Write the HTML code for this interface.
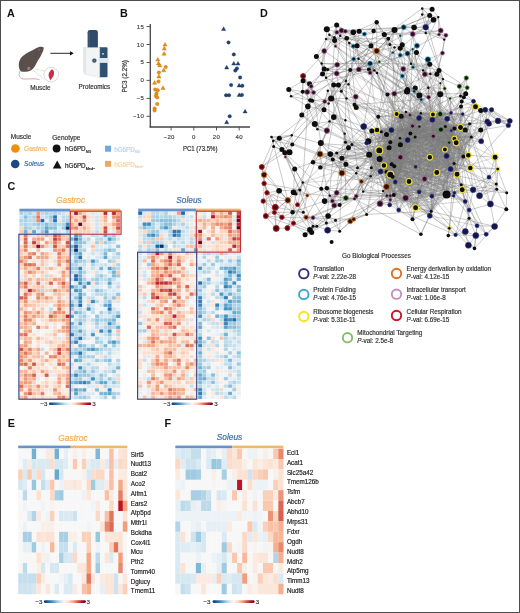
<!DOCTYPE html><html><head><meta charset="utf-8"><style>html,body{margin:0;padding:0;background:#fff;}svg{display:block;filter:blur(0.3px);}</style></head><body>
<svg width="520" height="613" viewBox="0 0 520 613" font-family='"Liberation Sans", sans-serif'>
<defs>
<linearGradient id="cb" x1="0" x2="1" y1="0" y2="0">
<stop offset="0.00" stop-color="#053061"/>
<stop offset="0.10" stop-color="#2166ac"/>
<stop offset="0.20" stop-color="#4393c3"/>
<stop offset="0.30" stop-color="#92c5de"/>
<stop offset="0.40" stop-color="#d1e5f0"/>
<stop offset="0.50" stop-color="#f7f7f7"/>
<stop offset="0.60" stop-color="#fddbc7"/>
<stop offset="0.70" stop-color="#f4a582"/>
<stop offset="0.80" stop-color="#d6604d"/>
<stop offset="0.90" stop-color="#b2182b"/>
<stop offset="1.00" stop-color="#67001f"/>
</linearGradient>
</defs>
<rect x="0" y="0" width="520" height="613" fill="#fff"/>
<text x="7" y="17" font-size="10.8" fill="#111" font-weight="bold" font-style="normal" text-anchor="start" >A</text>
<text x="120" y="17" font-size="10.8" fill="#111" font-weight="bold" font-style="normal" text-anchor="start" >B</text>
<text x="7.4" y="189.5" font-size="10.8" fill="#111" font-weight="bold" font-style="normal" text-anchor="start" >C</text>
<text x="260" y="17" font-size="10.8" fill="#111" font-weight="bold" font-style="normal" text-anchor="start" >D</text>
<text x="7.7" y="426.6" font-size="10.8" fill="#111" font-weight="bold" font-style="normal" text-anchor="start" >E</text>
<text x="164.6" y="426.6" font-size="10.8" fill="#111" font-weight="bold" font-style="normal" text-anchor="start" >F</text>
<path d="M20,71 C18.6,74 19,77 21.7,78.7 C25,79.5 29,78.8 31.8,78.8 C35,78.8 37.5,79 39.5,79.6" fill="none" stroke="#c99098" stroke-width="0.8"/>
<path d="M33.2,70.3 L44.5,79.5 M34.5,69 L45,71" stroke="#c8c8c8" stroke-width="0.5" fill="none"/>
<path d="M43.8,47.6 C42.5,46.2 39.5,46.3 36.5,48 C32,50.5 26.5,53 22.8,56 C19.8,58.5 18.6,62 18.8,65.5 C19,68.5 19.6,70.6 21.2,71.4 C24,72.2 28.5,71.6 31.2,70.2 C33.4,69 34.8,66.8 36.3,63.6 C37.8,60.6 39.6,58.2 41,55.6 C42.4,53 43.5,50.6 43.8,47.6 Z" fill="#5b4f4b"/>
<path d="M39.2,48.2 C38.2,49.2 38,50.6 38.8,51.4 C39.8,51 40.4,49.8 39.2,48.2 Z" fill="#7a6a66"/>
<circle cx="28.8" cy="68.4" r="1.7" fill="#9a7d82"/>
<circle cx="41" cy="53.8" r="0.7" fill="#8a7a78"/>
<circle cx="51.2" cy="74.6" r="7.3" fill="#fff" stroke="#cfc8c8" stroke-width="0.7"/>
<path d="M52,69.2 C54,70 54.6,73 53.6,75.6 C52.6,77.8 51.2,79 50.3,80.6 C49.8,78.2 48.2,76.6 48.6,74.2 C49,72 50.4,70.4 52,69.2 Z" fill="#cc2a46"/>
<text x="30.2" y="90" font-size="6.4" fill="#333" stroke="#333" stroke-width="0.18" font-weight="normal" font-style="normal" text-anchor="start" >Muscle</text>
<line x1="50.4" y1="53.3" x2="71" y2="53.3" stroke="#111" stroke-width="0.9"/>
<path d="M70,51.2 L73.8,53.3 L70,55.4 Z" fill="#111"/>
<path d="M87.6,32.2 Q87.6,30.1 90,30.1 L95.6,30.1 Q97.9,30.1 97.9,32.2 L97.9,48.2 L87.6,48.2 Z" fill="#2f4b6b"/>
<rect x="88.6" y="31.5" width="1.2" height="16" fill="#4a6686" opacity="0.6"/>
<path d="M99.2,47.2 L106.5,47.2 Q107.5,47.2 107.5,48.2 L107.5,76.2 Q107.5,77.2 106.5,77.2 L99.2,77.2 Z" fill="#2f5272"/>
<path d="M83.6,47.6 L99.7,47.6 L99.7,77.2 L86,74.4 Q83.6,73.8 83.6,71.6 Z" fill="#f3f4f6" stroke="#cfd3d8" stroke-width="0.4"/>
<path d="M83.6,47.6 L86,47.6 L86,74.4 Q83.6,73.8 83.6,71.6 Z" fill="#e2e5e9"/>
<rect x="99.3" y="58" width="9.4" height="4.9" fill="#e4e7ec"/>
<rect x="102" y="53.2" width="2" height="1.3" fill="#d8dde3"/>
<circle cx="94.3" cy="60.6" r="2.2" fill="#3c4c5e" stroke="#9fb0c0" stroke-width="0.5"/>
<circle cx="94.3" cy="60.6" r="0.8" fill="#6f8196"/>
<text x="78.6" y="89.3" font-size="6.3" fill="#333" stroke="#333" stroke-width="0.18" font-weight="normal" font-style="normal" text-anchor="start" >Proteomics</text>
<line x1="150.3" y1="24" x2="150.3" y2="127.6" stroke="#444" stroke-width="1.3"/>
<line x1="149.7" y1="127" x2="250" y2="127" stroke="#444" stroke-width="1.3"/>
<line x1="146.5" y1="26.6" x2="150" y2="26.6" stroke="#444" stroke-width="0.9"/>
<text x="144" y="28.55000000000001" font-size="6.0" fill="#444" stroke="#444" stroke-width="0.18" font-weight="normal" font-style="normal" text-anchor="end" letter-spacing="0.25">15</text>
<line x1="146.5" y1="44.5" x2="150" y2="44.5" stroke="#444" stroke-width="0.9"/>
<text x="144" y="46.50000000000001" font-size="6.0" fill="#444" stroke="#444" stroke-width="0.18" font-weight="normal" font-style="normal" text-anchor="end" letter-spacing="0.25">10</text>
<line x1="146.5" y1="62.5" x2="150" y2="62.5" stroke="#444" stroke-width="0.9"/>
<text x="144" y="64.45" font-size="6.0" fill="#444" stroke="#444" stroke-width="0.18" font-weight="normal" font-style="normal" text-anchor="end" letter-spacing="0.25">5</text>
<line x1="146.5" y1="80.4" x2="150" y2="80.4" stroke="#444" stroke-width="0.9"/>
<text x="144" y="82.4" font-size="6.0" fill="#444" stroke="#444" stroke-width="0.18" font-weight="normal" font-style="normal" text-anchor="end" letter-spacing="0.25">0</text>
<line x1="146.5" y1="98.4" x2="150" y2="98.4" stroke="#444" stroke-width="0.9"/>
<text x="144" y="100.35000000000001" font-size="6.0" fill="#444" stroke="#444" stroke-width="0.18" font-weight="normal" font-style="normal" text-anchor="end" letter-spacing="0.25">&#8722;5</text>
<line x1="146.5" y1="116.3" x2="150" y2="116.3" stroke="#444" stroke-width="0.9"/>
<text x="144" y="118.30000000000001" font-size="6.0" fill="#444" stroke="#444" stroke-width="0.18" font-weight="normal" font-style="normal" text-anchor="end" letter-spacing="0.25">&#8722;10</text>
<line x1="171.1" y1="127" x2="171.1" y2="130.4" stroke="#444" stroke-width="0.9"/>
<text x="174.65000000000003" y="139.3" font-size="6.0" fill="#444" stroke="#444" stroke-width="0.18" font-weight="normal" font-style="normal" text-anchor="end" letter-spacing="0.25">&#8722;20</text>
<line x1="193.8" y1="127" x2="193.8" y2="130.4" stroke="#444" stroke-width="0.9"/>
<text x="195.57500000000002" y="139.3" font-size="6.0" fill="#444" stroke="#444" stroke-width="0.18" font-weight="normal" font-style="normal" text-anchor="end" letter-spacing="0.25">0</text>
<line x1="216.5" y1="127" x2="216.5" y2="130.4" stroke="#444" stroke-width="0.9"/>
<text x="220.05" y="139.3" font-size="6.0" fill="#444" stroke="#444" stroke-width="0.18" font-weight="normal" font-style="normal" text-anchor="end" letter-spacing="0.25">20</text>
<line x1="239.2" y1="127" x2="239.2" y2="130.4" stroke="#444" stroke-width="0.9"/>
<text x="242.75000000000003" y="139.3" font-size="6.0" fill="#444" stroke="#444" stroke-width="0.18" font-weight="normal" font-style="normal" text-anchor="end" letter-spacing="0.25">40</text>
<text x="0" y="0" font-size="7.3" fill="#333" stroke="#333" stroke-width="0.2" transform="translate(182.9,151.1) scale(0.83,1)">PC1 (73.5%)</text>
<text x="0" y="0" font-size="7.3" fill="#333" stroke="#333" stroke-width="0.2" text-anchor="middle" transform="translate(126.9,76.4) rotate(-90) scale(0.86,1)">PC3 (2.2%)</text>
<path d="M162.90,46.10 L167.10,46.10 L165.00,42.40 Z" fill="#ec8f0e" stroke="#b86a10" stroke-width="0.35"/>
<path d="M162.20,50.00 L166.40,50.00 L164.30,46.30 Z" fill="#ec8f0e" stroke="#b86a10" stroke-width="0.35"/>
<path d="M162.00,55.20 L166.20,55.20 L164.10,51.50 Z" fill="#ec8f0e" stroke="#b86a10" stroke-width="0.35"/>
<path d="M155.70,61.10 L159.90,61.10 L157.80,57.40 Z" fill="#ec8f0e" stroke="#b86a10" stroke-width="0.35"/>
<path d="M156.40,65.00 L160.60,65.00 L158.50,61.30 Z" fill="#ec8f0e" stroke="#b86a10" stroke-width="0.35"/>
<path d="M157.70,66.90 L161.90,66.90 L159.80,63.20 Z" fill="#ec8f0e" stroke="#b86a10" stroke-width="0.35"/>
<circle cx="165.7" cy="67.1" r="1.75" fill="#ec8f0e" stroke="#b86a10" stroke-width="0.35"/>
<path d="M161.60,71.80 L165.80,71.80 L163.70,68.10 Z" fill="#ec8f0e" stroke="#b86a10" stroke-width="0.35"/>
<circle cx="158.9" cy="72.6" r="1.75" fill="#ec8f0e" stroke="#b86a10" stroke-width="0.35"/>
<path d="M156.80,78.00 L161.00,78.00 L158.90,74.30 Z" fill="#ec8f0e" stroke="#b86a10" stroke-width="0.35"/>
<circle cx="158.5" cy="81.5" r="1.75" fill="#ec8f0e" stroke="#b86a10" stroke-width="0.35"/>
<path d="M152.50,84.30 L156.70,84.30 L154.60,80.60 Z" fill="#ec8f0e" stroke="#b86a10" stroke-width="0.35"/>
<path d="M160.90,89.50 L165.10,89.50 L163.00,85.80 Z" fill="#ec8f0e" stroke="#b86a10" stroke-width="0.35"/>
<circle cx="155.2" cy="89.6" r="1.75" fill="#ec8f0e" stroke="#b86a10" stroke-width="0.35"/>
<circle cx="157.8" cy="90.2" r="1.75" fill="#ec8f0e" stroke="#b86a10" stroke-width="0.35"/>
<circle cx="156.5" cy="93.5" r="1.75" fill="#ec8f0e" stroke="#b86a10" stroke-width="0.35"/>
<circle cx="155.9" cy="96.0" r="1.75" fill="#ec8f0e" stroke="#b86a10" stroke-width="0.35"/>
<circle cx="157.2" cy="97.4" r="1.75" fill="#ec8f0e" stroke="#b86a10" stroke-width="0.35"/>
<circle cx="157.2" cy="104.0" r="1.75" fill="#ec8f0e" stroke="#b86a10" stroke-width="0.35"/>
<circle cx="154.6" cy="108.5" r="1.75" fill="#ec8f0e" stroke="#b86a10" stroke-width="0.35"/>
<circle cx="154.6" cy="110.4" r="1.75" fill="#ec8f0e" stroke="#b86a10" stroke-width="0.35"/>
<path d="M221.50,30.50 L225.70,30.50 L223.60,26.80 Z" fill="#1d4577" stroke="#10284a" stroke-width="0.35"/>
<circle cx="228.5" cy="42.4" r="1.75" fill="#1d4577" stroke="#10284a" stroke-width="0.35"/>
<circle cx="233.8" cy="54.4" r="1.75" fill="#1d4577" stroke="#10284a" stroke-width="0.35"/>
<path d="M231.70,65.10 L235.90,65.10 L233.80,61.40 Z" fill="#1d4577" stroke="#10284a" stroke-width="0.35"/>
<path d="M235.90,65.10 L240.10,65.10 L238.00,61.40 Z" fill="#1d4577" stroke="#10284a" stroke-width="0.35"/>
<path d="M224.60,69.00 L228.80,69.00 L226.70,65.30 Z" fill="#1d4577" stroke="#10284a" stroke-width="0.35"/>
<circle cx="236.9" cy="68.4" r="1.75" fill="#1d4577" stroke="#10284a" stroke-width="0.35"/>
<circle cx="235.3" cy="70.6" r="1.75" fill="#1d4577" stroke="#10284a" stroke-width="0.35"/>
<circle cx="240.1" cy="77.4" r="1.75" fill="#1d4577" stroke="#10284a" stroke-width="0.35"/>
<circle cx="231.1" cy="85.1" r="1.75" fill="#1d4577" stroke="#10284a" stroke-width="0.35"/>
<path d="M237.10,87.00 L241.30,87.00 L239.20,83.30 Z" fill="#1d4577" stroke="#10284a" stroke-width="0.35"/>
<circle cx="242.3" cy="85.8" r="1.75" fill="#1d4577" stroke="#10284a" stroke-width="0.35"/>
<circle cx="226.1" cy="95.3" r="1.75" fill="#1d4577" stroke="#10284a" stroke-width="0.35"/>
<circle cx="229.0" cy="95.3" r="1.75" fill="#1d4577" stroke="#10284a" stroke-width="0.35"/>
<path d="M237.10,96.50 L241.30,96.50 L239.20,92.80 Z" fill="#1d4577" stroke="#10284a" stroke-width="0.35"/>
<circle cx="241.9" cy="95.0" r="1.75" fill="#1d4577" stroke="#10284a" stroke-width="0.35"/>
<path d="M243.00,113.00 L247.20,113.00 L245.10,109.30 Z" fill="#1d4577" stroke="#10284a" stroke-width="0.35"/>
<circle cx="229.7" cy="116.3" r="1.75" fill="#1d4577" stroke="#10284a" stroke-width="0.35"/>
<path d="M224.60,123.70 L228.80,123.70 L226.70,120.00 Z" fill="#1d4577" stroke="#10284a" stroke-width="0.35"/>
<text x="10.8" y="139.2" font-size="6.5" fill="#333" stroke="#333" stroke-width="0.18" font-weight="normal" font-style="normal" text-anchor="start" >Muscle</text>
<text x="52.3" y="139.5" font-size="6.5" fill="#333" stroke="#333" stroke-width="0.18" font-weight="normal" font-style="normal" text-anchor="start" >Genotype</text>
<circle cx="15.4" cy="148.5" r="4.3" fill="#f0900a"/>
<text x="24" y="150.8" font-size="6.6" fill="#f3b462" stroke="#f3b462" stroke-width="0.18" font-weight="normal" font-style="italic" text-anchor="start" >Gastroc</text>
<circle cx="15.2" cy="164" r="4.3" fill="#1b4a84"/>
<text x="24" y="165.9" font-size="6.6" fill="#3b6aa3" stroke="#3b6aa3" stroke-width="0.18" font-weight="normal" font-style="italic" text-anchor="start" >Soleus</text>
<circle cx="56.6" cy="148.5" r="3.9" fill="#111"/>
<path d="M52.8,168.5 L61.6,168.5 L57.2,160.6 Z" fill="#111"/>
<text x="65" y="150.8" font-size="6.3" fill="#222" stroke="#222" stroke-width="0.18">hG6PD<tspan font-size="3.8" dy="1.8">ND</tspan></text>
<text x="65" y="167.7" font-size="6.3" fill="#222" stroke="#222" stroke-width="0.18">hG6PD<tspan font-size="3.8" dy="1.8">Med&#8722;</tspan></text>
<rect x="105" y="145.7" width="6.1" height="6" fill="#6fa8dc"/>
<text x="114.2" y="151.5" font-size="6.3" fill="#b9d1ea" stroke="#b9d1ea" stroke-width="0.18">hG6PD<tspan font-size="3.8" dy="1.8">ND</tspan></text>
<rect x="105" y="160.9" width="6.1" height="5.9" fill="#efa862"/>
<text x="114.2" y="166.6" font-size="6.3" fill="#f6d29c" stroke="#f6d29c" stroke-width="0.18">hG6PD<tspan font-size="3.8" dy="1.8">Med&#8722;</tspan></text>
<style>.h1{width:4.26px;height:3.74px}</style>
<rect class="h1" x="19.4" y="211.5" fill="#abd2e5"/>
<rect class="h1" x="23.6" y="211.5" fill="#bcdaea"/>
<rect class="h1" x="27.8" y="211.5" fill="#abd2e5"/>
<rect class="h1" x="32.0" y="211.5" fill="#cde3ef"/>
<rect class="h1" x="36.2" y="211.5" fill="#f09c7b"/>
<rect class="h1" x="40.4" y="211.5" fill="#bcdaea"/>
<rect class="h1" x="44.6" y="211.5" fill="#abd2e5"/>
<rect class="h1" x="48.8" y="211.5" fill="#bcdaea"/>
<rect class="h1" x="53.0" y="211.5" fill="#abd2e5"/>
<rect class="h1" x="57.2" y="211.5" fill="#bcdaea"/>
<rect class="h1" x="61.4" y="211.5" fill="#cde3ef"/>
<rect class="h1" x="65.6" y="211.5" fill="#fce1d1"/>
<rect class="h1" x="69.8" y="211.5" fill="#fddbc7"/>
<rect class="h1" x="74.0" y="211.5" fill="#b2182b"/>
<rect class="h1" x="78.2" y="211.5" fill="#f4a582"/>
<rect class="h1" x="82.4" y="211.5" fill="#fbceb6"/>
<rect class="h1" x="86.6" y="211.5" fill="#fae9df"/>
<rect class="h1" x="90.8" y="211.5" fill="#daeaf2"/>
<rect class="h1" x="95.0" y="211.5" fill="#e4eef4"/>
<rect class="h1" x="99.2" y="211.5" fill="#fce2d3"/>
<rect class="h1" x="103.4" y="211.5" fill="#bb2a34"/>
<rect class="h1" x="107.6" y="211.5" fill="#f7f7f7"/>
<rect class="h1" x="111.8" y="211.5" fill="#bb2a34"/>
<rect class="h1" x="116.0" y="211.5" fill="#f4a582"/>
<rect class="h1" x="19.4" y="215.2" fill="#cde3ef"/>
<rect class="h1" x="23.6" y="215.2" fill="#87beda"/>
<rect class="h1" x="27.8" y="215.2" fill="#bcdaea"/>
<rect class="h1" x="32.0" y="215.2" fill="#abd2e5"/>
<rect class="h1" x="36.2" y="215.2" fill="#e0775f"/>
<rect class="h1" x="40.4" y="215.2" fill="#cde3ef"/>
<rect class="h1" x="44.6" y="215.2" fill="#bcdaea"/>
<rect class="h1" x="48.8" y="215.2" fill="#9ac9e0"/>
<rect class="h1" x="53.0" y="215.2" fill="#2a72b2"/>
<rect class="h1" x="57.2" y="215.2" fill="#e3edf3"/>
<rect class="h1" x="61.4" y="215.2" fill="#bcdaea"/>
<rect class="h1" x="65.6" y="215.2" fill="#bcdaea"/>
<rect class="h1" x="69.8" y="215.2" fill="#f6b393"/>
<rect class="h1" x="74.0" y="215.2" fill="#fbceb6"/>
<rect class="h1" x="78.2" y="215.2" fill="#fbceb6"/>
<rect class="h1" x="82.4" y="215.2" fill="#cd4e44"/>
<rect class="h1" x="86.6" y="215.2" fill="#fddbc7"/>
<rect class="h1" x="90.8" y="215.2" fill="#fce2d3"/>
<rect class="h1" x="95.0" y="215.2" fill="#d1e5f0"/>
<rect class="h1" x="99.2" y="215.2" fill="#fddbc7"/>
<rect class="h1" x="103.4" y="215.2" fill="#f4a582"/>
<rect class="h1" x="107.6" y="215.2" fill="#f7f7f7"/>
<rect class="h1" x="111.8" y="215.2" fill="#ec9475"/>
<rect class="h1" x="116.0" y="215.2" fill="#e58268"/>
<rect class="h1" x="19.4" y="218.9" fill="#abd2e5"/>
<rect class="h1" x="23.6" y="218.9" fill="#abd2e5"/>
<rect class="h1" x="27.8" y="218.9" fill="#bcdaea"/>
<rect class="h1" x="32.0" y="218.9" fill="#bcdaea"/>
<rect class="h1" x="36.2" y="218.9" fill="#e8896d"/>
<rect class="h1" x="40.4" y="218.9" fill="#2166ac"/>
<rect class="h1" x="44.6" y="218.9" fill="#e3edf3"/>
<rect class="h1" x="48.8" y="218.9" fill="#abd2e5"/>
<rect class="h1" x="53.0" y="218.9" fill="#2a72b2"/>
<rect class="h1" x="57.2" y="218.9" fill="#fce1d1"/>
<rect class="h1" x="61.4" y="218.9" fill="#bcdaea"/>
<rect class="h1" x="65.6" y="218.9" fill="#abd2e5"/>
<rect class="h1" x="69.8" y="218.9" fill="#fddbc7"/>
<rect class="h1" x="74.0" y="218.9" fill="#f4a582"/>
<rect class="h1" x="78.2" y="218.9" fill="#fbceb6"/>
<rect class="h1" x="82.4" y="218.9" fill="#ec9475"/>
<rect class="h1" x="86.6" y="218.9" fill="#fce2d3"/>
<rect class="h1" x="90.8" y="218.9" fill="#e4eef4"/>
<rect class="h1" x="95.0" y="218.9" fill="#d1e5f0"/>
<rect class="h1" x="99.2" y="218.9" fill="#fddbc7"/>
<rect class="h1" x="103.4" y="218.9" fill="#f6b393"/>
<rect class="h1" x="107.6" y="218.9" fill="#f7f7f7"/>
<rect class="h1" x="111.8" y="218.9" fill="#fbceb6"/>
<rect class="h1" x="116.0" y="218.9" fill="#de715a"/>
<rect class="h1" x="19.4" y="222.5" fill="#bcdaea"/>
<rect class="h1" x="23.6" y="222.5" fill="#abd2e5"/>
<rect class="h1" x="27.8" y="222.5" fill="#bcdaea"/>
<rect class="h1" x="32.0" y="222.5" fill="#abd2e5"/>
<rect class="h1" x="36.2" y="222.5" fill="#9ac9e0"/>
<rect class="h1" x="40.4" y="222.5" fill="#abd2e5"/>
<rect class="h1" x="44.6" y="222.5" fill="#87beda"/>
<rect class="h1" x="48.8" y="222.5" fill="#abd2e5"/>
<rect class="h1" x="53.0" y="222.5" fill="#9ac9e0"/>
<rect class="h1" x="57.2" y="222.5" fill="#bcdaea"/>
<rect class="h1" x="61.4" y="222.5" fill="#abd2e5"/>
<rect class="h1" x="65.6" y="222.5" fill="#3c8abe"/>
<rect class="h1" x="69.8" y="222.5" fill="#f4a582"/>
<rect class="h1" x="74.0" y="222.5" fill="#fbceb6"/>
<rect class="h1" x="78.2" y="222.5" fill="#67001f"/>
<rect class="h1" x="82.4" y="222.5" fill="#fbceb6"/>
<rect class="h1" x="86.6" y="222.5" fill="#fddbc7"/>
<rect class="h1" x="90.8" y="222.5" fill="#fae9df"/>
<rect class="h1" x="95.0" y="222.5" fill="#d1e5f0"/>
<rect class="h1" x="99.2" y="222.5" fill="#fce2d3"/>
<rect class="h1" x="103.4" y="222.5" fill="#fbceb6"/>
<rect class="h1" x="107.6" y="222.5" fill="#fddbc7"/>
<rect class="h1" x="111.8" y="222.5" fill="#f4a582"/>
<rect class="h1" x="116.0" y="222.5" fill="#e58268"/>
<rect class="h1" x="19.4" y="226.2" fill="#fcd7c2"/>
<rect class="h1" x="23.6" y="226.2" fill="#9ac9e0"/>
<rect class="h1" x="27.8" y="226.2" fill="#abd2e5"/>
<rect class="h1" x="32.0" y="226.2" fill="#cde3ef"/>
<rect class="h1" x="36.2" y="226.2" fill="#abd2e5"/>
<rect class="h1" x="40.4" y="226.2" fill="#abd2e5"/>
<rect class="h1" x="44.6" y="226.2" fill="#5da4cc"/>
<rect class="h1" x="48.8" y="226.2" fill="#87beda"/>
<rect class="h1" x="53.0" y="226.2" fill="#87beda"/>
<rect class="h1" x="57.2" y="226.2" fill="#d9e9f1"/>
<rect class="h1" x="61.4" y="226.2" fill="#9ac9e0"/>
<rect class="h1" x="65.6" y="226.2" fill="#053061"/>
<rect class="h1" x="69.8" y="226.2" fill="#ec9475"/>
<rect class="h1" x="74.0" y="226.2" fill="#e58268"/>
<rect class="h1" x="78.2" y="226.2" fill="#fbceb6"/>
<rect class="h1" x="82.4" y="226.2" fill="#f4a582"/>
<rect class="h1" x="86.6" y="226.2" fill="#fbceb6"/>
<rect class="h1" x="90.8" y="226.2" fill="#fae9df"/>
<rect class="h1" x="95.0" y="226.2" fill="#d1e5f0"/>
<rect class="h1" x="99.2" y="226.2" fill="#fddbc7"/>
<rect class="h1" x="103.4" y="226.2" fill="#cd4e44"/>
<rect class="h1" x="107.6" y="226.2" fill="#fae9df"/>
<rect class="h1" x="111.8" y="226.2" fill="#fbceb6"/>
<rect class="h1" x="116.0" y="226.2" fill="#cd4e44"/>
<rect class="h1" x="19.4" y="229.9" fill="#fac9b0"/>
<rect class="h1" x="23.6" y="229.9" fill="#72b1d3"/>
<rect class="h1" x="27.8" y="229.9" fill="#fcd7c2"/>
<rect class="h1" x="32.0" y="229.9" fill="#5da4cc"/>
<rect class="h1" x="36.2" y="229.9" fill="#d9e9f1"/>
<rect class="h1" x="40.4" y="229.9" fill="#9ac9e0"/>
<rect class="h1" x="44.6" y="229.9" fill="#4896c5"/>
<rect class="h1" x="48.8" y="229.9" fill="#e3edf3"/>
<rect class="h1" x="53.0" y="229.9" fill="#bcdaea"/>
<rect class="h1" x="57.2" y="229.9" fill="#cde3ef"/>
<rect class="h1" x="61.4" y="229.9" fill="#e3edf3"/>
<rect class="h1" x="65.6" y="229.9" fill="#abd2e5"/>
<rect class="h1" x="69.8" y="229.9" fill="#fae9df"/>
<rect class="h1" x="74.0" y="229.9" fill="#fbceb6"/>
<rect class="h1" x="78.2" y="229.9" fill="#fbceb6"/>
<rect class="h1" x="82.4" y="229.9" fill="#fbceb6"/>
<rect class="h1" x="86.6" y="229.9" fill="#fbceb6"/>
<rect class="h1" x="90.8" y="229.9" fill="#daeaf2"/>
<rect class="h1" x="95.0" y="229.9" fill="#c1ddec"/>
<rect class="h1" x="99.2" y="229.9" fill="#fce2d3"/>
<rect class="h1" x="103.4" y="229.9" fill="#cd4e44"/>
<rect class="h1" x="107.6" y="229.9" fill="#f8f0eb"/>
<rect class="h1" x="111.8" y="229.9" fill="#daeaf2"/>
<rect class="h1" x="116.0" y="229.9" fill="#f4a582"/>
<rect class="h1" x="19.4" y="233.6" fill="#fce1d1"/>
<rect class="h1" x="23.6" y="233.6" fill="#e0775f"/>
<rect class="h1" x="27.8" y="233.6" fill="#fcd7c2"/>
<rect class="h1" x="32.0" y="233.6" fill="#d9e9f1"/>
<rect class="h1" x="36.2" y="233.6" fill="#fac9b0"/>
<rect class="h1" x="40.4" y="233.6" fill="#fac9b0"/>
<rect class="h1" x="44.6" y="233.6" fill="#f5ac8b"/>
<rect class="h1" x="48.8" y="233.6" fill="#fac9b0"/>
<rect class="h1" x="53.0" y="233.6" fill="#cf5246"/>
<rect class="h1" x="57.2" y="233.6" fill="#e0775f"/>
<rect class="h1" x="61.4" y="233.6" fill="#f8bb9e"/>
<rect class="h1" x="65.6" y="233.6" fill="#fac9b0"/>
<rect class="h1" x="69.8" y="233.6" fill="#e5eef4"/>
<rect class="h1" x="74.0" y="233.6" fill="#4796c4"/>
<rect class="h1" x="78.2" y="233.6" fill="#76b3d5"/>
<rect class="h1" x="82.4" y="233.6" fill="#e2edf3"/>
<rect class="h1" x="86.6" y="233.6" fill="#faeae0"/>
<rect class="h1" x="90.8" y="233.6" fill="#c0dceb"/>
<rect class="h1" x="95.0" y="233.6" fill="#c7e0ed"/>
<rect class="h1" x="99.2" y="233.6" fill="#dbeaf2"/>
<rect class="h1" x="103.4" y="233.6" fill="#61a6cd"/>
<rect class="h1" x="107.6" y="233.6" fill="#b8d8e9"/>
<rect class="h1" x="111.8" y="233.6" fill="#9ac9e0"/>
<rect class="h1" x="116.0" y="233.6" fill="#e1edf3"/>
<rect class="h1" x="19.4" y="237.3" fill="#fce1d1"/>
<rect class="h1" x="23.6" y="237.3" fill="#d86551"/>
<rect class="h1" x="27.8" y="237.3" fill="#f7f7f7"/>
<rect class="h1" x="32.0" y="237.3" fill="#f5ac8b"/>
<rect class="h1" x="36.2" y="237.3" fill="#f09c7b"/>
<rect class="h1" x="40.4" y="237.3" fill="#f09c7b"/>
<rect class="h1" x="44.6" y="237.3" fill="#f7f7f7"/>
<rect class="h1" x="48.8" y="237.3" fill="#fcd7c2"/>
<rect class="h1" x="53.0" y="237.3" fill="#c53e3d"/>
<rect class="h1" x="57.2" y="237.3" fill="#e0775f"/>
<rect class="h1" x="61.4" y="237.3" fill="#fac9b0"/>
<rect class="h1" x="65.6" y="237.3" fill="#f8bb9e"/>
<rect class="h1" x="69.8" y="237.3" fill="#7bb7d6"/>
<rect class="h1" x="74.0" y="237.3" fill="#1f63a7"/>
<rect class="h1" x="78.2" y="237.3" fill="#74b2d4"/>
<rect class="h1" x="82.4" y="237.3" fill="#d0e5f0"/>
<rect class="h1" x="86.6" y="237.3" fill="#b7d8e8"/>
<rect class="h1" x="90.8" y="237.3" fill="#f3f5f6"/>
<rect class="h1" x="95.0" y="237.3" fill="#bcdaea"/>
<rect class="h1" x="99.2" y="237.3" fill="#b3d6e8"/>
<rect class="h1" x="103.4" y="237.3" fill="#d8e8f1"/>
<rect class="h1" x="107.6" y="237.3" fill="#4f9ac7"/>
<rect class="h1" x="111.8" y="237.3" fill="#9ac9e0"/>
<rect class="h1" x="116.0" y="237.3" fill="#d3e6f0"/>
<rect class="h1" x="19.4" y="240.9" fill="#f7f7f7"/>
<rect class="h1" x="23.6" y="240.9" fill="#d86551"/>
<rect class="h1" x="27.8" y="240.9" fill="#d9e9f1"/>
<rect class="h1" x="32.0" y="240.9" fill="#c53e3d"/>
<rect class="h1" x="36.2" y="240.9" fill="#f8bb9e"/>
<rect class="h1" x="40.4" y="240.9" fill="#f7f7f7"/>
<rect class="h1" x="44.6" y="240.9" fill="#f09c7b"/>
<rect class="h1" x="48.8" y="240.9" fill="#fac9b0"/>
<rect class="h1" x="53.0" y="240.9" fill="#e0775f"/>
<rect class="h1" x="57.2" y="240.9" fill="#f8bb9e"/>
<rect class="h1" x="61.4" y="240.9" fill="#f7f7f7"/>
<rect class="h1" x="65.6" y="240.9" fill="#cf5246"/>
<rect class="h1" x="69.8" y="240.9" fill="#e5eff4"/>
<rect class="h1" x="74.0" y="240.9" fill="#72b1d3"/>
<rect class="h1" x="78.2" y="240.9" fill="#87beda"/>
<rect class="h1" x="82.4" y="240.9" fill="#9bcae1"/>
<rect class="h1" x="86.6" y="240.9" fill="#dfebf3"/>
<rect class="h1" x="90.8" y="240.9" fill="#fbe6da"/>
<rect class="h1" x="95.0" y="240.9" fill="#a4cee3"/>
<rect class="h1" x="99.2" y="240.9" fill="#fbcdb6"/>
<rect class="h1" x="103.4" y="240.9" fill="#9ccae1"/>
<rect class="h1" x="107.6" y="240.9" fill="#b8d8e9"/>
<rect class="h1" x="111.8" y="240.9" fill="#cbe2ee"/>
<rect class="h1" x="116.0" y="240.9" fill="#f7f6f6"/>
<rect class="h1" x="19.4" y="244.6" fill="#fcd7c2"/>
<rect class="h1" x="23.6" y="244.6" fill="#e0775f"/>
<rect class="h1" x="27.8" y="244.6" fill="#fcd7c2"/>
<rect class="h1" x="32.0" y="244.6" fill="#f8bb9e"/>
<rect class="h1" x="36.2" y="244.6" fill="#8a0b25"/>
<rect class="h1" x="40.4" y="244.6" fill="#e8896d"/>
<rect class="h1" x="44.6" y="244.6" fill="#fac9b0"/>
<rect class="h1" x="48.8" y="244.6" fill="#d9e9f1"/>
<rect class="h1" x="53.0" y="244.6" fill="#cf5246"/>
<rect class="h1" x="57.2" y="244.6" fill="#fac9b0"/>
<rect class="h1" x="61.4" y="244.6" fill="#fac9b0"/>
<rect class="h1" x="65.6" y="244.6" fill="#e0775f"/>
<rect class="h1" x="69.8" y="244.6" fill="#74b2d4"/>
<rect class="h1" x="74.0" y="244.6" fill="#1c5d9f"/>
<rect class="h1" x="78.2" y="244.6" fill="#9bc9e0"/>
<rect class="h1" x="82.4" y="244.6" fill="#e3eef3"/>
<rect class="h1" x="86.6" y="244.6" fill="#eaf1f5"/>
<rect class="h1" x="90.8" y="244.6" fill="#f9c0a5"/>
<rect class="h1" x="95.0" y="244.6" fill="#d5e7f1"/>
<rect class="h1" x="99.2" y="244.6" fill="#ddebf2"/>
<rect class="h1" x="103.4" y="244.6" fill="#e8f0f4"/>
<rect class="h1" x="107.6" y="244.6" fill="#cce2ef"/>
<rect class="h1" x="111.8" y="244.6" fill="#f9efea"/>
<rect class="h1" x="116.0" y="244.6" fill="#8ec2dd"/>
<rect class="h1" x="19.4" y="248.3" fill="#f9c4a9"/>
<rect class="h1" x="23.6" y="248.3" fill="#e7866a"/>
<rect class="h1" x="27.8" y="248.3" fill="#f9eee8"/>
<rect class="h1" x="32.0" y="248.3" fill="#f7f7f7"/>
<rect class="h1" x="36.2" y="248.3" fill="#f8bb9e"/>
<rect class="h1" x="40.4" y="248.3" fill="#f5f6f7"/>
<rect class="h1" x="44.6" y="248.3" fill="#f3f5f6"/>
<rect class="h1" x="48.8" y="248.3" fill="#ebf1f5"/>
<rect class="h1" x="53.0" y="248.3" fill="#f09b7b"/>
<rect class="h1" x="57.2" y="248.3" fill="#f3a280"/>
<rect class="h1" x="61.4" y="248.3" fill="#e17960"/>
<rect class="h1" x="65.6" y="248.3" fill="#fce1d1"/>
<rect class="h1" x="69.8" y="248.3" fill="#acd2e5"/>
<rect class="h1" x="74.0" y="248.3" fill="#053061"/>
<rect class="h1" x="78.2" y="248.3" fill="#a7cfe4"/>
<rect class="h1" x="82.4" y="248.3" fill="#acd2e5"/>
<rect class="h1" x="86.6" y="248.3" fill="#f4f6f7"/>
<rect class="h1" x="90.8" y="248.3" fill="#fcd8c3"/>
<rect class="h1" x="95.0" y="248.3" fill="#cbe2ee"/>
<rect class="h1" x="99.2" y="248.3" fill="#c8e0ed"/>
<rect class="h1" x="103.4" y="248.3" fill="#a4cee3"/>
<rect class="h1" x="107.6" y="248.3" fill="#83bcd9"/>
<rect class="h1" x="111.8" y="248.3" fill="#9dcbe1"/>
<rect class="h1" x="116.0" y="248.3" fill="#eaf1f5"/>
<rect class="h1" x="19.4" y="252.0" fill="#fbcdb6"/>
<rect class="h1" x="23.6" y="252.0" fill="#fddcc9"/>
<rect class="h1" x="27.8" y="252.0" fill="#ed9676"/>
<rect class="h1" x="32.0" y="252.0" fill="#e37d64"/>
<rect class="h1" x="36.2" y="252.0" fill="#f9ede7"/>
<rect class="h1" x="40.4" y="252.0" fill="#f2a27f"/>
<rect class="h1" x="44.6" y="252.0" fill="#f8bc9f"/>
<rect class="h1" x="48.8" y="252.0" fill="#fce1d2"/>
<rect class="h1" x="53.0" y="252.0" fill="#e2edf3"/>
<rect class="h1" x="57.2" y="252.0" fill="#e27c63"/>
<rect class="h1" x="61.4" y="252.0" fill="#fac9b0"/>
<rect class="h1" x="65.6" y="252.0" fill="#fcd7c1"/>
<rect class="h1" x="69.8" y="252.0" fill="#c3deec"/>
<rect class="h1" x="74.0" y="252.0" fill="#83bcd9"/>
<rect class="h1" x="78.2" y="252.0" fill="#65a8ce"/>
<rect class="h1" x="82.4" y="252.0" fill="#e7f0f4"/>
<rect class="h1" x="86.6" y="252.0" fill="#e5eff4"/>
<rect class="h1" x="90.8" y="252.0" fill="#cee4ef"/>
<rect class="h1" x="95.0" y="252.0" fill="#e5eef4"/>
<rect class="h1" x="99.2" y="252.0" fill="#cde3ef"/>
<rect class="h1" x="103.4" y="252.0" fill="#7ab6d6"/>
<rect class="h1" x="107.6" y="252.0" fill="#f4f6f6"/>
<rect class="h1" x="111.8" y="252.0" fill="#d8e8f1"/>
<rect class="h1" x="116.0" y="252.0" fill="#9fcce2"/>
<rect class="h1" x="19.4" y="255.7" fill="#f8bc9f"/>
<rect class="h1" x="23.6" y="255.7" fill="#ec9374"/>
<rect class="h1" x="27.8" y="255.7" fill="#db6c56"/>
<rect class="h1" x="32.0" y="255.7" fill="#f9ece4"/>
<rect class="h1" x="36.2" y="255.7" fill="#f3a380"/>
<rect class="h1" x="40.4" y="255.7" fill="#f4a683"/>
<rect class="h1" x="44.6" y="255.7" fill="#f4a785"/>
<rect class="h1" x="48.8" y="255.7" fill="#fce2d2"/>
<rect class="h1" x="53.0" y="255.7" fill="#faeae1"/>
<rect class="h1" x="57.2" y="255.7" fill="#ec9374"/>
<rect class="h1" x="61.4" y="255.7" fill="#f8bfa4"/>
<rect class="h1" x="65.6" y="255.7" fill="#f7b698"/>
<rect class="h1" x="69.8" y="255.7" fill="#edf2f5"/>
<rect class="h1" x="74.0" y="255.7" fill="#96c7df"/>
<rect class="h1" x="78.2" y="255.7" fill="#266daf"/>
<rect class="h1" x="82.4" y="255.7" fill="#f8f1ec"/>
<rect class="h1" x="86.6" y="255.7" fill="#e0ecf3"/>
<rect class="h1" x="90.8" y="255.7" fill="#f3f5f6"/>
<rect class="h1" x="95.0" y="255.7" fill="#d5e7f1"/>
<rect class="h1" x="99.2" y="255.7" fill="#cee3ef"/>
<rect class="h1" x="103.4" y="255.7" fill="#5da4cc"/>
<rect class="h1" x="107.6" y="255.7" fill="#e3eef3"/>
<rect class="h1" x="111.8" y="255.7" fill="#c3deec"/>
<rect class="h1" x="116.0" y="255.7" fill="#c6dfed"/>
<rect class="h1" x="19.4" y="259.3" fill="#e7876b"/>
<rect class="h1" x="23.6" y="259.3" fill="#f7b597"/>
<rect class="h1" x="27.8" y="259.3" fill="#eaf1f5"/>
<rect class="h1" x="32.0" y="259.3" fill="#fdddca"/>
<rect class="h1" x="36.2" y="259.3" fill="#e5eff4"/>
<rect class="h1" x="40.4" y="259.3" fill="#f9c4a9"/>
<rect class="h1" x="44.6" y="259.3" fill="#fddac6"/>
<rect class="h1" x="48.8" y="259.3" fill="#f9ece3"/>
<rect class="h1" x="53.0" y="259.3" fill="#fcd7c2"/>
<rect class="h1" x="57.2" y="259.3" fill="#f19d7c"/>
<rect class="h1" x="61.4" y="259.3" fill="#f9c1a6"/>
<rect class="h1" x="65.6" y="259.3" fill="#df755d"/>
<rect class="h1" x="69.8" y="259.3" fill="#d4e6f1"/>
<rect class="h1" x="74.0" y="259.3" fill="#84bcd9"/>
<rect class="h1" x="78.2" y="259.3" fill="#9fcbe2"/>
<rect class="h1" x="82.4" y="259.3" fill="#acd2e5"/>
<rect class="h1" x="86.6" y="259.3" fill="#d3e6f0"/>
<rect class="h1" x="90.8" y="259.3" fill="#4d99c6"/>
<rect class="h1" x="95.0" y="259.3" fill="#b3d6e8"/>
<rect class="h1" x="99.2" y="259.3" fill="#ecf2f5"/>
<rect class="h1" x="103.4" y="259.3" fill="#f6f7f7"/>
<rect class="h1" x="107.6" y="259.3" fill="#a2cde2"/>
<rect class="h1" x="111.8" y="259.3" fill="#bad9e9"/>
<rect class="h1" x="116.0" y="259.3" fill="#fae8dd"/>
<rect class="h1" x="19.4" y="263.0" fill="#fbd0b9"/>
<rect class="h1" x="23.6" y="263.0" fill="#dc6f58"/>
<rect class="h1" x="27.8" y="263.0" fill="#db6c56"/>
<rect class="h1" x="32.0" y="263.0" fill="#e27c63"/>
<rect class="h1" x="36.2" y="263.0" fill="#fae8de"/>
<rect class="h1" x="40.4" y="263.0" fill="#f9c1a6"/>
<rect class="h1" x="44.6" y="263.0" fill="#d8e8f1"/>
<rect class="h1" x="48.8" y="263.0" fill="#f7f7f6"/>
<rect class="h1" x="53.0" y="263.0" fill="#e2edf3"/>
<rect class="h1" x="57.2" y="263.0" fill="#eb9072"/>
<rect class="h1" x="61.4" y="263.0" fill="#f9ece4"/>
<rect class="h1" x="65.6" y="263.0" fill="#f8bc9f"/>
<rect class="h1" x="69.8" y="263.0" fill="#aed3e6"/>
<rect class="h1" x="74.0" y="263.0" fill="#add3e6"/>
<rect class="h1" x="78.2" y="263.0" fill="#d6e7f1"/>
<rect class="h1" x="82.4" y="263.0" fill="#c4deec"/>
<rect class="h1" x="86.6" y="263.0" fill="#f8f1ed"/>
<rect class="h1" x="90.8" y="263.0" fill="#add3e6"/>
<rect class="h1" x="95.0" y="263.0" fill="#d5e7f1"/>
<rect class="h1" x="99.2" y="263.0" fill="#d1e5f0"/>
<rect class="h1" x="103.4" y="263.0" fill="#c8e0ed"/>
<rect class="h1" x="107.6" y="263.0" fill="#e9f0f4"/>
<rect class="h1" x="111.8" y="263.0" fill="#fdddca"/>
<rect class="h1" x="116.0" y="263.0" fill="#b0d4e7"/>
<rect class="h1" x="19.4" y="266.7" fill="#fcd6c1"/>
<rect class="h1" x="23.6" y="266.7" fill="#f5ab89"/>
<rect class="h1" x="27.8" y="266.7" fill="#fcd6c1"/>
<rect class="h1" x="32.0" y="266.7" fill="#f9c3a8"/>
<rect class="h1" x="36.2" y="266.7" fill="#e37d63"/>
<rect class="h1" x="40.4" y="266.7" fill="#fce1d1"/>
<rect class="h1" x="44.6" y="266.7" fill="#fbd1ba"/>
<rect class="h1" x="48.8" y="266.7" fill="#f6b293"/>
<rect class="h1" x="53.0" y="266.7" fill="#fdddcb"/>
<rect class="h1" x="57.2" y="266.7" fill="#f9ede5"/>
<rect class="h1" x="61.4" y="266.7" fill="#fddcc9"/>
<rect class="h1" x="65.6" y="266.7" fill="#e68469"/>
<rect class="h1" x="69.8" y="266.7" fill="#a0cce2"/>
<rect class="h1" x="74.0" y="266.7" fill="#9fcce2"/>
<rect class="h1" x="78.2" y="266.7" fill="#3682ba"/>
<rect class="h1" x="82.4" y="266.7" fill="#d9e9f1"/>
<rect class="h1" x="86.6" y="266.7" fill="#e8f0f4"/>
<rect class="h1" x="90.8" y="266.7" fill="#c6e0ed"/>
<rect class="h1" x="95.0" y="266.7" fill="#e0ecf3"/>
<rect class="h1" x="99.2" y="266.7" fill="#77b4d5"/>
<rect class="h1" x="103.4" y="266.7" fill="#e2edf3"/>
<rect class="h1" x="107.6" y="266.7" fill="#509bc8"/>
<rect class="h1" x="111.8" y="266.7" fill="#99c9e0"/>
<rect class="h1" x="116.0" y="266.7" fill="#b6d7e8"/>
<rect class="h1" x="19.4" y="270.4" fill="#f2f5f6"/>
<rect class="h1" x="23.6" y="270.4" fill="#f9c4aa"/>
<rect class="h1" x="27.8" y="270.4" fill="#e7886c"/>
<rect class="h1" x="32.0" y="270.4" fill="#f5aa88"/>
<rect class="h1" x="36.2" y="270.4" fill="#fcd6c1"/>
<rect class="h1" x="40.4" y="270.4" fill="#f9c4aa"/>
<rect class="h1" x="44.6" y="270.4" fill="#fcdecc"/>
<rect class="h1" x="48.8" y="270.4" fill="#f5f6f7"/>
<rect class="h1" x="53.0" y="270.4" fill="#eff3f5"/>
<rect class="h1" x="57.2" y="270.4" fill="#fcdecd"/>
<rect class="h1" x="61.4" y="270.4" fill="#ee9878"/>
<rect class="h1" x="65.6" y="270.4" fill="#fcd5bf"/>
<rect class="h1" x="69.8" y="270.4" fill="#aad1e5"/>
<rect class="h1" x="74.0" y="270.4" fill="#b4d6e8"/>
<rect class="h1" x="78.2" y="270.4" fill="#77b4d5"/>
<rect class="h1" x="82.4" y="270.4" fill="#aad1e5"/>
<rect class="h1" x="86.6" y="270.4" fill="#e7eff4"/>
<rect class="h1" x="90.8" y="270.4" fill="#fae8dd"/>
<rect class="h1" x="95.0" y="270.4" fill="#cce3ef"/>
<rect class="h1" x="99.2" y="270.4" fill="#e1edf3"/>
<rect class="h1" x="103.4" y="270.4" fill="#f3f5f6"/>
<rect class="h1" x="107.6" y="270.4" fill="#c6e0ed"/>
<rect class="h1" x="111.8" y="270.4" fill="#70b0d2"/>
<rect class="h1" x="116.0" y="270.4" fill="#fac7ae"/>
<rect class="h1" x="19.4" y="274.1" fill="#fae9df"/>
<rect class="h1" x="23.6" y="274.1" fill="#fbccb4"/>
<rect class="h1" x="27.8" y="274.1" fill="#f9eee8"/>
<rect class="h1" x="32.0" y="274.1" fill="#fcd3bc"/>
<rect class="h1" x="36.2" y="274.1" fill="#f8f4f2"/>
<rect class="h1" x="40.4" y="274.1" fill="#fdd8c3"/>
<rect class="h1" x="44.6" y="274.1" fill="#c3deec"/>
<rect class="h1" x="48.8" y="274.1" fill="#fbd1ba"/>
<rect class="h1" x="53.0" y="274.1" fill="#fae8dd"/>
<rect class="h1" x="57.2" y="274.1" fill="#eff3f6"/>
<rect class="h1" x="61.4" y="274.1" fill="#f3a481"/>
<rect class="h1" x="65.6" y="274.1" fill="#fac8af"/>
<rect class="h1" x="69.8" y="274.1" fill="#fce1d2"/>
<rect class="h1" x="74.0" y="274.1" fill="#1f62a7"/>
<rect class="h1" x="78.2" y="274.1" fill="#6eaed2"/>
<rect class="h1" x="82.4" y="274.1" fill="#d6e7f1"/>
<rect class="h1" x="86.6" y="274.1" fill="#f6f6f7"/>
<rect class="h1" x="90.8" y="274.1" fill="#ebf2f5"/>
<rect class="h1" x="95.0" y="274.1" fill="#bcdaea"/>
<rect class="h1" x="99.2" y="274.1" fill="#99c9e0"/>
<rect class="h1" x="103.4" y="274.1" fill="#c7e0ed"/>
<rect class="h1" x="107.6" y="274.1" fill="#e5eff4"/>
<rect class="h1" x="111.8" y="274.1" fill="#7eb9d7"/>
<rect class="h1" x="116.0" y="274.1" fill="#9bcae1"/>
<rect class="h1" x="19.4" y="277.7" fill="#e0ecf3"/>
<rect class="h1" x="23.6" y="277.7" fill="#fbd1ba"/>
<rect class="h1" x="27.8" y="277.7" fill="#f6ae8e"/>
<rect class="h1" x="32.0" y="277.7" fill="#fcdfcd"/>
<rect class="h1" x="36.2" y="277.7" fill="#f6b394"/>
<rect class="h1" x="40.4" y="277.7" fill="#fac7ad"/>
<rect class="h1" x="44.6" y="277.7" fill="#facbb2"/>
<rect class="h1" x="48.8" y="277.7" fill="#fbd1ba"/>
<rect class="h1" x="53.0" y="277.7" fill="#ee9878"/>
<rect class="h1" x="57.2" y="277.7" fill="#f4a784"/>
<rect class="h1" x="61.4" y="277.7" fill="#f6b090"/>
<rect class="h1" x="65.6" y="277.7" fill="#f1f4f6"/>
<rect class="h1" x="69.8" y="277.7" fill="#c0dceb"/>
<rect class="h1" x="74.0" y="277.7" fill="#2065aa"/>
<rect class="h1" x="78.2" y="277.7" fill="#5ea4cc"/>
<rect class="h1" x="82.4" y="277.7" fill="#a8d0e4"/>
<rect class="h1" x="86.6" y="277.7" fill="#e4eef3"/>
<rect class="h1" x="90.8" y="277.7" fill="#aed3e6"/>
<rect class="h1" x="95.0" y="277.7" fill="#99c8e0"/>
<rect class="h1" x="99.2" y="277.7" fill="#bfdceb"/>
<rect class="h1" x="103.4" y="277.7" fill="#bedceb"/>
<rect class="h1" x="107.6" y="277.7" fill="#90c4dd"/>
<rect class="h1" x="111.8" y="277.7" fill="#c2ddec"/>
<rect class="h1" x="116.0" y="277.7" fill="#eef3f5"/>
<rect class="h1" x="19.4" y="281.4" fill="#f4a582"/>
<rect class="h1" x="23.6" y="281.4" fill="#d65f4d"/>
<rect class="h1" x="27.8" y="281.4" fill="#fac9b0"/>
<rect class="h1" x="32.0" y="281.4" fill="#fcdfce"/>
<rect class="h1" x="36.2" y="281.4" fill="#df755d"/>
<rect class="h1" x="40.4" y="281.4" fill="#dceaf2"/>
<rect class="h1" x="44.6" y="281.4" fill="#fcd3bd"/>
<rect class="h1" x="48.8" y="281.4" fill="#d86450"/>
<rect class="h1" x="53.0" y="281.4" fill="#f9eee8"/>
<rect class="h1" x="57.2" y="281.4" fill="#f4a583"/>
<rect class="h1" x="61.4" y="281.4" fill="#d6614e"/>
<rect class="h1" x="65.6" y="281.4" fill="#f9c1a6"/>
<rect class="h1" x="69.8" y="281.4" fill="#f1f4f6"/>
<rect class="h1" x="74.0" y="281.4" fill="#ddebf2"/>
<rect class="h1" x="78.2" y="281.4" fill="#3e8dc0"/>
<rect class="h1" x="82.4" y="281.4" fill="#a9d1e5"/>
<rect class="h1" x="86.6" y="281.4" fill="#3c8abf"/>
<rect class="h1" x="90.8" y="281.4" fill="#fce0cf"/>
<rect class="h1" x="95.0" y="281.4" fill="#a2cde3"/>
<rect class="h1" x="99.2" y="281.4" fill="#d3e6f0"/>
<rect class="h1" x="103.4" y="281.4" fill="#dae9f2"/>
<rect class="h1" x="107.6" y="281.4" fill="#5ea4cc"/>
<rect class="h1" x="111.8" y="281.4" fill="#d8e8f1"/>
<rect class="h1" x="116.0" y="281.4" fill="#d3e6f0"/>
<rect class="h1" x="19.4" y="285.1" fill="#f7b495"/>
<rect class="h1" x="23.6" y="285.1" fill="#e0775f"/>
<rect class="h1" x="27.8" y="285.1" fill="#fce0cf"/>
<rect class="h1" x="32.0" y="285.1" fill="#fbd2bb"/>
<rect class="h1" x="36.2" y="285.1" fill="#fac9b0"/>
<rect class="h1" x="40.4" y="285.1" fill="#f9c3a9"/>
<rect class="h1" x="44.6" y="285.1" fill="#fbe3d4"/>
<rect class="h1" x="48.8" y="285.1" fill="#fce2d3"/>
<rect class="h1" x="53.0" y="285.1" fill="#f8f0ec"/>
<rect class="h1" x="57.2" y="285.1" fill="#fcd5bf"/>
<rect class="h1" x="61.4" y="285.1" fill="#ef9a7a"/>
<rect class="h1" x="65.6" y="285.1" fill="#f7b799"/>
<rect class="h1" x="69.8" y="285.1" fill="#4997c5"/>
<rect class="h1" x="74.0" y="285.1" fill="#93c6de"/>
<rect class="h1" x="78.2" y="285.1" fill="#bddbea"/>
<rect class="h1" x="82.4" y="285.1" fill="#4695c4"/>
<rect class="h1" x="86.6" y="285.1" fill="#f0f4f6"/>
<rect class="h1" x="90.8" y="285.1" fill="#dbeaf2"/>
<rect class="h1" x="95.0" y="285.1" fill="#deebf2"/>
<rect class="h1" x="99.2" y="285.1" fill="#e4eef3"/>
<rect class="h1" x="103.4" y="285.1" fill="#f5f6f7"/>
<rect class="h1" x="107.6" y="285.1" fill="#aad1e5"/>
<rect class="h1" x="111.8" y="285.1" fill="#e6eff4"/>
<rect class="h1" x="116.0" y="285.1" fill="#bfdceb"/>
<rect class="h1" x="19.4" y="288.8" fill="#fae8dd"/>
<rect class="h1" x="23.6" y="288.8" fill="#fbcfb8"/>
<rect class="h1" x="27.8" y="288.8" fill="#b92632"/>
<rect class="h1" x="32.0" y="288.8" fill="#ee9777"/>
<rect class="h1" x="36.2" y="288.8" fill="#f7ba9d"/>
<rect class="h1" x="40.4" y="288.8" fill="#b7d8e9"/>
<rect class="h1" x="44.6" y="288.8" fill="#fbcdb5"/>
<rect class="h1" x="48.8" y="288.8" fill="#facab1"/>
<rect class="h1" x="53.0" y="288.8" fill="#e58368"/>
<rect class="h1" x="57.2" y="288.8" fill="#f6b192"/>
<rect class="h1" x="61.4" y="288.8" fill="#fac8ae"/>
<rect class="h1" x="65.6" y="288.8" fill="#f3a481"/>
<rect class="h1" x="69.8" y="288.8" fill="#e1edf3"/>
<rect class="h1" x="74.0" y="288.8" fill="#4393c3"/>
<rect class="h1" x="78.2" y="288.8" fill="#69abd0"/>
<rect class="h1" x="82.4" y="288.8" fill="#f9eee7"/>
<rect class="h1" x="86.6" y="288.8" fill="#e4eef3"/>
<rect class="h1" x="90.8" y="288.8" fill="#cde3ef"/>
<rect class="h1" x="95.0" y="288.8" fill="#88beda"/>
<rect class="h1" x="99.2" y="288.8" fill="#a9d0e4"/>
<rect class="h1" x="103.4" y="288.8" fill="#cce3ef"/>
<rect class="h1" x="107.6" y="288.8" fill="#e2edf3"/>
<rect class="h1" x="111.8" y="288.8" fill="#d6e8f1"/>
<rect class="h1" x="116.0" y="288.8" fill="#e6eff4"/>
<rect class="h1" x="19.4" y="292.5" fill="#e9f0f4"/>
<rect class="h1" x="23.6" y="292.5" fill="#dd6f59"/>
<rect class="h1" x="27.8" y="292.5" fill="#f5ad8c"/>
<rect class="h1" x="32.0" y="292.5" fill="#fbe4d7"/>
<rect class="h1" x="36.2" y="292.5" fill="#ee9878"/>
<rect class="h1" x="40.4" y="292.5" fill="#ec9374"/>
<rect class="h1" x="44.6" y="292.5" fill="#e7eff4"/>
<rect class="h1" x="48.8" y="292.5" fill="#f9ede6"/>
<rect class="h1" x="53.0" y="292.5" fill="#fac9b1"/>
<rect class="h1" x="57.2" y="292.5" fill="#f8bca0"/>
<rect class="h1" x="61.4" y="292.5" fill="#fcd6c1"/>
<rect class="h1" x="65.6" y="292.5" fill="#fce1d2"/>
<rect class="h1" x="69.8" y="292.5" fill="#bfdceb"/>
<rect class="h1" x="74.0" y="292.5" fill="#d0e5f0"/>
<rect class="h1" x="78.2" y="292.5" fill="#559ec9"/>
<rect class="h1" x="82.4" y="292.5" fill="#a2cde2"/>
<rect class="h1" x="86.6" y="292.5" fill="#f3f5f6"/>
<rect class="h1" x="90.8" y="292.5" fill="#d6e8f1"/>
<rect class="h1" x="95.0" y="292.5" fill="#bcdaea"/>
<rect class="h1" x="99.2" y="292.5" fill="#b5d7e8"/>
<rect class="h1" x="103.4" y="292.5" fill="#b2d5e7"/>
<rect class="h1" x="107.6" y="292.5" fill="#d7e8f1"/>
<rect class="h1" x="111.8" y="292.5" fill="#d4e6f1"/>
<rect class="h1" x="116.0" y="292.5" fill="#90c4dd"/>
<rect class="h1" x="19.4" y="296.1" fill="#d55f4c"/>
<rect class="h1" x="23.6" y="296.1" fill="#dd6f59"/>
<rect class="h1" x="27.8" y="296.1" fill="#fbe7db"/>
<rect class="h1" x="32.0" y="296.1" fill="#f8f3f1"/>
<rect class="h1" x="36.2" y="296.1" fill="#e58267"/>
<rect class="h1" x="40.4" y="296.1" fill="#f8bc9f"/>
<rect class="h1" x="44.6" y="296.1" fill="#ec9374"/>
<rect class="h1" x="48.8" y="296.1" fill="#f8bb9e"/>
<rect class="h1" x="53.0" y="296.1" fill="#f9ede6"/>
<rect class="h1" x="57.2" y="296.1" fill="#f7b99b"/>
<rect class="h1" x="61.4" y="296.1" fill="#e8f0f4"/>
<rect class="h1" x="65.6" y="296.1" fill="#fddcc9"/>
<rect class="h1" x="69.8" y="296.1" fill="#d6e8f1"/>
<rect class="h1" x="74.0" y="296.1" fill="#8bc1dc"/>
<rect class="h1" x="78.2" y="296.1" fill="#3884bb"/>
<rect class="h1" x="82.4" y="296.1" fill="#e2edf3"/>
<rect class="h1" x="86.6" y="296.1" fill="#c6dfed"/>
<rect class="h1" x="90.8" y="296.1" fill="#c3deec"/>
<rect class="h1" x="95.0" y="296.1" fill="#eaf1f5"/>
<rect class="h1" x="99.2" y="296.1" fill="#f9efe9"/>
<rect class="h1" x="103.4" y="296.1" fill="#99c9e0"/>
<rect class="h1" x="107.6" y="296.1" fill="#d0e5f0"/>
<rect class="h1" x="111.8" y="296.1" fill="#8ec2dd"/>
<rect class="h1" x="116.0" y="296.1" fill="#fbd0b9"/>
<rect class="h1" x="19.4" y="299.8" fill="#fbd0b9"/>
<rect class="h1" x="23.6" y="299.8" fill="#e98d6f"/>
<rect class="h1" x="27.8" y="299.8" fill="#fddcc8"/>
<rect class="h1" x="32.0" y="299.8" fill="#fcd3bd"/>
<rect class="h1" x="36.2" y="299.8" fill="#f9c2a7"/>
<rect class="h1" x="40.4" y="299.8" fill="#fcd8c3"/>
<rect class="h1" x="44.6" y="299.8" fill="#faccb4"/>
<rect class="h1" x="48.8" y="299.8" fill="#fcd6c1"/>
<rect class="h1" x="53.0" y="299.8" fill="#fce0d0"/>
<rect class="h1" x="57.2" y="299.8" fill="#f2a07e"/>
<rect class="h1" x="61.4" y="299.8" fill="#f9c2a7"/>
<rect class="h1" x="65.6" y="299.8" fill="#fcdecc"/>
<rect class="h1" x="69.8" y="299.8" fill="#a5cfe3"/>
<rect class="h1" x="74.0" y="299.8" fill="#c7e0ed"/>
<rect class="h1" x="78.2" y="299.8" fill="#4393c3"/>
<rect class="h1" x="82.4" y="299.8" fill="#e4eef3"/>
<rect class="h1" x="86.6" y="299.8" fill="#fcd5bf"/>
<rect class="h1" x="90.8" y="299.8" fill="#3b88bd"/>
<rect class="h1" x="95.0" y="299.8" fill="#b3d6e7"/>
<rect class="h1" x="99.2" y="299.8" fill="#e6eff4"/>
<rect class="h1" x="103.4" y="299.8" fill="#bcdaea"/>
<rect class="h1" x="107.6" y="299.8" fill="#90c4dd"/>
<rect class="h1" x="111.8" y="299.8" fill="#fbe3d4"/>
<rect class="h1" x="116.0" y="299.8" fill="#d7e8f1"/>
<rect class="h1" x="19.4" y="303.5" fill="#fbe3d4"/>
<rect class="h1" x="23.6" y="303.5" fill="#f5aa88"/>
<rect class="h1" x="27.8" y="303.5" fill="#f9c0a5"/>
<rect class="h1" x="32.0" y="303.5" fill="#fac6ad"/>
<rect class="h1" x="36.2" y="303.5" fill="#fcd7c1"/>
<rect class="h1" x="40.4" y="303.5" fill="#fcdecc"/>
<rect class="h1" x="44.6" y="303.5" fill="#fbe5d8"/>
<rect class="h1" x="48.8" y="303.5" fill="#f2f5f6"/>
<rect class="h1" x="53.0" y="303.5" fill="#f9c4a9"/>
<rect class="h1" x="57.2" y="303.5" fill="#eb9172"/>
<rect class="h1" x="61.4" y="303.5" fill="#f6b191"/>
<rect class="h1" x="65.6" y="303.5" fill="#f9c4aa"/>
<rect class="h1" x="69.8" y="303.5" fill="#569fca"/>
<rect class="h1" x="74.0" y="303.5" fill="#b4d6e8"/>
<rect class="h1" x="78.2" y="303.5" fill="#2166ac"/>
<rect class="h1" x="82.4" y="303.5" fill="#f0f3f6"/>
<rect class="h1" x="86.6" y="303.5" fill="#b5d7e8"/>
<rect class="h1" x="90.8" y="303.5" fill="#d9e9f2"/>
<rect class="h1" x="95.0" y="303.5" fill="#f7f5f4"/>
<rect class="h1" x="99.2" y="303.5" fill="#d8e8f1"/>
<rect class="h1" x="103.4" y="303.5" fill="#69abd0"/>
<rect class="h1" x="107.6" y="303.5" fill="#4594c4"/>
<rect class="h1" x="111.8" y="303.5" fill="#f1f4f6"/>
<rect class="h1" x="116.0" y="303.5" fill="#eef3f5"/>
<rect class="h1" x="19.4" y="307.2" fill="#f7b99c"/>
<rect class="h1" x="23.6" y="307.2" fill="#fcd5bf"/>
<rect class="h1" x="27.8" y="307.2" fill="#f7f7f7"/>
<rect class="h1" x="32.0" y="307.2" fill="#facbb2"/>
<rect class="h1" x="36.2" y="307.2" fill="#f9eee8"/>
<rect class="h1" x="40.4" y="307.2" fill="#fac7ae"/>
<rect class="h1" x="44.6" y="307.2" fill="#f1f4f6"/>
<rect class="h1" x="48.8" y="307.2" fill="#c0dceb"/>
<rect class="h1" x="53.0" y="307.2" fill="#f8f1ed"/>
<rect class="h1" x="57.2" y="307.2" fill="#de735b"/>
<rect class="h1" x="61.4" y="307.2" fill="#fcd6c0"/>
<rect class="h1" x="65.6" y="307.2" fill="#faebe2"/>
<rect class="h1" x="69.8" y="307.2" fill="#92c5de"/>
<rect class="h1" x="74.0" y="307.2" fill="#d9e9f1"/>
<rect class="h1" x="78.2" y="307.2" fill="#bedceb"/>
<rect class="h1" x="82.4" y="307.2" fill="#deebf2"/>
<rect class="h1" x="86.6" y="307.2" fill="#4494c3"/>
<rect class="h1" x="90.8" y="307.2" fill="#c5dfed"/>
<rect class="h1" x="95.0" y="307.2" fill="#edf2f5"/>
<rect class="h1" x="99.2" y="307.2" fill="#eef3f5"/>
<rect class="h1" x="103.4" y="307.2" fill="#e6eff4"/>
<rect class="h1" x="107.6" y="307.2" fill="#2c75b4"/>
<rect class="h1" x="111.8" y="307.2" fill="#cbe2ee"/>
<rect class="h1" x="116.0" y="307.2" fill="#e5eff4"/>
<rect class="h1" x="19.4" y="310.9" fill="#fbe6da"/>
<rect class="h1" x="23.6" y="310.9" fill="#e98d6f"/>
<rect class="h1" x="27.8" y="310.9" fill="#f4a582"/>
<rect class="h1" x="32.0" y="310.9" fill="#f9c6ac"/>
<rect class="h1" x="36.2" y="310.9" fill="#ea8f71"/>
<rect class="h1" x="40.4" y="310.9" fill="#fac9b0"/>
<rect class="h1" x="44.6" y="310.9" fill="#fbe2d4"/>
<rect class="h1" x="48.8" y="310.9" fill="#f9c5aa"/>
<rect class="h1" x="53.0" y="310.9" fill="#e6856a"/>
<rect class="h1" x="57.2" y="310.9" fill="#ed9576"/>
<rect class="h1" x="61.4" y="310.9" fill="#ec9274"/>
<rect class="h1" x="65.6" y="310.9" fill="#fbe4d6"/>
<rect class="h1" x="69.8" y="310.9" fill="#fcd6c1"/>
<rect class="h1" x="74.0" y="310.9" fill="#6eaed2"/>
<rect class="h1" x="78.2" y="310.9" fill="#8ec2dd"/>
<rect class="h1" x="82.4" y="310.9" fill="#c3deec"/>
<rect class="h1" x="86.6" y="310.9" fill="#f3f5f6"/>
<rect class="h1" x="90.8" y="310.9" fill="#bddbea"/>
<rect class="h1" x="95.0" y="310.9" fill="#f6f6f7"/>
<rect class="h1" x="99.2" y="310.9" fill="#a9d1e4"/>
<rect class="h1" x="103.4" y="310.9" fill="#d1e5f0"/>
<rect class="h1" x="107.6" y="310.9" fill="#98c8e0"/>
<rect class="h1" x="111.8" y="310.9" fill="#cae2ee"/>
<rect class="h1" x="116.0" y="310.9" fill="#aed3e6"/>
<rect class="h1" x="19.4" y="314.5" fill="#fcd4be"/>
<rect class="h1" x="23.6" y="314.5" fill="#e48166"/>
<rect class="h1" x="27.8" y="314.5" fill="#fac9b0"/>
<rect class="h1" x="32.0" y="314.5" fill="#f09b7b"/>
<rect class="h1" x="36.2" y="314.5" fill="#f8bc9f"/>
<rect class="h1" x="40.4" y="314.5" fill="#f8c0a4"/>
<rect class="h1" x="44.6" y="314.5" fill="#fae7db"/>
<rect class="h1" x="48.8" y="314.5" fill="#d55d4c"/>
<rect class="h1" x="53.0" y="314.5" fill="#f09d7c"/>
<rect class="h1" x="57.2" y="314.5" fill="#fbceb7"/>
<rect class="h1" x="61.4" y="314.5" fill="#f9c0a5"/>
<rect class="h1" x="65.6" y="314.5" fill="#bb2a34"/>
<rect class="h1" x="69.8" y="314.5" fill="#5aa1cb"/>
<rect class="h1" x="74.0" y="314.5" fill="#e1edf3"/>
<rect class="h1" x="78.2" y="314.5" fill="#b3d6e8"/>
<rect class="h1" x="82.4" y="314.5" fill="#a1cde2"/>
<rect class="h1" x="86.6" y="314.5" fill="#dbeaf2"/>
<rect class="h1" x="90.8" y="314.5" fill="#f7f7f7"/>
<rect class="h1" x="95.0" y="314.5" fill="#93c6de"/>
<rect class="h1" x="99.2" y="314.5" fill="#d0e4f0"/>
<rect class="h1" x="103.4" y="314.5" fill="#dae9f2"/>
<rect class="h1" x="107.6" y="314.5" fill="#d3e6f0"/>
<rect class="h1" x="111.8" y="314.5" fill="#aed3e6"/>
<rect class="h1" x="116.0" y="314.5" fill="#4f9bc7"/>
<rect class="h1" x="19.4" y="318.2" fill="#fddcc9"/>
<rect class="h1" x="23.6" y="318.2" fill="#e17860"/>
<rect class="h1" x="27.8" y="318.2" fill="#e8896d"/>
<rect class="h1" x="32.0" y="318.2" fill="#fbcdb5"/>
<rect class="h1" x="36.2" y="318.2" fill="#f8f4f2"/>
<rect class="h1" x="40.4" y="318.2" fill="#fcdecb"/>
<rect class="h1" x="44.6" y="318.2" fill="#fdd8c4"/>
<rect class="h1" x="48.8" y="318.2" fill="#f5ad8c"/>
<rect class="h1" x="53.0" y="318.2" fill="#f6b394"/>
<rect class="h1" x="57.2" y="318.2" fill="#f9c3a9"/>
<rect class="h1" x="61.4" y="318.2" fill="#f09c7b"/>
<rect class="h1" x="65.6" y="318.2" fill="#f3a380"/>
<rect class="h1" x="69.8" y="318.2" fill="#f3f5f6"/>
<rect class="h1" x="74.0" y="318.2" fill="#bfdceb"/>
<rect class="h1" x="78.2" y="318.2" fill="#a3cde3"/>
<rect class="h1" x="82.4" y="318.2" fill="#b1d5e7"/>
<rect class="h1" x="86.6" y="318.2" fill="#ddebf2"/>
<rect class="h1" x="90.8" y="318.2" fill="#bedbea"/>
<rect class="h1" x="95.0" y="318.2" fill="#90c4dd"/>
<rect class="h1" x="99.2" y="318.2" fill="#acd2e5"/>
<rect class="h1" x="103.4" y="318.2" fill="#9fcbe2"/>
<rect class="h1" x="107.6" y="318.2" fill="#93c6de"/>
<rect class="h1" x="111.8" y="318.2" fill="#79b5d6"/>
<rect class="h1" x="116.0" y="318.2" fill="#eaf1f5"/>
<rect class="h1" x="19.4" y="321.9" fill="#f9c4aa"/>
<rect class="h1" x="23.6" y="321.9" fill="#f4a785"/>
<rect class="h1" x="27.8" y="321.9" fill="#fac6ad"/>
<rect class="h1" x="32.0" y="321.9" fill="#f6af8e"/>
<rect class="h1" x="36.2" y="321.9" fill="#f8f1ed"/>
<rect class="h1" x="40.4" y="321.9" fill="#f8f1ec"/>
<rect class="h1" x="44.6" y="321.9" fill="#fce2d3"/>
<rect class="h1" x="48.8" y="321.9" fill="#ebf2f5"/>
<rect class="h1" x="53.0" y="321.9" fill="#fbe3d4"/>
<rect class="h1" x="57.2" y="321.9" fill="#edf2f5"/>
<rect class="h1" x="61.4" y="321.9" fill="#fcdfce"/>
<rect class="h1" x="65.6" y="321.9" fill="#f2a17f"/>
<rect class="h1" x="69.8" y="321.9" fill="#6eaed2"/>
<rect class="h1" x="74.0" y="321.9" fill="#d2e5f0"/>
<rect class="h1" x="78.2" y="321.9" fill="#5ca3cc"/>
<rect class="h1" x="82.4" y="321.9" fill="#d4e6f1"/>
<rect class="h1" x="86.6" y="321.9" fill="#f9ede7"/>
<rect class="h1" x="90.8" y="321.9" fill="#dbeaf2"/>
<rect class="h1" x="95.0" y="321.9" fill="#a2cde2"/>
<rect class="h1" x="99.2" y="321.9" fill="#d6e7f1"/>
<rect class="h1" x="103.4" y="321.9" fill="#cae1ee"/>
<rect class="h1" x="107.6" y="321.9" fill="#4393c3"/>
<rect class="h1" x="111.8" y="321.9" fill="#9ecbe1"/>
<rect class="h1" x="116.0" y="321.9" fill="#dae9f2"/>
<rect class="h1" x="19.4" y="325.6" fill="#f7b495"/>
<rect class="h1" x="23.6" y="325.6" fill="#f5ac8b"/>
<rect class="h1" x="27.8" y="325.6" fill="#f9c6ac"/>
<rect class="h1" x="32.0" y="325.6" fill="#f7f5f4"/>
<rect class="h1" x="36.2" y="325.6" fill="#e27b62"/>
<rect class="h1" x="40.4" y="325.6" fill="#fbd1bb"/>
<rect class="h1" x="44.6" y="325.6" fill="#f7b799"/>
<rect class="h1" x="48.8" y="325.6" fill="#f8f2ee"/>
<rect class="h1" x="53.0" y="325.6" fill="#fdddca"/>
<rect class="h1" x="57.2" y="325.6" fill="#f3f5f6"/>
<rect class="h1" x="61.4" y="325.6" fill="#f2a07e"/>
<rect class="h1" x="65.6" y="325.6" fill="#e98c6f"/>
<rect class="h1" x="69.8" y="325.6" fill="#a6cfe4"/>
<rect class="h1" x="74.0" y="325.6" fill="#b1d5e7"/>
<rect class="h1" x="78.2" y="325.6" fill="#cce3ef"/>
<rect class="h1" x="82.4" y="325.6" fill="#e2edf3"/>
<rect class="h1" x="86.6" y="325.6" fill="#f4f5f6"/>
<rect class="h1" x="90.8" y="325.6" fill="#e9f0f4"/>
<rect class="h1" x="95.0" y="325.6" fill="#bbdaea"/>
<rect class="h1" x="99.2" y="325.6" fill="#d4e6f0"/>
<rect class="h1" x="103.4" y="325.6" fill="#b2d5e7"/>
<rect class="h1" x="107.6" y="325.6" fill="#a5cee3"/>
<rect class="h1" x="111.8" y="325.6" fill="#b7d8e9"/>
<rect class="h1" x="116.0" y="325.6" fill="#6bacd1"/>
<rect class="h1" x="19.4" y="329.3" fill="#eaf1f5"/>
<rect class="h1" x="23.6" y="329.3" fill="#f5ac8b"/>
<rect class="h1" x="27.8" y="329.3" fill="#f19e7c"/>
<rect class="h1" x="32.0" y="329.3" fill="#eff3f5"/>
<rect class="h1" x="36.2" y="329.3" fill="#e6eff4"/>
<rect class="h1" x="40.4" y="329.3" fill="#f2f5f6"/>
<rect class="h1" x="44.6" y="329.3" fill="#f8f1ec"/>
<rect class="h1" x="48.8" y="329.3" fill="#edf2f5"/>
<rect class="h1" x="53.0" y="329.3" fill="#fcd5bf"/>
<rect class="h1" x="57.2" y="329.3" fill="#f7b99c"/>
<rect class="h1" x="61.4" y="329.3" fill="#f4a886"/>
<rect class="h1" x="65.6" y="329.3" fill="#ef9979"/>
<rect class="h1" x="69.8" y="329.3" fill="#aed3e6"/>
<rect class="h1" x="74.0" y="329.3" fill="#abd2e5"/>
<rect class="h1" x="78.2" y="329.3" fill="#5fa5cd"/>
<rect class="h1" x="82.4" y="329.3" fill="#c0dceb"/>
<rect class="h1" x="86.6" y="329.3" fill="#e6eff4"/>
<rect class="h1" x="90.8" y="329.3" fill="#cde3ef"/>
<rect class="h1" x="95.0" y="329.3" fill="#fce0d0"/>
<rect class="h1" x="99.2" y="329.3" fill="#3985bc"/>
<rect class="h1" x="103.4" y="329.3" fill="#b5d7e8"/>
<rect class="h1" x="107.6" y="329.3" fill="#408fc1"/>
<rect class="h1" x="111.8" y="329.3" fill="#eaf1f5"/>
<rect class="h1" x="116.0" y="329.3" fill="#f8bfa3"/>
<rect class="h1" x="19.4" y="332.9" fill="#e58267"/>
<rect class="h1" x="23.6" y="332.9" fill="#d96853"/>
<rect class="h1" x="27.8" y="332.9" fill="#fae9df"/>
<rect class="h1" x="32.0" y="332.9" fill="#fce0cf"/>
<rect class="h1" x="36.2" y="332.9" fill="#f8f1ed"/>
<rect class="h1" x="40.4" y="332.9" fill="#f1f4f6"/>
<rect class="h1" x="44.6" y="332.9" fill="#fbe4d6"/>
<rect class="h1" x="48.8" y="332.9" fill="#fdddcb"/>
<rect class="h1" x="53.0" y="332.9" fill="#f9c0a5"/>
<rect class="h1" x="57.2" y="332.9" fill="#f8f4f2"/>
<rect class="h1" x="61.4" y="332.9" fill="#f9ece5"/>
<rect class="h1" x="65.6" y="332.9" fill="#f8bda0"/>
<rect class="h1" x="69.8" y="332.9" fill="#317bb6"/>
<rect class="h1" x="74.0" y="332.9" fill="#b4d6e8"/>
<rect class="h1" x="78.2" y="332.9" fill="#c0dceb"/>
<rect class="h1" x="82.4" y="332.9" fill="#b0d4e7"/>
<rect class="h1" x="86.6" y="332.9" fill="#e7f0f4"/>
<rect class="h1" x="90.8" y="332.9" fill="#4594c4"/>
<rect class="h1" x="95.0" y="332.9" fill="#ecf2f5"/>
<rect class="h1" x="99.2" y="332.9" fill="#e1edf3"/>
<rect class="h1" x="103.4" y="332.9" fill="#c3deec"/>
<rect class="h1" x="107.6" y="332.9" fill="#95c6df"/>
<rect class="h1" x="111.8" y="332.9" fill="#deebf2"/>
<rect class="h1" x="116.0" y="332.9" fill="#bad9e9"/>
<rect class="h1" x="19.4" y="336.6" fill="#fcd6c1"/>
<rect class="h1" x="23.6" y="336.6" fill="#f7b89a"/>
<rect class="h1" x="27.8" y="336.6" fill="#f8bea2"/>
<rect class="h1" x="32.0" y="336.6" fill="#fbe6d9"/>
<rect class="h1" x="36.2" y="336.6" fill="#f7b799"/>
<rect class="h1" x="40.4" y="336.6" fill="#fdd9c4"/>
<rect class="h1" x="44.6" y="336.6" fill="#fbe4d7"/>
<rect class="h1" x="48.8" y="336.6" fill="#f9ede6"/>
<rect class="h1" x="53.0" y="336.6" fill="#fdddca"/>
<rect class="h1" x="57.2" y="336.6" fill="#d7e8f1"/>
<rect class="h1" x="61.4" y="336.6" fill="#fbe6da"/>
<rect class="h1" x="65.6" y="336.6" fill="#f7ba9d"/>
<rect class="h1" x="69.8" y="336.6" fill="#cee4ef"/>
<rect class="h1" x="74.0" y="336.6" fill="#8ec2dd"/>
<rect class="h1" x="78.2" y="336.6" fill="#276fb0"/>
<rect class="h1" x="82.4" y="336.6" fill="#bfdceb"/>
<rect class="h1" x="86.6" y="336.6" fill="#dbeaf2"/>
<rect class="h1" x="90.8" y="336.6" fill="#eef3f5"/>
<rect class="h1" x="95.0" y="336.6" fill="#99c9e0"/>
<rect class="h1" x="99.2" y="336.6" fill="#d3e6f0"/>
<rect class="h1" x="103.4" y="336.6" fill="#ddebf2"/>
<rect class="h1" x="107.6" y="336.6" fill="#bfdceb"/>
<rect class="h1" x="111.8" y="336.6" fill="#f3f5f6"/>
<rect class="h1" x="116.0" y="336.6" fill="#fcdecb"/>
<rect class="h1" x="19.4" y="340.3" fill="#f7f7f7"/>
<rect class="h1" x="23.6" y="340.3" fill="#f29f7e"/>
<rect class="h1" x="27.8" y="340.3" fill="#f7b596"/>
<rect class="h1" x="32.0" y="340.3" fill="#f8f4f2"/>
<rect class="h1" x="36.2" y="340.3" fill="#fcdfcd"/>
<rect class="h1" x="40.4" y="340.3" fill="#fae9e0"/>
<rect class="h1" x="44.6" y="340.3" fill="#fcd4be"/>
<rect class="h1" x="48.8" y="340.3" fill="#f9c4aa"/>
<rect class="h1" x="53.0" y="340.3" fill="#fdd8c3"/>
<rect class="h1" x="57.2" y="340.3" fill="#fbe3d5"/>
<rect class="h1" x="61.4" y="340.3" fill="#facbb3"/>
<rect class="h1" x="65.6" y="340.3" fill="#f8bea3"/>
<rect class="h1" x="69.8" y="340.3" fill="#8bc1dc"/>
<rect class="h1" x="74.0" y="340.3" fill="#3784bb"/>
<rect class="h1" x="78.2" y="340.3" fill="#d2e6f0"/>
<rect class="h1" x="82.4" y="340.3" fill="#f8f3f0"/>
<rect class="h1" x="86.6" y="340.3" fill="#f4f6f7"/>
<rect class="h1" x="90.8" y="340.3" fill="#f1f4f6"/>
<rect class="h1" x="95.0" y="340.3" fill="#a8d0e4"/>
<rect class="h1" x="99.2" y="340.3" fill="#add3e6"/>
<rect class="h1" x="103.4" y="340.3" fill="#e6eff4"/>
<rect class="h1" x="107.6" y="340.3" fill="#7eb8d7"/>
<rect class="h1" x="111.8" y="340.3" fill="#4a97c5"/>
<rect class="h1" x="116.0" y="340.3" fill="#9dcae1"/>
<rect class="h1" x="19.4" y="344.0" fill="#f5ac8c"/>
<rect class="h1" x="23.6" y="344.0" fill="#ef9a79"/>
<rect class="h1" x="27.8" y="344.0" fill="#fddcc8"/>
<rect class="h1" x="32.0" y="344.0" fill="#f8f4f1"/>
<rect class="h1" x="36.2" y="344.0" fill="#fce1d2"/>
<rect class="h1" x="40.4" y="344.0" fill="#f8f3f1"/>
<rect class="h1" x="44.6" y="344.0" fill="#f0f4f6"/>
<rect class="h1" x="48.8" y="344.0" fill="#fce0d0"/>
<rect class="h1" x="53.0" y="344.0" fill="#fbe4d7"/>
<rect class="h1" x="57.2" y="344.0" fill="#f8c0a4"/>
<rect class="h1" x="61.4" y="344.0" fill="#f5ad8c"/>
<rect class="h1" x="65.6" y="344.0" fill="#fbceb6"/>
<rect class="h1" x="69.8" y="344.0" fill="#fdd9c5"/>
<rect class="h1" x="74.0" y="344.0" fill="#f8f2ee"/>
<rect class="h1" x="78.2" y="344.0" fill="#74b2d4"/>
<rect class="h1" x="82.4" y="344.0" fill="#97c8df"/>
<rect class="h1" x="86.6" y="344.0" fill="#dceaf2"/>
<rect class="h1" x="90.8" y="344.0" fill="#abd2e5"/>
<rect class="h1" x="95.0" y="344.0" fill="#f8f4f1"/>
<rect class="h1" x="99.2" y="344.0" fill="#d1e5f0"/>
<rect class="h1" x="103.4" y="344.0" fill="#7fb9d7"/>
<rect class="h1" x="107.6" y="344.0" fill="#eff3f5"/>
<rect class="h1" x="111.8" y="344.0" fill="#a0cce2"/>
<rect class="h1" x="116.0" y="344.0" fill="#dceaf2"/>
<rect class="h1" x="19.4" y="347.7" fill="#cf5347"/>
<rect class="h1" x="23.6" y="347.7" fill="#f7b89a"/>
<rect class="h1" x="27.8" y="347.7" fill="#e58267"/>
<rect class="h1" x="32.0" y="347.7" fill="#fac8af"/>
<rect class="h1" x="36.2" y="347.7" fill="#f4a481"/>
<rect class="h1" x="40.4" y="347.7" fill="#c3deec"/>
<rect class="h1" x="44.6" y="347.7" fill="#f8f4f1"/>
<rect class="h1" x="48.8" y="347.7" fill="#fcd4bf"/>
<rect class="h1" x="53.0" y="347.7" fill="#f8bb9f"/>
<rect class="h1" x="57.2" y="347.7" fill="#c94641"/>
<rect class="h1" x="61.4" y="347.7" fill="#f7b698"/>
<rect class="h1" x="65.6" y="347.7" fill="#e17860"/>
<rect class="h1" x="69.8" y="347.7" fill="#c1ddeb"/>
<rect class="h1" x="74.0" y="347.7" fill="#9ac9e0"/>
<rect class="h1" x="78.2" y="347.7" fill="#b5d7e8"/>
<rect class="h1" x="82.4" y="347.7" fill="#99c9e0"/>
<rect class="h1" x="86.6" y="347.7" fill="#62a7ce"/>
<rect class="h1" x="90.8" y="347.7" fill="#4896c5"/>
<rect class="h1" x="95.0" y="347.7" fill="#7fb9d7"/>
<rect class="h1" x="99.2" y="347.7" fill="#aad1e5"/>
<rect class="h1" x="103.4" y="347.7" fill="#c0dceb"/>
<rect class="h1" x="107.6" y="347.7" fill="#bad9e9"/>
<rect class="h1" x="111.8" y="347.7" fill="#dbeaf2"/>
<rect class="h1" x="116.0" y="347.7" fill="#d8e8f1"/>
<rect class="h1" x="19.4" y="351.3" fill="#f5ab8a"/>
<rect class="h1" x="23.6" y="351.3" fill="#df745d"/>
<rect class="h1" x="27.8" y="351.3" fill="#f4a482"/>
<rect class="h1" x="32.0" y="351.3" fill="#fcd5bf"/>
<rect class="h1" x="36.2" y="351.3" fill="#f8c0a4"/>
<rect class="h1" x="40.4" y="351.3" fill="#f1f4f6"/>
<rect class="h1" x="44.6" y="351.3" fill="#f6b394"/>
<rect class="h1" x="48.8" y="351.3" fill="#f7f5f4"/>
<rect class="h1" x="53.0" y="351.3" fill="#facbb3"/>
<rect class="h1" x="57.2" y="351.3" fill="#cf5347"/>
<rect class="h1" x="61.4" y="351.3" fill="#fbcfb7"/>
<rect class="h1" x="65.6" y="351.3" fill="#f8bb9e"/>
<rect class="h1" x="69.8" y="351.3" fill="#93c6de"/>
<rect class="h1" x="74.0" y="351.3" fill="#80b9d8"/>
<rect class="h1" x="78.2" y="351.3" fill="#2b74b3"/>
<rect class="h1" x="82.4" y="351.3" fill="#b7d8e9"/>
<rect class="h1" x="86.6" y="351.3" fill="#e5eff4"/>
<rect class="h1" x="90.8" y="351.3" fill="#e7eff4"/>
<rect class="h1" x="95.0" y="351.3" fill="#c5dfec"/>
<rect class="h1" x="99.2" y="351.3" fill="#cce3ef"/>
<rect class="h1" x="103.4" y="351.3" fill="#e8f0f4"/>
<rect class="h1" x="107.6" y="351.3" fill="#b8d8e9"/>
<rect class="h1" x="111.8" y="351.3" fill="#e1edf3"/>
<rect class="h1" x="116.0" y="351.3" fill="#e8f0f4"/>
<rect class="h1" x="19.4" y="355.0" fill="#ed9676"/>
<rect class="h1" x="23.6" y="355.0" fill="#f5a886"/>
<rect class="h1" x="27.8" y="355.0" fill="#fcdecb"/>
<rect class="h1" x="32.0" y="355.0" fill="#f9c2a7"/>
<rect class="h1" x="36.2" y="355.0" fill="#f8bca0"/>
<rect class="h1" x="40.4" y="355.0" fill="#fac9af"/>
<rect class="h1" x="44.6" y="355.0" fill="#f8f4f2"/>
<rect class="h1" x="48.8" y="355.0" fill="#e98b6e"/>
<rect class="h1" x="53.0" y="355.0" fill="#e68469"/>
<rect class="h1" x="57.2" y="355.0" fill="#f9c4a9"/>
<rect class="h1" x="61.4" y="355.0" fill="#f7b89b"/>
<rect class="h1" x="65.6" y="355.0" fill="#fbcfb7"/>
<rect class="h1" x="69.8" y="355.0" fill="#cee3ef"/>
<rect class="h1" x="74.0" y="355.0" fill="#e8f0f4"/>
<rect class="h1" x="78.2" y="355.0" fill="#7cb7d7"/>
<rect class="h1" x="82.4" y="355.0" fill="#add2e6"/>
<rect class="h1" x="86.6" y="355.0" fill="#a8d0e4"/>
<rect class="h1" x="90.8" y="355.0" fill="#a8d0e4"/>
<rect class="h1" x="95.0" y="355.0" fill="#f9ede7"/>
<rect class="h1" x="99.2" y="355.0" fill="#fbe4d6"/>
<rect class="h1" x="103.4" y="355.0" fill="#c3deec"/>
<rect class="h1" x="107.6" y="355.0" fill="#d5e7f1"/>
<rect class="h1" x="111.8" y="355.0" fill="#f0f4f6"/>
<rect class="h1" x="116.0" y="355.0" fill="#f0f4f6"/>
<rect class="h1" x="19.4" y="358.7" fill="#e7876b"/>
<rect class="h1" x="23.6" y="358.7" fill="#fac9b0"/>
<rect class="h1" x="27.8" y="358.7" fill="#f09b7a"/>
<rect class="h1" x="32.0" y="358.7" fill="#fcdfce"/>
<rect class="h1" x="36.2" y="358.7" fill="#fae9df"/>
<rect class="h1" x="40.4" y="358.7" fill="#fac8af"/>
<rect class="h1" x="44.6" y="358.7" fill="#f5ac8c"/>
<rect class="h1" x="48.8" y="358.7" fill="#fcdecb"/>
<rect class="h1" x="53.0" y="358.7" fill="#fae8de"/>
<rect class="h1" x="57.2" y="358.7" fill="#f19f7d"/>
<rect class="h1" x="61.4" y="358.7" fill="#fac7ad"/>
<rect class="h1" x="65.6" y="358.7" fill="#f5ae8d"/>
<rect class="h1" x="69.8" y="358.7" fill="#f1f4f6"/>
<rect class="h1" x="74.0" y="358.7" fill="#57a0ca"/>
<rect class="h1" x="78.2" y="358.7" fill="#77b4d5"/>
<rect class="h1" x="82.4" y="358.7" fill="#d7e8f1"/>
<rect class="h1" x="86.6" y="358.7" fill="#f9ece4"/>
<rect class="h1" x="90.8" y="358.7" fill="#d8e8f1"/>
<rect class="h1" x="95.0" y="358.7" fill="#9ac9e0"/>
<rect class="h1" x="99.2" y="358.7" fill="#c2ddec"/>
<rect class="h1" x="103.4" y="358.7" fill="#9bcae1"/>
<rect class="h1" x="107.6" y="358.7" fill="#82bbd9"/>
<rect class="h1" x="111.8" y="358.7" fill="#f8f3f1"/>
<rect class="h1" x="116.0" y="358.7" fill="#b2d5e7"/>
<rect class="h1" x="19.4" y="362.4" fill="#e48166"/>
<rect class="h1" x="23.6" y="362.4" fill="#da6a54"/>
<rect class="h1" x="27.8" y="362.4" fill="#fcd3bd"/>
<rect class="h1" x="32.0" y="362.4" fill="#d05548"/>
<rect class="h1" x="36.2" y="362.4" fill="#fcd6c1"/>
<rect class="h1" x="40.4" y="362.4" fill="#f9c5ab"/>
<rect class="h1" x="44.6" y="362.4" fill="#f8f1ed"/>
<rect class="h1" x="48.8" y="362.4" fill="#fcdecd"/>
<rect class="h1" x="53.0" y="362.4" fill="#e9f0f4"/>
<rect class="h1" x="57.2" y="362.4" fill="#d96752"/>
<rect class="h1" x="61.4" y="362.4" fill="#e37f65"/>
<rect class="h1" x="65.6" y="362.4" fill="#fae7dc"/>
<rect class="h1" x="69.8" y="362.4" fill="#c2deec"/>
<rect class="h1" x="74.0" y="362.4" fill="#f9ece4"/>
<rect class="h1" x="78.2" y="362.4" fill="#deebf2"/>
<rect class="h1" x="82.4" y="362.4" fill="#d3e6f0"/>
<rect class="h1" x="86.6" y="362.4" fill="#b3d6e7"/>
<rect class="h1" x="90.8" y="362.4" fill="#e2edf3"/>
<rect class="h1" x="95.0" y="362.4" fill="#f9ece4"/>
<rect class="h1" x="99.2" y="362.4" fill="#eaf1f5"/>
<rect class="h1" x="103.4" y="362.4" fill="#f3f5f6"/>
<rect class="h1" x="107.6" y="362.4" fill="#bcdbea"/>
<rect class="h1" x="111.8" y="362.4" fill="#d9e9f2"/>
<rect class="h1" x="116.0" y="362.4" fill="#cbe2ee"/>
<rect class="h1" x="19.4" y="366.1" fill="#f7f7f7"/>
<rect class="h1" x="23.6" y="366.1" fill="#fae7dc"/>
<rect class="h1" x="27.8" y="366.1" fill="#e37e64"/>
<rect class="h1" x="32.0" y="366.1" fill="#fcdfcd"/>
<rect class="h1" x="36.2" y="366.1" fill="#fdd9c5"/>
<rect class="h1" x="40.4" y="366.1" fill="#fae9e0"/>
<rect class="h1" x="44.6" y="366.1" fill="#fbe5d8"/>
<rect class="h1" x="48.8" y="366.1" fill="#f7f7f7"/>
<rect class="h1" x="53.0" y="366.1" fill="#fcd5c0"/>
<rect class="h1" x="57.2" y="366.1" fill="#f8f1ed"/>
<rect class="h1" x="61.4" y="366.1" fill="#fac8ae"/>
<rect class="h1" x="65.6" y="366.1" fill="#f5ae8d"/>
<rect class="h1" x="69.8" y="366.1" fill="#d6e8f1"/>
<rect class="h1" x="74.0" y="366.1" fill="#e8f0f4"/>
<rect class="h1" x="78.2" y="366.1" fill="#4190c2"/>
<rect class="h1" x="82.4" y="366.1" fill="#bedbea"/>
<rect class="h1" x="86.6" y="366.1" fill="#ddeaf2"/>
<rect class="h1" x="90.8" y="366.1" fill="#b5d7e8"/>
<rect class="h1" x="95.0" y="366.1" fill="#bad9e9"/>
<rect class="h1" x="99.2" y="366.1" fill="#f0f3f6"/>
<rect class="h1" x="103.4" y="366.1" fill="#fbe7db"/>
<rect class="h1" x="107.6" y="366.1" fill="#d7e8f1"/>
<rect class="h1" x="111.8" y="366.1" fill="#d3e6f0"/>
<rect class="h1" x="116.0" y="366.1" fill="#77b4d5"/>
<rect class="h1" x="19.4" y="369.7" fill="#f7b89b"/>
<rect class="h1" x="23.6" y="369.7" fill="#f6b495"/>
<rect class="h1" x="27.8" y="369.7" fill="#fce0cf"/>
<rect class="h1" x="32.0" y="369.7" fill="#fac6ad"/>
<rect class="h1" x="36.2" y="369.7" fill="#fbe4d6"/>
<rect class="h1" x="40.4" y="369.7" fill="#f2a17f"/>
<rect class="h1" x="44.6" y="369.7" fill="#f9c6ac"/>
<rect class="h1" x="48.8" y="369.7" fill="#fce0d0"/>
<rect class="h1" x="53.0" y="369.7" fill="#fbe4d6"/>
<rect class="h1" x="57.2" y="369.7" fill="#fce0cf"/>
<rect class="h1" x="61.4" y="369.7" fill="#fbe5d8"/>
<rect class="h1" x="65.6" y="369.7" fill="#facbb3"/>
<rect class="h1" x="69.8" y="369.7" fill="#fae9de"/>
<rect class="h1" x="74.0" y="369.7" fill="#b1d5e7"/>
<rect class="h1" x="78.2" y="369.7" fill="#a0cce2"/>
<rect class="h1" x="82.4" y="369.7" fill="#7cb7d7"/>
<rect class="h1" x="86.6" y="369.7" fill="#d2e6f0"/>
<rect class="h1" x="90.8" y="369.7" fill="#97c8df"/>
<rect class="h1" x="95.0" y="369.7" fill="#d0e4f0"/>
<rect class="h1" x="99.2" y="369.7" fill="#e4eef4"/>
<rect class="h1" x="103.4" y="369.7" fill="#c3deec"/>
<rect class="h1" x="107.6" y="369.7" fill="#c7e0ed"/>
<rect class="h1" x="111.8" y="369.7" fill="#90c3dd"/>
<rect class="h1" x="116.0" y="369.7" fill="#f9ece4"/>
<rect class="h1" x="19.4" y="373.4" fill="#f9c0a5"/>
<rect class="h1" x="23.6" y="373.4" fill="#ea8d70"/>
<rect class="h1" x="27.8" y="373.4" fill="#f2a17f"/>
<rect class="h1" x="32.0" y="373.4" fill="#d6604d"/>
<rect class="h1" x="36.2" y="373.4" fill="#fae9df"/>
<rect class="h1" x="40.4" y="373.4" fill="#fce2d2"/>
<rect class="h1" x="44.6" y="373.4" fill="#d35a4a"/>
<rect class="h1" x="48.8" y="373.4" fill="#dfebf3"/>
<rect class="h1" x="53.0" y="373.4" fill="#fbe5d8"/>
<rect class="h1" x="57.2" y="373.4" fill="#f8bda0"/>
<rect class="h1" x="61.4" y="373.4" fill="#f8bea1"/>
<rect class="h1" x="65.6" y="373.4" fill="#f5a987"/>
<rect class="h1" x="69.8" y="373.4" fill="#9ccae1"/>
<rect class="h1" x="74.0" y="373.4" fill="#3a88bd"/>
<rect class="h1" x="78.2" y="373.4" fill="#97c7df"/>
<rect class="h1" x="82.4" y="373.4" fill="#95c7df"/>
<rect class="h1" x="86.6" y="373.4" fill="#9ccae1"/>
<rect class="h1" x="90.8" y="373.4" fill="#c2ddec"/>
<rect class="h1" x="95.0" y="373.4" fill="#d8e8f1"/>
<rect class="h1" x="99.2" y="373.4" fill="#92c5de"/>
<rect class="h1" x="103.4" y="373.4" fill="#b9d9e9"/>
<rect class="h1" x="107.6" y="373.4" fill="#f3f5f6"/>
<rect class="h1" x="111.8" y="373.4" fill="#dfecf3"/>
<rect class="h1" x="116.0" y="373.4" fill="#cde3ef"/>
<rect class="h1" x="19.4" y="377.1" fill="#fdd8c3"/>
<rect class="h1" x="23.6" y="377.1" fill="#ed9676"/>
<rect class="h1" x="27.8" y="377.1" fill="#f7b99c"/>
<rect class="h1" x="32.0" y="377.1" fill="#f5ab89"/>
<rect class="h1" x="36.2" y="377.1" fill="#e4eef4"/>
<rect class="h1" x="40.4" y="377.1" fill="#f7f7f6"/>
<rect class="h1" x="44.6" y="377.1" fill="#fbe2d3"/>
<rect class="h1" x="48.8" y="377.1" fill="#f7f5f4"/>
<rect class="h1" x="53.0" y="377.1" fill="#f8f1ed"/>
<rect class="h1" x="57.2" y="377.1" fill="#f5a886"/>
<rect class="h1" x="61.4" y="377.1" fill="#fcdecd"/>
<rect class="h1" x="65.6" y="377.1" fill="#f19d7c"/>
<rect class="h1" x="69.8" y="377.1" fill="#c9e1ee"/>
<rect class="h1" x="74.0" y="377.1" fill="#a5cfe4"/>
<rect class="h1" x="78.2" y="377.1" fill="#9fcce2"/>
<rect class="h1" x="82.4" y="377.1" fill="#e1edf3"/>
<rect class="h1" x="86.6" y="377.1" fill="#d1e5f0"/>
<rect class="h1" x="90.8" y="377.1" fill="#3f8ec0"/>
<rect class="h1" x="95.0" y="377.1" fill="#cbe2ee"/>
<rect class="h1" x="99.2" y="377.1" fill="#a3cee3"/>
<rect class="h1" x="103.4" y="377.1" fill="#deebf2"/>
<rect class="h1" x="107.6" y="377.1" fill="#94c6de"/>
<rect class="h1" x="111.8" y="377.1" fill="#cae1ee"/>
<rect class="h1" x="116.0" y="377.1" fill="#fcd7c2"/>
<rect class="h1" x="19.4" y="380.8" fill="#f5ac8b"/>
<rect class="h1" x="23.6" y="380.8" fill="#ef9979"/>
<rect class="h1" x="27.8" y="380.8" fill="#f4a582"/>
<rect class="h1" x="32.0" y="380.8" fill="#fcd2bc"/>
<rect class="h1" x="36.2" y="380.8" fill="#f4f5f6"/>
<rect class="h1" x="40.4" y="380.8" fill="#fbe3d4"/>
<rect class="h1" x="44.6" y="380.8" fill="#fcd4be"/>
<rect class="h1" x="48.8" y="380.8" fill="#faeae0"/>
<rect class="h1" x="53.0" y="380.8" fill="#fddbc7"/>
<rect class="h1" x="57.2" y="380.8" fill="#f3a280"/>
<rect class="h1" x="61.4" y="380.8" fill="#fbe4d6"/>
<rect class="h1" x="65.6" y="380.8" fill="#f09d7c"/>
<rect class="h1" x="69.8" y="380.8" fill="#81bbd8"/>
<rect class="h1" x="74.0" y="380.8" fill="#61a6cd"/>
<rect class="h1" x="78.2" y="380.8" fill="#4291c2"/>
<rect class="h1" x="82.4" y="380.8" fill="#347fb9"/>
<rect class="h1" x="86.6" y="380.8" fill="#60a5cd"/>
<rect class="h1" x="90.8" y="380.8" fill="#e1edf3"/>
<rect class="h1" x="95.0" y="380.8" fill="#a7d0e4"/>
<rect class="h1" x="99.2" y="380.8" fill="#60a6cd"/>
<rect class="h1" x="103.4" y="380.8" fill="#62a7ce"/>
<rect class="h1" x="107.6" y="380.8" fill="#d7e8f1"/>
<rect class="h1" x="111.8" y="380.8" fill="#94c6df"/>
<rect class="h1" x="116.0" y="380.8" fill="#c1ddeb"/>
<rect class="h1" x="19.4" y="384.5" fill="#dc6e57"/>
<rect class="h1" x="23.6" y="384.5" fill="#f9c2a8"/>
<rect class="h1" x="27.8" y="384.5" fill="#f7b596"/>
<rect class="h1" x="32.0" y="384.5" fill="#fcd4be"/>
<rect class="h1" x="36.2" y="384.5" fill="#e98c6f"/>
<rect class="h1" x="40.4" y="384.5" fill="#fddac6"/>
<rect class="h1" x="44.6" y="384.5" fill="#f9c0a5"/>
<rect class="h1" x="48.8" y="384.5" fill="#f9ede7"/>
<rect class="h1" x="53.0" y="384.5" fill="#fcd7c2"/>
<rect class="h1" x="57.2" y="384.5" fill="#f9c5ab"/>
<rect class="h1" x="61.4" y="384.5" fill="#f5f6f7"/>
<rect class="h1" x="65.6" y="384.5" fill="#dc6f58"/>
<rect class="h1" x="69.8" y="384.5" fill="#d3e6f0"/>
<rect class="h1" x="74.0" y="384.5" fill="#eaf1f5"/>
<rect class="h1" x="78.2" y="384.5" fill="#f7f6f6"/>
<rect class="h1" x="82.4" y="384.5" fill="#ebf2f5"/>
<rect class="h1" x="86.6" y="384.5" fill="#d9e9f2"/>
<rect class="h1" x="90.8" y="384.5" fill="#dbeaf2"/>
<rect class="h1" x="95.0" y="384.5" fill="#fae7dc"/>
<rect class="h1" x="99.2" y="384.5" fill="#f9ece4"/>
<rect class="h1" x="103.4" y="384.5" fill="#afd4e6"/>
<rect class="h1" x="107.6" y="384.5" fill="#d1e5f0"/>
<rect class="h1" x="111.8" y="384.5" fill="#d1e5f0"/>
<rect class="h1" x="116.0" y="384.5" fill="#d6e7f1"/>
<rect class="h1" x="19.4" y="388.1" fill="#f4a582"/>
<rect class="h1" x="23.6" y="388.1" fill="#faeae1"/>
<rect class="h1" x="27.8" y="388.1" fill="#ee9777"/>
<rect class="h1" x="32.0" y="388.1" fill="#fcd3bd"/>
<rect class="h1" x="36.2" y="388.1" fill="#f9c2a7"/>
<rect class="h1" x="40.4" y="388.1" fill="#fdd8c3"/>
<rect class="h1" x="44.6" y="388.1" fill="#e4eef4"/>
<rect class="h1" x="48.8" y="388.1" fill="#fbe2d3"/>
<rect class="h1" x="53.0" y="388.1" fill="#ea8e71"/>
<rect class="h1" x="57.2" y="388.1" fill="#fdddca"/>
<rect class="h1" x="61.4" y="388.1" fill="#fae7dc"/>
<rect class="h1" x="65.6" y="388.1" fill="#faeae1"/>
<rect class="h1" x="69.8" y="388.1" fill="#a4cee3"/>
<rect class="h1" x="74.0" y="388.1" fill="#539dc8"/>
<rect class="h1" x="78.2" y="388.1" fill="#7fb9d8"/>
<rect class="h1" x="82.4" y="388.1" fill="#5da4cc"/>
<rect class="h1" x="86.6" y="388.1" fill="#f8f1ed"/>
<rect class="h1" x="90.8" y="388.1" fill="#e7eff4"/>
<rect class="h1" x="95.0" y="388.1" fill="#83bcd9"/>
<rect class="h1" x="99.2" y="388.1" fill="#f9ede6"/>
<rect class="h1" x="103.4" y="388.1" fill="#e7eff4"/>
<rect class="h1" x="107.6" y="388.1" fill="#3d8cbf"/>
<rect class="h1" x="111.8" y="388.1" fill="#faebe2"/>
<rect class="h1" x="116.0" y="388.1" fill="#f0f4f6"/>
<rect class="h1" x="19.4" y="391.8" fill="#f8f0ec"/>
<rect class="h1" x="23.6" y="391.8" fill="#ee9778"/>
<rect class="h1" x="27.8" y="391.8" fill="#d6604d"/>
<rect class="h1" x="32.0" y="391.8" fill="#f8ba9d"/>
<rect class="h1" x="36.2" y="391.8" fill="#facbb3"/>
<rect class="h1" x="40.4" y="391.8" fill="#e27b62"/>
<rect class="h1" x="44.6" y="391.8" fill="#f9eee8"/>
<rect class="h1" x="48.8" y="391.8" fill="#f9ede6"/>
<rect class="h1" x="53.0" y="391.8" fill="#f8bfa3"/>
<rect class="h1" x="57.2" y="391.8" fill="#f5ac8b"/>
<rect class="h1" x="61.4" y="391.8" fill="#fae7dc"/>
<rect class="h1" x="65.6" y="391.8" fill="#fbe6da"/>
<rect class="h1" x="69.8" y="391.8" fill="#fbe5d8"/>
<rect class="h1" x="74.0" y="391.8" fill="#5aa1cb"/>
<rect class="h1" x="78.2" y="391.8" fill="#c0ddeb"/>
<rect class="h1" x="82.4" y="391.8" fill="#d6e7f1"/>
<rect class="h1" x="86.6" y="391.8" fill="#dbeaf2"/>
<rect class="h1" x="90.8" y="391.8" fill="#dae9f2"/>
<rect class="h1" x="95.0" y="391.8" fill="#f3f5f6"/>
<rect class="h1" x="99.2" y="391.8" fill="#7bb7d6"/>
<rect class="h1" x="103.4" y="391.8" fill="#73b2d4"/>
<rect class="h1" x="107.6" y="391.8" fill="#5ba2cb"/>
<rect class="h1" x="111.8" y="391.8" fill="#a1cde2"/>
<rect class="h1" x="116.0" y="391.8" fill="#b3d6e8"/>
<rect class="h1" x="19.4" y="395.5" fill="#f9c0a5"/>
<rect class="h1" x="23.6" y="395.5" fill="#f09d7b"/>
<rect class="h1" x="27.8" y="395.5" fill="#fae9df"/>
<rect class="h1" x="32.0" y="395.5" fill="#fcd7c1"/>
<rect class="h1" x="36.2" y="395.5" fill="#fbe5d9"/>
<rect class="h1" x="40.4" y="395.5" fill="#fcd4be"/>
<rect class="h1" x="44.6" y="395.5" fill="#fbe5d8"/>
<rect class="h1" x="48.8" y="395.5" fill="#fcdfce"/>
<rect class="h1" x="53.0" y="395.5" fill="#fce1d1"/>
<rect class="h1" x="57.2" y="395.5" fill="#eb9172"/>
<rect class="h1" x="61.4" y="395.5" fill="#e37d63"/>
<rect class="h1" x="65.6" y="395.5" fill="#fbccb4"/>
<rect class="h1" x="69.8" y="395.5" fill="#d4e7f1"/>
<rect class="h1" x="74.0" y="395.5" fill="#bcdaea"/>
<rect class="h1" x="78.2" y="395.5" fill="#a4cee3"/>
<rect class="h1" x="82.4" y="395.5" fill="#9ac9e0"/>
<rect class="h1" x="86.6" y="395.5" fill="#bddbea"/>
<rect class="h1" x="90.8" y="395.5" fill="#f5f6f7"/>
<rect class="h1" x="95.0" y="395.5" fill="#e8f0f4"/>
<rect class="h1" x="99.2" y="395.5" fill="#d8e8f1"/>
<rect class="h1" x="103.4" y="395.5" fill="#afd4e6"/>
<rect class="h1" x="107.6" y="395.5" fill="#f7f7f7"/>
<rect class="h1" x="111.8" y="395.5" fill="#9fcce2"/>
<rect class="h1" x="116.0" y="395.5" fill="#ebf1f5"/>
<path d="M23.60 211.5V399.18M27.80 211.5V399.18M32.00 211.5V399.18M36.20 211.5V399.18M40.40 211.5V399.18M44.60 211.5V399.18M48.80 211.5V399.18M53.00 211.5V399.18M57.20 211.5V399.18M61.40 211.5V399.18M65.60 211.5V399.18M69.80 211.5V399.18M74.00 211.5V399.18M78.20 211.5V399.18M82.40 211.5V399.18M86.60 211.5V399.18M90.80 211.5V399.18M95.00 211.5V399.18M99.20 211.5V399.18M103.40 211.5V399.18M107.60 211.5V399.18M111.80 211.5V399.18M116.00 211.5V399.18M19.4 215.18H120.20M19.4 218.86H120.20M19.4 222.54H120.20M19.4 226.22H120.20M19.4 229.90H120.20M19.4 233.58H120.20M19.4 237.26H120.20M19.4 240.94H120.20M19.4 244.62H120.20M19.4 248.30H120.20M19.4 251.98H120.20M19.4 255.66H120.20M19.4 259.34H120.20M19.4 263.02H120.20M19.4 266.70H120.20M19.4 270.38H120.20M19.4 274.06H120.20M19.4 277.74H120.20M19.4 281.42H120.20M19.4 285.10H120.20M19.4 288.78H120.20M19.4 292.46H120.20M19.4 296.14H120.20M19.4 299.82H120.20M19.4 303.50H120.20M19.4 307.18H120.20M19.4 310.86H120.20M19.4 314.54H120.20M19.4 318.22H120.20M19.4 321.90H120.20M19.4 325.58H120.20M19.4 329.26H120.20M19.4 332.94H120.20M19.4 336.62H120.20M19.4 340.30H120.20M19.4 343.98H120.20M19.4 347.66H120.20M19.4 351.34H120.20M19.4 355.02H120.20M19.4 358.70H120.20M19.4 362.38H120.20M19.4 366.06H120.20M19.4 369.74H120.20M19.4 373.42H120.20M19.4 377.10H120.20M19.4 380.78H120.20M19.4 384.46H120.20M19.4 388.14H120.20M19.4 391.82H120.20M19.4 395.50H120.20" stroke="rgba(255,255,255,0.55)" stroke-width="0.5" fill="none"/>
<rect x="19.4" y="208.7" width="50.8" height="2.8" fill="#6793cd"/>
<rect x="70.2" y="208.7" width="50.2" height="2.8" fill="#f2b76e"/>
<rect x="70.3" y="211.2" width="50.8" height="23" fill="none" stroke="#c0313c" stroke-width="1.1"/>
<rect x="18.9" y="234.2" width="51.3" height="165" fill="none" stroke="#2d3c80" stroke-width="1.1"/>
<text x="70.6" y="202.7" font-size="8.3" fill="#f2ac4a" stroke="#f2ac4a" stroke-width="0.18" font-weight="normal" font-style="italic" text-anchor="middle" >Gastroc</text>
<rect x="49" y="402.5" width="42.3" height="2.6" rx="1.3" fill="url(#cb)"/>
<text x="40.5" y="405.90000000000003" font-size="6.2" fill="#333" stroke="#333" stroke-width="0.18" font-weight="normal" font-style="normal" text-anchor="start" >&#8722;3</text>
<text x="92.2" y="405.90000000000003" font-size="6.2" fill="#333" stroke="#333" stroke-width="0.18" font-weight="normal" font-style="normal" text-anchor="start" >3</text>
<style>.h2{width:4.33px;height:3.74px}</style>
<rect class="h2" x="138.2" y="211.3" fill="#2166ac"/>
<rect class="h2" x="142.5" y="211.3" fill="#d9e9f1"/>
<rect class="h2" x="146.8" y="211.3" fill="#fce1d1"/>
<rect class="h2" x="151.0" y="211.3" fill="#bcdaea"/>
<rect class="h2" x="155.3" y="211.3" fill="#bcdaea"/>
<rect class="h2" x="159.6" y="211.3" fill="#cde3ef"/>
<rect class="h2" x="163.8" y="211.3" fill="#abd2e5"/>
<rect class="h2" x="168.1" y="211.3" fill="#fae8dd"/>
<rect class="h2" x="172.4" y="211.3" fill="#e3edf3"/>
<rect class="h2" x="176.7" y="211.3" fill="#f09c7b"/>
<rect class="h2" x="180.9" y="211.3" fill="#2166ac"/>
<rect class="h2" x="185.2" y="211.3" fill="#e3edf3"/>
<rect class="h2" x="189.5" y="211.3" fill="#f7f7f7"/>
<rect class="h2" x="193.8" y="211.3" fill="#e3edf3"/>
<rect class="h2" x="198.1" y="211.3" fill="#f8f0ec"/>
<rect class="h2" x="202.3" y="211.3" fill="#dceaf2"/>
<rect class="h2" x="206.6" y="211.3" fill="#f7f7f7"/>
<rect class="h2" x="210.9" y="211.3" fill="#ea8e70"/>
<rect class="h2" x="215.1" y="211.3" fill="#fdddca"/>
<rect class="h2" x="219.4" y="211.3" fill="#f5ac8b"/>
<rect class="h2" x="223.7" y="211.3" fill="#fcd2bc"/>
<rect class="h2" x="228.0" y="211.3" fill="#d55e4c"/>
<rect class="h2" x="232.2" y="211.3" fill="#f7f7f7"/>
<rect class="h2" x="236.5" y="211.3" fill="#cc4d44"/>
<rect class="h2" x="138.2" y="215.0" fill="#bcdaea"/>
<rect class="h2" x="142.5" y="215.0" fill="#fcd7c2"/>
<rect class="h2" x="146.8" y="215.0" fill="#fcd7c2"/>
<rect class="h2" x="151.0" y="215.0" fill="#abd2e5"/>
<rect class="h2" x="155.3" y="215.0" fill="#abd2e5"/>
<rect class="h2" x="159.6" y="215.0" fill="#bcdaea"/>
<rect class="h2" x="163.8" y="215.0" fill="#abd2e5"/>
<rect class="h2" x="168.1" y="215.0" fill="#abd2e5"/>
<rect class="h2" x="172.4" y="215.0" fill="#bcdaea"/>
<rect class="h2" x="176.7" y="215.0" fill="#cde3ef"/>
<rect class="h2" x="180.9" y="215.0" fill="#bcdaea"/>
<rect class="h2" x="185.2" y="215.0" fill="#d9e9f1"/>
<rect class="h2" x="189.5" y="215.0" fill="#cde3ef"/>
<rect class="h2" x="193.8" y="215.0" fill="#f7f7f7"/>
<rect class="h2" x="198.1" y="215.0" fill="#fbe3d5"/>
<rect class="h2" x="202.3" y="215.0" fill="#c6e0ed"/>
<rect class="h2" x="206.6" y="215.0" fill="#f7f7f7"/>
<rect class="h2" x="210.9" y="215.0" fill="#b31a2c"/>
<rect class="h2" x="215.1" y="215.0" fill="#f5ac8b"/>
<rect class="h2" x="219.4" y="215.0" fill="#f19e7d"/>
<rect class="h2" x="223.7" y="215.0" fill="#ea8e70"/>
<rect class="h2" x="228.0" y="215.0" fill="#f19e7d"/>
<rect class="h2" x="232.2" y="215.0" fill="#fbe3d5"/>
<rect class="h2" x="236.5" y="215.0" fill="#a31329"/>
<rect class="h2" x="138.2" y="218.7" fill="#d9e9f1"/>
<rect class="h2" x="142.5" y="218.7" fill="#fce1d1"/>
<rect class="h2" x="146.8" y="218.7" fill="#fce1d1"/>
<rect class="h2" x="151.0" y="218.7" fill="#9ac9e0"/>
<rect class="h2" x="155.3" y="218.7" fill="#9ac9e0"/>
<rect class="h2" x="159.6" y="218.7" fill="#87beda"/>
<rect class="h2" x="163.8" y="218.7" fill="#87beda"/>
<rect class="h2" x="168.1" y="218.7" fill="#87beda"/>
<rect class="h2" x="172.4" y="218.7" fill="#9ac9e0"/>
<rect class="h2" x="176.7" y="218.7" fill="#bcdaea"/>
<rect class="h2" x="180.9" y="218.7" fill="#fce1d1"/>
<rect class="h2" x="185.2" y="218.7" fill="#d9e9f1"/>
<rect class="h2" x="189.5" y="218.7" fill="#e3edf3"/>
<rect class="h2" x="193.8" y="218.7" fill="#fce1d1"/>
<rect class="h2" x="198.1" y="218.7" fill="#f5ac8b"/>
<rect class="h2" x="202.3" y="218.7" fill="#f7b99b"/>
<rect class="h2" x="206.6" y="218.7" fill="#f7b99b"/>
<rect class="h2" x="210.9" y="218.7" fill="#fcd2bc"/>
<rect class="h2" x="215.1" y="218.7" fill="#f7b99b"/>
<rect class="h2" x="219.4" y="218.7" fill="#fcd2bc"/>
<rect class="h2" x="223.7" y="218.7" fill="#fcd2bc"/>
<rect class="h2" x="228.0" y="218.7" fill="#f7b99b"/>
<rect class="h2" x="232.2" y="218.7" fill="#d4e6f0"/>
<rect class="h2" x="236.5" y="218.7" fill="#67001f"/>
<rect class="h2" x="138.2" y="222.3" fill="#d9e9f1"/>
<rect class="h2" x="142.5" y="222.3" fill="#3c8abe"/>
<rect class="h2" x="146.8" y="222.3" fill="#3c8abe"/>
<rect class="h2" x="151.0" y="222.3" fill="#abd2e5"/>
<rect class="h2" x="155.3" y="222.3" fill="#d9e9f1"/>
<rect class="h2" x="159.6" y="222.3" fill="#abd2e5"/>
<rect class="h2" x="163.8" y="222.3" fill="#87beda"/>
<rect class="h2" x="168.1" y="222.3" fill="#87beda"/>
<rect class="h2" x="172.4" y="222.3" fill="#abd2e5"/>
<rect class="h2" x="176.7" y="222.3" fill="#cde3ef"/>
<rect class="h2" x="180.9" y="222.3" fill="#abd2e5"/>
<rect class="h2" x="185.2" y="222.3" fill="#d9e9f1"/>
<rect class="h2" x="189.5" y="222.3" fill="#e3edf3"/>
<rect class="h2" x="193.8" y="222.3" fill="#f7f7f7"/>
<rect class="h2" x="198.1" y="222.3" fill="#fdddca"/>
<rect class="h2" x="202.3" y="222.3" fill="#f5ac8b"/>
<rect class="h2" x="206.6" y="222.3" fill="#fcd2bc"/>
<rect class="h2" x="210.9" y="222.3" fill="#f5ac8b"/>
<rect class="h2" x="215.1" y="222.3" fill="#ea8e70"/>
<rect class="h2" x="219.4" y="222.3" fill="#ea8e70"/>
<rect class="h2" x="223.7" y="222.3" fill="#f19e7d"/>
<rect class="h2" x="228.0" y="222.3" fill="#dc6e58"/>
<rect class="h2" x="232.2" y="222.3" fill="#fbe3d5"/>
<rect class="h2" x="236.5" y="222.3" fill="#bc2b34"/>
<rect class="h2" x="138.2" y="226.0" fill="#bcdaea"/>
<rect class="h2" x="142.5" y="226.0" fill="#87beda"/>
<rect class="h2" x="146.8" y="226.0" fill="#abd2e5"/>
<rect class="h2" x="151.0" y="226.0" fill="#abd2e5"/>
<rect class="h2" x="155.3" y="226.0" fill="#d9e9f1"/>
<rect class="h2" x="159.6" y="226.0" fill="#87beda"/>
<rect class="h2" x="163.8" y="226.0" fill="#4896c5"/>
<rect class="h2" x="168.1" y="226.0" fill="#9ac9e0"/>
<rect class="h2" x="172.4" y="226.0" fill="#fae8dd"/>
<rect class="h2" x="176.7" y="226.0" fill="#d9e9f1"/>
<rect class="h2" x="180.9" y="226.0" fill="#d9e9f1"/>
<rect class="h2" x="185.2" y="226.0" fill="#bcdaea"/>
<rect class="h2" x="189.5" y="226.0" fill="#fce1d1"/>
<rect class="h2" x="193.8" y="226.0" fill="#cde3ef"/>
<rect class="h2" x="198.1" y="226.0" fill="#fdddca"/>
<rect class="h2" x="202.3" y="226.0" fill="#f7b99b"/>
<rect class="h2" x="206.6" y="226.0" fill="#f8f0ec"/>
<rect class="h2" x="210.9" y="226.0" fill="#f5ac8b"/>
<rect class="h2" x="215.1" y="226.0" fill="#f8f0ec"/>
<rect class="h2" x="219.4" y="226.0" fill="#f5ac8b"/>
<rect class="h2" x="223.7" y="226.0" fill="#ea8e70"/>
<rect class="h2" x="228.0" y="226.0" fill="#e37e64"/>
<rect class="h2" x="232.2" y="226.0" fill="#f8f0ec"/>
<rect class="h2" x="236.5" y="226.0" fill="#67001f"/>
<rect class="h2" x="138.2" y="229.7" fill="#fce1d1"/>
<rect class="h2" x="142.5" y="229.7" fill="#fcd7c2"/>
<rect class="h2" x="146.8" y="229.7" fill="#bcdaea"/>
<rect class="h2" x="151.0" y="229.7" fill="#9ac9e0"/>
<rect class="h2" x="155.3" y="229.7" fill="#9ac9e0"/>
<rect class="h2" x="159.6" y="229.7" fill="#d9e9f1"/>
<rect class="h2" x="163.8" y="229.7" fill="#d9e9f1"/>
<rect class="h2" x="168.1" y="229.7" fill="#abd2e5"/>
<rect class="h2" x="172.4" y="229.7" fill="#2a72b2"/>
<rect class="h2" x="176.7" y="229.7" fill="#337eb8"/>
<rect class="h2" x="180.9" y="229.7" fill="#bcdaea"/>
<rect class="h2" x="185.2" y="229.7" fill="#d9e9f1"/>
<rect class="h2" x="189.5" y="229.7" fill="#d9e9f1"/>
<rect class="h2" x="193.8" y="229.7" fill="#fce1d1"/>
<rect class="h2" x="198.1" y="229.7" fill="#a31329"/>
<rect class="h2" x="202.3" y="229.7" fill="#f7f7f7"/>
<rect class="h2" x="206.6" y="229.7" fill="#fdddca"/>
<rect class="h2" x="210.9" y="229.7" fill="#f7b99b"/>
<rect class="h2" x="215.1" y="229.7" fill="#f8f0ec"/>
<rect class="h2" x="219.4" y="229.7" fill="#fcd2bc"/>
<rect class="h2" x="223.7" y="229.7" fill="#fcd2bc"/>
<rect class="h2" x="228.0" y="229.7" fill="#dc6e58"/>
<rect class="h2" x="232.2" y="229.7" fill="#f5ac8b"/>
<rect class="h2" x="236.5" y="229.7" fill="#ea8e70"/>
<rect class="h2" x="138.2" y="233.4" fill="#d9e9f1"/>
<rect class="h2" x="142.5" y="233.4" fill="#bcdaea"/>
<rect class="h2" x="146.8" y="233.4" fill="#5da4cc"/>
<rect class="h2" x="151.0" y="233.4" fill="#3c8abe"/>
<rect class="h2" x="155.3" y="233.4" fill="#87beda"/>
<rect class="h2" x="159.6" y="233.4" fill="#fcd7c2"/>
<rect class="h2" x="163.8" y="233.4" fill="#e3edf3"/>
<rect class="h2" x="168.1" y="233.4" fill="#abd2e5"/>
<rect class="h2" x="172.4" y="233.4" fill="#2a72b2"/>
<rect class="h2" x="176.7" y="233.4" fill="#4896c5"/>
<rect class="h2" x="180.9" y="233.4" fill="#cde3ef"/>
<rect class="h2" x="185.2" y="233.4" fill="#d9e9f1"/>
<rect class="h2" x="189.5" y="233.4" fill="#fcd7c2"/>
<rect class="h2" x="193.8" y="233.4" fill="#f5ac8b"/>
<rect class="h2" x="198.1" y="233.4" fill="#ea8e70"/>
<rect class="h2" x="202.3" y="233.4" fill="#fdddca"/>
<rect class="h2" x="206.6" y="233.4" fill="#faeae1"/>
<rect class="h2" x="210.9" y="233.4" fill="#f7b99b"/>
<rect class="h2" x="215.1" y="233.4" fill="#fdddca"/>
<rect class="h2" x="219.4" y="233.4" fill="#fcd2bc"/>
<rect class="h2" x="223.7" y="233.4" fill="#fdddca"/>
<rect class="h2" x="228.0" y="233.4" fill="#f19e7d"/>
<rect class="h2" x="232.2" y="233.4" fill="#f5ac8b"/>
<rect class="h2" x="236.5" y="233.4" fill="#f19e7d"/>
<rect class="h2" x="138.2" y="237.1" fill="#e3edf3"/>
<rect class="h2" x="142.5" y="237.1" fill="#bcdaea"/>
<rect class="h2" x="146.8" y="237.1" fill="#bcdaea"/>
<rect class="h2" x="151.0" y="237.1" fill="#abd2e5"/>
<rect class="h2" x="155.3" y="237.1" fill="#fac9b0"/>
<rect class="h2" x="159.6" y="237.1" fill="#fac9b0"/>
<rect class="h2" x="163.8" y="237.1" fill="#d9e9f1"/>
<rect class="h2" x="168.1" y="237.1" fill="#bcdaea"/>
<rect class="h2" x="172.4" y="237.1" fill="#d9e9f1"/>
<rect class="h2" x="176.7" y="237.1" fill="#bcdaea"/>
<rect class="h2" x="180.9" y="237.1" fill="#cde3ef"/>
<rect class="h2" x="185.2" y="237.1" fill="#e3edf3"/>
<rect class="h2" x="189.5" y="237.1" fill="#bcdaea"/>
<rect class="h2" x="193.8" y="237.1" fill="#cde3ef"/>
<rect class="h2" x="198.1" y="237.1" fill="#ea8e70"/>
<rect class="h2" x="202.3" y="237.1" fill="#dceaf2"/>
<rect class="h2" x="206.6" y="237.1" fill="#dc6e58"/>
<rect class="h2" x="210.9" y="237.1" fill="#f7f7f7"/>
<rect class="h2" x="215.1" y="237.1" fill="#f19e7d"/>
<rect class="h2" x="219.4" y="237.1" fill="#fcd2bc"/>
<rect class="h2" x="223.7" y="237.1" fill="#dceaf2"/>
<rect class="h2" x="228.0" y="237.1" fill="#f7b99b"/>
<rect class="h2" x="232.2" y="237.1" fill="#c43c3c"/>
<rect class="h2" x="236.5" y="237.1" fill="#d55e4c"/>
<rect class="h2" x="138.2" y="240.7" fill="#fce1d1"/>
<rect class="h2" x="142.5" y="240.7" fill="#bcdaea"/>
<rect class="h2" x="146.8" y="240.7" fill="#fac9b0"/>
<rect class="h2" x="151.0" y="240.7" fill="#abd2e5"/>
<rect class="h2" x="155.3" y="240.7" fill="#abd2e5"/>
<rect class="h2" x="159.6" y="240.7" fill="#bcdaea"/>
<rect class="h2" x="163.8" y="240.7" fill="#d9e9f1"/>
<rect class="h2" x="168.1" y="240.7" fill="#fce1d1"/>
<rect class="h2" x="172.4" y="240.7" fill="#abd2e5"/>
<rect class="h2" x="176.7" y="240.7" fill="#d9e9f1"/>
<rect class="h2" x="180.9" y="240.7" fill="#bcdaea"/>
<rect class="h2" x="185.2" y="240.7" fill="#e3edf3"/>
<rect class="h2" x="189.5" y="240.7" fill="#bcdaea"/>
<rect class="h2" x="193.8" y="240.7" fill="#d9e9f1"/>
<rect class="h2" x="198.1" y="240.7" fill="#67001f"/>
<rect class="h2" x="202.3" y="240.7" fill="#fbe3d5"/>
<rect class="h2" x="206.6" y="240.7" fill="#faeae1"/>
<rect class="h2" x="210.9" y="240.7" fill="#d4e6f0"/>
<rect class="h2" x="215.1" y="240.7" fill="#fdddca"/>
<rect class="h2" x="219.4" y="240.7" fill="#fcd2bc"/>
<rect class="h2" x="223.7" y="240.7" fill="#fcd2bc"/>
<rect class="h2" x="228.0" y="240.7" fill="#f5ac8b"/>
<rect class="h2" x="232.2" y="240.7" fill="#f5ac8b"/>
<rect class="h2" x="236.5" y="240.7" fill="#f5ac8b"/>
<rect class="h2" x="138.2" y="244.4" fill="#bcdaea"/>
<rect class="h2" x="142.5" y="244.4" fill="#fce1d1"/>
<rect class="h2" x="146.8" y="244.4" fill="#bcdaea"/>
<rect class="h2" x="151.0" y="244.4" fill="#cde3ef"/>
<rect class="h2" x="155.3" y="244.4" fill="#2166ac"/>
<rect class="h2" x="159.6" y="244.4" fill="#053061"/>
<rect class="h2" x="163.8" y="244.4" fill="#abd2e5"/>
<rect class="h2" x="168.1" y="244.4" fill="#f7f7f7"/>
<rect class="h2" x="172.4" y="244.4" fill="#bcdaea"/>
<rect class="h2" x="176.7" y="244.4" fill="#cde3ef"/>
<rect class="h2" x="180.9" y="244.4" fill="#d9e9f1"/>
<rect class="h2" x="185.2" y="244.4" fill="#fac9b0"/>
<rect class="h2" x="189.5" y="244.4" fill="#f8bb9e"/>
<rect class="h2" x="193.8" y="244.4" fill="#bcdaea"/>
<rect class="h2" x="198.1" y="244.4" fill="#f5ac8b"/>
<rect class="h2" x="202.3" y="244.4" fill="#dceaf2"/>
<rect class="h2" x="206.6" y="244.4" fill="#fbe3d5"/>
<rect class="h2" x="210.9" y="244.4" fill="#fbe3d5"/>
<rect class="h2" x="215.1" y="244.4" fill="#fcd2bc"/>
<rect class="h2" x="219.4" y="244.4" fill="#fdddca"/>
<rect class="h2" x="223.7" y="244.4" fill="#fbe3d5"/>
<rect class="h2" x="228.0" y="244.4" fill="#fdddca"/>
<rect class="h2" x="232.2" y="244.4" fill="#bc2b34"/>
<rect class="h2" x="236.5" y="244.4" fill="#ea8e70"/>
<rect class="h2" x="138.2" y="248.1" fill="#bcdaea"/>
<rect class="h2" x="142.5" y="248.1" fill="#d9e9f1"/>
<rect class="h2" x="146.8" y="248.1" fill="#abd2e5"/>
<rect class="h2" x="151.0" y="248.1" fill="#bcdaea"/>
<rect class="h2" x="155.3" y="248.1" fill="#87beda"/>
<rect class="h2" x="159.6" y="248.1" fill="#d9e9f1"/>
<rect class="h2" x="163.8" y="248.1" fill="#bcdaea"/>
<rect class="h2" x="168.1" y="248.1" fill="#d9e9f1"/>
<rect class="h2" x="172.4" y="248.1" fill="#fce1d1"/>
<rect class="h2" x="176.7" y="248.1" fill="#fce1d1"/>
<rect class="h2" x="180.9" y="248.1" fill="#5da4cc"/>
<rect class="h2" x="185.2" y="248.1" fill="#d9e9f1"/>
<rect class="h2" x="189.5" y="248.1" fill="#fce1d1"/>
<rect class="h2" x="193.8" y="248.1" fill="#5da4cc"/>
<rect class="h2" x="198.1" y="248.1" fill="#fdddca"/>
<rect class="h2" x="202.3" y="248.1" fill="#fdddca"/>
<rect class="h2" x="206.6" y="248.1" fill="#faeae1"/>
<rect class="h2" x="210.9" y="248.1" fill="#fdddca"/>
<rect class="h2" x="215.1" y="248.1" fill="#fcd2bc"/>
<rect class="h2" x="219.4" y="248.1" fill="#fdddca"/>
<rect class="h2" x="223.7" y="248.1" fill="#fdddca"/>
<rect class="h2" x="228.0" y="248.1" fill="#d55e4c"/>
<rect class="h2" x="232.2" y="248.1" fill="#fbe3d5"/>
<rect class="h2" x="236.5" y="248.1" fill="#f19e7d"/>
<rect class="h2" x="138.2" y="251.8" fill="#d2e5f0"/>
<rect class="h2" x="142.5" y="251.8" fill="#f8f1ec"/>
<rect class="h2" x="146.8" y="251.8" fill="#c0dceb"/>
<rect class="h2" x="151.0" y="251.8" fill="#f7b798"/>
<rect class="h2" x="155.3" y="251.8" fill="#b82330"/>
<rect class="h2" x="159.6" y="251.8" fill="#f09b7a"/>
<rect class="h2" x="163.8" y="251.8" fill="#fbd0b9"/>
<rect class="h2" x="168.1" y="251.8" fill="#e68569"/>
<rect class="h2" x="172.4" y="251.8" fill="#fbccb4"/>
<rect class="h2" x="176.7" y="251.8" fill="#fae8dd"/>
<rect class="h2" x="180.9" y="251.8" fill="#f9ece4"/>
<rect class="h2" x="185.2" y="251.8" fill="#f9c3a8"/>
<rect class="h2" x="189.5" y="251.8" fill="#fddbc8"/>
<rect class="h2" x="193.8" y="251.8" fill="#fce2d3"/>
<rect class="h2" x="198.1" y="251.8" fill="#e3eef3"/>
<rect class="h2" x="202.3" y="251.8" fill="#b9d9e9"/>
<rect class="h2" x="206.6" y="251.8" fill="#b2d5e7"/>
<rect class="h2" x="210.9" y="251.8" fill="#d4e6f1"/>
<rect class="h2" x="215.1" y="251.8" fill="#cae1ee"/>
<rect class="h2" x="219.4" y="251.8" fill="#f6ae8e"/>
<rect class="h2" x="223.7" y="251.8" fill="#bddbea"/>
<rect class="h2" x="228.0" y="251.8" fill="#faeae1"/>
<rect class="h2" x="232.2" y="251.8" fill="#dbeaf2"/>
<rect class="h2" x="236.5" y="251.8" fill="#deebf2"/>
<rect class="h2" x="138.2" y="255.5" fill="#dae9f2"/>
<rect class="h2" x="142.5" y="255.5" fill="#dbeaf2"/>
<rect class="h2" x="146.8" y="255.5" fill="#f9c2a7"/>
<rect class="h2" x="151.0" y="255.5" fill="#eb9173"/>
<rect class="h2" x="155.3" y="255.5" fill="#f9c2a7"/>
<rect class="h2" x="159.6" y="255.5" fill="#f9eee7"/>
<rect class="h2" x="163.8" y="255.5" fill="#fcd5c0"/>
<rect class="h2" x="168.1" y="255.5" fill="#9b1027"/>
<rect class="h2" x="172.4" y="255.5" fill="#fcd4be"/>
<rect class="h2" x="176.7" y="255.5" fill="#f5ad8c"/>
<rect class="h2" x="180.9" y="255.5" fill="#fbd2bb"/>
<rect class="h2" x="185.2" y="255.5" fill="#fbe3d5"/>
<rect class="h2" x="189.5" y="255.5" fill="#faebe2"/>
<rect class="h2" x="193.8" y="255.5" fill="#ebf1f5"/>
<rect class="h2" x="198.1" y="255.5" fill="#ecf2f5"/>
<rect class="h2" x="202.3" y="255.5" fill="#add3e6"/>
<rect class="h2" x="206.6" y="255.5" fill="#f8f2ee"/>
<rect class="h2" x="210.9" y="255.5" fill="#edf2f5"/>
<rect class="h2" x="215.1" y="255.5" fill="#9ccae1"/>
<rect class="h2" x="219.4" y="255.5" fill="#f4f6f6"/>
<rect class="h2" x="223.7" y="255.5" fill="#e6eff4"/>
<rect class="h2" x="228.0" y="255.5" fill="#e3edf3"/>
<rect class="h2" x="232.2" y="255.5" fill="#f9ece4"/>
<rect class="h2" x="236.5" y="255.5" fill="#c0ddeb"/>
<rect class="h2" x="138.2" y="259.1" fill="#d6e7f1"/>
<rect class="h2" x="142.5" y="259.1" fill="#f8bc9f"/>
<rect class="h2" x="146.8" y="259.1" fill="#ecf2f5"/>
<rect class="h2" x="151.0" y="259.1" fill="#dc6f58"/>
<rect class="h2" x="155.3" y="259.1" fill="#fce0cf"/>
<rect class="h2" x="159.6" y="259.1" fill="#f5ad8c"/>
<rect class="h2" x="163.8" y="259.1" fill="#e68569"/>
<rect class="h2" x="168.1" y="259.1" fill="#d25849"/>
<rect class="h2" x="172.4" y="259.1" fill="#fcd3bd"/>
<rect class="h2" x="176.7" y="259.1" fill="#e8896c"/>
<rect class="h2" x="180.9" y="259.1" fill="#facab1"/>
<rect class="h2" x="185.2" y="259.1" fill="#f8f1ed"/>
<rect class="h2" x="189.5" y="259.1" fill="#fcd8c3"/>
<rect class="h2" x="193.8" y="259.1" fill="#f8f5f3"/>
<rect class="h2" x="198.1" y="259.1" fill="#e4eef4"/>
<rect class="h2" x="202.3" y="259.1" fill="#ecf2f5"/>
<rect class="h2" x="206.6" y="259.1" fill="#bcdaea"/>
<rect class="h2" x="210.9" y="259.1" fill="#f9ebe3"/>
<rect class="h2" x="215.1" y="259.1" fill="#9fcce2"/>
<rect class="h2" x="219.4" y="259.1" fill="#a7d0e4"/>
<rect class="h2" x="223.7" y="259.1" fill="#e5eef4"/>
<rect class="h2" x="228.0" y="259.1" fill="#9dcbe1"/>
<rect class="h2" x="232.2" y="259.1" fill="#d0e5f0"/>
<rect class="h2" x="236.5" y="259.1" fill="#7bb7d6"/>
<rect class="h2" x="138.2" y="262.8" fill="#deebf2"/>
<rect class="h2" x="142.5" y="262.8" fill="#f8f3f0"/>
<rect class="h2" x="146.8" y="262.8" fill="#97c7df"/>
<rect class="h2" x="151.0" y="262.8" fill="#f4a583"/>
<rect class="h2" x="155.3" y="262.8" fill="#f9c5aa"/>
<rect class="h2" x="159.6" y="262.8" fill="#fcdfce"/>
<rect class="h2" x="163.8" y="262.8" fill="#f5ab89"/>
<rect class="h2" x="168.1" y="262.8" fill="#d96853"/>
<rect class="h2" x="172.4" y="262.8" fill="#f6b394"/>
<rect class="h2" x="176.7" y="262.8" fill="#d7624f"/>
<rect class="h2" x="180.9" y="262.8" fill="#f7f6f5"/>
<rect class="h2" x="185.2" y="262.8" fill="#edf2f5"/>
<rect class="h2" x="189.5" y="262.8" fill="#f4a785"/>
<rect class="h2" x="193.8" y="262.8" fill="#fcd2bc"/>
<rect class="h2" x="198.1" y="262.8" fill="#d6e8f1"/>
<rect class="h2" x="202.3" y="262.8" fill="#9bc9e0"/>
<rect class="h2" x="206.6" y="262.8" fill="#ecf2f5"/>
<rect class="h2" x="210.9" y="262.8" fill="#9bc9e1"/>
<rect class="h2" x="215.1" y="262.8" fill="#eff3f6"/>
<rect class="h2" x="219.4" y="262.8" fill="#d8e9f1"/>
<rect class="h2" x="223.7" y="262.8" fill="#d6e7f1"/>
<rect class="h2" x="228.0" y="262.8" fill="#d2e5f0"/>
<rect class="h2" x="232.2" y="262.8" fill="#d8e8f1"/>
<rect class="h2" x="236.5" y="262.8" fill="#91c4de"/>
<rect class="h2" x="138.2" y="266.5" fill="#fce1d1"/>
<rect class="h2" x="142.5" y="266.5" fill="#e3eef3"/>
<rect class="h2" x="146.8" y="266.5" fill="#fddbc7"/>
<rect class="h2" x="151.0" y="266.5" fill="#eb9072"/>
<rect class="h2" x="155.3" y="266.5" fill="#dc6e58"/>
<rect class="h2" x="159.6" y="266.5" fill="#f19e7c"/>
<rect class="h2" x="163.8" y="266.5" fill="#cd4e44"/>
<rect class="h2" x="168.1" y="266.5" fill="#f7b596"/>
<rect class="h2" x="172.4" y="266.5" fill="#faccb4"/>
<rect class="h2" x="176.7" y="266.5" fill="#fbe4d6"/>
<rect class="h2" x="180.9" y="266.5" fill="#f4a784"/>
<rect class="h2" x="185.2" y="266.5" fill="#f8f1ed"/>
<rect class="h2" x="189.5" y="266.5" fill="#eff3f6"/>
<rect class="h2" x="193.8" y="266.5" fill="#f7f6f5"/>
<rect class="h2" x="198.1" y="266.5" fill="#4191c2"/>
<rect class="h2" x="202.3" y="266.5" fill="#d5e7f1"/>
<rect class="h2" x="206.6" y="266.5" fill="#bad9e9"/>
<rect class="h2" x="210.9" y="266.5" fill="#d2e6f0"/>
<rect class="h2" x="215.1" y="266.5" fill="#eef3f5"/>
<rect class="h2" x="219.4" y="266.5" fill="#7fb9d8"/>
<rect class="h2" x="223.7" y="266.5" fill="#66a9cf"/>
<rect class="h2" x="228.0" y="266.5" fill="#70b0d3"/>
<rect class="h2" x="232.2" y="266.5" fill="#539dc8"/>
<rect class="h2" x="236.5" y="266.5" fill="#a8d0e4"/>
<rect class="h2" x="138.2" y="270.2" fill="#e9f0f4"/>
<rect class="h2" x="142.5" y="270.2" fill="#d5e7f1"/>
<rect class="h2" x="146.8" y="270.2" fill="#f8f4f3"/>
<rect class="h2" x="151.0" y="270.2" fill="#f8bda0"/>
<rect class="h2" x="155.3" y="270.2" fill="#f6b090"/>
<rect class="h2" x="159.6" y="270.2" fill="#faccb3"/>
<rect class="h2" x="163.8" y="270.2" fill="#ec9273"/>
<rect class="h2" x="168.1" y="270.2" fill="#f5ac8b"/>
<rect class="h2" x="172.4" y="270.2" fill="#ef9979"/>
<rect class="h2" x="176.7" y="270.2" fill="#f09c7b"/>
<rect class="h2" x="180.9" y="270.2" fill="#faccb3"/>
<rect class="h2" x="185.2" y="270.2" fill="#d1e5f0"/>
<rect class="h2" x="189.5" y="270.2" fill="#f8f1ec"/>
<rect class="h2" x="193.8" y="270.2" fill="#f8f2ef"/>
<rect class="h2" x="198.1" y="270.2" fill="#cfe4ef"/>
<rect class="h2" x="202.3" y="270.2" fill="#abd2e5"/>
<rect class="h2" x="206.6" y="270.2" fill="#b8d8e9"/>
<rect class="h2" x="210.9" y="270.2" fill="#f8f4f3"/>
<rect class="h2" x="215.1" y="270.2" fill="#c9e1ee"/>
<rect class="h2" x="219.4" y="270.2" fill="#f3f5f6"/>
<rect class="h2" x="223.7" y="270.2" fill="#afd4e6"/>
<rect class="h2" x="228.0" y="270.2" fill="#327db8"/>
<rect class="h2" x="232.2" y="270.2" fill="#519cc8"/>
<rect class="h2" x="236.5" y="270.2" fill="#97c8e0"/>
<rect class="h2" x="138.2" y="273.9" fill="#fbe5d8"/>
<rect class="h2" x="142.5" y="273.9" fill="#c8e0ed"/>
<rect class="h2" x="146.8" y="273.9" fill="#edf2f5"/>
<rect class="h2" x="151.0" y="273.9" fill="#f5ae8d"/>
<rect class="h2" x="155.3" y="273.9" fill="#f4a784"/>
<rect class="h2" x="159.6" y="273.9" fill="#d96652"/>
<rect class="h2" x="163.8" y="273.9" fill="#f5ab8a"/>
<rect class="h2" x="168.1" y="273.9" fill="#d45c4b"/>
<rect class="h2" x="172.4" y="273.9" fill="#fcdfce"/>
<rect class="h2" x="176.7" y="273.9" fill="#f9ece3"/>
<rect class="h2" x="180.9" y="273.9" fill="#f4a481"/>
<rect class="h2" x="185.2" y="273.9" fill="#fbd0b9"/>
<rect class="h2" x="189.5" y="273.9" fill="#fcd7c2"/>
<rect class="h2" x="193.8" y="273.9" fill="#fdddca"/>
<rect class="h2" x="198.1" y="273.9" fill="#dfecf3"/>
<rect class="h2" x="202.3" y="273.9" fill="#edf2f5"/>
<rect class="h2" x="206.6" y="273.9" fill="#f8f5f3"/>
<rect class="h2" x="210.9" y="273.9" fill="#f9efea"/>
<rect class="h2" x="215.1" y="273.9" fill="#d5e7f1"/>
<rect class="h2" x="219.4" y="273.9" fill="#dae9f2"/>
<rect class="h2" x="223.7" y="273.9" fill="#c0dceb"/>
<rect class="h2" x="228.0" y="273.9" fill="#7db7d7"/>
<rect class="h2" x="232.2" y="273.9" fill="#cfe4ef"/>
<rect class="h2" x="236.5" y="273.9" fill="#3b88bd"/>
<rect class="h2" x="138.2" y="277.5" fill="#f9ece4"/>
<rect class="h2" x="142.5" y="277.5" fill="#d7e8f1"/>
<rect class="h2" x="146.8" y="277.5" fill="#fcd4be"/>
<rect class="h2" x="151.0" y="277.5" fill="#f7b89b"/>
<rect class="h2" x="155.3" y="277.5" fill="#d35b4b"/>
<rect class="h2" x="159.6" y="277.5" fill="#ef9a7a"/>
<rect class="h2" x="163.8" y="277.5" fill="#fbe6da"/>
<rect class="h2" x="168.1" y="277.5" fill="#fbd1bb"/>
<rect class="h2" x="172.4" y="277.5" fill="#d55e4c"/>
<rect class="h2" x="176.7" y="277.5" fill="#f6b090"/>
<rect class="h2" x="180.9" y="277.5" fill="#fbe4d7"/>
<rect class="h2" x="185.2" y="277.5" fill="#fdd9c5"/>
<rect class="h2" x="189.5" y="277.5" fill="#f9eee8"/>
<rect class="h2" x="193.8" y="277.5" fill="#f9ece5"/>
<rect class="h2" x="198.1" y="277.5" fill="#e9f0f4"/>
<rect class="h2" x="202.3" y="277.5" fill="#cde3ef"/>
<rect class="h2" x="206.6" y="277.5" fill="#80bad8"/>
<rect class="h2" x="210.9" y="277.5" fill="#f8f0ec"/>
<rect class="h2" x="215.1" y="277.5" fill="#ebf1f5"/>
<rect class="h2" x="219.4" y="277.5" fill="#e1edf3"/>
<rect class="h2" x="223.7" y="277.5" fill="#529cc8"/>
<rect class="h2" x="228.0" y="277.5" fill="#7ab6d6"/>
<rect class="h2" x="232.2" y="277.5" fill="#deebf2"/>
<rect class="h2" x="236.5" y="277.5" fill="#62a7ce"/>
<rect class="h2" x="138.2" y="281.2" fill="#f8f5f3"/>
<rect class="h2" x="142.5" y="281.2" fill="#f9efe9"/>
<rect class="h2" x="146.8" y="281.2" fill="#f8bb9e"/>
<rect class="h2" x="151.0" y="281.2" fill="#f09d7c"/>
<rect class="h2" x="155.3" y="281.2" fill="#b92531"/>
<rect class="h2" x="159.6" y="281.2" fill="#c13639"/>
<rect class="h2" x="163.8" y="281.2" fill="#be2f36"/>
<rect class="h2" x="168.1" y="281.2" fill="#d15648"/>
<rect class="h2" x="172.4" y="281.2" fill="#ee9878"/>
<rect class="h2" x="176.7" y="281.2" fill="#f3a380"/>
<rect class="h2" x="180.9" y="281.2" fill="#fcdecd"/>
<rect class="h2" x="185.2" y="281.2" fill="#f8f1ec"/>
<rect class="h2" x="189.5" y="281.2" fill="#fbe6da"/>
<rect class="h2" x="193.8" y="281.2" fill="#f9efe9"/>
<rect class="h2" x="198.1" y="281.2" fill="#276fb0"/>
<rect class="h2" x="202.3" y="281.2" fill="#a9d1e5"/>
<rect class="h2" x="206.6" y="281.2" fill="#acd2e6"/>
<rect class="h2" x="210.9" y="281.2" fill="#ddebf2"/>
<rect class="h2" x="215.1" y="281.2" fill="#d4e7f1"/>
<rect class="h2" x="219.4" y="281.2" fill="#bbdaea"/>
<rect class="h2" x="223.7" y="281.2" fill="#61a6cd"/>
<rect class="h2" x="228.0" y="281.2" fill="#cee4ef"/>
<rect class="h2" x="232.2" y="281.2" fill="#3f8ec0"/>
<rect class="h2" x="236.5" y="281.2" fill="#ecf2f5"/>
<rect class="h2" x="138.2" y="284.9" fill="#fac7ae"/>
<rect class="h2" x="142.5" y="284.9" fill="#fbe6da"/>
<rect class="h2" x="146.8" y="284.9" fill="#f6f6f7"/>
<rect class="h2" x="151.0" y="284.9" fill="#fae9e0"/>
<rect class="h2" x="155.3" y="284.9" fill="#ee9777"/>
<rect class="h2" x="159.6" y="284.9" fill="#f6b394"/>
<rect class="h2" x="163.8" y="284.9" fill="#fac8af"/>
<rect class="h2" x="168.1" y="284.9" fill="#facbb2"/>
<rect class="h2" x="172.4" y="284.9" fill="#f8f1ed"/>
<rect class="h2" x="176.7" y="284.9" fill="#e88a6d"/>
<rect class="h2" x="180.9" y="284.9" fill="#fdddca"/>
<rect class="h2" x="185.2" y="284.9" fill="#d6614e"/>
<rect class="h2" x="189.5" y="284.9" fill="#fbe5d8"/>
<rect class="h2" x="193.8" y="284.9" fill="#fbe3d5"/>
<rect class="h2" x="198.1" y="284.9" fill="#bad9e9"/>
<rect class="h2" x="202.3" y="284.9" fill="#9dcbe1"/>
<rect class="h2" x="206.6" y="284.9" fill="#f7f5f4"/>
<rect class="h2" x="210.9" y="284.9" fill="#f3f5f6"/>
<rect class="h2" x="215.1" y="284.9" fill="#b5d7e8"/>
<rect class="h2" x="219.4" y="284.9" fill="#f7f6f5"/>
<rect class="h2" x="223.7" y="284.9" fill="#347fb9"/>
<rect class="h2" x="228.0" y="284.9" fill="#5ca3cb"/>
<rect class="h2" x="232.2" y="284.9" fill="#d2e5f0"/>
<rect class="h2" x="236.5" y="284.9" fill="#88bfda"/>
<rect class="h2" x="138.2" y="288.6" fill="#fbd0b9"/>
<rect class="h2" x="142.5" y="288.6" fill="#f9efea"/>
<rect class="h2" x="146.8" y="288.6" fill="#faeae0"/>
<rect class="h2" x="151.0" y="288.6" fill="#f6b192"/>
<rect class="h2" x="155.3" y="288.6" fill="#f6b394"/>
<rect class="h2" x="159.6" y="288.6" fill="#ca4842"/>
<rect class="h2" x="163.8" y="288.6" fill="#d35a4a"/>
<rect class="h2" x="168.1" y="288.6" fill="#be2f36"/>
<rect class="h2" x="172.4" y="288.6" fill="#f6b090"/>
<rect class="h2" x="176.7" y="288.6" fill="#f5a886"/>
<rect class="h2" x="180.9" y="288.6" fill="#f9f0ea"/>
<rect class="h2" x="185.2" y="288.6" fill="#f7b89b"/>
<rect class="h2" x="189.5" y="288.6" fill="#e4eef4"/>
<rect class="h2" x="193.8" y="288.6" fill="#facbb2"/>
<rect class="h2" x="198.1" y="288.6" fill="#92c5de"/>
<rect class="h2" x="202.3" y="288.6" fill="#e4eef4"/>
<rect class="h2" x="206.6" y="288.6" fill="#f8f2ee"/>
<rect class="h2" x="210.9" y="288.6" fill="#e0ecf3"/>
<rect class="h2" x="215.1" y="288.6" fill="#8bc1dc"/>
<rect class="h2" x="219.4" y="288.6" fill="#d6e7f1"/>
<rect class="h2" x="223.7" y="288.6" fill="#add3e6"/>
<rect class="h2" x="228.0" y="288.6" fill="#c0dceb"/>
<rect class="h2" x="232.2" y="288.6" fill="#e9f0f4"/>
<rect class="h2" x="236.5" y="288.6" fill="#88bfdb"/>
<rect class="h2" x="138.2" y="292.3" fill="#fcddcb"/>
<rect class="h2" x="142.5" y="292.3" fill="#fac8af"/>
<rect class="h2" x="146.8" y="292.3" fill="#e6eff4"/>
<rect class="h2" x="151.0" y="292.3" fill="#d6614d"/>
<rect class="h2" x="155.3" y="292.3" fill="#f7b89a"/>
<rect class="h2" x="159.6" y="292.3" fill="#f9c3a8"/>
<rect class="h2" x="163.8" y="292.3" fill="#fcd3bd"/>
<rect class="h2" x="168.1" y="292.3" fill="#ce5146"/>
<rect class="h2" x="172.4" y="292.3" fill="#c63f3d"/>
<rect class="h2" x="176.7" y="292.3" fill="#f9c4aa"/>
<rect class="h2" x="180.9" y="292.3" fill="#f9ede5"/>
<rect class="h2" x="185.2" y="292.3" fill="#fae8dd"/>
<rect class="h2" x="189.5" y="292.3" fill="#dd715a"/>
<rect class="h2" x="193.8" y="292.3" fill="#f7b799"/>
<rect class="h2" x="198.1" y="292.3" fill="#bddbea"/>
<rect class="h2" x="202.3" y="292.3" fill="#d3e6f0"/>
<rect class="h2" x="206.6" y="292.3" fill="#faebe3"/>
<rect class="h2" x="210.9" y="292.3" fill="#bad9e9"/>
<rect class="h2" x="215.1" y="292.3" fill="#fae9df"/>
<rect class="h2" x="219.4" y="292.3" fill="#4d99c6"/>
<rect class="h2" x="223.7" y="292.3" fill="#c1ddeb"/>
<rect class="h2" x="228.0" y="292.3" fill="#6cadd1"/>
<rect class="h2" x="232.2" y="292.3" fill="#afd4e6"/>
<rect class="h2" x="236.5" y="292.3" fill="#bbdaea"/>
<rect class="h2" x="138.2" y="295.9" fill="#e6eff4"/>
<rect class="h2" x="142.5" y="295.9" fill="#bcdaea"/>
<rect class="h2" x="146.8" y="295.9" fill="#eef3f5"/>
<rect class="h2" x="151.0" y="295.9" fill="#d35b4b"/>
<rect class="h2" x="155.3" y="295.9" fill="#b92632"/>
<rect class="h2" x="159.6" y="295.9" fill="#f5ac8c"/>
<rect class="h2" x="163.8" y="295.9" fill="#f7b799"/>
<rect class="h2" x="168.1" y="295.9" fill="#f6ae8e"/>
<rect class="h2" x="172.4" y="295.9" fill="#fae9de"/>
<rect class="h2" x="176.7" y="295.9" fill="#e0775e"/>
<rect class="h2" x="180.9" y="295.9" fill="#f8f4f2"/>
<rect class="h2" x="185.2" y="295.9" fill="#f7b495"/>
<rect class="h2" x="189.5" y="295.9" fill="#dae9f2"/>
<rect class="h2" x="193.8" y="295.9" fill="#eef3f5"/>
<rect class="h2" x="198.1" y="295.9" fill="#3b88be"/>
<rect class="h2" x="202.3" y="295.9" fill="#d1e5f0"/>
<rect class="h2" x="206.6" y="295.9" fill="#e8f0f4"/>
<rect class="h2" x="210.9" y="295.9" fill="#f3f5f6"/>
<rect class="h2" x="215.1" y="295.9" fill="#badaea"/>
<rect class="h2" x="219.4" y="295.9" fill="#b7d8e9"/>
<rect class="h2" x="223.7" y="295.9" fill="#317cb7"/>
<rect class="h2" x="228.0" y="295.9" fill="#f8f1ed"/>
<rect class="h2" x="232.2" y="295.9" fill="#8cc1dc"/>
<rect class="h2" x="236.5" y="295.9" fill="#8ac0db"/>
<rect class="h2" x="138.2" y="299.6" fill="#f8f0eb"/>
<rect class="h2" x="142.5" y="299.6" fill="#e5eff4"/>
<rect class="h2" x="146.8" y="299.6" fill="#fddbc8"/>
<rect class="h2" x="151.0" y="299.6" fill="#fac9b0"/>
<rect class="h2" x="155.3" y="299.6" fill="#fae8de"/>
<rect class="h2" x="159.6" y="299.6" fill="#f5ad8c"/>
<rect class="h2" x="163.8" y="299.6" fill="#ee9777"/>
<rect class="h2" x="168.1" y="299.6" fill="#f3f5f6"/>
<rect class="h2" x="172.4" y="299.6" fill="#da6a55"/>
<rect class="h2" x="176.7" y="299.6" fill="#f8bc9f"/>
<rect class="h2" x="180.9" y="299.6" fill="#f7b99b"/>
<rect class="h2" x="185.2" y="299.6" fill="#dceaf2"/>
<rect class="h2" x="189.5" y="299.6" fill="#f7f5f4"/>
<rect class="h2" x="193.8" y="299.6" fill="#fae8dd"/>
<rect class="h2" x="198.1" y="299.6" fill="#327db8"/>
<rect class="h2" x="202.3" y="299.6" fill="#f2f4f6"/>
<rect class="h2" x="206.6" y="299.6" fill="#cfe4ef"/>
<rect class="h2" x="210.9" y="299.6" fill="#fbe6da"/>
<rect class="h2" x="215.1" y="299.6" fill="#f8f3f1"/>
<rect class="h2" x="219.4" y="299.6" fill="#e1edf3"/>
<rect class="h2" x="223.7" y="299.6" fill="#bddbea"/>
<rect class="h2" x="228.0" y="299.6" fill="#4f9bc7"/>
<rect class="h2" x="232.2" y="299.6" fill="#83bcd9"/>
<rect class="h2" x="236.5" y="299.6" fill="#73b1d3"/>
<rect class="h2" x="138.2" y="303.3" fill="#fcdecc"/>
<rect class="h2" x="142.5" y="303.3" fill="#cee3ef"/>
<rect class="h2" x="146.8" y="303.3" fill="#e8f0f4"/>
<rect class="h2" x="151.0" y="303.3" fill="#e9f1f4"/>
<rect class="h2" x="155.3" y="303.3" fill="#facbb2"/>
<rect class="h2" x="159.6" y="303.3" fill="#f7b99c"/>
<rect class="h2" x="163.8" y="303.3" fill="#f8f4f2"/>
<rect class="h2" x="168.1" y="303.3" fill="#fddbc6"/>
<rect class="h2" x="172.4" y="303.3" fill="#f6b293"/>
<rect class="h2" x="176.7" y="303.3" fill="#e58368"/>
<rect class="h2" x="180.9" y="303.3" fill="#f8bda1"/>
<rect class="h2" x="185.2" y="303.3" fill="#fae7db"/>
<rect class="h2" x="189.5" y="303.3" fill="#ebf1f5"/>
<rect class="h2" x="193.8" y="303.3" fill="#f7f6f4"/>
<rect class="h2" x="198.1" y="303.3" fill="#3985bc"/>
<rect class="h2" x="202.3" y="303.3" fill="#d5e7f1"/>
<rect class="h2" x="206.6" y="303.3" fill="#dceaf2"/>
<rect class="h2" x="210.9" y="303.3" fill="#fbe6da"/>
<rect class="h2" x="215.1" y="303.3" fill="#3682ba"/>
<rect class="h2" x="219.4" y="303.3" fill="#c8e0ed"/>
<rect class="h2" x="223.7" y="303.3" fill="#5ca3cc"/>
<rect class="h2" x="228.0" y="303.3" fill="#7ab6d6"/>
<rect class="h2" x="232.2" y="303.3" fill="#add3e6"/>
<rect class="h2" x="236.5" y="303.3" fill="#acd2e6"/>
<rect class="h2" x="138.2" y="307.0" fill="#e2edf3"/>
<rect class="h2" x="142.5" y="307.0" fill="#f9efe9"/>
<rect class="h2" x="146.8" y="307.0" fill="#f9efe9"/>
<rect class="h2" x="151.0" y="307.0" fill="#de735c"/>
<rect class="h2" x="155.3" y="307.0" fill="#f6b394"/>
<rect class="h2" x="159.6" y="307.0" fill="#faebe2"/>
<rect class="h2" x="163.8" y="307.0" fill="#dc6f58"/>
<rect class="h2" x="168.1" y="307.0" fill="#eb9173"/>
<rect class="h2" x="172.4" y="307.0" fill="#f9c4aa"/>
<rect class="h2" x="176.7" y="307.0" fill="#fae7dc"/>
<rect class="h2" x="180.9" y="307.0" fill="#e2edf3"/>
<rect class="h2" x="185.2" y="307.0" fill="#f6f7f7"/>
<rect class="h2" x="189.5" y="307.0" fill="#f9c4aa"/>
<rect class="h2" x="193.8" y="307.0" fill="#f8f2ef"/>
<rect class="h2" x="198.1" y="307.0" fill="#80bad8"/>
<rect class="h2" x="202.3" y="307.0" fill="#bddbea"/>
<rect class="h2" x="206.6" y="307.0" fill="#f0f4f6"/>
<rect class="h2" x="210.9" y="307.0" fill="#ecf2f5"/>
<rect class="h2" x="215.1" y="307.0" fill="#89bfdb"/>
<rect class="h2" x="219.4" y="307.0" fill="#d9e9f1"/>
<rect class="h2" x="223.7" y="307.0" fill="#4190c2"/>
<rect class="h2" x="228.0" y="307.0" fill="#4b98c6"/>
<rect class="h2" x="232.2" y="307.0" fill="#9fcce2"/>
<rect class="h2" x="236.5" y="307.0" fill="#9ac9e0"/>
<rect class="h2" x="138.2" y="310.7" fill="#cbe2ee"/>
<rect class="h2" x="142.5" y="310.7" fill="#f9eee7"/>
<rect class="h2" x="146.8" y="310.7" fill="#fae8dd"/>
<rect class="h2" x="151.0" y="310.7" fill="#f5ae8d"/>
<rect class="h2" x="155.3" y="310.7" fill="#f3a280"/>
<rect class="h2" x="159.6" y="310.7" fill="#e58267"/>
<rect class="h2" x="163.8" y="310.7" fill="#fce1d1"/>
<rect class="h2" x="168.1" y="310.7" fill="#eb8f71"/>
<rect class="h2" x="172.4" y="310.7" fill="#fae9de"/>
<rect class="h2" x="176.7" y="310.7" fill="#f6b394"/>
<rect class="h2" x="180.9" y="310.7" fill="#fcd3bd"/>
<rect class="h2" x="185.2" y="310.7" fill="#fdd9c5"/>
<rect class="h2" x="189.5" y="310.7" fill="#f9c1a6"/>
<rect class="h2" x="193.8" y="310.7" fill="#fce0d0"/>
<rect class="h2" x="198.1" y="310.7" fill="#86bdda"/>
<rect class="h2" x="202.3" y="310.7" fill="#a8d0e4"/>
<rect class="h2" x="206.6" y="310.7" fill="#dae9f2"/>
<rect class="h2" x="210.9" y="310.7" fill="#bbdaea"/>
<rect class="h2" x="215.1" y="310.7" fill="#edf2f5"/>
<rect class="h2" x="219.4" y="310.7" fill="#f7f7f7"/>
<rect class="h2" x="223.7" y="310.7" fill="#e6eff4"/>
<rect class="h2" x="228.0" y="310.7" fill="#d6e7f1"/>
<rect class="h2" x="232.2" y="310.7" fill="#64a8ce"/>
<rect class="h2" x="236.5" y="310.7" fill="#7ab6d6"/>
<rect class="h2" x="138.2" y="314.3" fill="#fdddcb"/>
<rect class="h2" x="142.5" y="314.3" fill="#fcdecc"/>
<rect class="h2" x="146.8" y="314.3" fill="#faebe2"/>
<rect class="h2" x="151.0" y="314.3" fill="#fcdfce"/>
<rect class="h2" x="155.3" y="314.3" fill="#fcdfcd"/>
<rect class="h2" x="159.6" y="314.3" fill="#fcdecc"/>
<rect class="h2" x="163.8" y="314.3" fill="#fac9b0"/>
<rect class="h2" x="168.1" y="314.3" fill="#f9c1a6"/>
<rect class="h2" x="172.4" y="314.3" fill="#b92531"/>
<rect class="h2" x="176.7" y="314.3" fill="#f7b597"/>
<rect class="h2" x="180.9" y="314.3" fill="#f7b89b"/>
<rect class="h2" x="185.2" y="314.3" fill="#f8f4f1"/>
<rect class="h2" x="189.5" y="314.3" fill="#f7f5f3"/>
<rect class="h2" x="193.8" y="314.3" fill="#fae7dc"/>
<rect class="h2" x="198.1" y="314.3" fill="#4292c2"/>
<rect class="h2" x="202.3" y="314.3" fill="#deebf2"/>
<rect class="h2" x="206.6" y="314.3" fill="#fcd7c2"/>
<rect class="h2" x="210.9" y="314.3" fill="#f7f7f7"/>
<rect class="h2" x="215.1" y="314.3" fill="#71b0d3"/>
<rect class="h2" x="219.4" y="314.3" fill="#a9d1e5"/>
<rect class="h2" x="223.7" y="314.3" fill="#4393c3"/>
<rect class="h2" x="228.0" y="314.3" fill="#b2d5e7"/>
<rect class="h2" x="232.2" y="314.3" fill="#97c8e0"/>
<rect class="h2" x="236.5" y="314.3" fill="#a7d0e4"/>
<rect class="h2" x="138.2" y="318.0" fill="#f8f3ef"/>
<rect class="h2" x="142.5" y="318.0" fill="#ddeaf2"/>
<rect class="h2" x="146.8" y="318.0" fill="#f7b698"/>
<rect class="h2" x="151.0" y="318.0" fill="#fcdfce"/>
<rect class="h2" x="155.3" y="318.0" fill="#e8896d"/>
<rect class="h2" x="159.6" y="318.0" fill="#e0ecf3"/>
<rect class="h2" x="163.8" y="318.0" fill="#f9c0a5"/>
<rect class="h2" x="168.1" y="318.0" fill="#f6b395"/>
<rect class="h2" x="172.4" y="318.0" fill="#f9c0a5"/>
<rect class="h2" x="176.7" y="318.0" fill="#f7b799"/>
<rect class="h2" x="180.9" y="318.0" fill="#fbceb7"/>
<rect class="h2" x="185.2" y="318.0" fill="#fddcc9"/>
<rect class="h2" x="189.5" y="318.0" fill="#d4e7f1"/>
<rect class="h2" x="193.8" y="318.0" fill="#f8f0ec"/>
<rect class="h2" x="198.1" y="318.0" fill="#dae9f2"/>
<rect class="h2" x="202.3" y="318.0" fill="#abd2e5"/>
<rect class="h2" x="206.6" y="318.0" fill="#bfdceb"/>
<rect class="h2" x="210.9" y="318.0" fill="#fdd8c3"/>
<rect class="h2" x="215.1" y="318.0" fill="#ecf2f5"/>
<rect class="h2" x="219.4" y="318.0" fill="#c2deec"/>
<rect class="h2" x="223.7" y="318.0" fill="#2e78b5"/>
<rect class="h2" x="228.0" y="318.0" fill="#3d8bbf"/>
<rect class="h2" x="232.2" y="318.0" fill="#2368ad"/>
<rect class="h2" x="236.5" y="318.0" fill="#9bc9e1"/>
<rect class="h2" x="138.2" y="321.7" fill="#95c7df"/>
<rect class="h2" x="142.5" y="321.7" fill="#fbe4d6"/>
<rect class="h2" x="146.8" y="321.7" fill="#fbe6db"/>
<rect class="h2" x="151.0" y="321.7" fill="#fbd2bb"/>
<rect class="h2" x="155.3" y="321.7" fill="#fce0d0"/>
<rect class="h2" x="159.6" y="321.7" fill="#fcdfce"/>
<rect class="h2" x="163.8" y="321.7" fill="#d55d4c"/>
<rect class="h2" x="168.1" y="321.7" fill="#d86450"/>
<rect class="h2" x="172.4" y="321.7" fill="#faccb3"/>
<rect class="h2" x="176.7" y="321.7" fill="#ed9475"/>
<rect class="h2" x="180.9" y="321.7" fill="#ebf1f5"/>
<rect class="h2" x="185.2" y="321.7" fill="#d9e9f2"/>
<rect class="h2" x="189.5" y="321.7" fill="#f9f0ea"/>
<rect class="h2" x="193.8" y="321.7" fill="#f8f4f2"/>
<rect class="h2" x="198.1" y="321.7" fill="#81bad8"/>
<rect class="h2" x="202.3" y="321.7" fill="#f4f5f6"/>
<rect class="h2" x="206.6" y="321.7" fill="#dceaf2"/>
<rect class="h2" x="210.9" y="321.7" fill="#c7e0ed"/>
<rect class="h2" x="215.1" y="321.7" fill="#c4dfec"/>
<rect class="h2" x="219.4" y="321.7" fill="#fddbc7"/>
<rect class="h2" x="223.7" y="321.7" fill="#3682ba"/>
<rect class="h2" x="228.0" y="321.7" fill="#a0cce2"/>
<rect class="h2" x="232.2" y="321.7" fill="#99c8e0"/>
<rect class="h2" x="236.5" y="321.7" fill="#b8d8e9"/>
<rect class="h2" x="138.2" y="325.4" fill="#e5eff4"/>
<rect class="h2" x="142.5" y="325.4" fill="#f9eee7"/>
<rect class="h2" x="146.8" y="325.4" fill="#da6a55"/>
<rect class="h2" x="151.0" y="325.4" fill="#fce1d1"/>
<rect class="h2" x="155.3" y="325.4" fill="#f8bea2"/>
<rect class="h2" x="159.6" y="325.4" fill="#f8bda0"/>
<rect class="h2" x="163.8" y="325.4" fill="#f9c2a6"/>
<rect class="h2" x="168.1" y="325.4" fill="#ec9273"/>
<rect class="h2" x="172.4" y="325.4" fill="#dc6d57"/>
<rect class="h2" x="176.7" y="325.4" fill="#f8f3f1"/>
<rect class="h2" x="180.9" y="325.4" fill="#fcd4be"/>
<rect class="h2" x="185.2" y="325.4" fill="#fbe6da"/>
<rect class="h2" x="189.5" y="325.4" fill="#fddcc9"/>
<rect class="h2" x="193.8" y="325.4" fill="#e6eff4"/>
<rect class="h2" x="198.1" y="325.4" fill="#64a8ce"/>
<rect class="h2" x="202.3" y="325.4" fill="#e4eef3"/>
<rect class="h2" x="206.6" y="325.4" fill="#f8f4f2"/>
<rect class="h2" x="210.9" y="325.4" fill="#dceaf2"/>
<rect class="h2" x="215.1" y="325.4" fill="#d2e6f0"/>
<rect class="h2" x="219.4" y="325.4" fill="#dbeaf2"/>
<rect class="h2" x="223.7" y="325.4" fill="#59a1cb"/>
<rect class="h2" x="228.0" y="325.4" fill="#8bc1dc"/>
<rect class="h2" x="232.2" y="325.4" fill="#85bdd9"/>
<rect class="h2" x="236.5" y="325.4" fill="#a2cde3"/>
<rect class="h2" x="138.2" y="329.1" fill="#b4d6e8"/>
<rect class="h2" x="142.5" y="329.1" fill="#a1cde2"/>
<rect class="h2" x="146.8" y="329.1" fill="#fce1d2"/>
<rect class="h2" x="151.0" y="329.1" fill="#f9c0a5"/>
<rect class="h2" x="155.3" y="329.1" fill="#f8bda0"/>
<rect class="h2" x="159.6" y="329.1" fill="#dfecf3"/>
<rect class="h2" x="163.8" y="329.1" fill="#fbd1ba"/>
<rect class="h2" x="168.1" y="329.1" fill="#fcdfcd"/>
<rect class="h2" x="172.4" y="329.1" fill="#f8f3f0"/>
<rect class="h2" x="176.7" y="329.1" fill="#f9ece4"/>
<rect class="h2" x="180.9" y="329.1" fill="#f8bc9f"/>
<rect class="h2" x="185.2" y="329.1" fill="#faccb3"/>
<rect class="h2" x="189.5" y="329.1" fill="#fbe5d8"/>
<rect class="h2" x="193.8" y="329.1" fill="#fbcdb5"/>
<rect class="h2" x="198.1" y="329.1" fill="#c8e1ee"/>
<rect class="h2" x="202.3" y="329.1" fill="#f8f2ef"/>
<rect class="h2" x="206.6" y="329.1" fill="#d3e6f0"/>
<rect class="h2" x="210.9" y="329.1" fill="#f4f6f6"/>
<rect class="h2" x="215.1" y="329.1" fill="#eaf1f5"/>
<rect class="h2" x="219.4" y="329.1" fill="#f7f6f5"/>
<rect class="h2" x="223.7" y="329.1" fill="#d5e7f1"/>
<rect class="h2" x="228.0" y="329.1" fill="#ddeaf2"/>
<rect class="h2" x="232.2" y="329.1" fill="#bedbea"/>
<rect class="h2" x="236.5" y="329.1" fill="#add3e6"/>
<rect class="h2" x="138.2" y="332.7" fill="#e4eef3"/>
<rect class="h2" x="142.5" y="332.7" fill="#f8f1ec"/>
<rect class="h2" x="146.8" y="332.7" fill="#f9ede5"/>
<rect class="h2" x="151.0" y="332.7" fill="#f6b090"/>
<rect class="h2" x="155.3" y="332.7" fill="#f9c3a9"/>
<rect class="h2" x="159.6" y="332.7" fill="#fbcfb8"/>
<rect class="h2" x="163.8" y="332.7" fill="#fac6ac"/>
<rect class="h2" x="168.1" y="332.7" fill="#fddcc9"/>
<rect class="h2" x="172.4" y="332.7" fill="#cf5246"/>
<rect class="h2" x="176.7" y="332.7" fill="#f8bb9e"/>
<rect class="h2" x="180.9" y="332.7" fill="#fac8ae"/>
<rect class="h2" x="185.2" y="332.7" fill="#de725b"/>
<rect class="h2" x="189.5" y="332.7" fill="#f5ae8d"/>
<rect class="h2" x="193.8" y="332.7" fill="#e5eff4"/>
<rect class="h2" x="198.1" y="332.7" fill="#b0d4e7"/>
<rect class="h2" x="202.3" y="332.7" fill="#f8f2ef"/>
<rect class="h2" x="206.6" y="332.7" fill="#f6f6f7"/>
<rect class="h2" x="210.9" y="332.7" fill="#eff3f5"/>
<rect class="h2" x="215.1" y="332.7" fill="#e9f0f4"/>
<rect class="h2" x="219.4" y="332.7" fill="#d3e6f0"/>
<rect class="h2" x="223.7" y="332.7" fill="#72b1d3"/>
<rect class="h2" x="228.0" y="332.7" fill="#e9f0f4"/>
<rect class="h2" x="232.2" y="332.7" fill="#dae9f2"/>
<rect class="h2" x="236.5" y="332.7" fill="#b9d9e9"/>
<rect class="h2" x="138.2" y="336.4" fill="#fae7db"/>
<rect class="h2" x="142.5" y="336.4" fill="#fcdfcd"/>
<rect class="h2" x="146.8" y="336.4" fill="#f5aa89"/>
<rect class="h2" x="151.0" y="336.4" fill="#e7876b"/>
<rect class="h2" x="155.3" y="336.4" fill="#f09b7a"/>
<rect class="h2" x="159.6" y="336.4" fill="#f9ede6"/>
<rect class="h2" x="163.8" y="336.4" fill="#fce1d2"/>
<rect class="h2" x="168.1" y="336.4" fill="#f6b495"/>
<rect class="h2" x="172.4" y="336.4" fill="#f6b293"/>
<rect class="h2" x="176.7" y="336.4" fill="#f9eee8"/>
<rect class="h2" x="180.9" y="336.4" fill="#fbe4d6"/>
<rect class="h2" x="185.2" y="336.4" fill="#fae9df"/>
<rect class="h2" x="189.5" y="336.4" fill="#fbe3d5"/>
<rect class="h2" x="193.8" y="336.4" fill="#fcd5bf"/>
<rect class="h2" x="198.1" y="336.4" fill="#4191c2"/>
<rect class="h2" x="202.3" y="336.4" fill="#f8f3f0"/>
<rect class="h2" x="206.6" y="336.4" fill="#8bc1dc"/>
<rect class="h2" x="210.9" y="336.4" fill="#fcdecd"/>
<rect class="h2" x="215.1" y="336.4" fill="#f5f6f7"/>
<rect class="h2" x="219.4" y="336.4" fill="#f9c6ac"/>
<rect class="h2" x="223.7" y="336.4" fill="#b1d5e7"/>
<rect class="h2" x="228.0" y="336.4" fill="#d3e6f0"/>
<rect class="h2" x="232.2" y="336.4" fill="#bcdaea"/>
<rect class="h2" x="236.5" y="336.4" fill="#d9e9f1"/>
<rect class="h2" x="138.2" y="340.1" fill="#eef3f5"/>
<rect class="h2" x="142.5" y="340.1" fill="#d6e7f1"/>
<rect class="h2" x="146.8" y="340.1" fill="#fac7ae"/>
<rect class="h2" x="151.0" y="340.1" fill="#e0775f"/>
<rect class="h2" x="155.3" y="340.1" fill="#f9c5ab"/>
<rect class="h2" x="159.6" y="340.1" fill="#ee9878"/>
<rect class="h2" x="163.8" y="340.1" fill="#f5ac8b"/>
<rect class="h2" x="168.1" y="340.1" fill="#f3a27f"/>
<rect class="h2" x="172.4" y="340.1" fill="#f6b394"/>
<rect class="h2" x="176.7" y="340.1" fill="#fae8de"/>
<rect class="h2" x="180.9" y="340.1" fill="#f9c1a6"/>
<rect class="h2" x="185.2" y="340.1" fill="#f7b798"/>
<rect class="h2" x="189.5" y="340.1" fill="#f4f6f6"/>
<rect class="h2" x="193.8" y="340.1" fill="#e68469"/>
<rect class="h2" x="198.1" y="340.1" fill="#70b0d3"/>
<rect class="h2" x="202.3" y="340.1" fill="#afd4e6"/>
<rect class="h2" x="206.6" y="340.1" fill="#f9eee8"/>
<rect class="h2" x="210.9" y="340.1" fill="#c2ddec"/>
<rect class="h2" x="215.1" y="340.1" fill="#d1e5f0"/>
<rect class="h2" x="219.4" y="340.1" fill="#f2f5f6"/>
<rect class="h2" x="223.7" y="340.1" fill="#bad9e9"/>
<rect class="h2" x="228.0" y="340.1" fill="#bfdceb"/>
<rect class="h2" x="232.2" y="340.1" fill="#dfecf3"/>
<rect class="h2" x="236.5" y="340.1" fill="#c3deec"/>
<rect class="h2" x="138.2" y="343.8" fill="#f6b394"/>
<rect class="h2" x="142.5" y="343.8" fill="#f7b698"/>
<rect class="h2" x="146.8" y="343.8" fill="#f4a583"/>
<rect class="h2" x="151.0" y="343.8" fill="#f4a885"/>
<rect class="h2" x="155.3" y="343.8" fill="#fbcfb8"/>
<rect class="h2" x="159.6" y="343.8" fill="#fce0cf"/>
<rect class="h2" x="163.8" y="343.8" fill="#fce0d0"/>
<rect class="h2" x="168.1" y="343.8" fill="#f8bb9e"/>
<rect class="h2" x="172.4" y="343.8" fill="#facab2"/>
<rect class="h2" x="176.7" y="343.8" fill="#f6b495"/>
<rect class="h2" x="180.9" y="343.8" fill="#ddebf2"/>
<rect class="h2" x="185.2" y="343.8" fill="#dd715a"/>
<rect class="h2" x="189.5" y="343.8" fill="#e37e64"/>
<rect class="h2" x="193.8" y="343.8" fill="#fce0d0"/>
<rect class="h2" x="198.1" y="343.8" fill="#3986bc"/>
<rect class="h2" x="202.3" y="343.8" fill="#d1e5f0"/>
<rect class="h2" x="206.6" y="343.8" fill="#dae9f2"/>
<rect class="h2" x="210.9" y="343.8" fill="#fce0cf"/>
<rect class="h2" x="215.1" y="343.8" fill="#b2d5e7"/>
<rect class="h2" x="219.4" y="343.8" fill="#f8f1ec"/>
<rect class="h2" x="223.7" y="343.8" fill="#add3e6"/>
<rect class="h2" x="228.0" y="343.8" fill="#c4deec"/>
<rect class="h2" x="232.2" y="343.8" fill="#c5dfed"/>
<rect class="h2" x="236.5" y="343.8" fill="#ddebf2"/>
<rect class="h2" x="138.2" y="347.5" fill="#fae7dc"/>
<rect class="h2" x="142.5" y="347.5" fill="#fae7dc"/>
<rect class="h2" x="146.8" y="347.5" fill="#fae7dc"/>
<rect class="h2" x="151.0" y="347.5" fill="#fcd2bc"/>
<rect class="h2" x="155.3" y="347.5" fill="#f9c6ac"/>
<rect class="h2" x="159.6" y="347.5" fill="#fbe5d8"/>
<rect class="h2" x="163.8" y="347.5" fill="#f7b89a"/>
<rect class="h2" x="168.1" y="347.5" fill="#f9c1a6"/>
<rect class="h2" x="172.4" y="347.5" fill="#f8bb9e"/>
<rect class="h2" x="176.7" y="347.5" fill="#faeae1"/>
<rect class="h2" x="180.9" y="347.5" fill="#fdd9c5"/>
<rect class="h2" x="185.2" y="347.5" fill="#fcdfcd"/>
<rect class="h2" x="189.5" y="347.5" fill="#fbd2bb"/>
<rect class="h2" x="193.8" y="347.5" fill="#f5f6f7"/>
<rect class="h2" x="198.1" y="347.5" fill="#b0d4e6"/>
<rect class="h2" x="202.3" y="347.5" fill="#fae8dd"/>
<rect class="h2" x="206.6" y="347.5" fill="#cae1ee"/>
<rect class="h2" x="210.9" y="347.5" fill="#fae8de"/>
<rect class="h2" x="215.1" y="347.5" fill="#f8f0eb"/>
<rect class="h2" x="219.4" y="347.5" fill="#f8f4f2"/>
<rect class="h2" x="223.7" y="347.5" fill="#aed3e6"/>
<rect class="h2" x="228.0" y="347.5" fill="#f1f4f6"/>
<rect class="h2" x="232.2" y="347.5" fill="#d1e5f0"/>
<rect class="h2" x="236.5" y="347.5" fill="#dfecf3"/>
<rect class="h2" x="138.2" y="351.1" fill="#f9ede6"/>
<rect class="h2" x="142.5" y="351.1" fill="#fddbc8"/>
<rect class="h2" x="146.8" y="351.1" fill="#fce0cf"/>
<rect class="h2" x="151.0" y="351.1" fill="#fddac5"/>
<rect class="h2" x="155.3" y="351.1" fill="#fcd6c1"/>
<rect class="h2" x="159.6" y="351.1" fill="#fcd4be"/>
<rect class="h2" x="163.8" y="351.1" fill="#f19e7c"/>
<rect class="h2" x="168.1" y="351.1" fill="#dc6e58"/>
<rect class="h2" x="172.4" y="351.1" fill="#fbd0b9"/>
<rect class="h2" x="176.7" y="351.1" fill="#fbe5d9"/>
<rect class="h2" x="180.9" y="351.1" fill="#facab1"/>
<rect class="h2" x="185.2" y="351.1" fill="#fddbc7"/>
<rect class="h2" x="189.5" y="351.1" fill="#f4f5f6"/>
<rect class="h2" x="193.8" y="351.1" fill="#f8f1ec"/>
<rect class="h2" x="198.1" y="351.1" fill="#6dadd1"/>
<rect class="h2" x="202.3" y="351.1" fill="#e9f0f4"/>
<rect class="h2" x="206.6" y="351.1" fill="#f9ede6"/>
<rect class="h2" x="210.9" y="351.1" fill="#f9ede6"/>
<rect class="h2" x="215.1" y="351.1" fill="#dae9f2"/>
<rect class="h2" x="219.4" y="351.1" fill="#f8f0eb"/>
<rect class="h2" x="223.7" y="351.1" fill="#f9efe9"/>
<rect class="h2" x="228.0" y="351.1" fill="#a5cfe3"/>
<rect class="h2" x="232.2" y="351.1" fill="#f9eee8"/>
<rect class="h2" x="236.5" y="351.1" fill="#90c4dd"/>
<rect class="h2" x="138.2" y="354.8" fill="#f4f5f6"/>
<rect class="h2" x="142.5" y="354.8" fill="#fbe3d4"/>
<rect class="h2" x="146.8" y="354.8" fill="#deebf2"/>
<rect class="h2" x="151.0" y="354.8" fill="#fae9e0"/>
<rect class="h2" x="155.3" y="354.8" fill="#f5aa88"/>
<rect class="h2" x="159.6" y="354.8" fill="#f9eee8"/>
<rect class="h2" x="163.8" y="354.8" fill="#f8bb9e"/>
<rect class="h2" x="168.1" y="354.8" fill="#f6b090"/>
<rect class="h2" x="172.4" y="354.8" fill="#fbceb6"/>
<rect class="h2" x="176.7" y="354.8" fill="#f9eee8"/>
<rect class="h2" x="180.9" y="354.8" fill="#fddcc9"/>
<rect class="h2" x="185.2" y="354.8" fill="#fae7dc"/>
<rect class="h2" x="189.5" y="354.8" fill="#fddcca"/>
<rect class="h2" x="193.8" y="354.8" fill="#f8f3f1"/>
<rect class="h2" x="198.1" y="354.8" fill="#9fcbe2"/>
<rect class="h2" x="202.3" y="354.8" fill="#e7eff4"/>
<rect class="h2" x="206.6" y="354.8" fill="#fbe5d8"/>
<rect class="h2" x="210.9" y="354.8" fill="#eaf1f5"/>
<rect class="h2" x="215.1" y="354.8" fill="#d2e5f0"/>
<rect class="h2" x="219.4" y="354.8" fill="#c1ddec"/>
<rect class="h2" x="223.7" y="354.8" fill="#95c6df"/>
<rect class="h2" x="228.0" y="354.8" fill="#ecf2f5"/>
<rect class="h2" x="232.2" y="354.8" fill="#cae1ee"/>
<rect class="h2" x="236.5" y="354.8" fill="#b1d5e7"/>
<rect class="h2" x="138.2" y="358.5" fill="#fcdecb"/>
<rect class="h2" x="142.5" y="358.5" fill="#c3deec"/>
<rect class="h2" x="146.8" y="358.5" fill="#f8f2ee"/>
<rect class="h2" x="151.0" y="358.5" fill="#fac9b0"/>
<rect class="h2" x="155.3" y="358.5" fill="#eb9072"/>
<rect class="h2" x="159.6" y="358.5" fill="#fce0cf"/>
<rect class="h2" x="163.8" y="358.5" fill="#f4a785"/>
<rect class="h2" x="168.1" y="358.5" fill="#fddac5"/>
<rect class="h2" x="172.4" y="358.5" fill="#f4a886"/>
<rect class="h2" x="176.7" y="358.5" fill="#e27b61"/>
<rect class="h2" x="180.9" y="358.5" fill="#fbe4d7"/>
<rect class="h2" x="185.2" y="358.5" fill="#fbd0b9"/>
<rect class="h2" x="189.5" y="358.5" fill="#f3f5f6"/>
<rect class="h2" x="193.8" y="358.5" fill="#f7b89b"/>
<rect class="h2" x="198.1" y="358.5" fill="#9ecbe1"/>
<rect class="h2" x="202.3" y="358.5" fill="#aed3e6"/>
<rect class="h2" x="206.6" y="358.5" fill="#d3e6f0"/>
<rect class="h2" x="210.9" y="358.5" fill="#d2e6f0"/>
<rect class="h2" x="215.1" y="358.5" fill="#fce1d1"/>
<rect class="h2" x="219.4" y="358.5" fill="#fbe5d8"/>
<rect class="h2" x="223.7" y="358.5" fill="#cee3ef"/>
<rect class="h2" x="228.0" y="358.5" fill="#80bad8"/>
<rect class="h2" x="232.2" y="358.5" fill="#ddebf2"/>
<rect class="h2" x="236.5" y="358.5" fill="#d6e8f1"/>
<rect class="h2" x="138.2" y="362.2" fill="#fddbc6"/>
<rect class="h2" x="142.5" y="362.2" fill="#f8f2ee"/>
<rect class="h2" x="146.8" y="362.2" fill="#e0ecf3"/>
<rect class="h2" x="151.0" y="362.2" fill="#f7b799"/>
<rect class="h2" x="155.3" y="362.2" fill="#e6856a"/>
<rect class="h2" x="159.6" y="362.2" fill="#ed9475"/>
<rect class="h2" x="163.8" y="362.2" fill="#ef9979"/>
<rect class="h2" x="168.1" y="362.2" fill="#f6f7f7"/>
<rect class="h2" x="172.4" y="362.2" fill="#fce2d2"/>
<rect class="h2" x="176.7" y="362.2" fill="#e98d6f"/>
<rect class="h2" x="180.9" y="362.2" fill="#f6f7f7"/>
<rect class="h2" x="185.2" y="362.2" fill="#f6b191"/>
<rect class="h2" x="189.5" y="362.2" fill="#ed9576"/>
<rect class="h2" x="193.8" y="362.2" fill="#f9c2a7"/>
<rect class="h2" x="198.1" y="362.2" fill="#95c6df"/>
<rect class="h2" x="202.3" y="362.2" fill="#e6eff4"/>
<rect class="h2" x="206.6" y="362.2" fill="#d7e8f1"/>
<rect class="h2" x="210.9" y="362.2" fill="#f8f2ee"/>
<rect class="h2" x="215.1" y="362.2" fill="#f8f4f2"/>
<rect class="h2" x="219.4" y="362.2" fill="#e8f0f4"/>
<rect class="h2" x="223.7" y="362.2" fill="#c1ddeb"/>
<rect class="h2" x="228.0" y="362.2" fill="#bddbea"/>
<rect class="h2" x="232.2" y="362.2" fill="#eaf1f5"/>
<rect class="h2" x="236.5" y="362.2" fill="#9dcae1"/>
<rect class="h2" x="138.2" y="365.9" fill="#fdddca"/>
<rect class="h2" x="142.5" y="365.9" fill="#f3f5f6"/>
<rect class="h2" x="146.8" y="365.9" fill="#ddebf2"/>
<rect class="h2" x="151.0" y="365.9" fill="#fbceb6"/>
<rect class="h2" x="155.3" y="365.9" fill="#fac9b0"/>
<rect class="h2" x="159.6" y="365.9" fill="#facbb3"/>
<rect class="h2" x="163.8" y="365.9" fill="#f29f7e"/>
<rect class="h2" x="168.1" y="365.9" fill="#fac7ad"/>
<rect class="h2" x="172.4" y="365.9" fill="#f9c0a5"/>
<rect class="h2" x="176.7" y="365.9" fill="#f8bfa3"/>
<rect class="h2" x="180.9" y="365.9" fill="#fddbc7"/>
<rect class="h2" x="185.2" y="365.9" fill="#e98c6e"/>
<rect class="h2" x="189.5" y="365.9" fill="#fdd9c5"/>
<rect class="h2" x="193.8" y="365.9" fill="#fcdecc"/>
<rect class="h2" x="198.1" y="365.9" fill="#74b2d4"/>
<rect class="h2" x="202.3" y="365.9" fill="#afd4e6"/>
<rect class="h2" x="206.6" y="365.9" fill="#a2cde3"/>
<rect class="h2" x="210.9" y="365.9" fill="#f4f6f6"/>
<rect class="h2" x="215.1" y="365.9" fill="#e0ecf3"/>
<rect class="h2" x="219.4" y="365.9" fill="#e2edf3"/>
<rect class="h2" x="223.7" y="365.9" fill="#f0f4f6"/>
<rect class="h2" x="228.0" y="365.9" fill="#85bdda"/>
<rect class="h2" x="232.2" y="365.9" fill="#d2e5f0"/>
<rect class="h2" x="236.5" y="365.9" fill="#ddebf2"/>
<rect class="h2" x="138.2" y="369.5" fill="#f0f4f6"/>
<rect class="h2" x="142.5" y="369.5" fill="#eaf1f5"/>
<rect class="h2" x="146.8" y="369.5" fill="#f9c3a8"/>
<rect class="h2" x="151.0" y="369.5" fill="#f9c2a7"/>
<rect class="h2" x="155.3" y="369.5" fill="#fbe6da"/>
<rect class="h2" x="159.6" y="369.5" fill="#fcdfcd"/>
<rect class="h2" x="163.8" y="369.5" fill="#fac6ac"/>
<rect class="h2" x="168.1" y="369.5" fill="#fcd4be"/>
<rect class="h2" x="172.4" y="369.5" fill="#ed9575"/>
<rect class="h2" x="176.7" y="369.5" fill="#f8f1ed"/>
<rect class="h2" x="180.9" y="369.5" fill="#f9c5ab"/>
<rect class="h2" x="185.2" y="369.5" fill="#fddcc9"/>
<rect class="h2" x="189.5" y="369.5" fill="#ebf1f5"/>
<rect class="h2" x="193.8" y="369.5" fill="#fcdfcd"/>
<rect class="h2" x="198.1" y="369.5" fill="#aed3e6"/>
<rect class="h2" x="202.3" y="369.5" fill="#9dcbe1"/>
<rect class="h2" x="206.6" y="369.5" fill="#f7f7f6"/>
<rect class="h2" x="210.9" y="369.5" fill="#e8f0f4"/>
<rect class="h2" x="215.1" y="369.5" fill="#fae8dd"/>
<rect class="h2" x="219.4" y="369.5" fill="#f9ede5"/>
<rect class="h2" x="223.7" y="369.5" fill="#e6eff4"/>
<rect class="h2" x="228.0" y="369.5" fill="#fcdfcd"/>
<rect class="h2" x="232.2" y="369.5" fill="#d4e6f1"/>
<rect class="h2" x="236.5" y="369.5" fill="#c0dceb"/>
<rect class="h2" x="138.2" y="373.2" fill="#f4f6f6"/>
<rect class="h2" x="142.5" y="373.2" fill="#fbe7db"/>
<rect class="h2" x="146.8" y="373.2" fill="#f5f6f7"/>
<rect class="h2" x="151.0" y="373.2" fill="#f8bb9f"/>
<rect class="h2" x="155.3" y="373.2" fill="#f8f4f2"/>
<rect class="h2" x="159.6" y="373.2" fill="#faebe2"/>
<rect class="h2" x="163.8" y="373.2" fill="#ef9a7a"/>
<rect class="h2" x="168.1" y="373.2" fill="#e98c6e"/>
<rect class="h2" x="172.4" y="373.2" fill="#facab1"/>
<rect class="h2" x="176.7" y="373.2" fill="#fbe4d7"/>
<rect class="h2" x="180.9" y="373.2" fill="#f5aa89"/>
<rect class="h2" x="185.2" y="373.2" fill="#d4e7f1"/>
<rect class="h2" x="189.5" y="373.2" fill="#f7f7f7"/>
<rect class="h2" x="193.8" y="373.2" fill="#f9c6ac"/>
<rect class="h2" x="198.1" y="373.2" fill="#68aad0"/>
<rect class="h2" x="202.3" y="373.2" fill="#a5cfe3"/>
<rect class="h2" x="206.6" y="373.2" fill="#e0ecf3"/>
<rect class="h2" x="210.9" y="373.2" fill="#86beda"/>
<rect class="h2" x="215.1" y="373.2" fill="#deebf2"/>
<rect class="h2" x="219.4" y="373.2" fill="#eef3f5"/>
<rect class="h2" x="223.7" y="373.2" fill="#f4f5f6"/>
<rect class="h2" x="228.0" y="373.2" fill="#c4deec"/>
<rect class="h2" x="232.2" y="373.2" fill="#f8f0eb"/>
<rect class="h2" x="236.5" y="373.2" fill="#b4d6e8"/>
<rect class="h2" x="138.2" y="376.9" fill="#fae8dd"/>
<rect class="h2" x="142.5" y="376.9" fill="#ddebf2"/>
<rect class="h2" x="146.8" y="376.9" fill="#c2ddec"/>
<rect class="h2" x="151.0" y="376.9" fill="#e48065"/>
<rect class="h2" x="155.3" y="376.9" fill="#f7b99c"/>
<rect class="h2" x="159.6" y="376.9" fill="#fbe7db"/>
<rect class="h2" x="163.8" y="376.9" fill="#f8bea1"/>
<rect class="h2" x="168.1" y="376.9" fill="#ec9475"/>
<rect class="h2" x="172.4" y="376.9" fill="#d8e8f1"/>
<rect class="h2" x="176.7" y="376.9" fill="#f19f7d"/>
<rect class="h2" x="180.9" y="376.9" fill="#f7ba9c"/>
<rect class="h2" x="185.2" y="376.9" fill="#d5e7f1"/>
<rect class="h2" x="189.5" y="376.9" fill="#facab2"/>
<rect class="h2" x="193.8" y="376.9" fill="#deebf2"/>
<rect class="h2" x="198.1" y="376.9" fill="#75b3d4"/>
<rect class="h2" x="202.3" y="376.9" fill="#6cadd1"/>
<rect class="h2" x="206.6" y="376.9" fill="#c3deec"/>
<rect class="h2" x="210.9" y="376.9" fill="#c2ddec"/>
<rect class="h2" x="215.1" y="376.9" fill="#fbe5d9"/>
<rect class="h2" x="219.4" y="376.9" fill="#f1f4f6"/>
<rect class="h2" x="223.7" y="376.9" fill="#9ecbe1"/>
<rect class="h2" x="228.0" y="376.9" fill="#e5eef4"/>
<rect class="h2" x="232.2" y="376.9" fill="#e3eef3"/>
<rect class="h2" x="236.5" y="376.9" fill="#cae2ee"/>
<rect class="h2" x="138.2" y="380.6" fill="#fddcc9"/>
<rect class="h2" x="142.5" y="380.6" fill="#fae9df"/>
<rect class="h2" x="146.8" y="380.6" fill="#ee9677"/>
<rect class="h2" x="151.0" y="380.6" fill="#fce0cf"/>
<rect class="h2" x="155.3" y="380.6" fill="#f8c0a4"/>
<rect class="h2" x="159.6" y="380.6" fill="#ee9777"/>
<rect class="h2" x="163.8" y="380.6" fill="#fddcc9"/>
<rect class="h2" x="168.1" y="380.6" fill="#fcddcb"/>
<rect class="h2" x="172.4" y="380.6" fill="#fddac5"/>
<rect class="h2" x="176.7" y="380.6" fill="#fcd5c0"/>
<rect class="h2" x="180.9" y="380.6" fill="#f8f4f2"/>
<rect class="h2" x="185.2" y="380.6" fill="#fbceb7"/>
<rect class="h2" x="189.5" y="380.6" fill="#fcd5bf"/>
<rect class="h2" x="193.8" y="380.6" fill="#fcdecc"/>
<rect class="h2" x="198.1" y="380.6" fill="#80b9d8"/>
<rect class="h2" x="202.3" y="380.6" fill="#c7e0ed"/>
<rect class="h2" x="206.6" y="380.6" fill="#cfe4f0"/>
<rect class="h2" x="210.9" y="380.6" fill="#90c4dd"/>
<rect class="h2" x="215.1" y="380.6" fill="#deebf2"/>
<rect class="h2" x="219.4" y="380.6" fill="#faeae1"/>
<rect class="h2" x="223.7" y="380.6" fill="#f8f0eb"/>
<rect class="h2" x="228.0" y="380.6" fill="#c8e0ed"/>
<rect class="h2" x="232.2" y="380.6" fill="#b0d4e7"/>
<rect class="h2" x="236.5" y="380.6" fill="#cbe2ee"/>
<rect class="h2" x="138.2" y="384.3" fill="#f9c4aa"/>
<rect class="h2" x="142.5" y="384.3" fill="#f3f5f6"/>
<rect class="h2" x="146.8" y="384.3" fill="#f9c4aa"/>
<rect class="h2" x="151.0" y="384.3" fill="#fcdecd"/>
<rect class="h2" x="155.3" y="384.3" fill="#f09c7b"/>
<rect class="h2" x="159.6" y="384.3" fill="#ecf2f5"/>
<rect class="h2" x="163.8" y="384.3" fill="#f7b799"/>
<rect class="h2" x="168.1" y="384.3" fill="#fac8af"/>
<rect class="h2" x="172.4" y="384.3" fill="#fdddcb"/>
<rect class="h2" x="176.7" y="384.3" fill="#fbe5d7"/>
<rect class="h2" x="180.9" y="384.3" fill="#fbe3d5"/>
<rect class="h2" x="185.2" y="384.3" fill="#f8f0ec"/>
<rect class="h2" x="189.5" y="384.3" fill="#c7e0ed"/>
<rect class="h2" x="193.8" y="384.3" fill="#f9eee7"/>
<rect class="h2" x="198.1" y="384.3" fill="#b0d4e7"/>
<rect class="h2" x="202.3" y="384.3" fill="#dfecf3"/>
<rect class="h2" x="206.6" y="384.3" fill="#cde3ef"/>
<rect class="h2" x="210.9" y="384.3" fill="#ecf2f5"/>
<rect class="h2" x="215.1" y="384.3" fill="#dae9f2"/>
<rect class="h2" x="219.4" y="384.3" fill="#f1f4f6"/>
<rect class="h2" x="223.7" y="384.3" fill="#c1ddec"/>
<rect class="h2" x="228.0" y="384.3" fill="#89bfdb"/>
<rect class="h2" x="232.2" y="384.3" fill="#d6e7f1"/>
<rect class="h2" x="236.5" y="384.3" fill="#ecf2f5"/>
<rect class="h2" x="138.2" y="387.9" fill="#e6eff4"/>
<rect class="h2" x="142.5" y="387.9" fill="#edf2f5"/>
<rect class="h2" x="146.8" y="387.9" fill="#e2edf3"/>
<rect class="h2" x="151.0" y="387.9" fill="#fbcfb8"/>
<rect class="h2" x="155.3" y="387.9" fill="#ef9a7a"/>
<rect class="h2" x="159.6" y="387.9" fill="#fcd4be"/>
<rect class="h2" x="163.8" y="387.9" fill="#fcd6c1"/>
<rect class="h2" x="168.1" y="387.9" fill="#e17961"/>
<rect class="h2" x="172.4" y="387.9" fill="#f09b7a"/>
<rect class="h2" x="176.7" y="387.9" fill="#f5a986"/>
<rect class="h2" x="180.9" y="387.9" fill="#f4a785"/>
<rect class="h2" x="185.2" y="387.9" fill="#fae7dc"/>
<rect class="h2" x="189.5" y="387.9" fill="#fae7dc"/>
<rect class="h2" x="193.8" y="387.9" fill="#f6b292"/>
<rect class="h2" x="198.1" y="387.9" fill="#3e8cc0"/>
<rect class="h2" x="202.3" y="387.9" fill="#d1e5f0"/>
<rect class="h2" x="206.6" y="387.9" fill="#f8f3f1"/>
<rect class="h2" x="210.9" y="387.9" fill="#d5e7f1"/>
<rect class="h2" x="215.1" y="387.9" fill="#cae1ee"/>
<rect class="h2" x="219.4" y="387.9" fill="#fcd7c2"/>
<rect class="h2" x="223.7" y="387.9" fill="#eef3f5"/>
<rect class="h2" x="228.0" y="387.9" fill="#f4f6f6"/>
<rect class="h2" x="232.2" y="387.9" fill="#a6cfe4"/>
<rect class="h2" x="236.5" y="387.9" fill="#f9ece3"/>
<rect class="h2" x="138.2" y="391.6" fill="#e5eff4"/>
<rect class="h2" x="142.5" y="391.6" fill="#f7f5f4"/>
<rect class="h2" x="146.8" y="391.6" fill="#fbe5d8"/>
<rect class="h2" x="151.0" y="391.6" fill="#f7b89b"/>
<rect class="h2" x="155.3" y="391.6" fill="#fbccb4"/>
<rect class="h2" x="159.6" y="391.6" fill="#ef9a7a"/>
<rect class="h2" x="163.8" y="391.6" fill="#fac8af"/>
<rect class="h2" x="168.1" y="391.6" fill="#f19e7c"/>
<rect class="h2" x="172.4" y="391.6" fill="#ed9576"/>
<rect class="h2" x="176.7" y="391.6" fill="#f7b496"/>
<rect class="h2" x="180.9" y="391.6" fill="#f7ba9d"/>
<rect class="h2" x="185.2" y="391.6" fill="#f2f5f6"/>
<rect class="h2" x="189.5" y="391.6" fill="#e7eff4"/>
<rect class="h2" x="193.8" y="391.6" fill="#f9eee8"/>
<rect class="h2" x="198.1" y="391.6" fill="#2f78b5"/>
<rect class="h2" x="202.3" y="391.6" fill="#bcdaea"/>
<rect class="h2" x="206.6" y="391.6" fill="#f7f7f6"/>
<rect class="h2" x="210.9" y="391.6" fill="#fae9df"/>
<rect class="h2" x="215.1" y="391.6" fill="#bcdaea"/>
<rect class="h2" x="219.4" y="391.6" fill="#c9e1ee"/>
<rect class="h2" x="223.7" y="391.6" fill="#dae9f2"/>
<rect class="h2" x="228.0" y="391.6" fill="#6cadd1"/>
<rect class="h2" x="232.2" y="391.6" fill="#e8f0f4"/>
<rect class="h2" x="236.5" y="391.6" fill="#e5eff4"/>
<rect class="h2" x="138.2" y="395.3" fill="#f9ece4"/>
<rect class="h2" x="142.5" y="395.3" fill="#f9c4aa"/>
<rect class="h2" x="146.8" y="395.3" fill="#ddebf2"/>
<rect class="h2" x="151.0" y="395.3" fill="#f8bb9e"/>
<rect class="h2" x="155.3" y="395.3" fill="#fce1d1"/>
<rect class="h2" x="159.6" y="395.3" fill="#fbe3d4"/>
<rect class="h2" x="163.8" y="395.3" fill="#fbccb4"/>
<rect class="h2" x="168.1" y="395.3" fill="#f2a07e"/>
<rect class="h2" x="172.4" y="395.3" fill="#f8bfa4"/>
<rect class="h2" x="176.7" y="395.3" fill="#f09b7a"/>
<rect class="h2" x="180.9" y="395.3" fill="#f8f2ee"/>
<rect class="h2" x="185.2" y="395.3" fill="#f8bc9f"/>
<rect class="h2" x="189.5" y="395.3" fill="#f9c3a9"/>
<rect class="h2" x="193.8" y="395.3" fill="#fcdecc"/>
<rect class="h2" x="198.1" y="395.3" fill="#62a6cd"/>
<rect class="h2" x="202.3" y="395.3" fill="#e5eef4"/>
<rect class="h2" x="206.6" y="395.3" fill="#f7f6f5"/>
<rect class="h2" x="210.9" y="395.3" fill="#eaf1f5"/>
<rect class="h2" x="215.1" y="395.3" fill="#f1f4f6"/>
<rect class="h2" x="219.4" y="395.3" fill="#fbe5d8"/>
<rect class="h2" x="223.7" y="395.3" fill="#bedbeb"/>
<rect class="h2" x="228.0" y="395.3" fill="#d9e9f1"/>
<rect class="h2" x="232.2" y="395.3" fill="#bcdaea"/>
<rect class="h2" x="236.5" y="395.3" fill="#f4f6f6"/>
<path d="M142.47 211.3V398.98M146.75 211.3V398.98M151.02 211.3V398.98M155.30 211.3V398.98M159.57 211.3V398.98M163.85 211.3V398.98M168.12 211.3V398.98M172.40 211.3V398.98M176.67 211.3V398.98M180.95 211.3V398.98M185.22 211.3V398.98M189.50 211.3V398.98M193.77 211.3V398.98M198.05 211.3V398.98M202.32 211.3V398.98M206.60 211.3V398.98M210.88 211.3V398.98M215.15 211.3V398.98M219.43 211.3V398.98M223.70 211.3V398.98M227.97 211.3V398.98M232.25 211.3V398.98M236.52 211.3V398.98M138.2 214.98H240.80M138.2 218.66H240.80M138.2 222.34H240.80M138.2 226.02H240.80M138.2 229.70H240.80M138.2 233.38H240.80M138.2 237.06H240.80M138.2 240.74H240.80M138.2 244.42H240.80M138.2 248.10H240.80M138.2 251.78H240.80M138.2 255.46H240.80M138.2 259.14H240.80M138.2 262.82H240.80M138.2 266.50H240.80M138.2 270.18H240.80M138.2 273.86H240.80M138.2 277.54H240.80M138.2 281.22H240.80M138.2 284.90H240.80M138.2 288.58H240.80M138.2 292.26H240.80M138.2 295.94H240.80M138.2 299.62H240.80M138.2 303.30H240.80M138.2 306.98H240.80M138.2 310.66H240.80M138.2 314.34H240.80M138.2 318.02H240.80M138.2 321.70H240.80M138.2 325.38H240.80M138.2 329.06H240.80M138.2 332.74H240.80M138.2 336.42H240.80M138.2 340.10H240.80M138.2 343.78H240.80M138.2 347.46H240.80M138.2 351.14H240.80M138.2 354.82H240.80M138.2 358.50H240.80M138.2 362.18H240.80M138.2 365.86H240.80M138.2 369.54H240.80M138.2 373.22H240.80M138.2 376.90H240.80M138.2 380.58H240.80M138.2 384.26H240.80M138.2 387.94H240.80M138.2 391.62H240.80M138.2 395.30H240.80" stroke="rgba(255,255,255,0.55)" stroke-width="0.5" fill="none"/>
<rect x="138.2" y="208.6" width="58.3" height="2.7" fill="#6793cd"/>
<rect x="196.5" y="208.6" width="44.1" height="2.7" fill="#f2b76e"/>
<rect x="196.3" y="211.2" width="44.2" height="40.9" fill="none" stroke="#c0313c" stroke-width="1.1"/>
<rect x="137.6" y="252.2" width="59.1" height="147" fill="none" stroke="#2d3c80" stroke-width="1.1"/>
<text x="189" y="202.7" font-size="8.3" fill="#3d6ea6" stroke="#3d6ea6" stroke-width="0.18" font-weight="normal" font-style="italic" text-anchor="middle" >Soleus</text>
<rect x="171.5" y="402.5" width="41.5" height="2.6" rx="1.3" fill="url(#cb)"/>
<text x="163.5" y="405.90000000000003" font-size="6.2" fill="#333" stroke="#333" stroke-width="0.18" font-weight="normal" font-style="normal" text-anchor="start" >&#8722;3</text>
<text x="214.2" y="405.90000000000003" font-size="6.2" fill="#333" stroke="#333" stroke-width="0.18" font-weight="normal" font-style="normal" text-anchor="start" >3</text>
<style>.h3{width:4.61px;height:10.46px}</style>
<rect class="h3" x="18.2" y="448.6" fill="#f7f7f7"/>
<rect class="h3" x="22.8" y="448.6" fill="#f7f7f7"/>
<rect class="h3" x="27.3" y="448.6" fill="#f7f7f7"/>
<rect class="h3" x="31.8" y="448.6" fill="#72b1d3"/>
<rect class="h3" x="36.4" y="448.6" fill="#f7f7f7"/>
<rect class="h3" x="41.0" y="448.6" fill="#f7f7f7"/>
<rect class="h3" x="45.5" y="448.6" fill="#faeae1"/>
<rect class="h3" x="50.0" y="448.6" fill="#faeae1"/>
<rect class="h3" x="54.6" y="448.6" fill="#72b1d3"/>
<rect class="h3" x="59.1" y="448.6" fill="#f7f7f7"/>
<rect class="h3" x="63.7" y="448.6" fill="#e6eff4"/>
<rect class="h3" x="68.2" y="448.6" fill="#f7f7f7"/>
<rect class="h3" x="72.8" y="448.6" fill="#f9efe9"/>
<rect class="h3" x="77.3" y="448.6" fill="#f7f7f7"/>
<rect class="h3" x="81.9" y="448.6" fill="#f9efe9"/>
<rect class="h3" x="86.5" y="448.6" fill="#f7f7f7"/>
<rect class="h3" x="91.0" y="448.6" fill="#f7f7f7"/>
<rect class="h3" x="95.5" y="448.6" fill="#7eb8d7"/>
<rect class="h3" x="100.1" y="448.6" fill="#f7f7f7"/>
<rect class="h3" x="104.7" y="448.6" fill="#f7f7f7"/>
<rect class="h3" x="109.2" y="448.6" fill="#f8c0a4"/>
<rect class="h3" x="113.8" y="448.6" fill="#f7f7f7"/>
<rect class="h3" x="118.3" y="448.6" fill="#fbe6da"/>
<rect class="h3" x="122.8" y="448.6" fill="#fce2d3"/>
<rect class="h3" x="18.2" y="459.0" fill="#f7f7f7"/>
<rect class="h3" x="22.8" y="459.0" fill="#e0ecf3"/>
<rect class="h3" x="27.3" y="459.0" fill="#faeae1"/>
<rect class="h3" x="31.8" y="459.0" fill="#d5e7f1"/>
<rect class="h3" x="36.4" y="459.0" fill="#daeaf2"/>
<rect class="h3" x="41.0" y="459.0" fill="#daeaf2"/>
<rect class="h3" x="45.5" y="459.0" fill="#daeaf2"/>
<rect class="h3" x="50.0" y="459.0" fill="#fcdecc"/>
<rect class="h3" x="54.6" y="459.0" fill="#d5e7f1"/>
<rect class="h3" x="59.1" y="459.0" fill="#d5e7f1"/>
<rect class="h3" x="63.7" y="459.0" fill="#e0ecf3"/>
<rect class="h3" x="68.2" y="459.0" fill="#f7f7f7"/>
<rect class="h3" x="72.8" y="459.0" fill="#fac8af"/>
<rect class="h3" x="77.3" y="459.0" fill="#f7f7f7"/>
<rect class="h3" x="81.9" y="459.0" fill="#fbd0b9"/>
<rect class="h3" x="86.5" y="459.0" fill="#e6eff4"/>
<rect class="h3" x="91.0" y="459.0" fill="#daeaf2"/>
<rect class="h3" x="95.5" y="459.0" fill="#daeaf2"/>
<rect class="h3" x="100.1" y="459.0" fill="#faeae1"/>
<rect class="h3" x="104.7" y="459.0" fill="#e0ecf3"/>
<rect class="h3" x="109.2" y="459.0" fill="#f8c0a4"/>
<rect class="h3" x="113.8" y="459.0" fill="#e6eff4"/>
<rect class="h3" x="118.3" y="459.0" fill="#fdd8c4"/>
<rect class="h3" x="122.8" y="459.0" fill="#fcdecc"/>
<rect class="h3" x="18.2" y="469.4" fill="#fbd0b9"/>
<rect class="h3" x="22.8" y="469.4" fill="#daeaf2"/>
<rect class="h3" x="27.3" y="469.4" fill="#fac8af"/>
<rect class="h3" x="31.8" y="469.4" fill="#e0ecf3"/>
<rect class="h3" x="36.4" y="469.4" fill="#fdd8c4"/>
<rect class="h3" x="41.0" y="469.4" fill="#d5e7f1"/>
<rect class="h3" x="45.5" y="469.4" fill="#f7f7f7"/>
<rect class="h3" x="50.0" y="469.4" fill="#f7f7f7"/>
<rect class="h3" x="54.6" y="469.4" fill="#67aacf"/>
<rect class="h3" x="59.1" y="469.4" fill="#d5e7f1"/>
<rect class="h3" x="63.7" y="469.4" fill="#f7f7f7"/>
<rect class="h3" x="68.2" y="469.4" fill="#f7f7f7"/>
<rect class="h3" x="72.8" y="469.4" fill="#f7f7f7"/>
<rect class="h3" x="77.3" y="469.4" fill="#f7f7f7"/>
<rect class="h3" x="81.9" y="469.4" fill="#f9efe9"/>
<rect class="h3" x="86.5" y="469.4" fill="#d5e7f1"/>
<rect class="h3" x="91.0" y="469.4" fill="#fcdecc"/>
<rect class="h3" x="95.5" y="469.4" fill="#fdd8c4"/>
<rect class="h3" x="100.1" y="469.4" fill="#fdd8c4"/>
<rect class="h3" x="104.7" y="469.4" fill="#f7f7f7"/>
<rect class="h3" x="109.2" y="469.4" fill="#f8c0a4"/>
<rect class="h3" x="113.8" y="469.4" fill="#f7f7f7"/>
<rect class="h3" x="118.3" y="469.4" fill="#faeae1"/>
<rect class="h3" x="122.8" y="469.4" fill="#faeae1"/>
<rect class="h3" x="18.2" y="479.8" fill="#d5e7f1"/>
<rect class="h3" x="22.8" y="479.8" fill="#e0ecf3"/>
<rect class="h3" x="27.3" y="479.8" fill="#f7f7f7"/>
<rect class="h3" x="31.8" y="479.8" fill="#95c7df"/>
<rect class="h3" x="36.4" y="479.8" fill="#f7f7f7"/>
<rect class="h3" x="41.0" y="479.8" fill="#c4dfec"/>
<rect class="h3" x="45.5" y="479.8" fill="#e0ecf3"/>
<rect class="h3" x="50.0" y="479.8" fill="#fac8af"/>
<rect class="h3" x="54.6" y="479.8" fill="#f7f7f7"/>
<rect class="h3" x="59.1" y="479.8" fill="#ecf2f5"/>
<rect class="h3" x="63.7" y="479.8" fill="#faeae1"/>
<rect class="h3" x="68.2" y="479.8" fill="#faeae1"/>
<rect class="h3" x="72.8" y="479.8" fill="#fbe6da"/>
<rect class="h3" x="77.3" y="479.8" fill="#faeae1"/>
<rect class="h3" x="81.9" y="479.8" fill="#f7f7f7"/>
<rect class="h3" x="86.5" y="479.8" fill="#fdd8c4"/>
<rect class="h3" x="91.0" y="479.8" fill="#9fcbe2"/>
<rect class="h3" x="95.5" y="479.8" fill="#e0ecf3"/>
<rect class="h3" x="100.1" y="479.8" fill="#e0ecf3"/>
<rect class="h3" x="104.7" y="479.8" fill="#faeae1"/>
<rect class="h3" x="109.2" y="479.8" fill="#f8c0a4"/>
<rect class="h3" x="113.8" y="479.8" fill="#f7f7f7"/>
<rect class="h3" x="118.3" y="479.8" fill="#f4a885"/>
<rect class="h3" x="122.8" y="479.8" fill="#fbe6da"/>
<rect class="h3" x="18.2" y="490.2" fill="#f7f7f7"/>
<rect class="h3" x="22.8" y="490.2" fill="#bbdaea"/>
<rect class="h3" x="27.3" y="490.2" fill="#f7f7f7"/>
<rect class="h3" x="31.8" y="490.2" fill="#f7f7f7"/>
<rect class="h3" x="36.4" y="490.2" fill="#fce2d3"/>
<rect class="h3" x="41.0" y="490.2" fill="#f7f7f7"/>
<rect class="h3" x="45.5" y="490.2" fill="#f7f7f7"/>
<rect class="h3" x="50.0" y="490.2" fill="#fdd8c4"/>
<rect class="h3" x="54.6" y="490.2" fill="#a8d0e4"/>
<rect class="h3" x="59.1" y="490.2" fill="#9fcbe2"/>
<rect class="h3" x="63.7" y="490.2" fill="#f7f7f7"/>
<rect class="h3" x="68.2" y="490.2" fill="#f7f7f7"/>
<rect class="h3" x="72.8" y="490.2" fill="#f7f7f7"/>
<rect class="h3" x="77.3" y="490.2" fill="#f7f7f7"/>
<rect class="h3" x="81.9" y="490.2" fill="#ecf2f5"/>
<rect class="h3" x="86.5" y="490.2" fill="#fbe6da"/>
<rect class="h3" x="91.0" y="490.2" fill="#f7f7f7"/>
<rect class="h3" x="95.5" y="490.2" fill="#f7f7f7"/>
<rect class="h3" x="100.1" y="490.2" fill="#f7f7f7"/>
<rect class="h3" x="104.7" y="490.2" fill="#f8c0a4"/>
<rect class="h3" x="109.2" y="490.2" fill="#faeae1"/>
<rect class="h3" x="113.8" y="490.2" fill="#f7f7f7"/>
<rect class="h3" x="118.3" y="490.2" fill="#e47f65"/>
<rect class="h3" x="122.8" y="490.2" fill="#fbe6da"/>
<rect class="h3" x="18.2" y="500.6" fill="#f7f7f7"/>
<rect class="h3" x="22.8" y="500.6" fill="#f1f4f6"/>
<rect class="h3" x="27.3" y="500.6" fill="#f7f7f7"/>
<rect class="h3" x="31.8" y="500.6" fill="#f7f7f7"/>
<rect class="h3" x="36.4" y="500.6" fill="#f7f7f7"/>
<rect class="h3" x="41.0" y="500.6" fill="#f1f4f6"/>
<rect class="h3" x="45.5" y="500.6" fill="#f7f7f7"/>
<rect class="h3" x="50.0" y="500.6" fill="#f8f3f0"/>
<rect class="h3" x="54.6" y="500.6" fill="#f7f7f7"/>
<rect class="h3" x="59.1" y="500.6" fill="#f7f7f7"/>
<rect class="h3" x="63.7" y="500.6" fill="#f7f7f7"/>
<rect class="h3" x="68.2" y="500.6" fill="#f7f7f7"/>
<rect class="h3" x="72.8" y="500.6" fill="#f7f7f7"/>
<rect class="h3" x="77.3" y="500.6" fill="#f7f7f7"/>
<rect class="h3" x="81.9" y="500.6" fill="#f7f7f7"/>
<rect class="h3" x="86.5" y="500.6" fill="#f7f7f7"/>
<rect class="h3" x="91.0" y="500.6" fill="#f1f4f6"/>
<rect class="h3" x="95.5" y="500.6" fill="#faeae1"/>
<rect class="h3" x="100.1" y="500.6" fill="#f7f7f7"/>
<rect class="h3" x="104.7" y="500.6" fill="#f7f7f7"/>
<rect class="h3" x="109.2" y="500.6" fill="#fdd8c4"/>
<rect class="h3" x="113.8" y="500.6" fill="#f7f7f7"/>
<rect class="h3" x="118.3" y="500.6" fill="#c41020"/>
<rect class="h3" x="122.8" y="500.6" fill="#f4a885"/>
<rect class="h3" x="18.2" y="511.0" fill="#f7f7f7"/>
<rect class="h3" x="22.8" y="511.0" fill="#f7f7f7"/>
<rect class="h3" x="27.3" y="511.0" fill="#daeaf2"/>
<rect class="h3" x="31.8" y="511.0" fill="#b2d5e7"/>
<rect class="h3" x="36.4" y="511.0" fill="#faeae1"/>
<rect class="h3" x="41.0" y="511.0" fill="#f7f7f7"/>
<rect class="h3" x="45.5" y="511.0" fill="#ecf2f5"/>
<rect class="h3" x="50.0" y="511.0" fill="#fbd0b9"/>
<rect class="h3" x="54.6" y="511.0" fill="#f7f7f7"/>
<rect class="h3" x="59.1" y="511.0" fill="#d5e7f1"/>
<rect class="h3" x="63.7" y="511.0" fill="#daeaf2"/>
<rect class="h3" x="68.2" y="511.0" fill="#daeaf2"/>
<rect class="h3" x="72.8" y="511.0" fill="#cee3ef"/>
<rect class="h3" x="77.3" y="511.0" fill="#f7f7f7"/>
<rect class="h3" x="81.9" y="511.0" fill="#f7f7f7"/>
<rect class="h3" x="86.5" y="511.0" fill="#f7f7f7"/>
<rect class="h3" x="91.0" y="511.0" fill="#f7f7f7"/>
<rect class="h3" x="95.5" y="511.0" fill="#fdd8c4"/>
<rect class="h3" x="100.1" y="511.0" fill="#f7f7f7"/>
<rect class="h3" x="104.7" y="511.0" fill="#f8c0a4"/>
<rect class="h3" x="109.2" y="511.0" fill="#df755d"/>
<rect class="h3" x="113.8" y="511.0" fill="#f7f7f7"/>
<rect class="h3" x="118.3" y="511.0" fill="#f7f7f7"/>
<rect class="h3" x="122.8" y="511.0" fill="#fce2d3"/>
<rect class="h3" x="18.2" y="521.4" fill="#f7f7f7"/>
<rect class="h3" x="22.8" y="521.4" fill="#ecf2f5"/>
<rect class="h3" x="27.3" y="521.4" fill="#f7f7f7"/>
<rect class="h3" x="31.8" y="521.4" fill="#f7f7f7"/>
<rect class="h3" x="36.4" y="521.4" fill="#f7f7f7"/>
<rect class="h3" x="41.0" y="521.4" fill="#f9efe9"/>
<rect class="h3" x="45.5" y="521.4" fill="#f9efe9"/>
<rect class="h3" x="50.0" y="521.4" fill="#f9efe9"/>
<rect class="h3" x="54.6" y="521.4" fill="#f7f7f7"/>
<rect class="h3" x="59.1" y="521.4" fill="#f7f7f7"/>
<rect class="h3" x="63.7" y="521.4" fill="#f7f7f7"/>
<rect class="h3" x="68.2" y="521.4" fill="#f7f7f7"/>
<rect class="h3" x="72.8" y="521.4" fill="#f7f7f7"/>
<rect class="h3" x="77.3" y="521.4" fill="#f7f7f7"/>
<rect class="h3" x="81.9" y="521.4" fill="#f7f7f7"/>
<rect class="h3" x="86.5" y="521.4" fill="#f1f4f6"/>
<rect class="h3" x="91.0" y="521.4" fill="#f7f7f7"/>
<rect class="h3" x="95.5" y="521.4" fill="#f7f7f7"/>
<rect class="h3" x="100.1" y="521.4" fill="#fce2d3"/>
<rect class="h3" x="104.7" y="521.4" fill="#e8896d"/>
<rect class="h3" x="109.2" y="521.4" fill="#da6a55"/>
<rect class="h3" x="113.8" y="521.4" fill="#f7f7f7"/>
<rect class="h3" x="118.3" y="521.4" fill="#f7f7f7"/>
<rect class="h3" x="122.8" y="521.4" fill="#f19e7d"/>
<rect class="h3" x="18.2" y="531.8" fill="#f7f7f7"/>
<rect class="h3" x="22.8" y="531.8" fill="#a8d0e4"/>
<rect class="h3" x="27.3" y="531.8" fill="#a8d0e4"/>
<rect class="h3" x="31.8" y="531.8" fill="#f7f7f7"/>
<rect class="h3" x="36.4" y="531.8" fill="#fce2d3"/>
<rect class="h3" x="41.0" y="531.8" fill="#fbe6da"/>
<rect class="h3" x="45.5" y="531.8" fill="#fce2d3"/>
<rect class="h3" x="50.0" y="531.8" fill="#fce2d3"/>
<rect class="h3" x="54.6" y="531.8" fill="#f7f7f7"/>
<rect class="h3" x="59.1" y="531.8" fill="#a8d0e4"/>
<rect class="h3" x="63.7" y="531.8" fill="#a8d0e4"/>
<rect class="h3" x="68.2" y="531.8" fill="#f9efe9"/>
<rect class="h3" x="72.8" y="531.8" fill="#f9efe9"/>
<rect class="h3" x="77.3" y="531.8" fill="#f7f7f7"/>
<rect class="h3" x="81.9" y="531.8" fill="#fbd0b9"/>
<rect class="h3" x="86.5" y="531.8" fill="#fbd0b9"/>
<rect class="h3" x="91.0" y="531.8" fill="#f7f7f7"/>
<rect class="h3" x="95.5" y="531.8" fill="#95c7df"/>
<rect class="h3" x="100.1" y="531.8" fill="#f7f7f7"/>
<rect class="h3" x="104.7" y="531.8" fill="#fbe6da"/>
<rect class="h3" x="109.2" y="531.8" fill="#fbe6da"/>
<rect class="h3" x="113.8" y="531.8" fill="#fbe6da"/>
<rect class="h3" x="118.3" y="531.8" fill="#fce2d3"/>
<rect class="h3" x="122.8" y="531.8" fill="#f7f7f7"/>
<rect class="h3" x="18.2" y="542.2" fill="#f7f7f7"/>
<rect class="h3" x="22.8" y="542.2" fill="#e6eff4"/>
<rect class="h3" x="27.3" y="542.2" fill="#e6eff4"/>
<rect class="h3" x="31.8" y="542.2" fill="#9fcbe2"/>
<rect class="h3" x="36.4" y="542.2" fill="#f7f7f7"/>
<rect class="h3" x="41.0" y="542.2" fill="#ecf2f5"/>
<rect class="h3" x="45.5" y="542.2" fill="#f7f7f7"/>
<rect class="h3" x="50.0" y="542.2" fill="#f7b89a"/>
<rect class="h3" x="54.6" y="542.2" fill="#f7f7f7"/>
<rect class="h3" x="59.1" y="542.2" fill="#c4dfec"/>
<rect class="h3" x="63.7" y="542.2" fill="#c4dfec"/>
<rect class="h3" x="68.2" y="542.2" fill="#f7f7f7"/>
<rect class="h3" x="72.8" y="542.2" fill="#daeaf2"/>
<rect class="h3" x="77.3" y="542.2" fill="#f7f7f7"/>
<rect class="h3" x="81.9" y="542.2" fill="#f7f7f7"/>
<rect class="h3" x="86.5" y="542.2" fill="#fbd0b9"/>
<rect class="h3" x="91.0" y="542.2" fill="#f7f7f7"/>
<rect class="h3" x="95.5" y="542.2" fill="#ecf2f5"/>
<rect class="h3" x="100.1" y="542.2" fill="#f7f7f7"/>
<rect class="h3" x="104.7" y="542.2" fill="#f7f7f7"/>
<rect class="h3" x="109.2" y="542.2" fill="#fbd0b9"/>
<rect class="h3" x="113.8" y="542.2" fill="#df755d"/>
<rect class="h3" x="118.3" y="542.2" fill="#fce2d3"/>
<rect class="h3" x="122.8" y="542.2" fill="#f7f7f7"/>
<rect class="h3" x="18.2" y="552.6" fill="#f7f7f7"/>
<rect class="h3" x="22.8" y="552.6" fill="#f7f7f7"/>
<rect class="h3" x="27.3" y="552.6" fill="#f7f7f7"/>
<rect class="h3" x="31.8" y="552.6" fill="#f7f7f7"/>
<rect class="h3" x="36.4" y="552.6" fill="#fce2d3"/>
<rect class="h3" x="41.0" y="552.6" fill="#f9efe9"/>
<rect class="h3" x="45.5" y="552.6" fill="#ecf2f5"/>
<rect class="h3" x="50.0" y="552.6" fill="#f7f7f7"/>
<rect class="h3" x="54.6" y="552.6" fill="#f7f7f7"/>
<rect class="h3" x="59.1" y="552.6" fill="#a8d0e4"/>
<rect class="h3" x="63.7" y="552.6" fill="#d5e7f1"/>
<rect class="h3" x="68.2" y="552.6" fill="#d5e7f1"/>
<rect class="h3" x="72.8" y="552.6" fill="#fdd8c4"/>
<rect class="h3" x="77.3" y="552.6" fill="#f7f7f7"/>
<rect class="h3" x="81.9" y="552.6" fill="#f7f7f7"/>
<rect class="h3" x="86.5" y="552.6" fill="#f4a885"/>
<rect class="h3" x="91.0" y="552.6" fill="#f7f7f7"/>
<rect class="h3" x="95.5" y="552.6" fill="#bbdaea"/>
<rect class="h3" x="100.1" y="552.6" fill="#f7f7f7"/>
<rect class="h3" x="104.7" y="552.6" fill="#fbe6da"/>
<rect class="h3" x="109.2" y="552.6" fill="#daeaf2"/>
<rect class="h3" x="113.8" y="552.6" fill="#f7f7f7"/>
<rect class="h3" x="118.3" y="552.6" fill="#f19e7d"/>
<rect class="h3" x="122.8" y="552.6" fill="#f7f7f7"/>
<rect class="h3" x="18.2" y="563.0" fill="#f7f7f7"/>
<rect class="h3" x="22.8" y="563.0" fill="#bbdaea"/>
<rect class="h3" x="27.3" y="563.0" fill="#f7f7f7"/>
<rect class="h3" x="31.8" y="563.0" fill="#f7f7f7"/>
<rect class="h3" x="36.4" y="563.0" fill="#f9efe9"/>
<rect class="h3" x="41.0" y="563.0" fill="#d5e7f1"/>
<rect class="h3" x="45.5" y="563.0" fill="#f7f7f7"/>
<rect class="h3" x="50.0" y="563.0" fill="#d5e7f1"/>
<rect class="h3" x="54.6" y="563.0" fill="#d5e7f1"/>
<rect class="h3" x="59.1" y="563.0" fill="#f7f7f7"/>
<rect class="h3" x="63.7" y="563.0" fill="#f7f7f7"/>
<rect class="h3" x="68.2" y="563.0" fill="#f7f7f7"/>
<rect class="h3" x="72.8" y="563.0" fill="#f7f7f7"/>
<rect class="h3" x="77.3" y="563.0" fill="#fbe6da"/>
<rect class="h3" x="81.9" y="563.0" fill="#fbe6da"/>
<rect class="h3" x="86.5" y="563.0" fill="#f4a885"/>
<rect class="h3" x="91.0" y="563.0" fill="#f7f7f7"/>
<rect class="h3" x="95.5" y="563.0" fill="#9fcbe2"/>
<rect class="h3" x="100.1" y="563.0" fill="#f7f7f7"/>
<rect class="h3" x="104.7" y="563.0" fill="#f7f7f7"/>
<rect class="h3" x="109.2" y="563.0" fill="#f7f7f7"/>
<rect class="h3" x="113.8" y="563.0" fill="#f7f7f7"/>
<rect class="h3" x="118.3" y="563.0" fill="#e8896d"/>
<rect class="h3" x="122.8" y="563.0" fill="#f7f7f7"/>
<rect class="h3" x="18.2" y="573.4" fill="#c4dfec"/>
<rect class="h3" x="22.8" y="573.4" fill="#c4dfec"/>
<rect class="h3" x="27.3" y="573.4" fill="#c4dfec"/>
<rect class="h3" x="31.8" y="573.4" fill="#c4dfec"/>
<rect class="h3" x="36.4" y="573.4" fill="#fbd0b9"/>
<rect class="h3" x="41.0" y="573.4" fill="#faeae1"/>
<rect class="h3" x="45.5" y="573.4" fill="#f7f7f7"/>
<rect class="h3" x="50.0" y="573.4" fill="#f7f7f7"/>
<rect class="h3" x="54.6" y="573.4" fill="#f7f7f7"/>
<rect class="h3" x="59.1" y="573.4" fill="#f1f4f6"/>
<rect class="h3" x="63.7" y="573.4" fill="#e6eff4"/>
<rect class="h3" x="68.2" y="573.4" fill="#d5e7f1"/>
<rect class="h3" x="72.8" y="573.4" fill="#f7f7f7"/>
<rect class="h3" x="77.3" y="573.4" fill="#f7f7f7"/>
<rect class="h3" x="81.9" y="573.4" fill="#fbe6da"/>
<rect class="h3" x="86.5" y="573.4" fill="#df755d"/>
<rect class="h3" x="91.0" y="573.4" fill="#fbe6da"/>
<rect class="h3" x="95.5" y="573.4" fill="#f7f7f7"/>
<rect class="h3" x="100.1" y="573.4" fill="#faeae1"/>
<rect class="h3" x="104.7" y="573.4" fill="#fbe6da"/>
<rect class="h3" x="109.2" y="573.4" fill="#fbe6da"/>
<rect class="h3" x="113.8" y="573.4" fill="#cee3ef"/>
<rect class="h3" x="118.3" y="573.4" fill="#f7f7f7"/>
<rect class="h3" x="122.8" y="573.4" fill="#fbe6da"/>
<rect class="h3" x="18.2" y="583.8" fill="#cee3ef"/>
<rect class="h3" x="22.8" y="583.8" fill="#cee3ef"/>
<rect class="h3" x="27.3" y="583.8" fill="#cee3ef"/>
<rect class="h3" x="31.8" y="583.8" fill="#d5e7f1"/>
<rect class="h3" x="36.4" y="583.8" fill="#fbe6da"/>
<rect class="h3" x="41.0" y="583.8" fill="#f7f7f7"/>
<rect class="h3" x="45.5" y="583.8" fill="#fbe6da"/>
<rect class="h3" x="50.0" y="583.8" fill="#f7f7f7"/>
<rect class="h3" x="54.6" y="583.8" fill="#daeaf2"/>
<rect class="h3" x="59.1" y="583.8" fill="#f7f7f7"/>
<rect class="h3" x="63.7" y="583.8" fill="#daeaf2"/>
<rect class="h3" x="68.2" y="583.8" fill="#daeaf2"/>
<rect class="h3" x="72.8" y="583.8" fill="#faeae1"/>
<rect class="h3" x="77.3" y="583.8" fill="#f7f7f7"/>
<rect class="h3" x="81.9" y="583.8" fill="#f8c0a4"/>
<rect class="h3" x="86.5" y="583.8" fill="#f6b090"/>
<rect class="h3" x="91.0" y="583.8" fill="#f7f7f7"/>
<rect class="h3" x="95.5" y="583.8" fill="#f7f7f7"/>
<rect class="h3" x="100.1" y="583.8" fill="#e6eff4"/>
<rect class="h3" x="104.7" y="583.8" fill="#fbe6da"/>
<rect class="h3" x="109.2" y="583.8" fill="#fbe6da"/>
<rect class="h3" x="113.8" y="583.8" fill="#cee3ef"/>
<rect class="h3" x="118.3" y="583.8" fill="#fbe6da"/>
<rect class="h3" x="122.8" y="583.8" fill="#fbd0b9"/>
<rect x="18.2" y="445.6" width="52.6" height="2.6" fill="#6793cd"/>
<rect x="70.8" y="445.6" width="56.5" height="2.6" fill="#f2b76e"/>
<text x="73" y="440.9" font-size="8.4" fill="#f2ac4a" stroke="#f2ac4a" stroke-width="0.18" font-weight="normal" font-style="italic" text-anchor="middle" >Gastroc</text>
<text x="130.8" y="456.7" font-size="6.3" fill="#222" stroke="#222" stroke-width="0.18" font-weight="normal" font-style="normal" text-anchor="start" >Sirt5</text>
<text x="130.8" y="466.46" font-size="6.3" fill="#222" stroke="#222" stroke-width="0.18" font-weight="normal" font-style="normal" text-anchor="start" >Nudt13</text>
<text x="130.8" y="476.21999999999997" font-size="6.3" fill="#222" stroke="#222" stroke-width="0.18" font-weight="normal" font-style="normal" text-anchor="start" >Bcat2</text>
<text x="130.8" y="485.98" font-size="6.3" fill="#222" stroke="#222" stroke-width="0.18" font-weight="normal" font-style="normal" text-anchor="start" >Aco2</text>
<text x="130.8" y="495.74" font-size="6.3" fill="#222" stroke="#222" stroke-width="0.18" font-weight="normal" font-style="normal" text-anchor="start" >Aifm1</text>
<text x="130.8" y="505.5" font-size="6.3" fill="#222" stroke="#222" stroke-width="0.18" font-weight="normal" font-style="normal" text-anchor="start" >Ears2</text>
<text x="130.8" y="515.26" font-size="6.3" fill="#222" stroke="#222" stroke-width="0.18" font-weight="normal" font-style="normal" text-anchor="start" >Atp5pd</text>
<text x="130.8" y="525.02" font-size="6.3" fill="#222" stroke="#222" stroke-width="0.18" font-weight="normal" font-style="normal" text-anchor="start" >Mtfr1l</text>
<text x="130.8" y="534.78" font-size="6.3" fill="#222" stroke="#222" stroke-width="0.18" font-weight="normal" font-style="normal" text-anchor="start" >Bckdha</text>
<text x="130.8" y="544.54" font-size="6.3" fill="#222" stroke="#222" stroke-width="0.18" font-weight="normal" font-style="normal" text-anchor="start" >Cox4i1</text>
<text x="130.8" y="554.3" font-size="6.3" fill="#222" stroke="#222" stroke-width="0.18" font-weight="normal" font-style="normal" text-anchor="start" >Mcu</text>
<text x="130.8" y="564.06" font-size="6.3" fill="#222" stroke="#222" stroke-width="0.18" font-weight="normal" font-style="normal" text-anchor="start" >Pth2</text>
<text x="130.8" y="573.8199999999999" font-size="6.3" fill="#222" stroke="#222" stroke-width="0.18" font-weight="normal" font-style="normal" text-anchor="start" >Tomm40</text>
<text x="130.8" y="583.5799999999999" font-size="6.3" fill="#222" stroke="#222" stroke-width="0.18" font-weight="normal" font-style="normal" text-anchor="start" >Dglucy</text>
<text x="130.8" y="593.3399999999999" font-size="6.3" fill="#222" stroke="#222" stroke-width="0.18" font-weight="normal" font-style="normal" text-anchor="start" >Tmem11</text>
<rect x="43.9" y="600.3000000000001" width="42.00000000000001" height="2.6" rx="1.3" fill="url(#cb)"/>
<text x="35.4" y="603.7" font-size="6.2" fill="#333" stroke="#333" stroke-width="0.18" font-weight="normal" font-style="normal" text-anchor="start" >&#8722;3</text>
<text x="86.5" y="603.7" font-size="6.2" fill="#333" stroke="#333" stroke-width="0.18" font-weight="normal" font-style="normal" text-anchor="start" >3</text>
<style>.h4{width:5.21px;height:10.46px}</style>
<rect class="h4" x="175.3" y="448.6" fill="#e0ecf3"/>
<rect class="h4" x="180.5" y="448.6" fill="#d5e7f1"/>
<rect class="h4" x="185.6" y="448.6" fill="#daeaf2"/>
<rect class="h4" x="190.8" y="448.6" fill="#c4dfec"/>
<rect class="h4" x="195.9" y="448.6" fill="#c4dfec"/>
<rect class="h4" x="201.1" y="448.6" fill="#f7f7f7"/>
<rect class="h4" x="206.2" y="448.6" fill="#e0ecf3"/>
<rect class="h4" x="211.4" y="448.6" fill="#e6eff4"/>
<rect class="h4" x="216.5" y="448.6" fill="#f7f7f7"/>
<rect class="h4" x="221.7" y="448.6" fill="#e6eff4"/>
<rect class="h4" x="226.8" y="448.6" fill="#fdd8c4"/>
<rect class="h4" x="232.0" y="448.6" fill="#fbe6da"/>
<rect class="h4" x="237.1" y="448.6" fill="#fac8af"/>
<rect class="h4" x="242.2" y="448.6" fill="#f7f7f7"/>
<rect class="h4" x="247.4" y="448.6" fill="#ecf2f5"/>
<rect class="h4" x="252.6" y="448.6" fill="#ecf2f5"/>
<rect class="h4" x="257.7" y="448.6" fill="#f7f7f7"/>
<rect class="h4" x="262.9" y="448.6" fill="#f9efe9"/>
<rect class="h4" x="268.0" y="448.6" fill="#f7f7f7"/>
<rect class="h4" x="273.2" y="448.6" fill="#fac8af"/>
<rect class="h4" x="278.3" y="448.6" fill="#e8896d"/>
<rect class="h4" x="175.3" y="459.0" fill="#fdd8c4"/>
<rect class="h4" x="180.5" y="459.0" fill="#e0ecf3"/>
<rect class="h4" x="185.6" y="459.0" fill="#cee3ef"/>
<rect class="h4" x="190.8" y="459.0" fill="#cee3ef"/>
<rect class="h4" x="195.9" y="459.0" fill="#daeaf2"/>
<rect class="h4" x="201.1" y="459.0" fill="#f7f7f7"/>
<rect class="h4" x="206.2" y="459.0" fill="#daeaf2"/>
<rect class="h4" x="211.4" y="459.0" fill="#95c7df"/>
<rect class="h4" x="216.5" y="459.0" fill="#9fcbe2"/>
<rect class="h4" x="221.7" y="459.0" fill="#e0ecf3"/>
<rect class="h4" x="226.8" y="459.0" fill="#fcdecc"/>
<rect class="h4" x="232.0" y="459.0" fill="#fce2d3"/>
<rect class="h4" x="237.1" y="459.0" fill="#fce2d3"/>
<rect class="h4" x="242.2" y="459.0" fill="#f9efe9"/>
<rect class="h4" x="247.4" y="459.0" fill="#f7f7f7"/>
<rect class="h4" x="252.6" y="459.0" fill="#fbe6da"/>
<rect class="h4" x="257.7" y="459.0" fill="#f9efe9"/>
<rect class="h4" x="262.9" y="459.0" fill="#fbe6da"/>
<rect class="h4" x="268.0" y="459.0" fill="#fce2d3"/>
<rect class="h4" x="273.2" y="459.0" fill="#faeae1"/>
<rect class="h4" x="278.3" y="459.0" fill="#fac8af"/>
<rect class="h4" x="175.3" y="469.4" fill="#faeae1"/>
<rect class="h4" x="180.5" y="469.4" fill="#f7f7f7"/>
<rect class="h4" x="185.6" y="469.4" fill="#9fcbe2"/>
<rect class="h4" x="190.8" y="469.4" fill="#9fcbe2"/>
<rect class="h4" x="195.9" y="469.4" fill="#a8d0e4"/>
<rect class="h4" x="201.1" y="469.4" fill="#f7f7f7"/>
<rect class="h4" x="206.2" y="469.4" fill="#f7f7f7"/>
<rect class="h4" x="211.4" y="469.4" fill="#f9efe9"/>
<rect class="h4" x="216.5" y="469.4" fill="#f7f7f7"/>
<rect class="h4" x="221.7" y="469.4" fill="#a8d0e4"/>
<rect class="h4" x="226.8" y="469.4" fill="#f7f7f7"/>
<rect class="h4" x="232.0" y="469.4" fill="#f9efe9"/>
<rect class="h4" x="237.1" y="469.4" fill="#fce2d3"/>
<rect class="h4" x="242.2" y="469.4" fill="#fce2d3"/>
<rect class="h4" x="247.4" y="469.4" fill="#cee3ef"/>
<rect class="h4" x="252.6" y="469.4" fill="#fdd8c4"/>
<rect class="h4" x="257.7" y="469.4" fill="#fbd0b9"/>
<rect class="h4" x="262.9" y="469.4" fill="#fac8af"/>
<rect class="h4" x="268.0" y="469.4" fill="#f7f7f7"/>
<rect class="h4" x="273.2" y="469.4" fill="#f9efe9"/>
<rect class="h4" x="278.3" y="469.4" fill="#fce2d3"/>
<rect class="h4" x="175.3" y="479.8" fill="#f1f4f6"/>
<rect class="h4" x="180.5" y="479.8" fill="#ecf2f5"/>
<rect class="h4" x="185.6" y="479.8" fill="#f7f7f7"/>
<rect class="h4" x="190.8" y="479.8" fill="#f7f7f7"/>
<rect class="h4" x="195.9" y="479.8" fill="#f7f7f7"/>
<rect class="h4" x="201.1" y="479.8" fill="#f7f7f7"/>
<rect class="h4" x="206.2" y="479.8" fill="#f7f7f7"/>
<rect class="h4" x="211.4" y="479.8" fill="#f8f3f0"/>
<rect class="h4" x="216.5" y="479.8" fill="#f7f7f7"/>
<rect class="h4" x="221.7" y="479.8" fill="#f7f7f7"/>
<rect class="h4" x="226.8" y="479.8" fill="#ecf2f5"/>
<rect class="h4" x="232.0" y="479.8" fill="#ecf2f5"/>
<rect class="h4" x="237.1" y="479.8" fill="#c41020"/>
<rect class="h4" x="242.2" y="479.8" fill="#f7f7f7"/>
<rect class="h4" x="247.4" y="479.8" fill="#fcdecc"/>
<rect class="h4" x="252.6" y="479.8" fill="#ecf2f5"/>
<rect class="h4" x="257.7" y="479.8" fill="#ecf2f5"/>
<rect class="h4" x="262.9" y="479.8" fill="#ecf2f5"/>
<rect class="h4" x="268.0" y="479.8" fill="#f7f7f7"/>
<rect class="h4" x="273.2" y="479.8" fill="#fbd0b9"/>
<rect class="h4" x="278.3" y="479.8" fill="#fce2d3"/>
<rect class="h4" x="175.3" y="490.2" fill="#fbe6da"/>
<rect class="h4" x="180.5" y="490.2" fill="#f7f7f7"/>
<rect class="h4" x="185.6" y="490.2" fill="#f7f7f7"/>
<rect class="h4" x="190.8" y="490.2" fill="#a8d0e4"/>
<rect class="h4" x="195.9" y="490.2" fill="#a8d0e4"/>
<rect class="h4" x="201.1" y="490.2" fill="#b2d5e7"/>
<rect class="h4" x="206.2" y="490.2" fill="#cee3ef"/>
<rect class="h4" x="211.4" y="490.2" fill="#f7f7f7"/>
<rect class="h4" x="216.5" y="490.2" fill="#d5e7f1"/>
<rect class="h4" x="221.7" y="490.2" fill="#daeaf2"/>
<rect class="h4" x="226.8" y="490.2" fill="#f7f7f7"/>
<rect class="h4" x="232.0" y="490.2" fill="#fac8af"/>
<rect class="h4" x="237.1" y="490.2" fill="#f7f7f7"/>
<rect class="h4" x="242.2" y="490.2" fill="#faeae1"/>
<rect class="h4" x="247.4" y="490.2" fill="#f7f7f7"/>
<rect class="h4" x="252.6" y="490.2" fill="#f1f4f6"/>
<rect class="h4" x="257.7" y="490.2" fill="#f7f7f7"/>
<rect class="h4" x="262.9" y="490.2" fill="#fbd0b9"/>
<rect class="h4" x="268.0" y="490.2" fill="#fbd0b9"/>
<rect class="h4" x="273.2" y="490.2" fill="#faeae1"/>
<rect class="h4" x="278.3" y="490.2" fill="#ec9475"/>
<rect class="h4" x="175.3" y="500.6" fill="#e6eff4"/>
<rect class="h4" x="180.5" y="500.6" fill="#bbdaea"/>
<rect class="h4" x="185.6" y="500.6" fill="#c4dfec"/>
<rect class="h4" x="190.8" y="500.6" fill="#e6eff4"/>
<rect class="h4" x="195.9" y="500.6" fill="#ecf2f5"/>
<rect class="h4" x="201.1" y="500.6" fill="#bbdaea"/>
<rect class="h4" x="206.2" y="500.6" fill="#bbdaea"/>
<rect class="h4" x="211.4" y="500.6" fill="#f7f7f7"/>
<rect class="h4" x="216.5" y="500.6" fill="#f9efe9"/>
<rect class="h4" x="221.7" y="500.6" fill="#f8f3f0"/>
<rect class="h4" x="226.8" y="500.6" fill="#f7f7f7"/>
<rect class="h4" x="232.0" y="500.6" fill="#f7f7f7"/>
<rect class="h4" x="237.1" y="500.6" fill="#f7f7f7"/>
<rect class="h4" x="242.2" y="500.6" fill="#fce2d3"/>
<rect class="h4" x="247.4" y="500.6" fill="#f7f7f7"/>
<rect class="h4" x="252.6" y="500.6" fill="#fce2d3"/>
<rect class="h4" x="257.7" y="500.6" fill="#f7f7f7"/>
<rect class="h4" x="262.9" y="500.6" fill="#fac8af"/>
<rect class="h4" x="268.0" y="500.6" fill="#fac8af"/>
<rect class="h4" x="273.2" y="500.6" fill="#f7f7f7"/>
<rect class="h4" x="278.3" y="500.6" fill="#da6a55"/>
<rect class="h4" x="175.3" y="511.0" fill="#ecf2f5"/>
<rect class="h4" x="180.5" y="511.0" fill="#ecf2f5"/>
<rect class="h4" x="185.6" y="511.0" fill="#ecf2f5"/>
<rect class="h4" x="190.8" y="511.0" fill="#ecf2f5"/>
<rect class="h4" x="195.9" y="511.0" fill="#ecf2f5"/>
<rect class="h4" x="201.1" y="511.0" fill="#ecf2f5"/>
<rect class="h4" x="206.2" y="511.0" fill="#ecf2f5"/>
<rect class="h4" x="211.4" y="511.0" fill="#ecf2f5"/>
<rect class="h4" x="216.5" y="511.0" fill="#ecf2f5"/>
<rect class="h4" x="221.7" y="511.0" fill="#ecf2f5"/>
<rect class="h4" x="226.8" y="511.0" fill="#ecf2f5"/>
<rect class="h4" x="232.0" y="511.0" fill="#ecf2f5"/>
<rect class="h4" x="237.1" y="511.0" fill="#faeae1"/>
<rect class="h4" x="242.2" y="511.0" fill="#f1f4f6"/>
<rect class="h4" x="247.4" y="511.0" fill="#f1f4f6"/>
<rect class="h4" x="252.6" y="511.0" fill="#ecf2f5"/>
<rect class="h4" x="257.7" y="511.0" fill="#f1f4f6"/>
<rect class="h4" x="262.9" y="511.0" fill="#f7f7f7"/>
<rect class="h4" x="268.0" y="511.0" fill="#ec9475"/>
<rect class="h4" x="273.2" y="511.0" fill="#fdd8c4"/>
<rect class="h4" x="278.3" y="511.0" fill="#d6604d"/>
<rect class="h4" x="175.3" y="521.4" fill="#b2d5e7"/>
<rect class="h4" x="180.5" y="521.4" fill="#f7f7f7"/>
<rect class="h4" x="185.6" y="521.4" fill="#f7f7f7"/>
<rect class="h4" x="190.8" y="521.4" fill="#ecf2f5"/>
<rect class="h4" x="195.9" y="521.4" fill="#e6eff4"/>
<rect class="h4" x="201.1" y="521.4" fill="#f7f7f7"/>
<rect class="h4" x="206.2" y="521.4" fill="#e6eff4"/>
<rect class="h4" x="211.4" y="521.4" fill="#e6eff4"/>
<rect class="h4" x="216.5" y="521.4" fill="#e6eff4"/>
<rect class="h4" x="221.7" y="521.4" fill="#e6eff4"/>
<rect class="h4" x="226.8" y="521.4" fill="#faeae1"/>
<rect class="h4" x="232.0" y="521.4" fill="#f7f7f7"/>
<rect class="h4" x="237.1" y="521.4" fill="#f7f7f7"/>
<rect class="h4" x="242.2" y="521.4" fill="#f7f7f7"/>
<rect class="h4" x="247.4" y="521.4" fill="#fac8af"/>
<rect class="h4" x="252.6" y="521.4" fill="#daeaf2"/>
<rect class="h4" x="257.7" y="521.4" fill="#f1f4f6"/>
<rect class="h4" x="262.9" y="521.4" fill="#fbd0b9"/>
<rect class="h4" x="268.0" y="521.4" fill="#f8c0a4"/>
<rect class="h4" x="273.2" y="521.4" fill="#fac8af"/>
<rect class="h4" x="278.3" y="521.4" fill="#f6b090"/>
<rect class="h4" x="175.3" y="531.8" fill="#daeaf2"/>
<rect class="h4" x="180.5" y="531.8" fill="#fce2d3"/>
<rect class="h4" x="185.6" y="531.8" fill="#f7f7f7"/>
<rect class="h4" x="190.8" y="531.8" fill="#cee3ef"/>
<rect class="h4" x="195.9" y="531.8" fill="#9fcbe2"/>
<rect class="h4" x="201.1" y="531.8" fill="#d5e7f1"/>
<rect class="h4" x="206.2" y="531.8" fill="#f7f7f7"/>
<rect class="h4" x="211.4" y="531.8" fill="#f7f7f7"/>
<rect class="h4" x="216.5" y="531.8" fill="#f7f7f7"/>
<rect class="h4" x="221.7" y="531.8" fill="#daeaf2"/>
<rect class="h4" x="226.8" y="531.8" fill="#f7f7f7"/>
<rect class="h4" x="232.0" y="531.8" fill="#f7f7f7"/>
<rect class="h4" x="237.1" y="531.8" fill="#f7f7f7"/>
<rect class="h4" x="242.2" y="531.8" fill="#fdd8c4"/>
<rect class="h4" x="247.4" y="531.8" fill="#e0ecf3"/>
<rect class="h4" x="252.6" y="531.8" fill="#fbe6da"/>
<rect class="h4" x="257.7" y="531.8" fill="#ecf2f5"/>
<rect class="h4" x="262.9" y="531.8" fill="#e6eff4"/>
<rect class="h4" x="268.0" y="531.8" fill="#fdd8c4"/>
<rect class="h4" x="273.2" y="531.8" fill="#f7b89a"/>
<rect class="h4" x="278.3" y="531.8" fill="#f7b89a"/>
<rect class="h4" x="175.3" y="542.2" fill="#daeaf2"/>
<rect class="h4" x="180.5" y="542.2" fill="#e0ecf3"/>
<rect class="h4" x="185.6" y="542.2" fill="#e0ecf3"/>
<rect class="h4" x="190.8" y="542.2" fill="#e6eff4"/>
<rect class="h4" x="195.9" y="542.2" fill="#e0ecf3"/>
<rect class="h4" x="201.1" y="542.2" fill="#d5e7f1"/>
<rect class="h4" x="206.2" y="542.2" fill="#f7f7f7"/>
<rect class="h4" x="211.4" y="542.2" fill="#f7f7f7"/>
<rect class="h4" x="216.5" y="542.2" fill="#f7f7f7"/>
<rect class="h4" x="221.7" y="542.2" fill="#9fcbe2"/>
<rect class="h4" x="226.8" y="542.2" fill="#fdd8c4"/>
<rect class="h4" x="232.0" y="542.2" fill="#f7f7f7"/>
<rect class="h4" x="237.1" y="542.2" fill="#f1f4f6"/>
<rect class="h4" x="242.2" y="542.2" fill="#fdd8c4"/>
<rect class="h4" x="247.4" y="542.2" fill="#f7f7f7"/>
<rect class="h4" x="252.6" y="542.2" fill="#f8f3f0"/>
<rect class="h4" x="257.7" y="542.2" fill="#f7f7f7"/>
<rect class="h4" x="262.9" y="542.2" fill="#f1f4f6"/>
<rect class="h4" x="268.0" y="542.2" fill="#f8f3f0"/>
<rect class="h4" x="273.2" y="542.2" fill="#f6b090"/>
<rect class="h4" x="278.3" y="542.2" fill="#e8896d"/>
<rect class="h4" x="175.3" y="552.6" fill="#daeaf2"/>
<rect class="h4" x="180.5" y="552.6" fill="#f7f7f7"/>
<rect class="h4" x="185.6" y="552.6" fill="#f7f7f7"/>
<rect class="h4" x="190.8" y="552.6" fill="#f7f7f7"/>
<rect class="h4" x="195.9" y="552.6" fill="#ecf2f5"/>
<rect class="h4" x="201.1" y="552.6" fill="#f7f7f7"/>
<rect class="h4" x="206.2" y="552.6" fill="#f7f7f7"/>
<rect class="h4" x="211.4" y="552.6" fill="#ecf2f5"/>
<rect class="h4" x="216.5" y="552.6" fill="#e6eff4"/>
<rect class="h4" x="221.7" y="552.6" fill="#d5e7f1"/>
<rect class="h4" x="226.8" y="552.6" fill="#f1f4f6"/>
<rect class="h4" x="232.0" y="552.6" fill="#fac8af"/>
<rect class="h4" x="237.1" y="552.6" fill="#f7f7f7"/>
<rect class="h4" x="242.2" y="552.6" fill="#f7b89a"/>
<rect class="h4" x="247.4" y="552.6" fill="#f7f7f7"/>
<rect class="h4" x="252.6" y="552.6" fill="#faeae1"/>
<rect class="h4" x="257.7" y="552.6" fill="#fbe6da"/>
<rect class="h4" x="262.9" y="552.6" fill="#fbe6da"/>
<rect class="h4" x="268.0" y="552.6" fill="#f7f7f7"/>
<rect class="h4" x="273.2" y="552.6" fill="#b2d5e7"/>
<rect class="h4" x="278.3" y="552.6" fill="#f6b090"/>
<rect class="h4" x="175.3" y="563.0" fill="#daeaf2"/>
<rect class="h4" x="180.5" y="563.0" fill="#fce2d3"/>
<rect class="h4" x="185.6" y="563.0" fill="#f7f7f7"/>
<rect class="h4" x="190.8" y="563.0" fill="#f7f7f7"/>
<rect class="h4" x="195.9" y="563.0" fill="#7eb8d7"/>
<rect class="h4" x="201.1" y="563.0" fill="#e6eff4"/>
<rect class="h4" x="206.2" y="563.0" fill="#f7f7f7"/>
<rect class="h4" x="211.4" y="563.0" fill="#f7f7f7"/>
<rect class="h4" x="216.5" y="563.0" fill="#e6eff4"/>
<rect class="h4" x="221.7" y="563.0" fill="#9fcbe2"/>
<rect class="h4" x="226.8" y="563.0" fill="#f7f7f7"/>
<rect class="h4" x="232.0" y="563.0" fill="#f7f7f7"/>
<rect class="h4" x="237.1" y="563.0" fill="#fac8af"/>
<rect class="h4" x="242.2" y="563.0" fill="#f9efe9"/>
<rect class="h4" x="247.4" y="563.0" fill="#f7f7f7"/>
<rect class="h4" x="252.6" y="563.0" fill="#faeae1"/>
<rect class="h4" x="257.7" y="563.0" fill="#f7f7f7"/>
<rect class="h4" x="262.9" y="563.0" fill="#fac8af"/>
<rect class="h4" x="268.0" y="563.0" fill="#fac8af"/>
<rect class="h4" x="273.2" y="563.0" fill="#f7f7f7"/>
<rect class="h4" x="278.3" y="563.0" fill="#faeae1"/>
<rect class="h4" x="175.3" y="573.4" fill="#d5e7f1"/>
<rect class="h4" x="180.5" y="573.4" fill="#d5e7f1"/>
<rect class="h4" x="185.6" y="573.4" fill="#d5e7f1"/>
<rect class="h4" x="190.8" y="573.4" fill="#daeaf2"/>
<rect class="h4" x="195.9" y="573.4" fill="#faeae1"/>
<rect class="h4" x="201.1" y="573.4" fill="#faeae1"/>
<rect class="h4" x="206.2" y="573.4" fill="#faeae1"/>
<rect class="h4" x="211.4" y="573.4" fill="#e6eff4"/>
<rect class="h4" x="216.5" y="573.4" fill="#fbd0b9"/>
<rect class="h4" x="221.7" y="573.4" fill="#daeaf2"/>
<rect class="h4" x="226.8" y="573.4" fill="#e0ecf3"/>
<rect class="h4" x="232.0" y="573.4" fill="#d5e7f1"/>
<rect class="h4" x="237.1" y="573.4" fill="#d5e7f1"/>
<rect class="h4" x="242.2" y="573.4" fill="#f19e7d"/>
<rect class="h4" x="247.4" y="573.4" fill="#f7f7f7"/>
<rect class="h4" x="252.6" y="573.4" fill="#f8f3f0"/>
<rect class="h4" x="257.7" y="573.4" fill="#fbd0b9"/>
<rect class="h4" x="262.9" y="573.4" fill="#fbe6da"/>
<rect class="h4" x="268.0" y="573.4" fill="#faeae1"/>
<rect class="h4" x="273.2" y="573.4" fill="#fcdecc"/>
<rect class="h4" x="278.3" y="573.4" fill="#daeaf2"/>
<rect class="h4" x="175.3" y="583.8" fill="#f7f7f7"/>
<rect class="h4" x="180.5" y="583.8" fill="#c4dfec"/>
<rect class="h4" x="185.6" y="583.8" fill="#cee3ef"/>
<rect class="h4" x="190.8" y="583.8" fill="#f7f7f7"/>
<rect class="h4" x="195.9" y="583.8" fill="#f7f7f7"/>
<rect class="h4" x="201.1" y="583.8" fill="#fbe6da"/>
<rect class="h4" x="206.2" y="583.8" fill="#f7f7f7"/>
<rect class="h4" x="211.4" y="583.8" fill="#f7f7f7"/>
<rect class="h4" x="216.5" y="583.8" fill="#f7f7f7"/>
<rect class="h4" x="221.7" y="583.8" fill="#9fcbe2"/>
<rect class="h4" x="226.8" y="583.8" fill="#f7f7f7"/>
<rect class="h4" x="232.0" y="583.8" fill="#cee3ef"/>
<rect class="h4" x="237.1" y="583.8" fill="#d5e7f1"/>
<rect class="h4" x="242.2" y="583.8" fill="#f7f7f7"/>
<rect class="h4" x="247.4" y="583.8" fill="#faeae1"/>
<rect class="h4" x="252.6" y="583.8" fill="#f8f3f0"/>
<rect class="h4" x="257.7" y="583.8" fill="#fbe6da"/>
<rect class="h4" x="262.9" y="583.8" fill="#fbe6da"/>
<rect class="h4" x="268.0" y="583.8" fill="#fbe6da"/>
<rect class="h4" x="273.2" y="583.8" fill="#fbe6da"/>
<rect class="h4" x="278.3" y="583.8" fill="#f6b090"/>
<rect x="175.3" y="445.6" width="57" height="2.6" fill="#6793cd"/>
<rect x="232.3" y="445.6" width="51.1" height="2.6" fill="#f2b76e"/>
<text x="229.5" y="440.3" font-size="8.4" fill="#3d6ea6" stroke="#3d6ea6" stroke-width="0.18" font-weight="normal" font-style="italic" text-anchor="middle" >Soleus</text>
<text x="286.9" y="454.8" font-size="6.3" fill="#222" stroke="#222" stroke-width="0.18" font-weight="normal" font-style="normal" text-anchor="start" >Eci1</text>
<text x="286.9" y="464.69" font-size="6.3" fill="#222" stroke="#222" stroke-width="0.18" font-weight="normal" font-style="normal" text-anchor="start" >Acat1</text>
<text x="286.9" y="474.58000000000004" font-size="6.3" fill="#222" stroke="#222" stroke-width="0.18" font-weight="normal" font-style="normal" text-anchor="start" >Slc25a42</text>
<text x="286.9" y="484.47" font-size="6.3" fill="#222" stroke="#222" stroke-width="0.18" font-weight="normal" font-style="normal" text-anchor="start" >Tmem126b</text>
<text x="286.9" y="494.36" font-size="6.3" fill="#222" stroke="#222" stroke-width="0.18" font-weight="normal" font-style="normal" text-anchor="start" >Tsfm</text>
<text x="286.9" y="504.25" font-size="6.3" fill="#222" stroke="#222" stroke-width="0.18" font-weight="normal" font-style="normal" text-anchor="start" >Abcb7</text>
<text x="286.9" y="514.14" font-size="6.3" fill="#222" stroke="#222" stroke-width="0.18" font-weight="normal" font-style="normal" text-anchor="start" >Abhd10</text>
<text x="286.9" y="524.03" font-size="6.3" fill="#222" stroke="#222" stroke-width="0.18" font-weight="normal" font-style="normal" text-anchor="start" >Mrps31</text>
<text x="286.9" y="533.9200000000001" font-size="6.3" fill="#222" stroke="#222" stroke-width="0.18" font-weight="normal" font-style="normal" text-anchor="start" >Fdxr</text>
<text x="286.9" y="543.8100000000001" font-size="6.3" fill="#222" stroke="#222" stroke-width="0.18" font-weight="normal" font-style="normal" text-anchor="start" >Ogdh</text>
<text x="286.9" y="553.7" font-size="6.3" fill="#222" stroke="#222" stroke-width="0.18" font-weight="normal" font-style="normal" text-anchor="start" >Nudt8</text>
<text x="286.9" y="563.59" font-size="6.3" fill="#222" stroke="#222" stroke-width="0.18" font-weight="normal" font-style="normal" text-anchor="start" >Mdh2</text>
<text x="286.9" y="573.48" font-size="6.3" fill="#222" stroke="#222" stroke-width="0.18" font-weight="normal" font-style="normal" text-anchor="start" >Atp5mg</text>
<text x="286.9" y="583.37" font-size="6.3" fill="#222" stroke="#222" stroke-width="0.18" font-weight="normal" font-style="normal" text-anchor="start" >Timm13</text>
<text x="286.9" y="593.26" font-size="6.3" fill="#222" stroke="#222" stroke-width="0.18" font-weight="normal" font-style="normal" text-anchor="start" >Nudt8</text>
<rect x="212.6" y="600.3000000000001" width="42.0" height="2.6" rx="1.3" fill="url(#cb)"/>
<text x="203.5" y="603.7" font-size="6.2" fill="#333" stroke="#333" stroke-width="0.18" font-weight="normal" font-style="normal" text-anchor="start" >&#8722;3</text>
<text x="255.7" y="603.7" font-size="6.2" fill="#333" stroke="#333" stroke-width="0.18" font-weight="normal" font-style="normal" text-anchor="start" >3</text>
<path fill="none" stroke="#7a7a7a" stroke-width="0.4" d="M453.6 195.7L465.2 201.4M303.1 80.8L302.7 91.7M461.3 184.7L446.6 194.5M307.3 92.0L313.6 92.5M333.7 85.0L345.4 142.3M363.7 126.6L371.8 131.0M402.3 44.8L392.8 52.6M285.3 157.0L294.7 169.1M359.2 31.3L364.4 34.1M370.1 63.5L377.0 73.0M374.4 70.4L377.0 73.0M454.1 163.4L450.6 169.1M462.2 189.8L454.4 192.8M313.6 92.5L302.7 91.7M371.0 45.7L440.2 94.3M377.0 130.1L381.3 131.8M354.5 198.8L293.5 192.2M398.7 210.1L455.6 234.9M348.5 84.3L355.7 96.7M401.2 116.2L410.4 133.6M471.4 137.0L454.4 138.7M460.5 127.5L469.7 123.7M405.6 198.0L415.6 207.8M327.7 69.4L368.9 69.4M392.8 52.6L400.2 55.2M348.5 147.8L336.7 153.0M393.8 195.0L332.4 201.1M313.0 162.2L320.3 167.4M366.6 214.4L330.3 154.1M303.1 76.0L301.8 115.0M394.3 93.7L387.4 94.6M345.3 31.3L340.2 35.8M498.0 120.9L508.4 125.4M329.8 195.6L339.7 205.0M485.2 109.8L487.3 121.4M475.5 106.7L444.9 149.5M506.3 209.2L494.6 226.4M433.3 136.2L440.9 129.6M497.7 169.1L496.8 189.3M419.1 191.9L431.2 211.3M400.2 55.2L407.5 53.5M291.1 96.3L307.9 106.4M271.5 137.0L291.8 135.3M331.2 98.4L324.7 101.5M412.7 34.1L401.2 116.2M301.8 115.0L317.4 129.2M419.1 118.0L415.1 137.0M390.3 199.7L320.0 154.1M303.3 212.2L306.1 217.3M460.5 96.0L463.9 97.2M334.6 40.5L334.3 37.5M383.9 165.6L386.5 172.0M456.2 142.7L446.6 155.9M350.2 69.9L345.9 80.8M338.4 85.0L345.9 80.8M433.5 19.7L425.7 27.2M279.3 138.2L345.9 164.2M402.3 76.0L387.4 94.6M353.3 32.3L357.1 45.7M356.2 196.2L354.5 198.8M324.7 101.5L328.6 103.6M461.3 184.7L462.2 189.8M306.1 217.3L313.0 217.7M440.9 129.6L451.3 130.6M307.3 195.6L287.4 228.1M389.1 147.8L400.4 144.8M391.7 164.2L390.3 174.6M345.9 80.8L348.5 84.3M462.2 189.8L473.1 189.8M407.7 140.0L400.4 157.3M454.1 163.4L457.0 174.3M407.5 89.5L351.9 144.5M263.2 201.1L279.1 190.8M401.2 116.2L405.9 111.9M336.7 153.0L341.9 173.1M361.4 181.5L363.2 191.6M263.2 201.1L265.8 216.0M373.6 31.0L371.0 45.7M390.3 174.6L395.2 181.9M405.6 198.0L419.1 191.9M496.3 184.1L490.4 204.0M303.1 76.0L313.6 92.5M411.0 63.8L413.0 67.3M312.2 100.7L345.4 120.2M279.1 190.8L287.8 200.3M428.3 87.7L433.3 136.2M287.4 228.1L292.6 212.2M335.5 220.3L339.7 231.2M313.0 226.3L309.9 229.8M477.0 225.7L475.8 235.6M485.2 109.8L491.6 109.8M296.1 193.9L307.3 195.6M465.7 93.7L473.5 101.2M371.0 45.7L376.7 50.9M485.2 109.8L508.4 125.4M497.7 169.1L489.0 177.2M346.7 38.2L349.3 43.1M419.1 191.9L431.9 196.2M454.4 192.8L453.6 195.7M430.3 73.9L428.3 87.7M440.2 94.3L436.8 172.5M273.6 146.6L264.1 174.8M419.4 126.6L348.5 147.8M301.8 115.0L291.8 135.3M309.9 229.8L311.7 232.4M383.9 165.6L391.7 164.2M336.7 73.4L416.5 52.6M392.6 176.7L395.2 181.9M433.5 19.7L438.3 17.1M311.2 86.3L312.2 100.7M383.9 165.6L370.6 176.3M261.8 166.9L267.0 192.8M430.3 73.9L387.4 94.6M324.7 101.5L324.0 109.8M363.7 126.6L377.0 130.1M356.2 173.2L341.9 173.1M386.9 195.7L390.3 199.7M307.3 195.6L303.3 212.2M391.7 164.2L394.3 166.3M396.6 114.0L412.5 126.1M357.1 45.7L353.7 59.0M431.2 211.3L429.8 215.8M370.1 63.5L374.4 70.4M356.2 196.2L339.7 205.0M261.8 166.9L311.7 232.4M328.1 216.0L316.8 226.3M429.7 64.2L424.8 74.2M321.2 188.7L326.9 188.2M428.3 87.7L419.4 95.5M333.8 117.1L321.2 188.7M390.3 195.7L335.5 220.3M379.3 61.8L402.3 76.0M425.7 33.0L439.0 34.4M405.6 198.0L398.7 210.1M288.8 89.4L310.1 100.2M332.4 201.1L339.7 205.0M411.0 63.8L423.1 70.4M477.0 225.7L494.6 226.4M384.3 34.4L440.7 30.6M498.0 120.9L509.8 120.9M376.7 50.9L394.5 47.4M422.2 8.5L429.7 15.4M324.0 109.8L368.4 141.3M345.3 31.3L346.7 38.2M402.3 76.0L407.5 89.5M273.6 146.6L281.9 149.6M454.4 192.8L469.1 210.1M462.7 114.0L489.0 123.7M475.8 235.6L468.4 245.3M419.1 118.0L410.4 133.6M410.4 133.6L407.7 140.0M432.4 119.7L440.9 129.6M462.7 114.0L469.7 123.7M293.5 192.2L297.5 204.7M326.0 39.1L316.4 56.6M383.9 165.6L380.5 171.5M353.3 32.3L376.7 22.3M329.5 121.4L344.7 133.6M370.6 176.3L350.2 221.3M330.3 154.1L332.8 159.6M414.2 91.2L419.4 95.5M495.1 157.3L497.7 169.1M334.2 205.5L339.7 205.0M366.6 143.1L345.4 142.3M461.7 101.5L451.0 112.8M407.5 89.5L394.3 93.7M395.2 181.9L386.5 186.7M357.1 45.7L371.0 45.7M333.7 85.0L331.2 98.4M403.7 27.2L400.2 48.3M400.2 35.8L400.2 48.3M489.0 123.7L481.2 141.3M386.9 195.7L380.0 203.7M333.7 85.0L333.8 117.1M340.2 35.8L303.1 76.0M374.4 70.4L309.5 83.7M407.0 91.5L421.2 99.5M407.7 140.0L379.6 159.0M336.7 153.0L341.9 158.2M429.7 64.2L436.9 74.2M381.3 131.8L440.2 94.3M461.0 106.4L462.7 114.0M449.3 228.3L448.3 235.6M373.6 31.0L384.3 34.4M440.4 83.2L444.7 88.4M429.7 15.4L433.5 19.7M345.9 164.2L356.2 173.2M376.7 22.3L402.3 76.0M480.7 110.5L480.7 130.1M424.6 178.9L496.8 189.3M454.1 163.4L449.3 228.3M409.9 115.0L454.4 128.4M374.4 70.4L407.0 91.5M324.2 50.9L324.2 69.0M303.1 80.8L311.2 86.3M346.7 38.2L335.5 46.2M336.7 192.8L332.4 201.1M336.7 73.4L326.0 77.7M430.3 73.9L439.0 70.4M355.7 96.7L356.2 107.6M386.5 172.0L462.2 189.8M294.7 169.1L302.7 182.5M429.8 157.3L436.8 172.5M388.3 38.7L389.8 44.5M487.3 121.4L489.0 123.7M311.2 86.3L313.6 92.5M380.0 203.7L366.6 214.4M487.3 121.4L469.7 123.7M412.7 49.1L416.5 52.6M379.3 150.4L379.6 159.0M311.2 86.3L310.1 100.2M358.5 58.7L368.9 69.4M310.1 100.2L324.0 109.8M439.0 70.4L436.9 74.2M454.4 138.7L449.2 142.6M356.2 173.2L341.9 158.2M345.9 198.0L332.4 201.1M459.4 86.3L463.9 97.2M261.8 166.9L264.1 183.5M284.8 152.7L313.0 226.3M455.6 234.9L475.8 235.6M407.5 89.5L414.2 91.2M340.2 35.8L349.3 43.1M489.0 123.7L498.0 120.9M386.9 195.7L393.8 195.0M460.5 96.0L444.9 149.5M370.1 63.5L379.3 61.8M396.6 114.0L391.4 130.1M489.0 123.7L480.7 130.1M425.7 27.2L425.7 33.0M328.1 216.0L326.4 222.9M415.3 88.1L445.4 126.6M412.5 126.1L419.4 126.6M409.9 115.0L419.4 126.6M341.5 30.6L345.3 31.3M390.3 174.6L392.6 176.7M403.2 69.0L423.1 70.4M346.5 98.4L354.5 104.7M425.7 33.0L440.7 30.6M361.4 181.5L354.5 198.8M496.3 184.1L506.7 192.8M421.2 99.5L420.8 113.3M332.4 201.1L334.2 205.5M469.1 210.1L486.2 234.3M431.9 196.2L446.6 194.5M451.0 112.8L445.4 126.6M383.1 191.1L389.7 204.9M422.2 8.5L422.2 14.5M336.7 73.4L350.2 69.9M344.7 133.6L345.9 198.0M444.9 149.5L446.6 155.9M314.8 124.0L326.9 130.6M497.7 169.1L473.1 189.8M293.5 192.2L299.9 189.9M450.1 98.4L440.2 114.0M475.8 235.6L486.2 234.3M377.0 73.0L387.4 94.6M419.1 118.0L419.4 126.6M364.4 34.1L376.7 22.3M445.4 126.6L440.9 129.6M326.0 39.1L324.2 50.9M394.3 166.3L395.2 181.9M350.2 69.9L358.8 69.4M364.4 34.1L353.3 46.2M334.3 37.5L389.8 44.5M394.5 30.1L400.2 35.8M358.8 69.4L313.6 92.5M329.5 121.4L317.4 129.2M354.5 198.8L366.6 214.4M330.3 154.1L336.7 153.0M415.1 137.0L400.4 144.8M414.2 91.2L407.0 91.5M340.2 35.8L346.7 38.2M489.0 177.2L496.3 184.1M303.1 76.0L309.5 83.7M443.0 79.1L459.4 86.3M465.2 201.4L469.1 210.1M400.2 35.8L402.3 44.8M467.2 87.7L465.7 93.7M425.7 27.2L444.2 39.6M302.7 91.7L288.8 89.4M490.4 204.0L494.6 226.4M276.2 228.4L287.4 228.1M337.2 64.7L322.5 73.9M449.3 228.3L455.6 234.9M373.6 31.0L376.7 22.3M480.7 110.5L489.0 123.7M470.3 168.0L497.7 169.1M496.3 184.1L479.5 195.7M377.0 130.1L371.3 167.7M336.7 24.9L403.2 69.0M288.8 89.4L291.1 96.3M292.3 144.5L289.5 152.3M469.1 210.1L465.3 231.6M287.4 228.1L293.5 223.2M466.3 78.0L460.5 96.0M384.3 34.4L394.5 30.1M386.5 172.0L386.5 186.7M431.2 211.3L420.9 234.3M324.2 69.0L336.7 73.4M334.3 37.5L335.5 46.2M383.1 191.1L390.3 199.7M454.1 163.4L486.2 234.3M303.1 80.8L309.5 83.7M291.8 135.3L292.3 144.5M284.8 152.7L261.8 166.9M336.7 192.8L324.6 201.1M355.7 96.7L354.5 104.7M351.9 144.5L345.4 142.3M329.4 34.8L326.0 39.1M432.9 114.5L440.2 114.0M345.3 31.3L402.3 76.0M412.7 49.1L417.0 45.7M275.3 207.3L281.9 217.3M358.5 58.7L358.8 69.4M310.1 100.2L307.9 106.4M378.2 116.8L363.7 126.6M407.7 140.0L400.0 138.2M330.3 154.1L313.0 162.2M261.8 166.9L264.1 174.8M313.0 217.7L328.1 216.0M444.7 88.4L465.2 130.1M461.7 101.5L461.0 106.4M348.5 147.8L345.9 164.2M340.2 35.8L335.5 46.2M427.9 59.5L439.0 70.4M336.7 73.4L391.4 130.1M279.3 138.2L281.9 149.6M473.1 189.8L496.3 184.1M427.9 59.5L407.5 89.5M453.6 195.7L477.0 225.7M274.4 212.5L276.2 228.4M473.1 189.8L469.1 210.1M409.9 115.0L420.8 113.3M328.1 216.0L335.5 220.3M379.3 61.8L392.8 52.6M377.0 130.1L366.6 143.1M349.3 43.1L413.0 67.3M291.8 135.3L284.8 152.7M345.9 164.2L357.5 167.7M440.4 83.2L428.3 87.7M407.5 53.5L411.0 63.8M400.2 48.3L407.0 91.5M471.4 137.0L431.2 211.3M496.3 184.1L496.8 189.3M344.7 133.6L348.5 147.8M287.8 200.3L293.5 192.2M388.3 38.7L326.0 39.1M451.0 112.8L440.2 114.0M508.4 125.4L480.7 130.1M324.2 50.9L321.6 63.5M451.0 112.8L454.4 128.4M320.8 143.1L313.0 162.2M383.1 191.1L380.0 203.7M479.5 195.7L490.4 204.0M293.5 192.2L296.1 193.9M339.7 205.0L293.5 223.2M430.3 73.9L440.4 83.2M350.2 221.3L339.7 231.2M364.4 34.1L373.6 31.0M457.0 174.3L462.2 189.8M394.5 30.1L389.8 44.5M394.3 166.3L386.9 195.7M329.5 121.4L326.9 130.6M454.4 128.4L451.3 130.6M302.7 182.5L297.5 204.7M326.9 188.2L336.7 192.8M313.0 217.7L313.0 226.3M353.7 59.0L350.2 69.9M303.1 76.0L303.1 80.8M368.4 141.3L369.2 154.7M379.3 150.4L332.8 159.6M473.1 189.8L454.4 192.8M419.1 118.0L457.0 174.3M381.3 131.8L391.4 130.1M302.7 91.7L312.2 100.7M424.6 178.9L419.1 191.9M345.9 80.8L341.3 91.2M337.2 64.7L327.7 69.4M412.5 126.1L407.7 140.0M386.5 186.7L390.3 195.7M366.6 214.4L353.7 219.3M267.0 192.8L287.8 200.3M281.9 149.6L289.5 152.3M407.5 53.5L412.7 49.1M279.3 138.2L273.2 141.0M333.8 117.1L344.7 133.6M386.5 172.0L361.4 181.5M429.8 157.3L415.6 166.8M320.8 143.1L330.3 154.1M334.3 37.5L326.0 39.1M439.0 34.4L444.2 39.6M284.8 152.7L285.3 157.0M316.8 226.3L311.7 232.4M398.7 210.1L412.5 219.3M384.3 34.4L405.9 111.9M329.4 34.8L334.3 37.5M390.3 142.2L429.8 157.3M449.2 142.6L469.1 218.2M275.3 207.3L265.8 216.0M389.8 44.5L394.5 47.4M310.1 100.2L312.2 100.7M432.4 119.7L463.4 156.4M444.7 88.4L451.0 112.8M345.9 198.0L329.8 195.6M447.2 118.8L451.3 130.6M292.3 144.5L370.6 176.3M369.2 154.7L379.6 159.0M400.2 48.3L400.2 55.2M368.4 141.3L366.6 143.1M353.7 59.0L348.5 84.3M393.8 195.0L415.6 207.8M279.3 138.2L273.6 146.6M413.0 67.3L403.2 69.0M468.3 155.2L454.1 163.4M264.1 183.5L299.9 189.9M393.8 195.0L457.0 174.3M332.8 159.6L341.9 173.1M494.6 226.4L486.2 234.3M387.4 94.6L396.6 114.0M368.4 141.3L383.1 191.1M370.1 72.8L377.0 73.0M506.7 192.8L506.3 209.2M376.7 50.9L327.7 69.4M469.1 218.2L475.8 235.6M403.2 69.0L402.3 76.0M293.5 223.2L292.6 212.2M326.8 29.2L329.4 34.8M386.5 134.4L400.4 144.8M293.5 223.2L309.9 229.8M386.5 172.0L370.6 176.3M311.7 232.4L305.1 234.7M465.3 231.6L468.4 245.3M451.0 112.8L462.7 114.0M324.2 50.9L316.4 56.6M422.2 14.5L425.7 27.2M356.2 173.2L361.4 181.5M480.7 110.5L495.1 157.3M327.8 90.8L328.6 103.6M361.4 181.5L341.9 173.1M297.5 204.7L303.3 212.2M314.8 124.0L329.5 121.4M465.2 130.1L469.7 123.7M419.4 126.6L395.2 181.9M450.1 98.4L460.5 96.0M415.1 137.0L433.3 136.2M321.6 63.5L322.5 73.9M450.1 98.4L451.0 112.8M416.5 52.6L411.0 63.8M457.0 174.3L461.3 184.7M394.5 30.1L403.7 27.2M463.9 97.2L461.7 101.5M390.3 142.2L389.1 147.8M436.9 74.2L443.0 79.1M473.5 101.2L485.2 109.8M378.2 116.8L381.3 131.8M371.8 131.0L381.3 131.8M432.4 119.7L450.6 169.1M371.8 131.0L368.4 141.3M393.8 195.0L419.1 191.9M320.0 154.1L341.9 158.2M440.7 30.6L445.9 35.3M379.3 61.8L374.4 70.4M307.9 106.4L301.8 115.0M443.0 79.1L440.4 83.2M273.2 141.0L261.8 166.9M264.1 183.5L263.2 201.1M320.0 154.1L326.9 188.2M370.6 176.3L309.9 229.8M336.9 32.3L340.2 35.8M509.8 120.9L508.4 125.4M424.6 178.9L405.6 198.0M337.2 64.7L324.2 69.0M405.9 111.9L409.9 115.0M386.5 186.7L386.9 195.7M465.2 201.4L455.6 234.9M412.7 34.1L417.0 45.7M281.9 149.6L284.8 152.7M419.4 95.5L468.3 155.2M279.3 138.2L291.8 135.3M391.4 130.1L400.0 138.2M296.1 193.9L292.6 212.2M386.5 172.0L395.2 181.9M394.3 93.7L465.7 93.7M450.6 169.1L457.0 174.3M358.8 69.4L370.1 72.8M320.8 143.1L320.0 154.1M424.8 74.2L439.0 70.4M356.2 173.2L370.6 176.3M439.0 34.4L445.9 35.3M415.6 166.8L353.7 219.3M438.3 17.1L425.7 27.2M415.1 137.0L407.7 140.0M303.1 80.8L313.6 92.5M321.6 63.5L370.1 63.5M328.6 103.6L329.5 121.4M410.4 133.6L469.7 123.7M345.3 31.3L392.8 52.6M368.9 69.4L374.4 70.4M407.5 53.5L447.2 118.8M390.3 195.7L389.7 204.9M402.3 44.8L394.5 47.4M463.4 156.4L468.3 155.2M345.4 120.2L344.7 133.6M379.6 159.0L341.9 158.2M306.1 217.3L316.8 226.3M390.3 142.2L400.4 157.3M419.4 95.5L428.6 97.2M336.7 24.9L336.9 32.3M326.9 188.2L332.4 201.1M356.2 173.2L313.0 217.7M468.4 245.3L474.5 248.4M376.7 22.3L388.3 38.7M469.7 123.7L480.7 130.1M273.2 141.0L273.6 146.6M415.6 207.8L412.5 219.3M377.0 130.1L371.8 131.0M462.2 189.8L446.6 194.5M412.7 49.1L409.9 115.0M400.2 48.3L392.8 52.6M496.8 189.3L490.4 204.0M386.5 186.7L383.1 191.1M428.3 87.7L460.5 127.5M433.3 136.2L445.4 126.6M326.8 29.2L336.9 32.3M341.5 30.6L403.7 27.2M419.1 191.9L415.6 207.8M433.3 136.2L366.6 143.1M271.5 137.0L279.3 138.2M422.2 8.5L443.0 79.1M324.6 201.1L339.7 205.0M491.6 109.8L487.3 121.4M366.6 214.4L316.8 226.3M402.3 76.0L394.3 93.7M321.6 63.5L327.7 69.4M383.1 191.1L326.9 188.2M390.3 195.7L390.3 199.7M442.5 53.1L429.7 64.2M463.4 156.4L470.3 168.0M390.3 142.2L379.3 150.4M442.5 53.1L436.9 74.2M324.7 101.5L273.2 141.0M402.3 44.8L467.2 87.7M359.2 31.3L357.1 45.7M349.3 43.1L357.1 45.7M393.8 195.0L405.6 198.0M439.0 70.4L396.6 114.0M462.2 189.8L465.2 201.4M320.0 154.1L332.8 159.6M321.2 188.7L324.6 201.1M336.7 24.9L321.6 63.5M440.7 30.6L439.0 34.4M326.9 130.6L320.8 143.1M386.5 134.4L390.3 142.2M370.1 63.5L429.7 64.2M460.5 127.5L471.4 137.0M405.6 198.0L412.5 219.3M380.5 171.5L409.0 181.5M381.3 131.8L389.1 147.8M432.1 9.3L429.7 15.4M348.5 147.8L345.4 142.3M327.7 69.4L326.0 77.7M469.1 218.2L477.0 225.7M296.1 193.9L302.7 182.5M281.9 217.3L293.5 223.2M420.8 113.3L432.4 119.7M485.2 109.8L509.8 120.9M450.6 169.1L436.8 172.5M358.8 69.4L368.9 69.4M424.8 74.2L430.3 73.9M299.9 189.9L307.3 195.6M491.6 109.8L508.4 125.4M402.3 76.0L414.2 91.2M377.0 73.0L407.7 140.0M465.2 130.1L471.4 137.0M324.2 69.0L307.3 92.0M415.6 166.8L496.3 184.1M414.1 27.5L425.7 33.0M431.9 196.2L474.5 248.4M490.4 204.0L506.3 209.2M402.3 44.8L400.2 48.3M334.2 205.5L328.1 216.0M415.3 88.1L407.0 91.5M419.4 95.5L421.2 99.5M336.7 24.9L345.3 31.3M376.7 22.3L384.3 34.4M389.8 44.5L414.2 91.2M469.1 210.1L469.1 218.2M460.5 127.5L445.4 126.6M265.8 216.0L311.7 232.4M416.5 52.6L447.2 118.8M440.2 94.3L450.1 98.4M380.5 171.5L390.3 174.6M271.5 137.0L284.8 152.7M316.4 56.6L324.2 69.0M309.5 83.7L311.2 86.3M279.1 190.8L299.9 189.9M425.7 33.0L443.0 79.1M369.2 154.7L320.3 167.4M329.8 195.6L332.4 201.1M477.0 225.7L474.5 248.4M291.1 96.3L310.1 100.2M349.3 43.1L356.2 107.6M432.4 119.7L447.2 118.8M410.4 133.6L415.1 137.0M424.8 74.2L440.4 83.2M264.1 174.8L264.1 183.5M456.2 142.7L449.2 142.6M383.9 165.6L371.3 167.7M467.2 87.7L463.9 97.2M415.3 88.1L407.5 89.5M321.6 63.5L324.2 69.0M390.3 195.7L393.8 195.0M383.9 165.6L398.7 210.1M402.3 44.8L407.5 53.5M307.3 92.0L307.9 106.4M324.7 101.5L291.8 135.3M333.7 85.0L327.8 90.8M306.1 217.3L311.7 232.4M451.3 130.6L456.2 142.7M419.1 191.9L468.4 245.3M473.5 101.2L475.5 106.7M389.1 147.8L391.7 164.2M409.0 181.5L395.2 181.9M336.7 153.0L332.8 159.6M371.3 167.7L370.6 176.3M321.2 188.7L329.8 195.6M461.0 106.4L451.0 112.8M496.8 189.3L506.7 192.8M265.8 216.0L276.2 228.4M307.9 106.4L324.0 109.8M263.2 201.1L275.3 207.3M471.4 137.0L481.2 141.3M348.5 147.8L341.9 158.2M400.2 48.3L391.4 130.1M296.1 193.9L299.9 189.9M345.3 31.3L359.2 31.3M420.8 113.3L432.9 114.5M485.2 109.8L498.0 120.9M341.5 30.6L425.7 27.2M419.1 191.9L412.5 219.3M389.7 204.9L398.7 210.1M424.8 74.2L423.1 70.4M379.3 150.4L369.2 154.7M334.6 40.5L335.5 46.2M440.2 114.0L447.2 118.8M446.6 155.9L450.6 169.1M353.3 32.3L346.7 38.2M338.4 85.0L326.0 77.7M354.5 104.7L356.2 107.6M380.0 203.7L462.2 189.8M459.4 86.3L460.5 96.0M495.1 157.3L489.0 177.2M344.7 133.6L345.4 142.3M358.5 58.7L433.5 19.7M490.4 204.0L469.1 210.1M394.5 47.4L391.4 130.1M386.9 195.7L390.3 195.7M307.3 195.6L297.5 204.7M489.0 123.7L469.7 123.7M417.0 45.7L416.5 52.6M336.7 24.9L341.5 30.6M370.1 63.5L368.9 69.4M371.3 167.7L380.5 171.5M407.0 91.5L387.4 94.6M461.0 106.4L473.5 101.2M466.3 78.0L467.2 87.7M428.3 87.7L414.2 91.2M386.5 134.4L391.4 130.1M346.5 98.4L355.7 96.7M361.4 181.5L356.2 196.2M460.5 127.5L454.4 128.4M312.2 100.7L307.9 106.4M390.3 195.7L327.6 230.2M327.7 69.4L336.7 73.4M469.7 123.7L446.6 194.5M335.5 220.3L326.4 222.9M350.2 221.3L353.7 219.3M267.0 192.8L292.6 212.2M313.0 226.3L305.1 234.7M273.2 141.0L292.3 144.5M422.2 8.5L432.1 9.3M363.7 126.6L320.3 167.4M412.5 126.1L370.6 176.3M415.6 166.8L424.6 178.9M419.1 118.0L420.8 113.3M454.4 192.8L465.2 201.4M432.4 119.7L440.2 114.0M419.1 118.0L412.5 126.1M331.2 98.4L346.5 98.4M380.0 203.7L389.7 204.9M388.3 38.7L400.2 48.3M353.3 32.3L364.4 34.1M412.7 49.1L411.0 63.8M392.6 176.7L386.5 186.7M358.5 58.7L377.0 73.0M461.3 184.7L454.4 192.8M307.3 92.0L302.7 91.7M495.1 157.3L496.3 184.1M420.8 113.3L450.6 169.1M403.7 27.2L412.7 34.1M363.7 126.6L368.4 141.3M340.2 35.8L337.2 64.7M403.7 27.2L400.2 35.8M451.3 130.6L454.4 138.7M431.2 211.3L366.6 214.4M274.4 212.5L292.6 212.2M327.6 230.2L339.7 231.2M407.7 140.0L400.4 144.8M329.4 34.8L402.3 76.0M429.7 64.2L430.3 73.9M410.4 133.6L480.7 110.5M454.4 128.4L449.2 142.6M428.3 87.7L428.6 97.2M341.5 30.6L340.2 35.8M341.5 30.6L334.6 40.5M370.1 72.8L439.0 34.4M425.7 33.0L444.2 39.6M363.2 191.6L356.2 196.2M316.4 56.6L321.6 63.5M429.7 15.4L425.7 33.0M351.9 144.5L348.5 147.8M313.0 162.2L294.7 169.1M324.2 69.0L322.5 73.9M287.8 200.3L292.6 212.2M379.6 159.0L391.7 164.2M345.3 31.3L353.3 32.3M465.7 93.7L463.9 97.2M336.7 192.8L329.8 195.6M336.7 73.4L345.9 80.8M497.7 169.1L506.7 192.8M273.6 146.6L289.5 152.3M331.2 98.4L328.6 103.6M429.8 215.8L420.9 234.3M326.0 39.1L335.5 46.2M445.4 126.6L451.3 130.6M284.8 152.7L326.4 222.9M358.5 58.7L350.2 69.9M446.6 155.9L454.1 163.4M338.4 85.0L348.5 84.3M386.5 172.0L313.0 162.2M455.6 234.9L448.3 235.6M461.3 184.7L473.1 189.8M459.4 86.3L465.7 93.7M414.2 91.2L428.6 97.2M396.6 114.0L405.9 111.9M357.5 167.7L356.2 173.2M274.4 212.5L281.9 217.3M370.1 63.5L358.8 69.4M348.5 84.3L341.3 91.2M429.7 64.2L413.0 67.3M407.0 91.5L394.3 93.7M263.2 201.1L287.8 200.3M400.0 138.2L400.4 144.8M328.1 216.0L339.7 231.2M480.7 110.5L491.6 109.8M291.8 135.3L281.9 149.6M480.7 110.5L508.4 125.4M424.6 178.9L436.8 172.5M341.5 30.6L349.3 43.1M429.7 15.4L394.5 30.1M424.6 178.9L446.6 194.5M384.3 34.4L412.7 34.1M287.8 200.3L281.9 217.3M313.0 226.3L311.7 232.4M419.4 126.6L433.3 136.2M379.6 159.0L380.5 171.5M341.9 158.2L339.7 231.2M415.6 166.8L409.0 181.5M430.3 73.9L443.0 79.1M497.7 169.1L479.5 195.7M487.3 121.4L509.8 120.9M390.3 199.7L389.7 204.9M383.9 165.6L394.3 166.3M353.7 219.3L281.9 217.3M358.5 58.7L374.4 70.4M345.9 198.0L339.7 205.0M445.9 35.3L436.9 74.2M454.4 138.7L446.6 155.9M307.3 195.6L326.9 188.2M353.7 219.3L339.7 231.2M407.5 89.5L419.4 95.5M403.7 27.2L414.1 27.5M357.1 45.7L358.5 58.7M431.2 211.3L412.5 219.3M381.3 131.8L386.5 134.4M429.7 64.2L423.1 70.4M366.6 214.4L350.2 221.3M267.0 192.8L279.1 190.8M431.9 196.2L431.2 211.3M292.3 144.5L281.9 149.6M465.3 231.6L455.6 234.9M312.2 100.7L301.8 115.0M429.7 15.4L425.7 27.2M267.0 192.8L265.8 216.0M324.2 69.0L327.7 69.4M419.4 126.6L407.7 140.0M383.1 191.1L390.3 195.7M379.6 159.0L383.9 165.6M465.7 93.7L460.5 96.0M422.2 8.5L433.5 19.7M471.4 137.0L490.4 204.0M284.8 152.7L289.5 152.3M291.8 135.3L273.2 141.0M316.8 226.3L309.9 229.8M336.7 73.4L338.4 85.0M412.7 34.1L421.2 99.5M444.7 88.4L428.3 87.7M294.7 169.1L293.5 192.2M284.8 152.7L329.8 195.6M329.4 34.8L334.6 40.5M394.3 166.3L390.3 174.6M445.9 35.3L444.2 39.6M433.3 136.2L444.9 149.5M446.6 194.5L453.6 195.7M289.5 152.3L285.3 157.0M475.8 235.6L474.5 248.4M350.2 69.9L370.1 72.8M364.4 34.1L371.0 45.7M379.3 150.4L389.1 147.8M345.9 198.0L336.7 192.8M487.3 121.4L481.2 141.3M275.3 207.3L274.4 212.5M330.3 154.1L341.9 158.2M414.2 91.2L421.2 99.5M400.0 138.2L440.2 94.3M346.7 38.2L345.4 120.2M396.6 114.0L401.2 116.2M427.9 59.5L423.1 70.4M407.5 89.5L387.4 94.6M454.4 138.7L473.1 189.8M395.2 181.9L383.1 191.1M468.3 155.2L495.1 157.3M443.0 79.1L444.7 88.4M274.4 212.5L265.8 216.0M387.4 94.6L378.2 116.8M353.3 46.2L353.7 59.0M370.1 72.8L374.4 70.4M379.3 150.4L336.7 192.8M402.3 44.8L412.5 126.1M480.7 110.5L485.2 109.8M421.2 99.5L428.6 97.2M470.3 168.0L457.0 174.3M386.5 134.4L389.1 147.8M429.7 15.4L438.3 17.1M473.5 101.2L468.3 155.2M454.1 163.4L477.0 225.7M287.8 200.3L265.8 216.0M390.3 199.7L398.7 210.1M471.4 137.0L436.8 172.5M394.5 47.4L392.8 52.6M384.3 34.4L389.8 44.5M327.8 90.8L324.7 101.5M346.5 98.4L357.5 167.7M309.5 83.7L313.6 92.5M297.5 204.7L292.6 212.2M324.6 201.1L292.6 212.2M328.6 103.6L324.0 109.8M430.3 73.9L436.9 74.2M429.8 157.3L446.6 155.9M345.9 164.2L341.9 173.1M429.8 215.8L449.3 228.3M333.7 85.0L345.9 80.8M370.6 176.3L361.4 181.5M487.3 121.4L498.0 120.9M371.0 45.7L307.3 92.0M311.2 86.3L302.7 91.7M378.2 116.8L401.2 116.2M487.3 121.4L480.7 130.1M454.4 128.4L469.7 123.7M292.6 212.2L303.3 212.2M313.0 217.7L326.4 222.9M346.7 38.2L346.5 98.4M461.7 101.5L475.5 106.7M407.5 89.5L407.0 91.5M379.3 61.8L370.1 72.8M264.1 183.5L267.0 192.8M489.0 177.2L479.5 195.7M279.3 138.2L289.5 152.3M473.1 189.8L506.7 192.8M264.1 183.5L275.3 207.3M389.1 147.8L470.3 168.0M480.7 130.1L481.2 141.3M409.9 115.0L410.4 133.6M412.5 126.1L410.4 133.6M341.5 30.6L336.9 32.3M431.9 196.2L415.6 207.8M267.0 192.8L263.2 201.1M332.8 159.6L326.4 222.9M421.2 99.5L354.5 104.7M470.3 168.0L473.1 189.8M267.0 192.8L274.4 212.5M326.8 29.2L326.0 39.1M390.3 199.7L405.6 198.0M383.1 191.1L386.9 195.7M356.2 173.2L363.2 191.6M334.3 37.5L324.2 50.9M388.3 38.7L358.8 69.4M412.5 126.1L468.3 155.2M400.4 157.3L465.2 201.4M316.8 226.3L313.0 226.3M327.8 90.8L317.4 129.2M314.8 124.0L317.4 129.2M345.9 164.2L332.4 201.1M368.9 69.4L370.1 72.8M351.9 144.5L336.7 153.0M446.6 194.5L454.4 192.8M394.3 166.3L386.5 172.0M302.7 182.5L321.2 188.7M463.4 156.4L489.0 177.2M389.8 44.5L402.3 44.8M454.4 128.4L454.4 138.7M275.3 207.3L303.3 212.2M310.1 100.2L329.5 121.4M415.6 207.8L429.8 215.8M345.4 120.2L363.7 126.6M353.7 59.0L368.9 69.4M307.9 106.4L302.7 182.5M400.2 48.3L394.5 47.4M320.0 154.1L320.3 167.4M427.9 59.5L424.8 74.2M326.4 222.9L327.6 230.2M313.6 92.5L320.8 143.1M363.7 126.6L371.3 167.7M302.7 91.7L291.1 96.3M473.1 189.8L479.5 195.7M384.3 34.4L388.3 38.7M412.7 34.1L425.7 33.0M354.5 198.8L420.9 234.3M337.2 64.7L336.7 73.4M271.5 137.0L287.8 200.3M341.3 91.2L327.8 90.8M380.5 171.5L429.8 215.8M400.4 144.8L468.3 155.2M386.5 172.0L392.6 176.7M281.9 149.6L261.8 166.9M465.3 231.6L475.8 235.6M388.3 38.7L376.7 50.9M326.0 77.7L351.9 144.5M422.2 14.5L414.1 27.5M320.8 143.1L332.8 159.6M420.8 113.3L440.2 114.0M327.8 90.8L331.2 98.4M345.9 164.2L341.9 158.2M309.5 83.7L307.3 92.0M438.3 17.1L439.0 34.4M392.8 52.6L355.7 96.7M429.8 157.3L424.6 178.9M346.7 38.2L403.7 27.2M316.8 226.3L327.6 230.2M438.3 17.1L413.0 67.3M333.7 85.0L338.4 85.0M442.5 53.1L427.9 59.5M331.2 98.4L368.4 141.3M321.6 63.5L326.0 77.7M390.3 195.7L463.4 156.4M378.2 116.8L396.6 114.0M457.0 174.3L454.4 192.8M454.4 128.4L440.9 129.6M415.3 88.1L394.3 93.7M320.3 167.4L341.9 173.1M378.2 116.8L377.0 130.1M344.7 133.6L334.2 205.5M349.3 43.1L353.3 46.2M275.3 207.3L276.2 228.4M393.8 195.0L390.3 199.7M390.3 142.2L363.2 191.6M320.0 154.1L336.7 153.0M427.9 59.5L429.7 64.2M391.7 164.2L415.6 207.8M379.3 61.8L368.9 69.4M363.7 126.6L366.6 143.1M468.3 155.2L470.3 168.0M332.8 159.6L320.3 167.4M413.0 67.3L424.8 74.2M475.5 106.7L480.7 110.5M338.4 85.0L292.3 144.5M353.3 46.2L357.1 45.7M494.6 226.4L474.5 248.4M358.5 58.7L428.6 97.2M386.5 186.7L380.0 203.7M391.4 130.1L390.3 142.2M407.5 53.5L413.0 67.3M333.8 117.1L345.4 120.2M287.8 200.3L296.1 193.9M336.9 32.3L374.4 70.4M293.5 223.2L305.1 234.7M366.6 143.1L369.2 154.7M422.2 14.5L429.7 15.4M451.0 112.8L447.2 118.8M348.5 147.8L306.1 217.3M322.5 73.9L326.0 77.7M461.0 106.4L457.0 174.3M299.9 189.9L302.7 182.5M432.9 114.5L432.4 119.7M491.6 109.8L509.8 120.9M356.2 173.2L405.6 198.0M423.1 70.4L430.3 73.9M302.7 182.5L307.3 195.6M463.9 97.2L473.5 101.2M463.4 156.4L457.0 174.3M444.7 88.4L440.2 94.3M415.3 88.1L414.2 91.2M481.2 141.3L495.1 157.3M454.4 192.8L448.3 235.6M326.9 188.2L329.8 195.6M353.7 59.0L358.5 58.7M378.2 116.8L391.4 130.1M447.2 118.8L440.9 129.6M353.7 59.0L358.8 69.4M338.4 85.0L341.3 91.2M313.6 92.5L324.7 101.5M409.0 181.5L419.1 191.9M326.9 130.6L317.4 129.2M393.8 195.0L380.0 203.7M338.4 85.0L346.5 98.4M496.8 189.3L479.5 195.7M320.0 154.1L313.0 162.2M400.4 144.8L400.4 157.3M475.5 106.7L462.7 114.0M271.5 137.0L281.9 149.6M380.5 171.5L386.5 172.0M400.4 157.3L394.3 166.3M412.7 34.1L425.7 27.2M354.5 198.8L305.1 234.7M400.4 157.3L415.6 166.8M336.9 32.3L326.0 39.1M386.5 186.7L393.8 195.0M376.7 50.9L379.3 61.8M436.8 172.5L446.6 194.5M469.1 218.2L455.6 234.9M281.9 149.6L285.3 157.0M329.8 195.6L324.6 201.1M341.3 91.2L346.5 98.4M400.4 157.3L380.0 203.7M415.6 207.8L494.6 226.4M281.9 149.6L294.7 169.1M386.5 172.0L390.3 174.6M400.2 55.2L411.0 63.8M450.6 169.1L461.3 184.7M459.4 86.3L467.2 87.7M320.8 143.1L336.7 153.0M324.6 201.1L332.4 201.1M345.9 164.2L332.8 159.6M438.3 17.1L440.7 30.6M508.4 125.4L470.3 168.0M415.6 166.8L436.8 172.5M465.2 130.1L481.2 141.3M303.1 80.8L288.8 89.4M321.6 63.5L337.2 64.7M449.2 142.6L444.9 149.5M410.4 133.6L400.4 144.8M264.1 174.8L313.0 226.3M335.5 46.2L350.2 69.9M463.4 156.4L454.1 163.4M285.3 157.0L299.9 189.9M454.4 128.4L445.4 126.6M320.3 167.4L274.4 212.5M359.2 31.3L349.3 43.1M454.1 163.4L470.3 168.0M336.7 24.9L334.6 40.5M324.2 50.9L387.4 94.6M462.2 189.8L453.6 195.7M454.1 163.4L496.8 189.3M377.0 130.1L386.5 134.4M409.0 181.5L398.7 210.1M350.2 69.9L328.6 103.6M400.2 48.3L407.5 53.5M313.6 92.5L307.9 106.4M496.8 189.3L506.3 209.2M320.0 154.1L330.3 154.1M265.8 216.0L281.9 217.3M413.0 67.3L402.3 76.0M307.9 106.4L317.4 129.2M348.5 84.3L354.5 104.7M354.5 198.8L287.4 228.1M407.7 140.0L389.7 204.9M380.5 171.5L370.6 176.3M344.7 133.6L351.9 144.5M411.0 63.8L439.0 70.4M281.9 217.3L276.2 228.4M279.1 190.8L275.3 207.3M357.5 167.7L341.9 173.1M333.8 117.1L329.5 121.4M420.8 113.3L412.5 126.1M345.9 198.0L354.5 198.8M450.6 169.1L470.3 168.0M271.5 137.0L273.2 141.0M460.5 96.0L461.7 101.5M334.6 40.5L326.0 39.1M454.4 138.7L456.2 142.7M341.3 91.2L379.6 159.0M414.1 27.5L412.7 34.1M433.5 19.7L400.2 48.3M324.7 101.5L310.1 100.2M416.5 52.6L413.0 67.3M463.9 97.2L461.0 106.4M336.7 24.9L326.8 29.2M391.7 164.2L392.6 176.7M445.4 126.6L449.2 142.6M383.9 165.6L461.3 184.7M447.2 118.8L445.4 126.6M466.3 78.0L459.4 86.3M462.2 189.8L469.1 210.1M401.2 116.2L409.9 115.0M431.2 211.3L446.6 194.5M440.7 30.6L444.2 39.6M263.2 201.1L281.9 217.3M460.5 127.5L465.2 130.1M326.4 222.9L311.7 232.4M327.7 69.4L322.5 73.9M411.0 63.8L403.2 69.0M400.4 157.3L391.7 164.2M428.3 87.7L440.2 94.3M432.1 9.3L438.3 17.1M405.9 111.9L419.1 118.0M336.9 32.3L334.3 37.5M477.0 225.7L486.2 234.3M394.3 93.7L396.6 114.0M281.9 217.3L292.6 212.2M469.1 218.2L465.3 231.6M392.8 52.6L407.5 89.5M412.5 219.3L420.9 234.3M322.5 73.9L336.7 73.4M444.2 39.6L442.5 53.1M322.5 73.9L309.5 83.7M301.8 115.0L314.8 124.0M358.8 69.4L374.4 70.4M309.9 229.8L305.1 234.7M424.8 74.2L436.9 74.2M345.9 164.2L336.7 153.0M424.8 74.2L428.3 87.7M353.3 32.3L359.2 31.3"/>
<path fill="none" stroke="#7a7a7a" stroke-width="0.4" d="M371.0 45.7L364.4 34.1M371.0 45.7L358.8 69.4M371.0 45.7L422.2 8.5M371.0 45.7L326.0 77.7M371.0 45.7L394.5 30.1M371.0 45.7L421.2 99.5M371.0 45.7L396.6 114.0M371.0 45.7L310.1 100.2M371.0 45.7L348.5 84.3M376.7 50.9L363.7 126.6M376.7 50.9L376.7 22.3M376.7 50.9L336.9 32.3M376.7 50.9L415.3 88.1M446.6 194.5L386.9 195.7M446.6 194.5L465.2 201.4M446.6 194.5L451.3 130.6M446.6 194.5L457.0 174.3M446.6 194.5L371.3 167.7M321.7 143.7L350.2 69.9M321.7 143.7L389.1 147.8M321.7 143.7L333.8 117.1M321.7 143.7L379.6 159.0M321.7 143.7L291.8 135.3M321.7 143.7L293.5 223.2M321.7 143.7L293.5 192.2M394.5 30.1L433.5 19.7M394.5 30.1L368.9 69.4M394.5 30.1L429.7 15.4M394.5 30.1L378.2 116.8M394.5 30.1L370.1 72.8M394.5 30.1L353.3 46.2M394.5 30.1L411.0 63.8M331.2 98.4L312.2 100.7M331.2 98.4L284.8 152.7M331.2 98.4L350.2 69.9M331.2 98.4L334.6 40.5M331.2 98.4L348.5 147.8M331.2 98.4L388.3 38.7M331.2 98.4L401.2 116.2M331.2 98.4L301.8 115.0"/>
<path fill="none" stroke="#8a8a8a" stroke-width="0.35" d="M377.0 73.0L395.3 138.1M429.7 64.2L432.9 114.5M403.2 69.0L432.4 119.7M402.3 76.0L415.6 110.0M423.1 70.4L432.4 119.7M430.3 73.9L448.7 139.8M439.0 70.4L418.2 110.0M439.0 70.4L437.3 120.9M436.9 74.2L462.7 114.0M443.0 79.1L422.3 131.2M440.4 83.2L440.9 129.6M440.4 83.2L391.4 130.1M466.3 78.0L433.5 132.8M459.4 86.3L466.1 129.8M467.2 87.7L426.0 112.0M444.7 88.4L440.2 114.0M415.3 88.1L466.1 129.8M407.5 89.5L426.0 112.0M428.3 87.7L433.5 132.8M346.5 98.4L384.7 119.3M333.8 117.1L369.2 154.7M333.8 117.1L381.4 162.4M329.5 121.4L396.0 142.3M414.2 91.2L393.2 121.6M414.2 91.2L414.3 130.5M414.2 91.2L419.9 130.8M407.0 91.5L396.0 142.3M407.0 91.5L454.4 128.4M419.4 95.5L379.3 150.4M419.4 95.5L397.5 135.6M419.4 95.5L399.6 148.7M421.2 99.5L406.6 159.0M421.2 99.5L455.9 150.5M421.2 99.5L396.0 142.3M421.2 99.5L457.4 144.0M421.2 99.5L400.8 144.2M421.2 99.5L457.4 144.0M428.6 97.2L460.4 149.9M394.3 93.7L414.3 130.5M394.3 93.7L401.2 116.2M394.3 93.7L415.0 113.0M387.4 94.6L389.9 144.1M387.4 94.6L406.6 159.0M387.4 94.6L411.3 138.8M355.7 96.7L389.5 122.9M354.5 104.7L419.4 126.6M354.5 104.7L377.0 130.1M356.2 107.6L405.9 111.9M378.2 116.8L433.0 144.9M378.2 116.8L411.3 138.8M378.2 116.8L397.5 135.6M378.2 116.8L415.0 113.0M378.2 116.8L386.6 151.9M378.2 116.8L395.4 179.7M363.7 126.6L388.6 164.4M371.8 131.0L369.2 154.7M371.8 131.0L389.1 158.4M371.8 131.0L394.3 166.3M371.8 131.0L397.5 135.6M371.8 131.0L413.8 162.2M371.8 131.0L394.7 172.6M368.4 141.3L389.7 136.8M368.4 141.3L409.9 115.0M368.4 141.3L398.8 141.5M368.4 141.3L432.4 119.7M351.9 144.5L401.5 168.5M351.9 144.5L402.0 172.0M440.2 94.3L407.7 140.0M450.1 98.4L437.0 129.5M450.1 98.4L455.9 150.5M465.7 93.7L415.0 113.0M460.5 96.0L419.4 126.6M463.9 97.2L443.8 148.6M463.9 97.2L437.7 130.1M461.7 101.5L410.4 133.6M461.0 106.4L459.6 150.9M461.0 106.4L451.3 130.6M461.0 106.4L402.0 129.0M461.0 106.4L397.5 135.6M473.5 101.2L448.7 139.8M473.5 101.2L448.9 163.4M475.5 106.7L463.4 156.4M475.5 106.7L420.8 113.3M475.5 106.7L447.7 145.6M480.7 110.5L468.3 155.2M485.2 109.8L444.9 149.5M491.6 109.8L460.4 149.9M491.6 109.8L469.7 123.7M487.3 121.4L444.9 149.5M487.3 121.4L419.1 118.0M489.0 123.7L462.4 159.1M498.0 120.9L446.6 155.9M480.7 130.1L429.1 166.7M480.7 130.1L431.2 176.4M480.7 130.1L449.2 142.6M480.7 130.1L437.0 129.5M480.7 130.1L425.1 160.3M480.7 130.1L459.6 150.9M481.2 141.3L433.3 136.2M481.2 141.3L469.7 123.7M481.2 141.3L419.1 146.9M481.2 141.3L446.6 155.9M366.6 143.1L415.1 137.0M366.6 143.1L398.7 128.1M366.6 143.1L372.1 167.0M366.6 143.1L424.6 178.9M348.5 147.8L386.6 151.9M348.5 147.8L400.1 186.3M357.5 167.7L390.3 142.2M371.3 167.7L381.3 131.8M371.3 167.7L433.3 136.2M371.3 167.7L406.6 159.0M371.3 167.7L379.6 159.0M371.3 167.7L383.3 136.4M371.3 167.7L410.2 208.2M370.6 176.3L386.6 151.9M370.6 176.3L414.3 130.5M370.6 176.3L425.4 193.7M370.6 176.3L381.9 128.7M370.6 176.3L383.3 136.4M361.4 181.5L389.5 122.9M361.4 181.5L419.0 184.7M383.1 191.1L401.5 128.2M383.1 191.1L445.6 161.5M383.1 191.1L426.3 179.8M383.1 191.1L425.1 160.3M383.1 191.1L401.5 168.5M383.1 191.1L442.9 190.0M363.2 191.6L393.8 195.0M345.9 198.0L375.7 162.6M345.9 198.0L399.5 191.1M356.2 196.2L393.8 195.0M356.2 196.2L400.1 186.3M354.5 198.8L411.7 201.3M386.9 195.7L426.3 179.8M386.9 195.7L389.5 160.6M386.9 195.7L411.7 190.3M386.9 195.7L389.3 178.7M386.9 195.7L378.8 154.7M386.9 195.7L400.4 157.3M390.3 195.7L453.9 179.7M390.3 195.7L398.1 135.8M390.3 195.7L384.9 175.4M390.3 195.7L405.6 198.0M390.3 195.7L371.2 150.4M390.3 195.7L417.7 203.6M390.3 199.7L389.1 158.4M390.3 199.7L389.9 156.0M390.3 199.7L372.1 167.0M390.3 199.7L390.3 174.6M390.3 199.7L393.8 195.0M390.3 199.7L386.5 134.4M390.3 199.7L382.5 154.9M380.0 203.7L371.8 136.7M380.0 203.7L446.6 194.5M389.7 204.9L437.7 157.3M389.7 204.9L421.2 196.2M389.7 204.9L395.0 137.5M389.7 204.9L380.5 171.5M389.7 204.9L386.6 151.9M389.7 204.9L452.1 191.3M398.7 210.1L370.4 156.3M398.7 210.1L392.4 169.0M398.7 210.1L420.5 195.7M398.7 210.1L433.0 167.2M398.7 210.1L382.5 154.9M412.5 219.3L375.7 162.6M412.5 219.3L409.9 199.3M412.5 219.3L422.9 152.0M366.6 214.4L377.0 152.6M366.6 214.4L379.6 159.0M495.1 157.3L437.0 129.5M495.1 157.3L444.2 173.2M470.3 168.0L448.7 139.8M470.3 168.0L445.4 126.6M470.3 168.0L461.5 147.7M470.3 168.0L450.5 157.7M497.7 169.1L451.3 130.6M497.7 169.1L454.1 163.4M489.0 177.2L468.1 128.3M489.0 177.2L449.5 194.3M461.3 184.7L420.5 195.7M461.3 184.7L419.9 130.8M461.3 184.7L419.1 191.9M461.3 184.7L442.9 190.0M462.2 189.8L432.2 176.2M462.2 189.8L463.3 150.5M462.2 189.8L422.9 152.0M473.1 189.8L417.1 161.3M496.3 184.1L448.9 163.4M496.8 189.3L449.5 194.3M454.4 192.8L411.3 138.8M454.4 192.8L453.9 179.7M454.4 192.8L432.2 176.2M454.4 192.8L435.1 204.2M454.4 192.8L403.7 173.1M454.4 192.8L399.9 171.9M453.6 195.7L419.8 200.7M453.6 195.7L427.2 202.3M453.6 195.7L399.5 191.1M453.6 195.7L391.7 164.2M453.6 195.7L443.8 148.6M479.5 195.7L463.2 140.5M465.2 201.4L410.1 206.7M465.2 201.4L400.1 186.3M490.4 204.0L461.5 147.7M469.1 210.1L461.2 142.7M469.1 210.1L448.7 153.6M330.3 154.1L389.3 178.7M336.7 153.0L394.6 142.6M336.7 153.0L389.9 144.1M341.9 158.2L400.4 144.8M345.4 142.3L389.7 136.8M336.7 192.8L405.6 198.0M449.3 228.3L400.1 186.3M477.0 225.7L429.8 215.8M465.3 231.6L427.2 185.0M455.6 234.9L409.9 199.3"/>
<path fill="none" stroke="#7a7a7a" stroke-width="0.35" stroke-opacity="0.85" d="M440.4 83.2L432.9 114.5M370.1 63.5L469.5 145.4M353.7 59.0L396.0 142.3M331.2 98.4L381.3 131.8M334.6 40.5L386.5 134.4M338.4 85.0L460.5 127.5M353.3 46.2L419.1 146.9M348.5 84.3L457.4 144.0M394.5 47.4L437.0 129.5M427.9 59.5L412.5 126.1M421.2 99.5L410.4 133.6M349.3 43.1L460.5 127.5M440.2 94.3L439.5 123.2M440.4 83.2L437.3 120.9M377.0 73.0L390.3 142.2M439.0 70.4L426.0 112.0M377.0 73.0L398.6 114.1M370.1 63.5L377.0 130.1M368.9 69.4L401.5 128.2M337.2 64.7L432.4 119.7M335.5 46.2L460.5 127.5M334.6 40.5L451.0 112.8M370.1 72.8L403.9 124.6M402.3 44.8L469.7 123.7M338.4 85.0L398.8 141.5M331.2 98.4L422.3 131.2M346.5 98.4L398.6 114.1M353.7 59.0L433.0 144.9M374.4 70.4L447.2 118.8M335.5 46.2L437.7 130.1M402.3 44.8L461.5 147.7M414.2 91.2L397.5 135.6M389.8 44.5L402.0 129.0M412.7 49.1L443.8 148.6M357.1 45.7L463.2 140.5M402.3 44.8L447.0 136.6M429.7 64.2L381.3 131.8M355.7 96.7L399.6 148.7M358.5 58.7L456.8 124.2M331.2 98.4L399.6 148.7M439.0 70.4L461.5 147.7M353.3 46.2L444.9 149.5M335.5 46.2L439.5 123.2M428.6 97.2L393.2 121.6M333.7 85.0L460.4 149.9M363.2 191.6L388.6 153.0M341.9 158.2L412.5 126.1M356.2 173.2L398.5 108.3M356.2 196.2L371.8 136.7M354.5 198.8L389.7 136.8M341.9 173.1L379.3 150.4M356.2 196.2L380.5 171.5M368.4 141.3L386.8 177.7M336.7 153.0L371.8 136.7M332.4 201.1L386.5 134.4M361.4 181.5L401.2 116.2M320.3 167.4L388.6 164.4M363.2 191.6L401.5 168.5M330.3 154.1L370.4 156.3M341.9 158.2L378.8 154.7M334.2 205.5L383.3 136.4M341.9 158.2L396.0 142.3M366.6 214.4L400.1 183.2M357.5 167.7L415.1 137.0M336.7 153.0L391.7 164.2M326.9 188.2L388.6 164.4M313.0 162.2L386.8 177.7M368.4 141.3L388.6 153.0M345.9 164.2L369.2 154.7M344.7 133.6L409.0 188.3M336.7 153.0L416.7 174.8M314.8 124.0L389.5 160.6M363.2 191.6L417.7 203.6M302.7 182.5L370.2 160.6M351.9 144.5L419.0 184.7M345.4 142.3L419.1 191.9M354.5 198.8L379.6 159.0M361.4 181.5L400.4 144.8M329.5 121.4L410.9 146.0M334.2 205.5L399.6 148.7M363.2 191.6L393.8 195.0M363.7 126.6L383.3 136.4M357.5 167.7L399.9 199.4M330.3 154.1L399.5 169.4M326.9 130.6L394.3 166.3M354.5 198.8L390.3 142.2M368.4 141.3L398.5 108.3M324.6 201.1L384.9 175.4M317.4 129.2L389.9 156.0M336.7 153.0L386.6 151.9M302.7 182.5L386.8 177.7"/>
<path fill="none" stroke="#7a7a7a" stroke-width="0.3" stroke-opacity="0.62" d="M396.6 114.0L405.9 111.9M396.6 114.0L409.9 115.0M396.6 114.0L420.8 113.3M396.6 114.0L432.9 114.5M396.6 114.0L381.3 131.8M396.6 114.0L391.4 130.1M396.6 114.0L419.4 126.6M396.6 114.0L407.7 140.0M396.6 114.0L390.3 142.2M396.6 114.0L433.3 136.2M396.6 114.0L462.7 114.0M396.6 114.0L460.5 127.5M396.6 114.0L445.4 126.6M396.6 114.0L440.9 129.6M396.6 114.0L451.3 130.6M396.6 114.0L454.4 138.7M396.6 114.0L379.3 150.4M396.6 114.0L389.1 147.8M396.6 114.0L369.2 154.7M396.6 114.0L400.4 157.3M396.6 114.0L383.9 165.6M396.6 114.0L394.3 166.3M396.6 114.0L415.6 166.8M396.6 114.0L424.6 178.9M396.6 114.0L386.5 186.7M396.6 114.0L419.1 191.9M396.6 114.0L431.9 196.2M396.6 114.0L449.2 142.6M396.6 114.0L444.9 149.5M396.6 114.0L446.6 155.9M396.6 114.0L463.4 156.4M396.6 114.0L454.1 163.4M396.6 114.0L450.6 169.1M396.6 114.0L436.8 172.5M401.2 116.2L405.9 111.9M401.2 116.2L409.9 115.0M401.2 116.2L377.0 130.1M401.2 116.2L391.4 130.1M401.2 116.2L412.5 126.1M401.2 116.2L419.4 126.6M401.2 116.2L415.1 137.0M401.2 116.2L407.7 140.0M401.2 116.2L451.0 112.8M401.2 116.2L462.7 114.0M401.2 116.2L460.5 127.5M401.2 116.2L465.2 130.1M401.2 116.2L445.4 126.6M401.2 116.2L440.9 129.6M401.2 116.2L451.3 130.6M401.2 116.2L471.4 137.0M401.2 116.2L454.4 138.7M401.2 116.2L389.1 147.8M401.2 116.2L400.4 144.8M401.2 116.2L429.8 157.3M401.2 116.2L391.7 164.2M401.2 116.2L386.5 172.0M401.2 116.2L390.3 174.6M401.2 116.2L392.6 176.7M401.2 116.2L415.6 166.8M401.2 116.2L424.6 178.9M401.2 116.2L395.2 181.9M401.2 116.2L386.5 186.7M401.2 116.2L405.6 198.0M401.2 116.2L431.9 196.2M401.2 116.2L449.2 142.6M401.2 116.2L446.6 194.5M405.9 111.9L419.1 118.0M405.9 111.9L432.9 114.5M405.9 111.9L386.5 134.4M405.9 111.9L419.4 126.6M405.9 111.9L410.4 133.6M405.9 111.9L415.1 137.0M405.9 111.9L407.7 140.0M405.9 111.9L400.0 138.2M405.9 111.9L462.7 114.0M405.9 111.9L440.2 114.0M405.9 111.9L447.2 118.8M405.9 111.9L460.5 127.5M405.9 111.9L465.2 130.1M405.9 111.9L471.4 137.0M405.9 111.9L456.2 142.7M405.9 111.9L400.4 144.8M405.9 111.9L369.2 154.7M405.9 111.9L383.9 165.6M405.9 111.9L394.3 166.3M405.9 111.9L390.3 174.6M405.9 111.9L392.6 176.7M405.9 111.9L415.6 166.8M405.9 111.9L393.8 195.0M405.9 111.9L405.6 198.0M405.9 111.9L431.9 196.2M405.9 111.9L454.1 163.4M405.9 111.9L450.6 169.1M405.9 111.9L446.6 194.5M409.9 115.0L419.1 118.0M409.9 115.0L432.9 114.5M409.9 115.0L432.4 119.7M409.9 115.0L377.0 130.1M409.9 115.0L381.3 131.8M409.9 115.0L410.4 133.6M409.9 115.0L400.0 138.2M409.9 115.0L433.3 136.2M409.9 115.0L462.7 114.0M409.9 115.0L445.4 126.6M409.9 115.0L451.3 130.6M409.9 115.0L454.4 138.7M409.9 115.0L456.2 142.7M409.9 115.0L379.3 150.4M409.9 115.0L389.1 147.8M409.9 115.0L400.4 144.8M409.9 115.0L379.6 159.0M409.9 115.0L429.8 157.3M409.9 115.0L395.2 181.9M409.9 115.0L393.8 195.0M409.9 115.0L405.6 198.0M409.9 115.0L431.9 196.2M409.9 115.0L449.2 142.6M409.9 115.0L444.9 149.5M409.9 115.0L450.6 169.1M409.9 115.0L436.8 172.5M419.1 118.0L420.8 113.3M419.1 118.0L381.3 131.8M419.1 118.0L386.5 134.4M419.1 118.0L391.4 130.1M419.1 118.0L412.5 126.1M419.1 118.0L415.1 137.0M419.1 118.0L451.0 112.8M419.1 118.0L462.7 114.0M419.1 118.0L440.2 114.0M419.1 118.0L447.2 118.8M419.1 118.0L465.2 130.1M419.1 118.0L440.9 129.6M419.1 118.0L379.3 150.4M419.1 118.0L389.1 147.8M419.1 118.0L369.2 154.7M419.1 118.0L429.8 157.3M419.1 118.0L394.3 166.3M419.1 118.0L380.5 171.5M419.1 118.0L386.5 172.0M419.1 118.0L390.3 174.6M419.1 118.0L415.6 166.8M419.1 118.0L409.0 181.5M419.1 118.0L395.2 181.9M419.1 118.0L419.1 191.9M419.1 118.0L444.9 149.5M419.1 118.0L446.6 155.9M419.1 118.0L468.3 155.2M419.1 118.0L454.1 163.4M419.1 118.0L450.6 169.1M419.1 118.0L436.8 172.5M419.1 118.0L446.6 194.5M420.8 113.3L432.4 119.7M420.8 113.3L391.4 130.1M420.8 113.3L419.4 126.6M420.8 113.3L415.1 137.0M420.8 113.3L390.3 142.2M420.8 113.3L400.0 138.2M420.8 113.3L451.0 112.8M420.8 113.3L454.4 128.4M420.8 113.3L445.4 126.6M420.8 113.3L456.2 142.7M420.8 113.3L379.3 150.4M420.8 113.3L389.1 147.8M420.8 113.3L400.4 144.8M420.8 113.3L400.4 157.3M420.8 113.3L429.8 157.3M420.8 113.3L383.9 165.6M420.8 113.3L386.5 172.0M420.8 113.3L392.6 176.7M420.8 113.3L424.6 178.9M420.8 113.3L405.6 198.0M420.8 113.3L419.1 191.9M420.8 113.3L431.9 196.2M420.8 113.3L463.4 156.4M420.8 113.3L468.3 155.2M420.8 113.3L454.1 163.4M420.8 113.3L436.8 172.5M420.8 113.3L457.0 174.3M420.8 113.3L446.6 194.5M432.9 114.5L432.4 119.7M432.9 114.5L381.3 131.8M432.9 114.5L391.4 130.1M432.9 114.5L419.4 126.6M432.9 114.5L415.1 137.0M432.9 114.5L433.3 136.2M432.9 114.5L462.7 114.0M432.9 114.5L440.2 114.0M432.9 114.5L460.5 127.5M432.9 114.5L454.4 128.4M432.9 114.5L445.4 126.6M432.9 114.5L440.9 129.6M432.9 114.5L400.4 144.8M432.9 114.5L400.4 157.3M432.9 114.5L429.8 157.3M432.9 114.5L383.9 165.6M432.9 114.5L380.5 171.5M432.9 114.5L390.3 174.6M432.9 114.5L392.6 176.7M432.9 114.5L409.0 181.5M432.9 114.5L405.6 198.0M432.9 114.5L431.9 196.2M432.9 114.5L449.2 142.6M432.9 114.5L444.9 149.5M432.9 114.5L446.6 155.9M432.9 114.5L463.4 156.4M432.9 114.5L454.1 163.4M432.9 114.5L436.8 172.5M432.9 114.5L457.0 174.3M432.4 119.7L377.0 130.1M432.4 119.7L410.4 133.6M432.4 119.7L415.1 137.0M432.4 119.7L390.3 142.2M432.4 119.7L433.3 136.2M432.4 119.7L451.0 112.8M432.4 119.7L460.5 127.5M432.4 119.7L454.4 128.4M432.4 119.7L440.9 129.6M432.4 119.7L451.3 130.6M432.4 119.7L454.4 138.7M432.4 119.7L389.1 147.8M432.4 119.7L400.4 144.8M432.4 119.7L383.9 165.6M432.4 119.7L394.3 166.3M432.4 119.7L380.5 171.5M432.4 119.7L386.5 172.0M432.4 119.7L424.6 178.9M432.4 119.7L393.8 195.0M432.4 119.7L431.2 211.3M432.4 119.7L449.2 142.6M432.4 119.7L446.6 155.9M432.4 119.7L454.1 163.4M432.4 119.7L450.6 169.1M432.4 119.7L436.8 172.5M432.4 119.7L446.6 194.5M377.0 130.1L381.3 131.8M377.0 130.1L419.4 126.6M377.0 130.1L400.0 138.2M377.0 130.1L433.3 136.2M377.0 130.1L440.2 114.0M377.0 130.1L447.2 118.8M377.0 130.1L454.4 128.4M377.0 130.1L451.3 130.6M377.0 130.1L471.4 137.0M377.0 130.1L379.3 150.4M377.0 130.1L379.6 159.0M377.0 130.1L383.9 165.6M377.0 130.1L394.3 166.3M377.0 130.1L386.5 172.0M377.0 130.1L392.6 176.7M377.0 130.1L415.6 166.8M377.0 130.1L409.0 181.5M377.0 130.1L424.6 178.9M377.0 130.1L393.8 195.0M377.0 130.1L405.6 198.0M377.0 130.1L431.9 196.2M377.0 130.1L415.6 207.8M377.0 130.1L449.2 142.6M377.0 130.1L468.3 155.2M377.0 130.1L457.0 174.3M377.0 130.1L446.6 194.5M381.3 131.8L386.5 134.4M381.3 131.8L412.5 126.1M381.3 131.8L419.4 126.6M381.3 131.8L410.4 133.6M381.3 131.8L400.0 138.2M381.3 131.8L465.2 130.1M381.3 131.8L454.4 128.4M381.3 131.8L445.4 126.6M381.3 131.8L469.7 123.7M381.3 131.8L454.4 138.7M381.3 131.8L429.8 157.3M381.3 131.8L392.6 176.7M381.3 131.8L415.6 166.8M381.3 131.8L409.0 181.5M381.3 131.8L424.6 178.9M381.3 131.8L395.2 181.9M381.3 131.8L393.8 195.0M381.3 131.8L431.2 211.3M381.3 131.8L444.9 149.5M381.3 131.8L446.6 155.9M386.5 134.4L419.4 126.6M386.5 134.4L390.3 142.2M386.5 134.4L433.3 136.2M386.5 134.4L451.0 112.8M386.5 134.4L462.7 114.0M386.5 134.4L447.2 118.8M386.5 134.4L460.5 127.5M386.5 134.4L454.4 128.4M386.5 134.4L469.7 123.7M386.5 134.4L379.3 150.4M386.5 134.4L389.1 147.8M386.5 134.4L400.4 144.8M386.5 134.4L379.6 159.0M386.5 134.4L391.7 164.2M386.5 134.4L392.6 176.7M386.5 134.4L415.6 166.8M386.5 134.4L409.0 181.5M386.5 134.4L386.5 186.7M386.5 134.4L419.1 191.9M386.5 134.4L446.6 155.9M386.5 134.4L463.4 156.4M386.5 134.4L436.8 172.5M391.4 130.1L433.3 136.2M391.4 130.1L451.0 112.8M391.4 130.1L440.2 114.0M391.4 130.1L460.5 127.5M391.4 130.1L465.2 130.1M391.4 130.1L445.4 126.6M391.4 130.1L440.9 129.6M391.4 130.1L451.3 130.6M391.4 130.1L471.4 137.0M391.4 130.1L389.1 147.8M391.4 130.1L379.6 159.0M391.4 130.1L391.7 164.2M391.4 130.1L394.3 166.3M391.4 130.1L386.5 172.0M391.4 130.1L415.6 166.8M391.4 130.1L395.2 181.9M391.4 130.1L405.6 198.0M391.4 130.1L431.2 211.3M391.4 130.1L454.1 163.4M391.4 130.1L450.6 169.1M391.4 130.1L436.8 172.5M391.4 130.1L457.0 174.3M412.5 126.1L419.4 126.6M412.5 126.1L407.7 140.0M412.5 126.1L400.0 138.2M412.5 126.1L440.2 114.0M412.5 126.1L460.5 127.5M412.5 126.1L465.2 130.1M412.5 126.1L445.4 126.6M412.5 126.1L440.9 129.6M412.5 126.1L469.7 123.7M412.5 126.1L471.4 137.0M412.5 126.1L456.2 142.7M412.5 126.1L400.4 144.8M412.5 126.1L400.4 157.3M412.5 126.1L383.9 165.6M412.5 126.1L380.5 171.5M412.5 126.1L390.3 174.6M412.5 126.1L392.6 176.7M412.5 126.1L424.6 178.9M412.5 126.1L395.2 181.9M412.5 126.1L419.1 191.9M412.5 126.1L431.9 196.2M412.5 126.1L429.8 215.8M412.5 126.1L468.3 155.2M412.5 126.1L450.6 169.1M412.5 126.1L446.6 194.5M419.4 126.6L410.4 133.6M419.4 126.6L415.1 137.0M419.4 126.6L390.3 142.2M419.4 126.6L400.0 138.2M419.4 126.6L433.3 136.2M419.4 126.6L462.7 114.0M419.4 126.6L440.2 114.0M419.4 126.6L447.2 118.8M419.4 126.6L440.9 129.6M419.4 126.6L451.3 130.6M419.4 126.6L400.4 144.8M419.4 126.6L369.2 154.7M419.4 126.6L379.6 159.0M419.4 126.6L400.4 157.3M419.4 126.6L429.8 157.3M419.4 126.6L391.7 164.2M419.4 126.6L394.3 166.3M419.4 126.6L386.5 172.0M419.4 126.6L392.6 176.7M419.4 126.6L415.6 166.8M419.4 126.6L395.2 181.9M419.4 126.6L393.8 195.0M419.4 126.6L419.1 191.9M419.4 126.6L468.3 155.2M410.4 133.6L407.7 140.0M410.4 133.6L400.0 138.2M410.4 133.6L440.2 114.0M410.4 133.6L447.2 118.8M410.4 133.6L460.5 127.5M410.4 133.6L465.2 130.1M410.4 133.6L440.9 129.6M410.4 133.6L469.7 123.7M410.4 133.6L471.4 137.0M410.4 133.6L454.4 138.7M410.4 133.6L456.2 142.7M410.4 133.6L379.3 150.4M410.4 133.6L389.1 147.8M410.4 133.6L400.4 157.3M410.4 133.6L429.8 157.3M410.4 133.6L383.9 165.6M410.4 133.6L391.7 164.2M410.4 133.6L394.3 166.3M410.4 133.6L386.5 172.0M410.4 133.6L409.0 181.5M410.4 133.6L395.2 181.9M410.4 133.6L386.5 186.7M410.4 133.6L393.8 195.0M410.4 133.6L431.2 211.3M410.4 133.6L444.9 149.5M410.4 133.6L450.6 169.1M415.1 137.0L390.3 142.2M415.1 137.0L400.0 138.2M415.1 137.0L454.4 128.4M415.1 137.0L469.7 123.7M415.1 137.0L471.4 137.0M415.1 137.0L456.2 142.7M415.1 137.0L389.1 147.8M415.1 137.0L379.6 159.0M415.1 137.0L400.4 157.3M415.1 137.0L429.8 157.3M415.1 137.0L391.7 164.2M415.1 137.0L386.5 172.0M415.1 137.0L415.6 166.8M415.1 137.0L409.0 181.5M415.1 137.0L424.6 178.9M415.1 137.0L386.5 186.7M415.1 137.0L415.6 207.8M415.1 137.0L444.9 149.5M415.1 137.0L468.3 155.2M415.1 137.0L454.1 163.4M415.1 137.0L436.8 172.5M415.1 137.0L457.0 174.3M415.1 137.0L446.6 194.5M407.7 140.0L390.3 142.2M407.7 140.0L440.2 114.0M407.7 140.0L447.2 118.8M407.7 140.0L440.9 129.6M407.7 140.0L379.3 150.4M407.7 140.0L389.1 147.8M407.7 140.0L429.8 157.3M407.7 140.0L383.9 165.6M407.7 140.0L394.3 166.3M407.7 140.0L380.5 171.5M407.7 140.0L386.5 172.0M407.7 140.0L390.3 174.6M407.7 140.0L392.6 176.7M407.7 140.0L409.0 181.5M407.7 140.0L424.6 178.9M407.7 140.0L393.8 195.0M407.7 140.0L449.2 142.6M407.7 140.0L444.9 149.5M407.7 140.0L450.6 169.1M407.7 140.0L436.8 172.5M407.7 140.0L457.0 174.3M390.3 142.2L433.3 136.2M390.3 142.2L451.0 112.8M390.3 142.2L460.5 127.5M390.3 142.2L451.3 130.6M390.3 142.2L471.4 137.0M390.3 142.2L454.4 138.7M390.3 142.2L456.2 142.7M390.3 142.2L389.1 147.8M390.3 142.2L369.2 154.7M390.3 142.2L383.9 165.6M390.3 142.2L391.7 164.2M390.3 142.2L394.3 166.3M390.3 142.2L380.5 171.5M390.3 142.2L386.5 172.0M390.3 142.2L390.3 174.6M390.3 142.2L409.0 181.5M390.3 142.2L395.2 181.9M390.3 142.2L386.5 186.7M390.3 142.2L405.6 198.0M390.3 142.2L419.1 191.9M390.3 142.2L415.6 207.8M390.3 142.2L429.8 215.8M390.3 142.2L446.6 155.9M390.3 142.2L468.3 155.2M390.3 142.2L436.8 172.5M390.3 142.2L446.6 194.5M400.0 138.2L462.7 114.0M400.0 138.2L440.2 114.0M400.0 138.2L454.4 128.4M400.0 138.2L445.4 126.6M400.0 138.2L440.9 129.6M400.0 138.2L451.3 130.6M400.0 138.2L471.4 137.0M400.0 138.2L389.1 147.8M400.0 138.2L400.4 144.8M400.0 138.2L379.6 159.0M400.0 138.2L400.4 157.3M400.0 138.2L429.8 157.3M400.0 138.2L383.9 165.6M400.0 138.2L391.7 164.2M400.0 138.2L386.5 172.0M400.0 138.2L390.3 174.6M400.0 138.2L409.0 181.5M400.0 138.2L386.5 186.7M400.0 138.2L393.8 195.0M400.0 138.2L419.1 191.9M400.0 138.2L431.9 196.2M400.0 138.2L431.2 211.3M400.0 138.2L449.2 142.6M400.0 138.2L444.9 149.5M400.0 138.2L463.4 156.4M400.0 138.2L468.3 155.2M400.0 138.2L450.6 169.1M400.0 138.2L436.8 172.5M400.0 138.2L457.0 174.3M433.3 136.2L451.0 112.8M433.3 136.2L462.7 114.0M433.3 136.2L440.2 114.0M433.3 136.2L451.3 130.6M433.3 136.2L471.4 137.0M433.3 136.2L400.4 144.8M433.3 136.2L369.2 154.7M433.3 136.2L379.6 159.0M433.3 136.2L400.4 157.3M433.3 136.2L429.8 157.3M433.3 136.2L391.7 164.2M433.3 136.2L394.3 166.3M433.3 136.2L380.5 171.5M433.3 136.2L392.6 176.7M433.3 136.2L415.6 166.8M433.3 136.2L419.1 191.9M433.3 136.2L431.9 196.2M433.3 136.2L429.8 215.8M433.3 136.2L444.9 149.5M433.3 136.2L463.4 156.4M433.3 136.2L436.8 172.5M451.0 112.8L447.2 118.8M451.0 112.8L460.5 127.5M451.0 112.8L440.9 129.6M451.0 112.8L471.4 137.0M451.0 112.8L400.4 144.8M451.0 112.8L379.6 159.0M451.0 112.8L429.8 157.3M451.0 112.8L380.5 171.5M451.0 112.8L390.3 174.6M451.0 112.8L392.6 176.7M451.0 112.8L424.6 178.9M451.0 112.8L419.1 191.9M451.0 112.8L463.4 156.4M451.0 112.8L468.3 155.2M451.0 112.8L454.1 163.4M451.0 112.8L450.6 169.1M451.0 112.8L436.8 172.5M451.0 112.8L446.6 194.5M462.7 114.0L440.2 114.0M462.7 114.0L447.2 118.8M462.7 114.0L454.4 128.4M462.7 114.0L451.3 130.6M462.7 114.0L471.4 137.0M462.7 114.0L454.4 138.7M462.7 114.0L379.3 150.4M462.7 114.0L389.1 147.8M462.7 114.0L391.7 164.2M462.7 114.0L390.3 174.6M462.7 114.0L415.6 166.8M462.7 114.0L449.2 142.6M462.7 114.0L444.9 149.5M462.7 114.0L450.6 169.1M440.2 114.0L460.5 127.5M440.2 114.0L454.4 128.4M440.2 114.0L445.4 126.6M440.2 114.0L440.9 129.6M440.2 114.0L469.7 123.7M440.2 114.0L451.3 130.6M440.2 114.0L454.4 138.7M440.2 114.0L456.2 142.7M440.2 114.0L379.3 150.4M440.2 114.0L389.1 147.8M440.2 114.0L400.4 144.8M440.2 114.0L379.6 159.0M440.2 114.0L400.4 157.3M440.2 114.0L383.9 165.6M440.2 114.0L391.7 164.2M440.2 114.0L380.5 171.5M440.2 114.0L390.3 174.6M440.2 114.0L393.8 195.0M440.2 114.0L405.6 198.0M440.2 114.0L449.2 142.6M440.2 114.0L444.9 149.5M440.2 114.0L468.3 155.2M440.2 114.0L457.0 174.3M440.2 114.0L446.6 194.5M447.2 118.8L460.5 127.5M447.2 118.8L454.4 128.4M447.2 118.8L440.9 129.6M447.2 118.8L389.1 147.8M447.2 118.8L400.4 144.8M447.2 118.8L379.6 159.0M447.2 118.8L429.8 157.3M447.2 118.8L383.9 165.6M447.2 118.8L380.5 171.5M447.2 118.8L386.5 172.0M447.2 118.8L390.3 174.6M447.2 118.8L424.6 178.9M447.2 118.8L419.1 191.9M447.2 118.8L431.9 196.2M447.2 118.8L431.2 211.3M447.2 118.8L446.6 155.9M447.2 118.8L450.6 169.1M460.5 127.5L445.4 126.6M460.5 127.5L440.9 129.6M460.5 127.5L471.4 137.0M460.5 127.5L400.4 157.3M460.5 127.5L383.9 165.6M460.5 127.5L380.5 171.5M460.5 127.5L386.5 172.0M460.5 127.5L390.3 174.6M460.5 127.5L392.6 176.7M460.5 127.5L415.6 166.8M460.5 127.5L393.8 195.0M460.5 127.5L429.8 215.8M460.5 127.5L444.9 149.5M460.5 127.5L463.4 156.4M460.5 127.5L436.8 172.5M460.5 127.5L446.6 194.5M465.2 130.1L454.4 128.4M465.2 130.1L445.4 126.6M465.2 130.1L469.7 123.7M465.2 130.1L451.3 130.6M465.2 130.1L471.4 137.0M465.2 130.1L379.6 159.0M465.2 130.1L429.8 157.3M465.2 130.1L391.7 164.2M465.2 130.1L394.3 166.3M465.2 130.1L390.3 174.6M465.2 130.1L424.6 178.9M465.2 130.1L431.2 211.3M465.2 130.1L429.8 215.8M465.2 130.1L449.2 142.6M465.2 130.1L446.6 155.9M465.2 130.1L463.4 156.4M454.4 128.4L440.9 129.6M454.4 128.4L451.3 130.6M454.4 128.4L471.4 137.0M454.4 128.4L379.3 150.4M454.4 128.4L400.4 144.8M454.4 128.4L379.6 159.0M454.4 128.4L429.8 157.3M454.4 128.4L383.9 165.6M454.4 128.4L390.3 174.6M454.4 128.4L415.6 166.8M454.4 128.4L424.6 178.9M454.4 128.4L395.2 181.9M454.4 128.4L393.8 195.0M454.4 128.4L405.6 198.0M454.4 128.4L429.8 215.8M454.4 128.4L449.2 142.6M454.4 128.4L444.9 149.5M454.4 128.4L454.1 163.4M454.4 128.4L436.8 172.5M454.4 128.4L446.6 194.5M445.4 126.6L440.9 129.6M445.4 126.6L456.2 142.7M445.4 126.6L389.1 147.8M445.4 126.6L369.2 154.7M445.4 126.6L400.4 157.3M445.4 126.6L392.6 176.7M445.4 126.6L386.5 186.7M445.4 126.6L393.8 195.0M445.4 126.6L405.6 198.0M445.4 126.6L431.9 196.2M445.4 126.6L431.2 211.3M445.4 126.6L454.1 163.4M445.4 126.6L436.8 172.5M445.4 126.6L457.0 174.3M445.4 126.6L446.6 194.5M440.9 129.6L451.3 130.6M440.9 129.6L456.2 142.7M440.9 129.6L389.1 147.8M440.9 129.6L400.4 144.8M440.9 129.6L379.6 159.0M440.9 129.6L380.5 171.5M440.9 129.6L386.5 172.0M440.9 129.6L390.3 174.6M440.9 129.6L392.6 176.7M440.9 129.6L424.6 178.9M440.9 129.6L395.2 181.9M440.9 129.6L386.5 186.7M440.9 129.6L393.8 195.0M440.9 129.6L419.1 191.9M440.9 129.6L431.9 196.2M440.9 129.6L431.2 211.3M440.9 129.6L429.8 215.8M440.9 129.6L449.2 142.6M440.9 129.6L444.9 149.5M440.9 129.6L457.0 174.3M469.7 123.7L451.3 130.6M469.7 123.7L456.2 142.7M469.7 123.7L379.3 150.4M469.7 123.7L389.1 147.8M469.7 123.7L409.0 181.5M469.7 123.7L424.6 178.9M469.7 123.7L431.9 196.2M469.7 123.7L444.9 149.5M469.7 123.7L463.4 156.4M469.7 123.7L468.3 155.2M469.7 123.7L454.1 163.4M469.7 123.7L450.6 169.1M469.7 123.7L436.8 172.5M469.7 123.7L446.6 194.5M451.3 130.6L389.1 147.8M451.3 130.6L369.2 154.7M451.3 130.6L379.6 159.0M451.3 130.6L400.4 157.3M451.3 130.6L383.9 165.6M451.3 130.6L391.7 164.2M451.3 130.6L394.3 166.3M451.3 130.6L380.5 171.5M451.3 130.6L390.3 174.6M451.3 130.6L415.6 166.8M451.3 130.6L409.0 181.5M451.3 130.6L424.6 178.9M451.3 130.6L395.2 181.9M451.3 130.6L393.8 195.0M451.3 130.6L419.1 191.9M451.3 130.6L431.2 211.3M451.3 130.6L429.8 215.8M451.3 130.6L449.2 142.6M451.3 130.6L468.3 155.2M451.3 130.6L457.0 174.3M471.4 137.0L379.6 159.0M471.4 137.0L383.9 165.6M471.4 137.0L415.6 166.8M471.4 137.0L424.6 178.9M471.4 137.0L395.2 181.9M471.4 137.0L405.6 198.0M471.4 137.0L431.9 196.2M471.4 137.0L415.6 207.8M471.4 137.0L468.3 155.2M471.4 137.0L454.1 163.4M471.4 137.0L436.8 172.5M454.4 138.7L456.2 142.7M454.4 138.7L369.2 154.7M454.4 138.7L400.4 157.3M454.4 138.7L429.8 157.3M454.4 138.7L391.7 164.2M454.4 138.7L392.6 176.7M454.4 138.7L415.6 166.8M454.4 138.7L409.0 181.5M454.4 138.7L395.2 181.9M454.4 138.7L386.5 186.7M454.4 138.7L393.8 195.0M454.4 138.7L431.9 196.2M454.4 138.7L415.6 207.8M454.4 138.7L429.8 215.8M454.4 138.7L449.2 142.6M454.4 138.7L463.4 156.4M454.4 138.7L454.1 163.4M456.2 142.7L379.3 150.4M456.2 142.7L379.6 159.0M456.2 142.7L395.2 181.9M456.2 142.7L419.1 191.9M456.2 142.7L431.9 196.2M456.2 142.7L463.4 156.4M456.2 142.7L468.3 155.2M379.3 150.4L389.1 147.8M379.3 150.4L400.4 144.8M379.3 150.4L369.2 154.7M379.3 150.4L379.6 159.0M379.3 150.4L429.8 157.3M379.3 150.4L383.9 165.6M379.3 150.4L394.3 166.3M379.3 150.4L380.5 171.5M379.3 150.4L415.6 166.8M379.3 150.4L395.2 181.9M379.3 150.4L393.8 195.0M379.3 150.4L405.6 198.0M379.3 150.4L431.9 196.2M379.3 150.4L415.6 207.8M379.3 150.4L429.8 215.8M379.3 150.4L444.9 149.5M379.3 150.4L446.6 155.9M379.3 150.4L468.3 155.2M379.3 150.4L436.8 172.5M379.3 150.4L446.6 194.5M389.1 147.8L400.4 157.3M389.1 147.8L380.5 171.5M389.1 147.8L386.5 172.0M389.1 147.8L390.3 174.6M389.1 147.8L415.6 166.8M389.1 147.8L409.0 181.5M389.1 147.8L395.2 181.9M389.1 147.8L386.5 186.7M389.1 147.8L393.8 195.0M389.1 147.8L431.9 196.2M389.1 147.8L415.6 207.8M389.1 147.8L449.2 142.6M389.1 147.8L450.6 169.1M400.4 144.8L379.6 159.0M400.4 144.8L400.4 157.3M400.4 144.8L383.9 165.6M400.4 144.8L392.6 176.7M400.4 144.8L424.6 178.9M400.4 144.8L386.5 186.7M400.4 144.8L431.9 196.2M400.4 144.8L429.8 215.8M400.4 144.8L446.6 155.9M400.4 144.8L468.3 155.2M400.4 144.8L454.1 163.4M400.4 144.8L450.6 169.1M400.4 144.8L446.6 194.5M369.2 154.7L383.9 165.6M369.2 154.7L380.5 171.5M369.2 154.7L386.5 172.0M369.2 154.7L390.3 174.6M369.2 154.7L409.0 181.5M369.2 154.7L395.2 181.9M369.2 154.7L386.5 186.7M369.2 154.7L393.8 195.0M369.2 154.7L405.6 198.0M369.2 154.7L419.1 191.9M369.2 154.7L415.6 207.8M369.2 154.7L431.2 211.3M369.2 154.7L446.6 155.9M369.2 154.7L463.4 156.4M369.2 154.7L450.6 169.1M369.2 154.7L436.8 172.5M379.6 159.0L400.4 157.3M379.6 159.0L383.9 165.6M379.6 159.0L386.5 172.0M379.6 159.0L415.6 166.8M379.6 159.0L393.8 195.0M379.6 159.0L405.6 198.0M379.6 159.0L415.6 207.8M379.6 159.0L449.2 142.6M379.6 159.0L454.1 163.4M379.6 159.0L450.6 169.1M379.6 159.0L457.0 174.3M400.4 157.3L429.8 157.3M400.4 157.3L391.7 164.2M400.4 157.3L380.5 171.5M400.4 157.3L386.5 172.0M400.4 157.3L390.3 174.6M400.4 157.3L415.6 166.8M400.4 157.3L409.0 181.5M400.4 157.3L424.6 178.9M400.4 157.3L393.8 195.0M400.4 157.3L431.2 211.3M400.4 157.3L454.1 163.4M400.4 157.3L450.6 169.1M400.4 157.3L457.0 174.3M429.8 157.3L394.3 166.3M429.8 157.3L386.5 172.0M429.8 157.3L415.6 166.8M429.8 157.3L409.0 181.5M429.8 157.3L424.6 178.9M429.8 157.3L405.6 198.0M429.8 157.3L431.9 196.2M429.8 157.3L415.6 207.8M429.8 157.3L431.2 211.3M429.8 157.3L444.9 149.5M429.8 157.3L446.6 155.9M429.8 157.3L463.4 156.4M429.8 157.3L468.3 155.2M429.8 157.3L457.0 174.3M383.9 165.6L391.7 164.2M383.9 165.6L394.3 166.3M383.9 165.6L380.5 171.5M383.9 165.6L386.5 172.0M383.9 165.6L390.3 174.6M383.9 165.6L405.6 198.0M383.9 165.6L431.9 196.2M383.9 165.6L429.8 215.8M383.9 165.6L444.9 149.5M383.9 165.6L446.6 155.9M383.9 165.6L463.4 156.4M383.9 165.6L454.1 163.4M383.9 165.6L436.8 172.5M391.7 164.2L394.3 166.3M391.7 164.2L380.5 171.5M391.7 164.2L392.6 176.7M391.7 164.2L395.2 181.9M391.7 164.2L386.5 186.7M391.7 164.2L393.8 195.0M391.7 164.2L431.9 196.2M391.7 164.2L431.2 211.3M391.7 164.2L449.2 142.6M391.7 164.2L444.9 149.5M391.7 164.2L446.6 155.9M391.7 164.2L463.4 156.4M391.7 164.2L457.0 174.3M391.7 164.2L446.6 194.5M394.3 166.3L390.3 174.6M394.3 166.3L424.6 178.9M394.3 166.3L405.6 198.0M394.3 166.3L431.9 196.2M394.3 166.3L431.2 211.3M394.3 166.3L449.2 142.6M394.3 166.3L444.9 149.5M394.3 166.3L457.0 174.3M380.5 171.5L415.6 166.8M380.5 171.5L424.6 178.9M380.5 171.5L386.5 186.7M380.5 171.5L431.9 196.2M380.5 171.5L431.2 211.3M380.5 171.5L449.2 142.6M380.5 171.5L444.9 149.5M380.5 171.5L446.6 155.9M380.5 171.5L468.3 155.2M380.5 171.5L454.1 163.4M380.5 171.5L450.6 169.1M380.5 171.5L436.8 172.5M386.5 172.0L390.3 174.6M386.5 172.0L415.6 166.8M386.5 172.0L409.0 181.5M386.5 172.0L424.6 178.9M386.5 172.0L395.2 181.9M386.5 172.0L405.6 198.0M386.5 172.0L419.1 191.9M386.5 172.0L431.9 196.2M386.5 172.0L415.6 207.8M386.5 172.0L431.2 211.3M386.5 172.0L449.2 142.6M386.5 172.0L446.6 155.9M386.5 172.0L450.6 169.1M386.5 172.0L457.0 174.3M386.5 172.0L446.6 194.5M390.3 174.6L392.6 176.7M390.3 174.6L409.0 181.5M390.3 174.6L395.2 181.9M390.3 174.6L393.8 195.0M390.3 174.6L431.2 211.3M390.3 174.6L444.9 149.5M390.3 174.6L463.4 156.4M390.3 174.6L436.8 172.5M392.6 176.7L395.2 181.9M392.6 176.7L386.5 186.7M392.6 176.7L405.6 198.0M392.6 176.7L429.8 215.8M392.6 176.7L444.9 149.5M392.6 176.7L463.4 156.4M392.6 176.7L446.6 194.5M415.6 166.8L424.6 178.9M415.6 166.8L393.8 195.0M415.6 166.8L405.6 198.0M415.6 166.8L431.9 196.2M415.6 166.8L431.2 211.3M415.6 166.8L449.2 142.6M415.6 166.8L446.6 155.9M415.6 166.8L463.4 156.4M415.6 166.8L468.3 155.2M415.6 166.8L454.1 163.4M415.6 166.8L457.0 174.3M415.6 166.8L446.6 194.5M409.0 181.5L424.6 178.9M409.0 181.5L395.2 181.9M409.0 181.5L386.5 186.7M409.0 181.5L405.6 198.0M409.0 181.5L419.1 191.9M409.0 181.5L431.9 196.2M409.0 181.5L449.2 142.6M409.0 181.5L446.6 155.9M409.0 181.5L454.1 163.4M409.0 181.5L450.6 169.1M409.0 181.5L436.8 172.5M409.0 181.5L457.0 174.3M424.6 178.9L386.5 186.7M424.6 178.9L431.9 196.2M424.6 178.9L449.2 142.6M424.6 178.9L444.9 149.5M424.6 178.9L446.6 155.9M424.6 178.9L463.4 156.4M424.6 178.9L450.6 169.1M424.6 178.9L457.0 174.3M395.2 181.9L393.8 195.0M395.2 181.9L429.8 215.8M395.2 181.9L449.2 142.6M395.2 181.9L463.4 156.4M395.2 181.9L450.6 169.1M395.2 181.9L457.0 174.3M386.5 186.7L405.6 198.0M386.5 186.7L431.9 196.2M386.5 186.7L415.6 207.8M386.5 186.7L429.8 215.8M386.5 186.7L446.6 155.9M386.5 186.7L454.1 163.4M386.5 186.7L450.6 169.1M386.5 186.7L436.8 172.5M386.5 186.7L446.6 194.5M393.8 195.0L419.1 191.9M393.8 195.0L449.2 142.6M393.8 195.0L463.4 156.4M393.8 195.0L468.3 155.2M393.8 195.0L436.8 172.5M405.6 198.0L419.1 191.9M405.6 198.0L431.9 196.2M405.6 198.0L444.9 149.5M405.6 198.0L468.3 155.2M405.6 198.0L457.0 174.3M419.1 191.9L449.2 142.6M419.1 191.9L444.9 149.5M419.1 191.9L446.6 155.9M419.1 191.9L454.1 163.4M419.1 191.9L436.8 172.5M419.1 191.9L457.0 174.3M431.9 196.2L429.8 215.8M431.9 196.2L463.4 156.4M431.9 196.2L468.3 155.2M431.9 196.2L450.6 169.1M415.6 207.8L431.2 211.3M415.6 207.8L449.2 142.6M415.6 207.8L444.9 149.5M415.6 207.8L468.3 155.2M415.6 207.8L436.8 172.5M415.6 207.8L446.6 194.5M431.2 211.3L429.8 215.8M431.2 211.3L449.2 142.6M431.2 211.3L463.4 156.4M431.2 211.3L468.3 155.2M431.2 211.3L454.1 163.4M431.2 211.3L436.8 172.5M429.8 215.8L449.2 142.6M429.8 215.8L463.4 156.4M429.8 215.8L468.3 155.2M429.8 215.8L454.1 163.4M429.8 215.8L446.6 194.5M449.2 142.6L444.9 149.5M449.2 142.6L446.6 155.9M449.2 142.6L463.4 156.4M449.2 142.6L468.3 155.2M449.2 142.6L454.1 163.4M449.2 142.6L450.6 169.1M449.2 142.6L457.0 174.3M449.2 142.6L446.6 194.5M444.9 149.5L446.6 155.9M444.9 149.5L454.1 163.4M444.9 149.5L450.6 169.1M444.9 149.5L436.8 172.5M444.9 149.5L446.6 194.5M446.6 155.9L463.4 156.4M446.6 155.9L450.6 169.1M446.6 155.9L446.6 194.5M463.4 156.4L450.6 169.1M463.4 156.4L436.8 172.5M468.3 155.2L457.0 174.3M468.3 155.2L446.6 194.5M454.1 163.4L446.6 194.5M450.6 169.1L436.8 172.5M450.6 169.1L457.0 174.3M436.8 172.5L457.0 174.3M436.8 172.5L446.6 194.5M454.1 187.1L471.4 137.0M421.2 196.2L399.5 169.4M375.7 162.6L415.6 207.8M429.1 166.7L374.3 157.4M388.6 164.4L389.7 136.8M454.4 128.4L389.1 147.8M436.8 172.5L389.1 158.4M399.6 148.7L389.3 178.7M448.9 163.4L449.2 142.6M414.3 130.5L459.6 150.9M445.4 126.6L443.8 148.6M463.4 156.4L426.9 174.0M395.3 138.1L444.2 173.2M398.1 135.8L437.7 130.1M425.1 107.9L418.1 119.0M401.5 128.2L468.1 128.3M426.3 179.8L378.2 151.6M394.6 142.6L370.4 156.3M399.5 169.4L447.7 145.6M377.0 152.6L400.1 186.3M398.6 114.1L394.2 110.4M400.4 144.8L401.5 168.5M424.6 178.9L400.1 183.2M395.0 137.5L394.2 152.4M445.4 126.6L459.6 150.9M447.0 136.6L445.4 126.6M429.2 162.0L449.2 142.6M394.2 110.4L416.7 174.8M439.5 123.2L419.7 110.4M435.1 204.2L446.6 194.5M399.5 191.1L383.3 136.4M437.7 157.3L445.6 161.5M410.9 146.0L463.2 140.5M439.5 123.2L432.2 176.2M390.3 142.2L450.1 138.1M437.0 129.5L382.5 154.9M386.8 177.7L400.4 157.3M448.7 139.8L390.3 174.6M401.5 128.2L427.6 183.7M409.9 115.0L429.1 166.7M452.1 191.3L463.2 140.5M451.3 130.6L419.0 184.7M389.9 156.0L375.7 162.6M429.8 157.3L460.5 127.5M410.2 208.2L415.6 166.8M448.7 153.6L391.4 130.1M463.4 156.4L449.5 194.3M418.1 119.0L389.1 147.8M409.0 181.5L420.5 162.2M416.7 174.8L398.8 141.5M394.2 152.4L444.2 173.2M427.2 185.0L454.4 138.7M443.9 185.2L419.8 200.7M447.2 118.8L450.6 169.1M410.9 146.0L406.6 159.0M398.1 135.8L394.2 152.4M395.3 138.1L386.5 172.0M435.9 193.8L419.1 191.9M409.9 199.3L393.8 195.0M433.0 144.9L469.7 123.7M406.6 159.0L382.5 154.9M459.6 150.9L432.2 176.2M462.4 159.1L452.1 191.3M425.4 193.7L390.3 174.6M463.2 140.5L407.7 140.0M450.1 138.1L415.6 110.0M432.4 119.7L452.1 191.3M419.1 146.9L398.8 141.5M420.0 173.2L461.2 142.7M456.8 124.2L419.0 184.7M397.5 135.6L379.3 150.4M420.0 173.2L399.9 171.9M398.6 114.1L395.4 179.7M386.6 151.9L400.1 183.2M397.5 135.6L429.2 162.0M399.6 148.7L429.2 162.0M462.7 114.0L457.0 174.3M410.9 122.7L394.2 152.4M447.7 145.6L429.6 177.9M420.5 195.7L455.9 150.5M462.7 114.0L454.4 128.4M435.6 176.3L432.4 119.7M461.5 147.7L471.4 137.0M412.5 126.1L415.1 137.0M422.3 131.2L450.6 169.1M369.2 154.7L400.0 138.2M374.3 157.4L439.5 123.2M425.1 160.3L437.7 130.1M407.7 140.0L389.7 136.8M400.1 186.3L424.6 178.9M455.9 150.5L419.9 130.8M463.4 156.4L468.1 128.3M383.9 165.6L386.5 134.4M457.0 174.3L395.4 179.7M398.8 141.5L451.3 130.6M420.5 195.7L450.6 169.1M444.2 173.2L399.9 171.9M437.7 130.1L426.0 112.0M435.1 154.3L444.2 173.2M398.7 128.1L414.3 130.5M442.7 145.5L446.6 155.9M454.1 187.1L388.6 153.0M422.9 152.0L445.6 161.5M389.9 144.1L447.7 145.6M378.8 154.7L419.1 198.0M426.9 174.0L419.4 126.6M435.6 176.3L386.5 172.0M389.3 178.7L417.1 161.3M432.9 114.5L433.0 144.9M400.1 186.3L401.2 116.2M444.2 175.1L394.6 142.6M445.4 126.6L417.1 161.3M415.6 110.0L447.7 145.6M433.5 132.8L468.3 155.2M394.7 172.6L410.9 146.0M457.0 174.3L384.9 175.4M461.5 147.7L419.7 110.4M427.2 185.0L448.7 139.8M378.2 151.6L399.6 148.7M413.8 162.2L433.3 136.2M445.4 126.6L394.2 152.4M429.2 162.0L384.9 175.4M435.9 193.8L397.5 135.6M463.4 156.4L409.9 115.0M389.3 178.7L379.6 159.0M429.8 157.3L466.1 129.8M381.9 128.7L439.5 123.2M417.7 203.6L435.1 154.3M435.1 204.2L386.5 186.7M370.2 160.6L384.9 175.4M433.0 167.2L447.0 136.6M469.7 123.7L448.7 153.6M381.9 128.7L454.8 139.1M431.2 211.3L389.9 156.0M440.2 114.0L450.5 157.7M443.9 185.2L461.5 147.7M395.2 181.9L399.5 191.1M436.8 172.5L398.5 108.3M399.9 199.4L398.1 135.8M462.7 114.0L455.9 150.5M443.9 185.2L389.5 160.6M394.7 172.6L432.4 119.7M435.6 176.3L433.0 144.9M375.7 162.6L418.2 110.0M393.2 121.6L447.2 118.8M389.1 158.4L400.1 186.3M371.3 158.4L375.7 162.6M393.2 121.6L418.2 110.0M411.7 190.3L446.6 155.9M437.0 129.5L436.8 172.5M419.9 130.8L443.9 185.2M377.0 130.1L419.4 126.6M397.5 135.6L403.9 124.6M444.2 175.1L466.1 129.8M463.2 140.5L462.7 114.0M390.3 174.6L440.9 129.6M415.1 137.0L463.4 149.6M461.2 142.7L397.5 135.6M399.5 169.4L402.0 172.0M396.0 142.3L427.6 183.7M412.5 126.1L370.2 160.6M392.4 169.0L427.2 202.3M447.2 152.6L380.5 171.5M410.9 122.7L382.5 154.9M405.9 111.9L395.3 138.1M399.9 199.4L402.0 172.0M406.6 159.0L394.7 172.6M401.2 116.2L448.7 153.6M433.0 144.9L471.4 137.0M395.2 181.9L411.3 138.8M469.5 145.4L413.8 162.2M422.3 131.2L468.3 155.2M392.4 169.0L437.7 157.3M443.9 185.2L471.4 137.0M433.3 136.2L407.7 140.0M389.3 178.7L435.6 176.3M401.9 204.0L422.9 152.0M398.6 114.1L437.0 129.5M463.2 140.5L419.1 191.9M444.2 121.2L450.5 157.7M400.1 183.2L429.8 157.3M447.2 152.6L414.3 130.5M396.6 114.0L446.6 155.9M419.1 146.9L455.9 150.5M451.0 112.8L433.3 136.2M380.5 171.5L400.1 186.3M415.6 166.8L468.3 155.2M424.6 178.9L386.5 134.4M445.4 126.6L443.9 185.2M418.1 119.0L399.5 191.1M440.9 129.6L435.7 117.9M415.6 166.8L386.8 177.7M392.6 176.7L417.7 203.6M391.4 130.1L382.5 154.9M462.7 114.0L444.9 184.5M390.3 142.2L449.2 142.6M426.9 174.0L452.1 191.3M371.8 136.7L390.3 142.2M417.1 161.3L386.6 151.9M443.8 148.6L398.5 108.3M405.6 198.0L394.6 142.6M419.1 191.9L445.4 126.6M386.6 151.9L451.3 130.6M451.3 130.6L429.8 157.3M442.9 190.0L448.7 153.6M422.3 131.2L399.6 148.7M377.0 152.6L389.7 136.8M436.8 172.5L395.0 137.5M389.9 144.1L388.6 153.0M459.6 150.9L451.3 130.6M394.3 166.3L427.2 185.0M432.9 114.5L459.6 150.9M417.1 161.3L374.3 157.4M390.3 142.2L443.4 136.4M388.6 153.0L390.3 174.6M418.1 119.0L402.0 129.0M402.0 172.0L400.8 144.2M463.3 150.5L457.4 144.0M405.9 111.9L435.1 154.3M415.6 207.8L400.8 144.2M398.7 128.1L437.7 157.3M433.5 132.8L375.7 162.6M426.0 112.0L427.2 185.0M442.9 190.0L450.1 138.1M392.6 176.7L374.3 157.4M409.0 188.3L398.1 135.8M454.4 138.7L452.1 191.3M389.9 144.1L390.3 174.6M391.7 164.2L400.1 186.3M445.4 126.6L396.6 114.0M402.0 172.0L399.5 169.4M444.9 149.5L394.2 152.4M456.8 124.2L456.8 124.2M388.6 164.4L395.3 138.1M454.4 138.7L427.6 183.7M398.5 108.3L396.0 142.3M429.8 157.3L392.6 176.7M394.6 142.6L456.2 142.7M395.3 138.1L442.7 145.5M405.6 198.0L384.9 175.4M425.1 107.9L442.1 147.7M389.1 147.8L391.7 164.2M400.0 138.2L409.0 181.5M400.1 186.3L429.1 166.7M389.9 144.1L429.2 162.0M419.9 130.8L419.9 130.8M419.9 130.8L375.7 162.6M409.9 199.3L391.4 130.1M400.0 138.2L389.9 156.0M437.7 157.3L453.9 179.7M411.3 138.8L443.9 185.2M433.0 144.9L415.6 166.8M392.4 169.0L425.4 193.7M427.2 202.3L396.0 142.3M460.4 149.9L431.2 211.3M471.4 137.0L440.9 129.6M398.7 128.1L379.3 150.4M449.2 142.6L401.0 199.8M401.0 199.8L393.8 195.0M400.4 157.3L409.0 188.3M419.1 191.9L454.1 163.4M456.2 142.7L403.9 124.6M381.9 128.7L395.4 179.7M468.1 128.3L433.5 132.8M447.7 145.6L409.0 181.5M414.3 130.5L446.6 155.9M437.3 120.9L440.2 114.0M435.7 117.9L426.5 114.3M394.3 166.3L402.0 172.0M468.1 128.3L463.4 156.4M426.9 174.0L447.2 118.8M469.7 123.7L446.6 194.5M436.8 172.5L432.4 119.7M419.1 118.0L468.1 128.3M465.4 134.9L444.2 121.2M443.9 185.2L465.4 134.9M425.1 160.3L412.5 126.1M447.7 145.6L444.9 184.5M411.7 190.3L410.9 146.0M442.9 190.0L419.1 198.0M460.4 149.9L422.3 131.2M443.9 185.2L448.7 153.6M425.1 107.9L447.2 118.8M446.6 155.9L421.2 196.2M375.7 162.6L383.9 165.6M382.5 154.9L411.3 138.8M382.5 154.9L390.3 174.6M437.7 157.3L443.9 185.2M398.5 108.3L433.0 144.9M384.7 119.3L388.6 153.0M401.5 128.2L415.6 166.8M454.4 128.4L447.7 145.6M391.4 130.1L386.8 177.7M418.2 110.0L419.1 118.0M410.9 146.0L374.3 157.4M465.2 130.1L419.1 118.0M389.5 160.6L458.2 164.4M421.2 196.2L400.1 186.3M460.4 149.9L398.7 128.1M412.5 126.1L468.3 155.2M447.0 136.6L460.5 127.5M410.9 122.7L395.4 179.7M380.5 171.5L394.3 166.3M450.6 169.1L400.1 183.2M411.3 138.8L417.1 161.3M449.2 142.6L431.9 196.2M433.5 132.8L419.1 118.0M454.4 128.4L407.7 140.0M432.2 176.2L391.7 164.2M425.1 160.3L450.6 169.1M435.7 117.9L429.2 162.0M379.6 159.0L427.6 183.7M402.0 129.0L440.2 114.0M443.9 185.2L389.3 178.7M444.2 121.2L419.4 126.6M435.7 117.9L427.2 185.0M401.5 168.5L409.9 115.0M418.1 119.0L412.5 126.1M426.3 179.8L463.4 149.6M437.0 129.5L406.6 159.0M374.3 157.4L396.6 114.0M381.4 162.4L426.0 112.0M386.5 172.0L433.0 144.9M393.2 121.6L394.7 172.6M432.4 119.7L398.1 135.8M415.6 166.8L386.5 134.4M415.6 110.0L403.7 173.1M405.9 111.9L454.8 139.1M454.4 128.4L419.7 110.4M379.3 150.4L448.7 153.6M370.4 156.3L380.5 171.5M444.2 121.2L443.4 136.4M399.5 191.1L444.9 149.5M433.0 144.9L395.3 138.1M399.9 171.9L393.8 195.0M444.2 175.1L444.2 175.1M415.6 110.0L444.2 175.1M386.6 151.9L405.6 198.0M413.8 162.2L409.9 199.3M401.5 168.5L425.4 193.7M393.2 121.6L393.8 195.0M437.3 120.9L386.5 172.0M448.7 139.8L390.3 142.2M426.9 174.0L431.2 176.4M410.9 146.0L442.9 190.0M459.6 150.9L442.9 190.0M431.2 176.4L383.3 136.4M401.5 128.2L389.9 144.1M450.1 138.1L468.3 155.2M420.5 162.2L433.5 132.8M454.4 138.7L433.0 144.9M420.5 195.7L392.4 169.0M375.7 162.6L386.5 134.4M416.7 174.8L394.2 110.4M393.8 195.0L429.6 177.9M457.4 144.0L415.1 137.0M371.8 136.7L426.9 174.0M372.1 167.0L415.1 137.0M431.2 176.4L398.1 135.8M410.1 206.7L431.2 211.3M419.0 184.7L403.9 124.6M412.5 126.1L426.5 114.3M395.2 181.9L398.5 108.3M403.9 124.6L400.1 183.2M418.1 119.0L414.3 130.5M410.2 208.2L447.2 152.6M388.6 153.0L401.0 199.8M370.2 160.6L436.8 172.5M427.2 185.0L448.7 153.6M383.3 136.4L400.8 144.2M401.5 128.2L388.6 164.4M378.2 151.6L443.4 136.4M415.1 137.0L401.0 199.8M379.6 159.0L442.1 147.7M469.5 145.4L398.7 128.1M394.7 172.6L421.2 196.2M393.8 195.0L429.2 162.0M433.5 132.8L388.6 164.4M400.1 186.3L410.2 208.2M431.2 176.4L427.6 183.7M371.8 136.7L425.1 160.3M444.2 175.1L435.7 117.9M460.5 127.5L444.2 121.2M401.5 168.5L388.6 164.4M429.8 215.8L386.5 172.0M389.5 160.6L454.8 139.1M424.6 178.9L396.0 142.3M425.1 107.9L398.5 108.3M407.7 140.0L429.1 166.7M454.8 139.1L415.6 166.8M461.2 142.7L419.4 126.6M447.2 152.6L456.8 124.2M425.4 193.7L413.8 162.2M429.1 166.7L432.4 119.7M458.2 164.4L392.4 169.0M437.7 130.1L433.5 132.8M419.1 146.9L419.9 130.8M432.9 114.5L389.9 144.1M386.8 177.7L442.7 145.5M463.4 156.4L400.4 144.8M445.4 126.6L389.5 160.6M402.0 129.0L463.4 149.6M421.2 196.2L468.3 155.2M465.4 134.9L400.8 144.2M444.9 184.5L465.4 134.9M420.5 162.2L417.7 203.6M417.1 161.3L469.7 123.7M405.6 198.0L381.3 131.8M458.2 164.4L402.0 129.0M419.4 126.6L395.0 137.5M401.5 128.2L466.1 129.8M461.2 142.7L435.7 117.9M415.1 137.0L419.7 110.4M389.1 147.8L381.3 131.8M398.7 128.1L401.0 199.8M389.9 144.1L453.9 179.7M399.5 169.4L451.3 130.6M415.6 207.8L398.1 135.8M419.1 191.9L437.3 120.9M450.1 138.1L449.2 142.6M394.6 142.6L425.1 107.9M410.9 122.7L411.3 138.8M419.1 146.9L389.5 122.9M389.1 147.8L383.9 165.6M410.1 206.7L425.4 193.7M390.3 174.6L431.2 176.4M448.7 139.8L419.9 130.8M411.7 201.3L394.2 152.4M416.7 174.8L417.1 161.3M410.1 206.7L388.6 153.0M371.8 136.7L419.7 110.4M444.2 175.1L451.3 130.6M419.9 130.8L396.0 142.3M420.5 195.7L419.0 184.7M425.1 160.3L417.7 203.6M401.5 168.5L386.5 134.4M393.8 195.0L378.2 151.6M450.1 138.1L403.7 173.1M388.6 164.4L425.1 160.3M418.2 110.0L469.5 145.4M451.3 130.6L432.9 114.5M393.8 195.0L419.0 184.7M410.4 133.6L371.3 158.4M450.5 157.7L378.8 154.7M400.1 183.2L437.7 130.1M389.9 156.0L431.9 196.2M372.1 167.0L409.0 181.5M395.2 181.9L419.0 184.7M429.1 166.7L432.9 114.5M415.6 110.0L437.0 129.5M394.2 152.4L427.2 185.0M446.6 155.9L435.1 154.3M460.5 127.5L433.0 167.2M401.9 204.0L445.6 161.5M432.4 119.7L410.4 133.6M456.6 141.0L395.2 181.9M449.2 142.6L463.2 140.5M396.6 114.0L383.3 136.4M446.6 155.9L374.3 157.4M447.7 145.6L471.4 137.0M465.4 134.9L442.7 145.5M427.6 183.7L410.2 208.2M455.9 150.5L445.4 126.6M399.5 191.1L446.6 155.9M435.1 204.2L409.0 181.5M437.0 129.5L432.2 176.2M455.9 150.5L442.9 190.0M432.2 176.2L407.7 140.0M450.1 138.1L431.9 196.2M435.6 176.3L454.8 139.1M389.9 144.1L420.5 162.2M381.4 162.4L398.1 135.8M443.9 185.2L444.9 149.5M412.5 126.1L383.9 165.6M417.7 203.6L405.6 198.0M415.0 113.0L449.2 142.6"/>
<circle cx="336.7" cy="24.9" r="2.50" fill="#0d0d0d"/>
<circle cx="326.8" cy="29.2" r="3.00" fill="#0d0d0d"/>
<circle cx="341.5" cy="30.6" r="2.50" fill="#2a0f20" stroke="#b0709f" stroke-width="0.7"/>
<circle cx="345.3" cy="31.3" r="2.00" fill="#2a0f20" stroke="#b0709f" stroke-width="0.7"/>
<circle cx="336.9" cy="32.3" r="2.00" fill="#2a0f20" stroke="#b0709f" stroke-width="0.7"/>
<circle cx="329.4" cy="34.8" r="1.20" fill="#0d0d0d"/>
<circle cx="340.2" cy="35.8" r="1.20" fill="#0d0d0d"/>
<circle cx="353.3" cy="32.3" r="2.80" fill="#0d0d0d"/>
<circle cx="359.2" cy="31.3" r="2.50" fill="#0d0d0d"/>
<circle cx="364.4" cy="34.1" r="2.00" fill="#0f1a22" stroke="#3fb0dd" stroke-width="0.8"/>
<circle cx="373.6" cy="31.0" r="2.20" fill="#0d0d0d"/>
<circle cx="376.7" cy="22.3" r="2.20" fill="#0d0d0d"/>
<circle cx="384.3" cy="34.4" r="2.50" fill="#0d0d0d"/>
<circle cx="388.3" cy="38.7" r="2.00" fill="#0d0d0d"/>
<circle cx="346.7" cy="38.2" r="2.30" fill="#0d0d0d"/>
<circle cx="334.6" cy="40.5" r="2.50" fill="#0d0d0d"/>
<circle cx="334.3" cy="37.5" r="1.50" fill="#0d0d0d"/>
<circle cx="326.0" cy="39.1" r="1.20" fill="#0d0d0d"/>
<circle cx="335.5" cy="46.2" r="1.30" fill="#2a0f20" stroke="#b0709f" stroke-width="0.48999999999999994"/>
<circle cx="349.3" cy="43.1" r="1.30" fill="#0d0d0d"/>
<circle cx="353.3" cy="46.2" r="2.00" fill="#0f1a22" stroke="#3fb0dd" stroke-width="0.8"/>
<circle cx="357.1" cy="45.7" r="2.50" fill="#0d0d0d"/>
<circle cx="371.0" cy="45.7" r="2.50" fill="#0d0d0d"/>
<circle cx="376.7" cy="50.9" r="2.80" fill="#2a1206" stroke="#d8782a" stroke-width="0.9"/>
<circle cx="324.2" cy="50.9" r="2.50" fill="#2a0f20" stroke="#b0709f" stroke-width="0.7"/>
<circle cx="316.4" cy="56.6" r="2.50" fill="#0d0d0d"/>
<circle cx="321.6" cy="63.5" r="1.20" fill="#0d0d0d"/>
<circle cx="353.7" cy="59.0" r="2.00" fill="#0f1a22" stroke="#3fb0dd" stroke-width="0.8"/>
<circle cx="358.5" cy="58.7" r="1.20" fill="#0d0d0d"/>
<circle cx="370.1" cy="63.5" r="2.50" fill="#0f1a22" stroke="#3fb0dd" stroke-width="0.8"/>
<circle cx="379.3" cy="61.8" r="1.20" fill="#0d140d" stroke="#6aa84a" stroke-width="0.5599999999999999"/>
<circle cx="337.2" cy="64.7" r="2.50" fill="#2a0f20" stroke="#b0709f" stroke-width="0.7"/>
<circle cx="324.2" cy="69.0" r="2.50" fill="#0d0d0d"/>
<circle cx="327.7" cy="69.4" r="1.50" fill="#0d0d0d"/>
<circle cx="322.5" cy="73.9" r="2.50" fill="#0d0d0d"/>
<circle cx="336.7" cy="73.4" r="2.50" fill="#2a0f20" stroke="#b0709f" stroke-width="0.7"/>
<circle cx="350.2" cy="69.9" r="2.00" fill="#0d0d0d"/>
<circle cx="358.8" cy="69.4" r="2.50" fill="#2a0f20" stroke="#b0709f" stroke-width="0.7"/>
<circle cx="368.9" cy="69.4" r="2.00" fill="#0d0d0d"/>
<circle cx="370.1" cy="72.8" r="2.00" fill="#2a0f20" stroke="#b0709f" stroke-width="0.7"/>
<circle cx="374.4" cy="70.4" r="1.20" fill="#0d0d0d"/>
<circle cx="377.0" cy="73.0" r="1.20" fill="#0d0d0d"/>
<circle cx="303.1" cy="76.0" r="2.50" fill="#4a080c" stroke="#b8202a" stroke-width="0.9"/>
<circle cx="303.1" cy="80.8" r="2.50" fill="#0d0d0d"/>
<circle cx="309.5" cy="83.7" r="2.50" fill="#0d0d0d"/>
<circle cx="311.2" cy="86.3" r="2.00" fill="#2a0f20" stroke="#b0709f" stroke-width="0.7"/>
<circle cx="333.7" cy="85.0" r="2.50" fill="#0d0d0d"/>
<circle cx="338.4" cy="85.0" r="2.50" fill="#0d0d0d"/>
<circle cx="345.9" cy="80.8" r="1.20" fill="#0d0d0d"/>
<circle cx="348.5" cy="84.3" r="1.20" fill="#0d0d0d"/>
<circle cx="326.0" cy="77.7" r="1.20" fill="#0d0d0d"/>
<circle cx="422.2" cy="8.5" r="1.20" fill="#0d0d0d"/>
<circle cx="432.1" cy="9.3" r="2.50" fill="#0d0d0d"/>
<circle cx="422.2" cy="14.5" r="1.20" fill="#0d0d0d"/>
<circle cx="429.7" cy="15.4" r="2.50" fill="#0d0d0d"/>
<circle cx="433.5" cy="19.7" r="2.80" fill="#0d0d0d"/>
<circle cx="438.3" cy="17.1" r="1.20" fill="#0d0d0d"/>
<circle cx="394.5" cy="30.1" r="3.00" fill="#0d0d0d"/>
<circle cx="403.7" cy="27.2" r="2.50" fill="#0f1a22" stroke="#3fb0dd" stroke-width="0.8"/>
<circle cx="414.1" cy="27.5" r="2.80" fill="#0d0d0d"/>
<circle cx="412.7" cy="34.1" r="2.50" fill="#2a0f20" stroke="#b0709f" stroke-width="0.7"/>
<circle cx="425.7" cy="27.2" r="2.80" fill="#14164a" stroke="#2e3380" stroke-width="0.6"/>
<circle cx="425.7" cy="33.0" r="1.20" fill="#0d0d0d"/>
<circle cx="440.7" cy="30.6" r="2.50" fill="#2a0f20" stroke="#b0709f" stroke-width="0.7"/>
<circle cx="439.0" cy="34.4" r="1.50" fill="#2a0f20" stroke="#b0709f" stroke-width="0.48999999999999994"/>
<circle cx="445.9" cy="35.3" r="2.00" fill="#2a0f20" stroke="#b0709f" stroke-width="0.7"/>
<circle cx="444.2" cy="39.6" r="1.20" fill="#0d0d0d"/>
<circle cx="442.5" cy="53.1" r="2.00" fill="#2a0f20" stroke="#b0709f" stroke-width="0.7"/>
<circle cx="389.8" cy="44.5" r="1.50" fill="#0d0d0d"/>
<circle cx="400.2" cy="35.8" r="1.20" fill="#0f1a22" stroke="#3fb0dd" stroke-width="0.5599999999999999"/>
<circle cx="402.3" cy="44.8" r="2.50" fill="#0d0d0d"/>
<circle cx="400.2" cy="48.3" r="2.50" fill="#0d0d0d"/>
<circle cx="394.5" cy="47.4" r="1.20" fill="#0d0d0d"/>
<circle cx="392.8" cy="52.6" r="1.20" fill="#0f1a22" stroke="#3fb0dd" stroke-width="0.5599999999999999"/>
<circle cx="400.2" cy="55.2" r="2.00" fill="#0f1a22" stroke="#3fb0dd" stroke-width="0.8"/>
<circle cx="407.5" cy="53.5" r="2.50" fill="#0f1a22" stroke="#3fb0dd" stroke-width="0.8"/>
<circle cx="412.7" cy="49.1" r="1.20" fill="#0f1a22" stroke="#3fb0dd" stroke-width="0.5599999999999999"/>
<circle cx="417.0" cy="45.7" r="2.50" fill="#0f1a22" stroke="#3fb0dd" stroke-width="0.8"/>
<circle cx="416.5" cy="52.6" r="2.50" fill="#0d0d0d"/>
<circle cx="427.9" cy="59.5" r="2.80" fill="#0f1a22" stroke="#3fb0dd" stroke-width="0.8"/>
<circle cx="429.7" cy="64.2" r="2.50" fill="#0d0d0d"/>
<circle cx="411.0" cy="63.8" r="1.20" fill="#0d0d0d"/>
<circle cx="413.0" cy="67.3" r="1.50" fill="#0f1a22" stroke="#3fb0dd" stroke-width="0.5599999999999999"/>
<circle cx="403.2" cy="69.0" r="2.50" fill="#2a0f20" stroke="#b0709f" stroke-width="0.7"/>
<circle cx="402.3" cy="76.0" r="2.00" fill="#0f1a22" stroke="#3fb0dd" stroke-width="0.8"/>
<circle cx="424.8" cy="74.2" r="2.50" fill="#2a0f20" stroke="#b0709f" stroke-width="0.7"/>
<circle cx="423.1" cy="70.4" r="1.20" fill="#0d0d0d"/>
<circle cx="430.3" cy="73.9" r="1.20" fill="#0d0d0d"/>
<circle cx="439.0" cy="70.4" r="2.50" fill="#0d0d0d"/>
<circle cx="436.9" cy="74.2" r="2.50" fill="#0d0d0d"/>
<circle cx="443.0" cy="79.1" r="1.20" fill="#0d0d0d"/>
<circle cx="440.4" cy="83.2" r="1.00" fill="#0d0d0d"/>
<circle cx="466.3" cy="78.0" r="2.20" fill="#0d140d" stroke="#6aa84a" stroke-width="0.8"/>
<circle cx="459.4" cy="86.3" r="2.20" fill="#0d140d" stroke="#6aa84a" stroke-width="0.8"/>
<circle cx="467.2" cy="87.7" r="2.00" fill="#0d140d" stroke="#6aa84a" stroke-width="0.8"/>
<circle cx="444.7" cy="88.4" r="1.50" fill="#0d140d" stroke="#6aa84a" stroke-width="0.5599999999999999"/>
<circle cx="415.3" cy="88.1" r="2.50" fill="#0d0d0d"/>
<circle cx="407.5" cy="89.5" r="2.50" fill="#0d0d0d"/>
<circle cx="428.3" cy="87.7" r="1.20" fill="#0d0d0d"/>
<circle cx="307.3" cy="92.0" r="2.50" fill="#2a0f20" stroke="#b0709f" stroke-width="0.7"/>
<circle cx="313.6" cy="92.5" r="2.00" fill="#2a0f20" stroke="#b0709f" stroke-width="0.7"/>
<circle cx="302.7" cy="91.7" r="2.00" fill="#0d0d0d"/>
<circle cx="288.8" cy="89.4" r="2.50" fill="#0d0d0d"/>
<circle cx="291.1" cy="96.3" r="1.30" fill="#0d0d0d"/>
<circle cx="341.3" cy="91.2" r="1.50" fill="#0d0d0d"/>
<circle cx="327.8" cy="90.8" r="1.20" fill="#0d0d0d"/>
<circle cx="331.2" cy="98.4" r="3.00" fill="#0d0d0d"/>
<circle cx="324.7" cy="101.5" r="2.00" fill="#2a0f20" stroke="#b0709f" stroke-width="0.7"/>
<circle cx="328.6" cy="103.6" r="1.20" fill="#0d0d0d"/>
<circle cx="310.1" cy="100.2" r="2.00" fill="#0d0d0d"/>
<circle cx="312.2" cy="100.7" r="2.00" fill="#0d0d0d"/>
<circle cx="307.9" cy="106.4" r="2.80" fill="#0d0d0d"/>
<circle cx="324.0" cy="109.8" r="2.50" fill="#0d0d0d"/>
<circle cx="346.5" cy="98.4" r="1.20" fill="#0d0d0d"/>
<circle cx="301.8" cy="115.0" r="2.50" fill="#0d0d0d"/>
<circle cx="333.8" cy="117.1" r="2.80" fill="#0d0d0d"/>
<circle cx="314.8" cy="124.0" r="3.00" fill="#0d0d0d"/>
<circle cx="329.5" cy="121.4" r="1.20" fill="#0d0d0d"/>
<circle cx="345.4" cy="120.2" r="1.20" fill="#0d0d0d"/>
<circle cx="326.9" cy="130.6" r="2.80" fill="#2a0f20" stroke="#b0709f" stroke-width="0.7"/>
<circle cx="317.4" cy="129.2" r="1.20" fill="#0d0d0d"/>
<circle cx="344.7" cy="133.6" r="1.20" fill="#0d0d0d"/>
<circle cx="271.5" cy="137.0" r="1.30" fill="#0d0d0d"/>
<circle cx="279.3" cy="138.2" r="2.50" fill="#0d0d0d"/>
<circle cx="291.8" cy="135.3" r="1.20" fill="#0d0d0d"/>
<circle cx="273.2" cy="141.0" r="1.20" fill="#0d0d0d"/>
<circle cx="320.8" cy="143.1" r="3.00" fill="#0d0d0d"/>
<circle cx="292.3" cy="144.5" r="2.00" fill="#0d0d0d"/>
<circle cx="414.2" cy="91.2" r="1.50" fill="#0f1a22" stroke="#3fb0dd" stroke-width="0.5599999999999999"/>
<circle cx="407.0" cy="91.5" r="3.00" fill="#0d0d0d"/>
<circle cx="419.4" cy="95.5" r="3.00" fill="#0d0d0d"/>
<circle cx="421.2" cy="99.5" r="1.50" fill="#0f1a22" stroke="#3fb0dd" stroke-width="0.5599999999999999"/>
<circle cx="428.6" cy="97.2" r="2.00" fill="#2a0f20" stroke="#b0709f" stroke-width="0.7"/>
<circle cx="394.3" cy="93.7" r="2.50" fill="#2a0f20" stroke="#b0709f" stroke-width="0.7"/>
<circle cx="387.4" cy="94.6" r="2.00" fill="#0d0d0d"/>
<circle cx="355.7" cy="96.7" r="2.50" fill="#2a0f20" stroke="#b0709f" stroke-width="0.7"/>
<circle cx="354.5" cy="104.7" r="2.00" fill="#0d0d0d"/>
<circle cx="356.2" cy="107.6" r="2.50" fill="#0d0d0d"/>
<circle cx="378.2" cy="116.8" r="2.00" fill="#0d0d0d"/>
<circle cx="396.6" cy="114.0" r="2.50" fill="#0d0d0d" stroke="#efe02a" stroke-width="1.1"/>
<circle cx="401.2" cy="116.2" r="2.50" fill="#0d0d0d"/>
<circle cx="405.9" cy="111.9" r="1.20" fill="#0d0d0d"/>
<circle cx="409.9" cy="115.0" r="1.50" fill="#2a0f20" stroke="#b0709f" stroke-width="0.48999999999999994"/>
<circle cx="419.1" cy="118.0" r="2.50" fill="#14164a" stroke="#2e3380" stroke-width="0.6"/>
<circle cx="420.8" cy="113.3" r="1.20" fill="#0d0d0d"/>
<circle cx="432.9" cy="114.5" r="2.50" fill="#0d0d0d" stroke="#efe02a" stroke-width="1.1"/>
<circle cx="432.4" cy="119.7" r="2.50" fill="#14164a" stroke="#2e3380" stroke-width="0.6"/>
<circle cx="363.7" cy="126.6" r="3.00" fill="#14164a" stroke="#2e3380" stroke-width="0.6"/>
<circle cx="377.0" cy="130.1" r="2.80" fill="#0d0d0d" stroke="#efe02a" stroke-width="1.1"/>
<circle cx="371.8" cy="131.0" r="2.50" fill="#0d0d0d"/>
<circle cx="381.3" cy="131.8" r="1.50" fill="#0d0d0d"/>
<circle cx="386.5" cy="134.4" r="2.50" fill="#0d0d0d"/>
<circle cx="391.4" cy="130.1" r="2.50" fill="#14164a" stroke="#2e3380" stroke-width="0.6"/>
<circle cx="412.5" cy="126.1" r="2.00" fill="#2a0f20" stroke="#b0709f" stroke-width="0.7"/>
<circle cx="419.4" cy="126.6" r="1.20" fill="#0d0d0d"/>
<circle cx="410.4" cy="133.6" r="2.00" fill="#0d0d0d"/>
<circle cx="415.1" cy="137.0" r="1.50" fill="#0d0d0d"/>
<circle cx="407.7" cy="140.0" r="2.50" fill="#14164a" stroke="#2e3380" stroke-width="0.6"/>
<circle cx="390.3" cy="142.2" r="2.00" fill="#0d0d0d"/>
<circle cx="368.4" cy="141.3" r="3.00" fill="#0d0d0d"/>
<circle cx="400.0" cy="138.2" r="1.20" fill="#0d0d0d"/>
<circle cx="351.9" cy="144.5" r="1.50" fill="#0d0d0d"/>
<circle cx="433.3" cy="136.2" r="2.00" fill="#2a0f20" stroke="#b0709f" stroke-width="0.7"/>
<circle cx="440.2" cy="94.3" r="3.00" fill="#0d0d0d"/>
<circle cx="450.1" cy="98.4" r="1.20" fill="#0d140d" stroke="#6aa84a" stroke-width="0.5599999999999999"/>
<circle cx="465.7" cy="93.7" r="2.50" fill="#0d0d0d"/>
<circle cx="460.5" cy="96.0" r="1.50" fill="#0d0d0d"/>
<circle cx="463.9" cy="97.2" r="2.00" fill="#0d0d0d"/>
<circle cx="461.7" cy="101.5" r="2.00" fill="#0d0d0d"/>
<circle cx="461.0" cy="106.4" r="2.00" fill="#0d0d0d"/>
<circle cx="473.5" cy="101.2" r="2.00" fill="#14164a" stroke="#2e3380" stroke-width="0.6"/>
<circle cx="475.5" cy="106.7" r="3.00" fill="#0d0d0d" stroke="#efe02a" stroke-width="1.1"/>
<circle cx="480.7" cy="110.5" r="2.50" fill="#0d0d0d"/>
<circle cx="485.2" cy="109.8" r="2.50" fill="#14164a" stroke="#2e3380" stroke-width="0.6"/>
<circle cx="491.6" cy="109.8" r="2.20" fill="#14164a" stroke="#2e3380" stroke-width="0.6"/>
<circle cx="451.0" cy="112.8" r="1.50" fill="#14164a" stroke="#2e3380" stroke-width="0.42"/>
<circle cx="462.7" cy="114.0" r="1.50" fill="#14164a" stroke="#2e3380" stroke-width="0.42"/>
<circle cx="440.2" cy="114.0" r="2.50" fill="#0d140d" stroke="#6aa84a" stroke-width="0.8"/>
<circle cx="447.2" cy="118.8" r="2.50" fill="#14164a" stroke="#2e3380" stroke-width="0.6"/>
<circle cx="487.3" cy="121.4" r="2.50" fill="#14164a" stroke="#2e3380" stroke-width="0.6"/>
<circle cx="489.0" cy="123.7" r="2.50" fill="#14164a" stroke="#2e3380" stroke-width="0.6"/>
<circle cx="498.0" cy="120.9" r="2.80" fill="#14164a" stroke="#2e3380" stroke-width="0.6"/>
<circle cx="509.8" cy="120.9" r="2.50" fill="#14164a" stroke="#2e3380" stroke-width="0.6"/>
<circle cx="508.4" cy="125.4" r="2.20" fill="#14164a" stroke="#2e3380" stroke-width="0.6"/>
<circle cx="460.5" cy="127.5" r="3.00" fill="#0d0d0d" stroke="#efe02a" stroke-width="1.1"/>
<circle cx="465.2" cy="130.1" r="2.50" fill="#0d0d0d"/>
<circle cx="454.4" cy="128.4" r="2.00" fill="#0d0d0d"/>
<circle cx="445.4" cy="126.6" r="1.50" fill="#0d0d0d"/>
<circle cx="440.9" cy="129.6" r="2.50" fill="#0d140d" stroke="#6aa84a" stroke-width="0.8"/>
<circle cx="469.7" cy="123.7" r="1.50" fill="#0d0d0d"/>
<circle cx="480.7" cy="130.1" r="2.50" fill="#0d0d0d"/>
<circle cx="451.3" cy="130.6" r="1.20" fill="#14164a" stroke="#2e3380" stroke-width="0.42"/>
<circle cx="471.4" cy="137.0" r="1.50" fill="#0d0d0d"/>
<circle cx="454.4" cy="138.7" r="2.50" fill="#0d0d0d" stroke="#efe02a" stroke-width="1.1"/>
<circle cx="456.2" cy="142.7" r="3.00" fill="#0d0d0d" stroke="#efe02a" stroke-width="1.1"/>
<circle cx="481.2" cy="141.3" r="2.50" fill="#14164a" stroke="#2e3380" stroke-width="0.6"/>
<circle cx="366.6" cy="143.1" r="2.00" fill="#14164a" stroke="#2e3380" stroke-width="0.6"/>
<circle cx="348.5" cy="147.8" r="2.50" fill="#0d0d0d"/>
<circle cx="379.3" cy="150.4" r="3.50" fill="#0d0d0d" stroke="#efe02a" stroke-width="1.1"/>
<circle cx="389.1" cy="147.8" r="2.50" fill="#0d0d0d"/>
<circle cx="400.4" cy="144.8" r="2.50" fill="#0d0d0d"/>
<circle cx="369.2" cy="154.7" r="3.00" fill="#0d0d0d"/>
<circle cx="379.6" cy="159.0" r="3.00" fill="#0d0d0d"/>
<circle cx="400.4" cy="157.3" r="2.50" fill="#2a0f20" stroke="#b0709f" stroke-width="0.7"/>
<circle cx="429.8" cy="157.3" r="2.80" fill="#0d0d0d" stroke="#efe02a" stroke-width="1.1"/>
<circle cx="345.9" cy="164.2" r="2.50" fill="#0d0d0d"/>
<circle cx="383.9" cy="165.6" r="2.80" fill="#0d0d0d" stroke="#efe02a" stroke-width="1.1"/>
<circle cx="391.7" cy="164.2" r="2.00" fill="#0d0d0d"/>
<circle cx="394.3" cy="166.3" r="2.00" fill="#0d0d0d"/>
<circle cx="357.5" cy="167.7" r="1.50" fill="#0d0d0d"/>
<circle cx="371.3" cy="167.7" r="1.50" fill="#0d0d0d"/>
<circle cx="380.5" cy="171.5" r="2.50" fill="#14164a" stroke="#2e3380" stroke-width="0.6"/>
<circle cx="386.5" cy="172.0" r="2.00" fill="#0d0d0d"/>
<circle cx="390.3" cy="174.6" r="3.50" fill="#0d0d0d" stroke="#efe02a" stroke-width="1.1"/>
<circle cx="392.6" cy="176.7" r="2.00" fill="#0d0d0d"/>
<circle cx="356.2" cy="173.2" r="1.20" fill="#0d0d0d"/>
<circle cx="370.6" cy="176.3" r="1.20" fill="#0d0d0d"/>
<circle cx="415.6" cy="166.8" r="1.50" fill="#14164a" stroke="#2e3380" stroke-width="0.42"/>
<circle cx="409.0" cy="181.5" r="3.00" fill="#0d0d0d" stroke="#efe02a" stroke-width="1.1"/>
<circle cx="424.6" cy="178.9" r="2.50" fill="#2a0f20" stroke="#b0709f" stroke-width="0.7"/>
<circle cx="395.2" cy="181.9" r="2.00" fill="#14164a" stroke="#2e3380" stroke-width="0.6"/>
<circle cx="361.4" cy="181.5" r="2.00" fill="#2a1206" stroke="#d8782a" stroke-width="0.9"/>
<circle cx="386.5" cy="186.7" r="3.00" fill="#2a1206" stroke="#d8782a" stroke-width="0.9"/>
<circle cx="383.1" cy="191.1" r="1.20" fill="#0d0d0d"/>
<circle cx="363.2" cy="191.6" r="1.20" fill="#0d0d0d"/>
<circle cx="345.9" cy="198.0" r="2.50" fill="#0d140d" stroke="#6aa84a" stroke-width="0.8"/>
<circle cx="356.2" cy="196.2" r="2.00" fill="#2a0f20" stroke="#b0709f" stroke-width="0.7"/>
<circle cx="354.5" cy="198.8" r="1.50" fill="#2a0f20" stroke="#b0709f" stroke-width="0.48999999999999994"/>
<circle cx="386.9" cy="195.7" r="1.50" fill="#2a0f20" stroke="#b0709f" stroke-width="0.48999999999999994"/>
<circle cx="390.3" cy="195.7" r="1.50" fill="#2a0f20" stroke="#b0709f" stroke-width="0.48999999999999994"/>
<circle cx="393.8" cy="195.0" r="2.00" fill="#0d0d0d"/>
<circle cx="390.3" cy="199.7" r="1.50" fill="#2a0f20" stroke="#b0709f" stroke-width="0.48999999999999994"/>
<circle cx="405.6" cy="198.0" r="3.00" fill="#2a0f20" stroke="#b0709f" stroke-width="0.7"/>
<circle cx="419.1" cy="191.9" r="2.00" fill="#14164a" stroke="#2e3380" stroke-width="0.6"/>
<circle cx="431.9" cy="196.2" r="2.00" fill="#14164a" stroke="#2e3380" stroke-width="0.6"/>
<circle cx="380.0" cy="203.7" r="3.00" fill="#2a0f20" stroke="#b0709f" stroke-width="0.7"/>
<circle cx="389.7" cy="204.9" r="2.00" fill="#14164a" stroke="#2e3380" stroke-width="0.6"/>
<circle cx="398.7" cy="210.1" r="2.00" fill="#14164a" stroke="#2e3380" stroke-width="0.6"/>
<circle cx="415.6" cy="207.8" r="3.00" fill="#0d0d0d" stroke="#efe02a" stroke-width="1.1"/>
<circle cx="431.2" cy="211.3" r="1.50" fill="#0d0d0d"/>
<circle cx="429.8" cy="215.8" r="2.50" fill="#14164a" stroke="#2e3380" stroke-width="0.6"/>
<circle cx="412.5" cy="219.3" r="2.00" fill="#0d0d0d"/>
<circle cx="366.6" cy="214.4" r="1.50" fill="#0d0d0d"/>
<circle cx="350.2" cy="221.3" r="2.50" fill="#2a1206" stroke="#d8782a" stroke-width="0.9"/>
<circle cx="353.7" cy="219.3" r="2.00" fill="#2a1206" stroke="#d8782a" stroke-width="0.9"/>
<circle cx="449.2" cy="142.6" r="1.50" fill="#0d140d" stroke="#6aa84a" stroke-width="0.5599999999999999"/>
<circle cx="444.9" cy="149.5" r="2.50" fill="#0d0d0d" stroke="#efe02a" stroke-width="1.1"/>
<circle cx="446.6" cy="155.9" r="2.50" fill="#14164a" stroke="#2e3380" stroke-width="0.6"/>
<circle cx="463.4" cy="156.4" r="2.00" fill="#0d0d0d"/>
<circle cx="468.3" cy="155.2" r="2.80" fill="#0d0d0d" stroke="#efe02a" stroke-width="1.1"/>
<circle cx="495.1" cy="157.3" r="3.00" fill="#0d0d0d" stroke="#efe02a" stroke-width="1.1"/>
<circle cx="454.1" cy="163.4" r="1.50" fill="#0d0d0d"/>
<circle cx="450.6" cy="169.1" r="2.50" fill="#14164a" stroke="#2e3380" stroke-width="0.6"/>
<circle cx="470.3" cy="168.0" r="2.80" fill="#0d0d0d" stroke="#efe02a" stroke-width="1.1"/>
<circle cx="497.7" cy="169.1" r="2.00" fill="#0d0d0d" stroke="#efe02a" stroke-width="1.1"/>
<circle cx="436.8" cy="172.5" r="3.00" fill="#0d0d0d" stroke="#efe02a" stroke-width="1.1"/>
<circle cx="457.0" cy="174.3" r="3.00" fill="#0d0d0d" stroke="#efe02a" stroke-width="1.1"/>
<circle cx="489.0" cy="177.2" r="2.00" fill="#14164a" stroke="#2e3380" stroke-width="0.6"/>
<circle cx="461.3" cy="184.7" r="1.50" fill="#0d0d0d"/>
<circle cx="462.2" cy="189.8" r="3.00" fill="#0d0d0d" stroke="#efe02a" stroke-width="1.1"/>
<circle cx="473.1" cy="189.8" r="2.80" fill="#14164a" stroke="#2e3380" stroke-width="0.6"/>
<circle cx="496.3" cy="184.1" r="1.50" fill="#0d0d0d"/>
<circle cx="496.8" cy="189.3" r="1.50" fill="#0d0d0d"/>
<circle cx="506.7" cy="192.8" r="1.50" fill="#0d0d0d"/>
<circle cx="446.6" cy="194.5" r="4.00" fill="#0d0d0d"/>
<circle cx="454.4" cy="192.8" r="1.50" fill="#14164a" stroke="#2e3380" stroke-width="0.42"/>
<circle cx="453.6" cy="195.7" r="1.50" fill="#14164a" stroke="#2e3380" stroke-width="0.42"/>
<circle cx="479.5" cy="195.7" r="3.00" fill="#14164a" stroke="#2e3380" stroke-width="0.6"/>
<circle cx="465.2" cy="201.4" r="2.00" fill="#14164a" stroke="#2e3380" stroke-width="0.6"/>
<circle cx="490.4" cy="204.0" r="3.00" fill="#14164a" stroke="#2e3380" stroke-width="0.6"/>
<circle cx="469.1" cy="210.1" r="2.00" fill="#14164a" stroke="#2e3380" stroke-width="0.6"/>
<circle cx="506.3" cy="209.2" r="2.00" fill="#0d0d0d"/>
<circle cx="469.1" cy="218.2" r="1.50" fill="#0d0d0d"/>
<circle cx="273.6" cy="146.6" r="1.50" fill="#0d0d0d"/>
<circle cx="281.9" cy="149.6" r="2.50" fill="#0d0d0d"/>
<circle cx="284.8" cy="152.7" r="2.50" fill="#0d0d0d"/>
<circle cx="289.5" cy="152.3" r="3.00" fill="#0d0d0d"/>
<circle cx="285.3" cy="157.0" r="1.20" fill="#2a0f20" stroke="#b0709f" stroke-width="0.48999999999999994"/>
<circle cx="320.0" cy="154.1" r="3.00" fill="#2a1206" stroke="#d8782a" stroke-width="0.9"/>
<circle cx="330.3" cy="154.1" r="2.80" fill="#0d0d0d"/>
<circle cx="336.7" cy="153.0" r="1.50" fill="#0d0d0d"/>
<circle cx="332.8" cy="159.6" r="2.00" fill="#0d0d0d"/>
<circle cx="341.9" cy="158.2" r="2.50" fill="#0d0d0d"/>
<circle cx="345.4" cy="142.3" r="1.50" fill="#0d0d0d"/>
<circle cx="313.0" cy="162.2" r="2.20" fill="#0d0d0d"/>
<circle cx="320.3" cy="167.4" r="2.20" fill="#0d0d0d"/>
<circle cx="294.7" cy="169.1" r="2.50" fill="#0d0d0d"/>
<circle cx="261.8" cy="166.9" r="2.50" fill="#4a080c" stroke="#b8202a" stroke-width="0.9"/>
<circle cx="264.1" cy="174.8" r="2.80" fill="#2a1206" stroke="#d8782a" stroke-width="0.9"/>
<circle cx="264.1" cy="183.5" r="2.20" fill="#4a080c" stroke="#b8202a" stroke-width="0.9"/>
<circle cx="267.0" cy="192.8" r="2.20" fill="#4a080c" stroke="#b8202a" stroke-width="0.9"/>
<circle cx="263.2" cy="201.1" r="2.20" fill="#4a080c" stroke="#b8202a" stroke-width="0.9"/>
<circle cx="279.1" cy="190.8" r="2.80" fill="#0d0d0d"/>
<circle cx="287.8" cy="200.3" r="2.80" fill="#2a1206" stroke="#d8782a" stroke-width="0.9"/>
<circle cx="293.5" cy="192.2" r="2.80" fill="#0d0d0d"/>
<circle cx="296.1" cy="193.9" r="1.50" fill="#0d0d0d"/>
<circle cx="299.9" cy="189.9" r="1.50" fill="#0d0d0d"/>
<circle cx="302.7" cy="182.5" r="1.20" fill="#0d0d0d"/>
<circle cx="307.3" cy="195.6" r="1.50" fill="#2a1206" stroke="#d8782a" stroke-width="0.63"/>
<circle cx="321.2" cy="188.7" r="2.00" fill="#0d0d0d"/>
<circle cx="326.9" cy="188.2" r="2.20" fill="#0d0d0d"/>
<circle cx="341.9" cy="173.1" r="3.00" fill="#2a1206" stroke="#d8782a" stroke-width="0.9"/>
<circle cx="336.7" cy="192.8" r="2.50" fill="#2a0f20" stroke="#b0709f" stroke-width="0.7"/>
<circle cx="329.8" cy="195.6" r="1.20" fill="#0d0d0d"/>
<circle cx="324.6" cy="201.1" r="2.80" fill="#0d0d0d"/>
<circle cx="332.4" cy="201.1" r="2.00" fill="#2a0f20" stroke="#b0709f" stroke-width="0.7"/>
<circle cx="334.2" cy="205.5" r="2.50" fill="#2a0f20" stroke="#b0709f" stroke-width="0.7"/>
<circle cx="339.7" cy="205.0" r="2.00" fill="#0d0d0d"/>
<circle cx="275.3" cy="207.3" r="3.00" fill="#4a080c" stroke="#b8202a" stroke-width="0.9"/>
<circle cx="274.4" cy="212.5" r="2.00" fill="#4a080c" stroke="#b8202a" stroke-width="0.9"/>
<circle cx="265.8" cy="216.0" r="2.50" fill="#4a080c" stroke="#b8202a" stroke-width="0.9"/>
<circle cx="281.9" cy="217.3" r="2.20" fill="#4a080c" stroke="#b8202a" stroke-width="0.9"/>
<circle cx="276.2" cy="228.4" r="3.00" fill="#4a080c" stroke="#b8202a" stroke-width="0.9"/>
<circle cx="287.4" cy="228.1" r="2.50" fill="#4a080c" stroke="#b8202a" stroke-width="0.9"/>
<circle cx="293.5" cy="223.2" r="2.00" fill="#4a080c" stroke="#b8202a" stroke-width="0.9"/>
<circle cx="297.5" cy="204.7" r="2.00" fill="#4a080c" stroke="#b8202a" stroke-width="0.9"/>
<circle cx="292.6" cy="212.2" r="2.20" fill="#0d0d0d"/>
<circle cx="303.3" cy="212.2" r="1.50" fill="#0d0d0d"/>
<circle cx="306.1" cy="217.3" r="2.20" fill="#2a1206" stroke="#d8782a" stroke-width="0.9"/>
<circle cx="313.0" cy="217.7" r="2.00" fill="#2a0f20" stroke="#b0709f" stroke-width="0.7"/>
<circle cx="328.1" cy="216.0" r="2.80" fill="#0d0d0d"/>
<circle cx="335.5" cy="220.3" r="1.50" fill="#0d0d0d"/>
<circle cx="326.4" cy="222.9" r="1.50" fill="#0d0d0d"/>
<circle cx="316.8" cy="226.3" r="1.50" fill="#0d0d0d"/>
<circle cx="313.0" cy="226.3" r="1.50" fill="#0d0d0d"/>
<circle cx="309.9" cy="229.8" r="2.80" fill="#0d0d0d"/>
<circle cx="311.7" cy="232.4" r="2.50" fill="#0d0d0d"/>
<circle cx="305.1" cy="234.7" r="2.50" fill="#0d0d0d"/>
<circle cx="327.6" cy="230.2" r="3.00" fill="#14164a" stroke="#2e3380" stroke-width="0.6"/>
<circle cx="339.7" cy="231.2" r="1.50" fill="#0d0d0d"/>
<circle cx="331.6" cy="241.9" r="2.00" fill="#0d0d0d"/>
<circle cx="449.3" cy="228.3" r="1.80" fill="#0d0d0d" stroke="#efe02a" stroke-width="0.77"/>
<circle cx="477.0" cy="225.7" r="2.00" fill="#14164a" stroke="#2e3380" stroke-width="0.6"/>
<circle cx="494.6" cy="226.4" r="3.00" fill="#14164a" stroke="#2e3380" stroke-width="0.6"/>
<circle cx="465.3" cy="231.6" r="3.00" fill="#14164a" stroke="#2e3380" stroke-width="0.6"/>
<circle cx="455.6" cy="234.9" r="1.80" fill="#14164a" stroke="#2e3380" stroke-width="0.42"/>
<circle cx="448.3" cy="235.6" r="1.80" fill="#0d0d0d"/>
<circle cx="420.9" cy="234.3" r="1.80" fill="#0d0d0d"/>
<circle cx="475.8" cy="235.6" r="3.00" fill="#14164a" stroke="#2e3380" stroke-width="0.6"/>
<circle cx="486.2" cy="234.3" r="2.00" fill="#14164a" stroke="#2e3380" stroke-width="0.6"/>
<circle cx="468.4" cy="245.3" r="3.00" fill="#14164a" stroke="#2e3380" stroke-width="0.6"/>
<circle cx="474.5" cy="248.4" r="1.80" fill="#0d0d0d"/>
<text x="342" y="258.2" font-size="6.37" fill="#333" stroke="#333" stroke-width="0.18" font-weight="normal" font-style="normal" text-anchor="start" >Go Biological Processes</text>
<circle cx="303.8" cy="273.7" r="4.7" fill="none" stroke="#2b2f7c" stroke-width="1.9"/>
<text x="313.3" y="271.2" font-size="6.3" fill="#333" stroke="#333" stroke-width="0.18" font-weight="normal" font-style="normal" text-anchor="start" >Translation</text>
<text x="313.3" y="279.2" font-size="6.3" fill="#333" stroke="#333" stroke-width="0.18"><tspan font-style="italic">P</tspan>-val: 2.22e-28</text>
<circle cx="303.8" cy="294.4" r="4.7" fill="none" stroke="#3aa5d6" stroke-width="1.9"/>
<text x="313.3" y="292.3" font-size="6.3" fill="#333" stroke="#333" stroke-width="0.18" font-weight="normal" font-style="normal" text-anchor="start" >Protein Folding</text>
<text x="313.3" y="300.3" font-size="6.3" fill="#333" stroke="#333" stroke-width="0.18"><tspan font-style="italic">P</tspan>-val: 4.76e-15</text>
<circle cx="303.8" cy="316.5" r="4.7" fill="none" stroke="#f2e422" stroke-width="1.9"/>
<text x="313.3" y="313.8" font-size="6.3" fill="#333" stroke="#333" stroke-width="0.18" font-weight="normal" font-style="normal" text-anchor="start" >Ribosome biogenesis</text>
<text x="313.3" y="321.8" font-size="6.3" fill="#333" stroke="#333" stroke-width="0.18"><tspan font-style="italic">P</tspan>-val: 5.31e-11</text>
<circle cx="396.5" cy="273.5" r="4.7" fill="none" stroke="#e07020" stroke-width="1.9"/>
<text x="406.6" y="271.2" font-size="6.3" fill="#333" stroke="#333" stroke-width="0.18" font-weight="normal" font-style="normal" text-anchor="start" >Energy derivation by oxidation</text>
<text x="406.6" y="279.2" font-size="6.3" fill="#333" stroke="#333" stroke-width="0.18"><tspan font-style="italic">P</tspan>-val: 4.12e-15</text>
<circle cx="396.5" cy="294.2" r="4.7" fill="none" stroke="#c78ac0" stroke-width="1.9"/>
<text x="406.6" y="292.4" font-size="6.3" fill="#333" stroke="#333" stroke-width="0.18" font-weight="normal" font-style="normal" text-anchor="start" >Intracellular transport</text>
<text x="406.6" y="300.4" font-size="6.3" fill="#333" stroke="#333" stroke-width="0.18"><tspan font-style="italic">P</tspan>-val: 1.06e-8</text>
<circle cx="396.5" cy="315.5" r="4.7" fill="none" stroke="#c81424" stroke-width="1.9"/>
<text x="406.6" y="313.8" font-size="6.3" fill="#333" stroke="#333" stroke-width="0.18" font-weight="normal" font-style="normal" text-anchor="start" >Cellular Respiration</text>
<text x="406.6" y="321.8" font-size="6.3" fill="#333" stroke="#333" stroke-width="0.18"><tspan font-style="italic">P</tspan>-val: 6.69e-15</text>
<circle cx="347.5" cy="337.7" r="4.7" fill="none" stroke="#86bd6a" stroke-width="1.9"/>
<text x="357.3" y="334.9" font-size="6.3" fill="#333" stroke="#333" stroke-width="0.18" font-weight="normal" font-style="normal" text-anchor="start" >Mitochondrial Targeting</text>
<text x="357.3" y="342.9" font-size="6.3" fill="#333" stroke="#333" stroke-width="0.18"><tspan font-style="italic">P</tspan>-val: 2.5e-8</text>
<rect x="0.5" y="0.5" width="519" height="612" fill="none" stroke="#4d4d4d" stroke-width="1"/>
</svg></body></html>
